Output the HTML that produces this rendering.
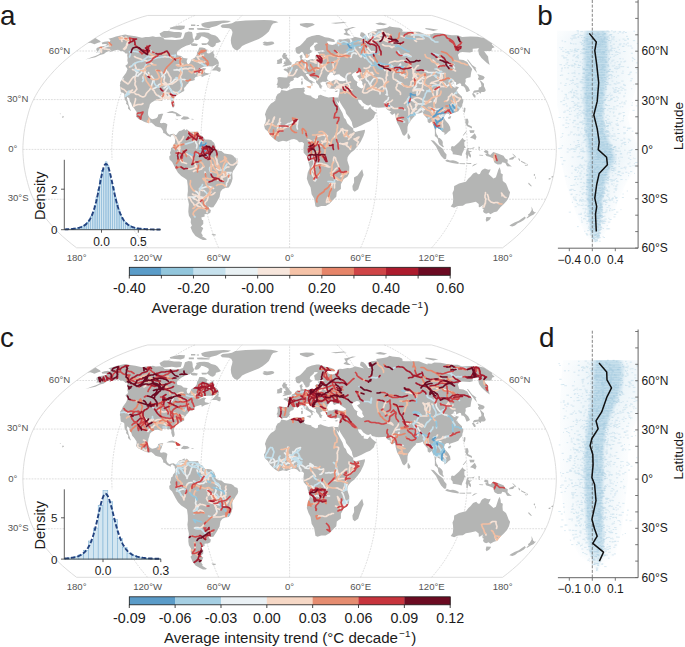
<!DOCTYPE html>
<html><head><meta charset="utf-8"><style>
    body{margin:0;background:#fff;}
    svg{display:block;font-family:"Liberation Sans",sans-serif;}
    .ml{font-size:9.6px;fill:#555;}
    .let{font-size:27.8px;fill:#1c1a1a;}
    .cb{font-size:14.3px;fill:#1a1a1a;}
    .cbl{font-size:15.1px;fill:#1a1a1a;}
    .ih{font-size:12px;fill:#1a1a1a;}
    .ihl{font-size:14.5px;fill:#1a1a1a;}
    .sp{font-size:12px;fill:#1a1a1a;}
    .lat{font-size:13.5px;fill:#1a1a1a;}
    .iy{font-size:11.6px;fill:#1a1a1a;}
    </style></head>
<body><svg width="685" height="647" viewBox="0 0 685 647">
<defs><g id="land"><path d="M101.5 42.7L104.5 41.8L108.1 41.2L109.6 41.9L110.4 40.6L110.0 39.8L108.4 38.8L112.4 37.8L116.0 36.4L120.4 35.6L125.2 34.6L128.4 35.2L131.9 35.7L135.4 36.3L138.7 37.0L142.0 37.8L145.7 37.0L148.9 37.0L152.9 36.3L155.7 37.1L159.4 36.7L163.0 37.5L164.6 39.5L170.0 39.8L175.0 39.9L180.0 39.6L183.0 38.5L184.0 36.0L185.0 32.7L188.5 31.5L192.0 32.1L192.6 34.4L192.8 37.5L194.0 39.7L193.6 41.7L189.7 44.7L186.1 45.7L181.6 48.0L177.8 51.0L176.8 53.0L177.3 55.3L181.2 55.9L183.6 57.9L187.7 58.4L186.6 61.1L187.1 63.2L188.5 64.3L190.1 62.7L191.4 59.5L195.0 57.5L196.8 54.8L197.0 52.5L198.3 50.2L199.3 47.5L202.2 47.5L205.3 48.3L205.8 49.5L207.5 49.5L206.6 52.5L207.4 53.3L209.1 53.4L211.6 52.1L213.5 50.5L213.4 53.3L214.5 54.8L214.1 57.2L216.6 58.7L217.9 60.3L218.9 62.7L218.9 63.8L216.4 64.4L212.5 66.4L208.7 66.2L204.1 66.5L201.0 68.0L197.4 70.7L199.8 69.6L203.6 68.0L206.3 68.4L204.9 69.9L204.6 71.5L205.2 72.8L209.0 73.5L210.4 73.1L207.9 74.8L205.0 75.6L201.8 77.2L201.4 75.6L200.4 75.4L197.4 76.4L195.6 77.1L194.4 78.5L194.9 80.0L192.7 80.7L189.7 81.3L188.8 82.2L188.0 83.8L186.6 84.8L186.2 85.8L184.6 87.6L184.0 88.1L184.2 89.3L184.2 90.9L182.6 91.8L180.5 92.9L178.5 94.1L175.9 95.9L174.3 97.9L173.8 100.4L174.4 102.9L174.7 105.4L173.7 107.5L172.6 107.4L172.0 105.7L171.2 103.2L171.4 101.2L170.4 99.6L168.1 100.1L166.7 98.9L163.9 98.9L162.3 99.4L162.3 101.1L160.5 101.1L157.8 100.2L154.9 100.4L151.6 102.6L149.9 104.2L149.3 107.0L148.4 109.5L148.0 112.9L148.2 115.3L149.4 117.5L151.0 118.7L152.4 119.2L155.4 118.5L156.9 117.8L157.8 116.5L158.2 114.5L161.1 113.7L163.3 113.7L162.2 116.2L161.5 118.7L160.5 120.3L159.9 122.8L161.4 123.2L163.6 122.8L165.8 123.2L167.4 124.5L166.8 127.8L166.4 130.6L167.2 132.8L169.3 134.8L171.5 134.0L173.7 133.8L175.4 135.1L175.9 135.8L174.6 136.9L173.6 136.1L172.2 134.8L170.7 136.1L170.9 137.3L169.2 136.6L167.0 135.6L164.9 133.5L163.2 133.0L163.1 131.1L161.6 128.6L160.6 127.5L158.0 127.0L155.5 126.3L153.2 124.0L151.2 122.5L148.9 123.3L146.1 122.5L143.6 121.5L141.3 120.2L138.5 119.0L136.0 116.5L136.7 113.7L136.5 111.7L135.6 110.4L133.9 107.9L132.2 106.2L131.2 103.2L129.8 101.2L129.4 98.6L127.3 96.7L126.8 99.2L128.0 101.6L128.5 104.2L129.4 106.5L130.3 109.2L131.1 110.9L130.1 110.4L128.0 108.4L128.3 105.9L126.0 103.6L126.5 102.1L125.1 100.1L124.5 97.9L124.4 95.4L124.3 93.9L123.4 92.9L120.8 91.9L120.4 88.8L120.4 87.0L119.8 85.5L120.3 83.3L120.1 82.2L121.8 79.7L122.8 77.2L126.1 72.8L127.5 69.3L126.9 68.0L125.7 66.5L125.5 65.4L127.4 64.3L128.0 62.7L127.4 61.1L127.4 59.5L127.6 57.9L127.2 55.6L127.5 53.6L125.5 53.6L124.5 52.2L123.0 51.3L120.4 51.0L118.1 49.8L115.3 50.2L112.3 51.3L109.0 52.2L111.2 50.2L113.5 49.2L109.5 50.7L106.0 52.2L103.9 54.1L100.0 55.1L95.4 57.2L91.8 57.9L88.5 58.7L85.1 59.4L88.2 58.4L91.4 57.2L95.2 55.9L98.1 54.7L100.6 53.3L99.0 53.1L96.1 53.0L97.5 51.3L96.4 50.2L96.3 49.2L96.7 48.1L99.2 47.1L101.8 46.2L105.5 45.7L107.2 44.4L105.3 44.1L102.3 44.3L102.1 43.5ZM212.1 70.5L216.4 70.5L219.3 72.0L220.7 70.7L220.5 67.8L218.1 67.0L219.0 64.3L217.0 64.6L213.8 68.3L212.4 69.4ZM166.4 113.0L169.4 111.4L172.3 111.0L176.5 112.4L179.6 114.4L181.6 115.8L179.7 116.3L176.5 116.3L175.6 113.7L172.1 113.0L169.2 112.9ZM180.9 118.8L183.6 116.3L187.7 116.7L189.8 118.5L187.4 119.2L184.8 119.8L181.5 119.3ZM175.3 118.8L178.2 119.2L177.9 119.7L175.7 119.3ZM191.5 118.7L193.8 119.0L193.5 119.5L191.5 119.5ZM175.3 134.9L176.2 135.1L178.3 132.0L179.4 131.0L181.6 130.6L183.3 129.5L184.7 128.8L184.8 131.1L184.0 132.0L185.0 130.3L186.2 130.1L186.6 129.1L188.0 130.3L189.3 131.8L192.3 131.8L195.2 131.8L198.2 131.6L198.4 132.8L199.8 135.1L202.4 136.1L203.8 138.1L205.3 139.4L208.2 139.6L211.2 140.1L212.6 141.4L214.1 142.8L215.5 146.4L215.5 148.6L217.0 149.7L218.5 150.7L221.4 151.1L224.4 153.6L227.4 154.1L231.1 154.4L233.3 155.7L234.8 157.5L237.5 158.5L238.2 161.9L237.6 164.3L235.8 166.8L234.4 169.3L233.0 171.0L232.3 173.5L232.6 178.5L231.8 181.8L230.4 185.1L228.8 187.6L225.2 188.1L222.4 189.3L220.5 191.8L219.9 195.1L219.6 197.1L217.9 200.1L216.2 202.9L214.5 205.4L213.4 207.2L210.9 207.4L208.3 206.2L209.6 209.2L210.9 210.0L210.3 212.7L208.5 213.8L204.5 214.2L204.7 216.6L201.3 217.5L202.0 219.9L203.2 220.3L203.3 224.0L200.8 226.5L203.3 228.1L202.2 230.5L201.2 232.9L203.0 235.8L201.8 236.1L203.4 236.9L207.0 239.3L205.5 240.1L203.0 240.1L199.8 238.5L195.5 236.1L192.5 232.1L190.5 227.3L191.9 225.7L190.7 222.4L191.0 219.1L188.9 215.8L188.3 211.7L188.5 208.4L188.9 204.2L187.9 199.2L187.4 195.1L187.9 190.9L187.8 185.9L187.0 180.1L185.1 178.5L181.2 176.0L178.0 172.7L175.9 169.3L173.8 165.2L172.1 161.9L169.5 159.4L169.2 156.5L170.7 155.0L169.9 152.7L170.8 150.7L171.1 148.1L172.6 146.9L173.0 145.2L174.9 143.1L175.1 139.4L174.6 137.4L175.3 136.1ZM211.4 234.1L215.7 234.2L215.6 235.6L213.0 235.6ZM281.4 89.9L286.8 91.1L289.6 89.8L293.8 88.3L297.9 87.9L301.4 88.1L303.7 87.6L304.9 88.3L304.2 89.6L305.0 90.9L303.6 92.4L305.1 94.3L307.2 94.9L311.1 95.7L311.8 97.1L315.9 98.9L318.0 97.9L318.0 95.7L320.6 94.8L322.8 95.7L325.0 96.6L328.6 97.4L332.1 97.1L334.9 97.6L338.0 97.4L339.3 100.4L338.6 103.2L336.0 99.7L337.6 103.7L340.1 108.7L342.5 112.9L344.0 117.8L345.8 119.5L347.2 123.2L349.8 125.8L353.3 128.5L353.2 130.3L355.2 132.1L358.9 131.0L365.0 129.8L364.8 132.1L363.5 136.1L360.6 141.9L357.7 146.1L354.1 150.2L351.1 152.4L348.8 155.2L347.6 157.2L347.3 160.2L348.0 162.7L349.3 166.8L349.1 173.5L347.4 176.8L343.7 179.0L340.9 184.3L340.9 188.9L336.8 192.1L336.3 196.7L333.7 199.2L329.5 203.7L325.6 205.9L321.2 205.9L317.6 207.2L315.4 206.2L315.0 203.4L314.1 198.4L311.6 194.2L310.6 187.6L308.5 183.5L306.8 178.5L307.7 172.7L309.8 167.7L308.8 163.5L307.6 159.4L307.1 156.5L303.7 152.7L303.4 148.6L304.0 143.6L302.2 141.9L299.2 142.3L297.0 139.9L294.0 138.9L291.1 139.4L286.6 141.4L282.9 140.8L278.5 142.1L275.5 140.3L272.6 137.8L270.1 135.3L267.9 131.6L265.0 129.0L263.9 125.0L265.4 122.8L266.1 118.7L265.6 116.2L264.9 114.5L266.5 109.9L268.7 106.2L271.0 103.4L273.9 101.7L275.6 99.9L275.9 97.1L277.6 94.1L280.1 92.8ZM362.2 169.3L363.6 175.1L362.0 178.5L360.1 183.5L358.2 189.3L354.7 191.8L352.8 190.1L352.4 185.9L354.1 182.6L354.0 177.6L357.5 175.6L360.2 171.8ZM281.8 89.6L280.9 88.3L279.4 87.6L277.3 87.9L277.5 85.1L276.5 85.0L277.5 82.7L277.8 80.0L277.1 78.1L278.9 76.9L282.2 77.2L284.9 77.4L287.2 77.4L287.9 75.6L288.0 73.1L286.7 71.4L283.7 70.1L283.8 68.9L285.7 68.6L287.5 68.9L287.2 67.2L289.3 67.6L291.5 66.5L291.9 65.1L293.4 64.6L294.9 63.5L295.6 61.9L297.1 61.1L298.6 61.3L300.2 60.9L300.6 60.3L300.2 57.9L299.5 56.4L300.1 55.5L302.3 54.5L302.2 56.4L302.9 56.7L301.7 58.7L303.2 59.7L305.1 59.5L307.3 60.5L310.1 59.5L312.5 59.0L314.0 59.7L315.8 58.4L315.2 55.9L316.8 54.5L319.1 55.3L318.7 53.4L317.5 52.2L320.2 51.6L322.9 51.8L324.9 51.2L323.2 50.2L320.8 50.4L316.8 51.2L314.8 50.1L314.6 48.3L314.0 46.2L316.2 44.3L318.0 43.2L316.6 42.4L314.2 42.8L313.6 44.3L311.9 45.7L310.2 47.2L309.8 49.5L311.8 50.7L311.7 52.2L309.8 53.3L309.7 55.6L309.0 57.0L307.1 58.1L305.4 57.8L305.4 56.4L304.0 54.7L303.0 52.5L301.8 51.8L300.9 52.5L299.2 53.9L297.0 53.4L296.2 52.5L295.7 50.7L295.4 48.7L296.0 47.4L298.2 46.5L299.9 45.7L301.5 44.3L303.0 42.8L304.0 41.4L305.5 39.9L306.4 38.5L307.9 37.5L309.9 36.7L311.9 36.1L314.4 35.6L316.7 34.9L319.1 35.0L322.0 36.1L325.0 37.2L328.9 37.8L333.9 39.6L335.2 41.4L333.6 41.9L328.3 41.2L326.8 41.7L328.6 44.3L332.3 45.0L334.9 44.3L337.5 42.1L337.8 39.9L339.7 39.2L342.6 39.6L347.6 38.5L349.8 38.7L352.7 37.9L354.8 36.8L359.1 37.8L364.1 38.9L360.0 35.7L360.2 34.4L360.9 32.3L363.1 32.6L365.4 34.4L368.2 38.5L370.3 38.5L368.0 35.0L367.8 33.3L369.1 33.0L371.6 31.7L377.1 31.0L376.1 29.4L383.0 28.4L387.1 27.8L389.6 26.3L392.2 27.1L399.3 27.8L402.0 29.1L402.9 31.0L401.5 31.5L405.3 31.7L410.3 31.7L416.0 31.7L419.0 31.7L423.3 33.4L427.4 35.0L427.6 33.9L431.6 34.2L434.2 33.0L440.7 33.3L446.5 34.4L451.8 35.2L457.8 35.3L462.1 37.1L465.9 36.8L470.6 36.4L477.5 36.7L483.8 37.9L492.3 43.5L491.8 44.4L494.6 47.2L492.0 48.3L491.4 51.0L486.1 51.0L484.1 51.3L486.5 54.4L488.1 56.4L488.4 59.5L488.9 61.9L489.7 65.1L486.6 62.7L481.5 57.9L479.0 54.4L478.1 50.2L478.8 48.0L476.5 48.4L472.7 48.7L472.7 51.8L469.8 52.4L462.3 52.1L459.8 52.5L457.9 54.8L459.2 59.5L463.4 60.0L467.3 61.9L469.0 65.1L472.2 69.1L471.2 72.3L470.5 77.2L467.0 78.1L465.5 78.9L465.8 81.3L464.9 83.8L468.3 87.1L470.0 90.4L467.3 91.9L466.4 92.1L465.0 87.9L463.4 86.3L461.4 86.0L461.0 83.8L459.5 83.2L457.1 84.6L456.1 85.0L456.1 82.2L454.2 81.7L452.8 84.3L451.5 84.5L451.3 85.3L453.9 87.3L455.1 87.8L456.3 86.6L459.0 87.3L457.2 89.6L456.3 91.3L459.1 94.1L462.0 96.7L462.0 98.2L463.3 99.9L463.2 102.1L462.4 104.2L461.7 107.0L459.9 108.7L458.3 111.2L455.2 112.4L452.1 113.4L450.1 114.2L449.9 115.7L448.9 113.7L446.8 113.5L444.7 115.0L443.9 117.8L445.3 120.3L448.4 123.7L450.1 127.0L450.5 130.3L448.1 132.0L446.8 133.6L444.4 135.1L444.5 132.8L442.2 131.8L440.5 129.5L437.9 128.3L436.6 127.0L435.8 131.1L436.5 134.1L437.8 135.8L438.2 137.8L439.7 138.1L442.0 140.3L442.8 141.9L442.7 144.7L444.0 147.1L443.0 147.2L439.6 144.7L438.2 141.9L438.0 139.4L437.0 137.8L434.8 136.1L434.9 132.8L434.7 128.6L432.8 123.7L431.8 121.5L429.4 123.2L427.7 122.0L427.5 118.7L425.8 117.0L423.7 114.5L422.6 112.0L420.9 112.9L418.8 113.4L415.9 113.7L415.8 115.3L413.5 117.2L410.9 120.3L410.1 121.8L408.4 123.7L407.5 127.0L407.4 132.0L406.2 134.0L404.1 136.1L402.5 134.5L400.8 130.3L399.0 126.1L397.1 122.8L395.7 117.8L395.2 114.5L394.8 113.2L392.1 114.9L389.6 112.4L391.4 111.4L388.7 110.4L387.0 109.5L385.7 107.2L382.6 107.5L378.3 107.7L375.3 107.2L372.1 106.5L370.7 104.6L368.3 105.4L366.4 104.9L363.3 103.1L361.1 99.9L358.6 99.6L358.0 100.4L359.0 102.9L361.0 105.1L361.9 106.5L363.7 106.2L363.7 108.9L365.4 109.2L367.6 109.4L370.2 106.5L370.8 108.2L372.7 109.9L375.1 112.0L376.3 112.5L374.7 115.3L373.9 117.8L372.1 119.5L370.1 121.2L366.2 122.8L361.5 125.3L356.5 127.6L353.6 128.3L352.4 125.3L351.8 122.0L349.4 117.8L346.2 113.7L345.3 110.4L342.9 107.0L340.4 102.9L339.3 100.4L338.2 97.4L338.8 95.4L339.4 92.9L339.7 90.4L339.5 88.4L337.4 88.3L335.5 89.4L334.0 88.8L331.9 88.8L329.8 88.6L327.7 87.6L326.7 85.5L325.9 83.8L325.5 82.8L327.1 82.3L329.0 81.5L329.2 81.0L332.1 81.0L334.9 79.7L337.2 79.7L339.8 81.0L343.3 81.3L345.8 80.5L345.8 78.9L343.2 77.4L340.2 75.6L339.3 74.3L336.7 74.4L334.2 75.6L332.7 74.1L334.0 73.1L331.0 72.2L329.8 72.7L329.0 74.3L327.8 75.6L327.0 78.1L327.6 80.0L329.0 81.0L327.0 81.3L325.3 82.0L324.3 81.7L322.2 81.7L321.0 82.7L320.4 82.2L320.5 83.8L321.5 85.6L322.7 86.0L321.6 86.8L321.5 88.8L320.1 88.3L319.5 87.6L318.9 85.8L318.0 84.6L317.0 83.5L316.0 82.3L316.0 80.0L314.5 78.9L312.4 77.7L310.3 76.4L308.8 74.4L307.7 74.0L306.2 74.1L305.8 75.1L307.7 77.1L309.2 79.5L311.3 80.5L314.8 82.7L314.6 83.3L312.8 82.2L312.2 83.5L313.1 84.6L312.4 85.6L311.3 86.3L311.2 83.8L310.1 82.7L308.6 81.7L306.5 80.5L304.4 78.9L303.2 76.6L301.3 75.8L299.6 76.7L297.7 77.9L295.6 77.4L293.6 77.9L293.9 79.7L292.3 81.0L290.8 81.3L289.2 83.8L289.9 85.1L288.6 87.0L286.8 88.4L283.4 88.4ZM95.4 37.9L97.7 39.6L99.9 40.8L100.8 41.9L98.1 42.8L94.4 44.3L92.6 43.5L90.3 42.8L87.4 43.2ZM282.3 66.7L285.1 66.2L288.3 65.5L291.4 64.7L291.7 62.4L290.0 61.3L289.2 59.5L287.6 57.8L286.5 56.7L287.4 54.7L285.4 54.5L285.9 53.1L283.6 53.1L282.7 54.8L282.0 56.1L282.8 57.9L283.7 59.0L285.6 58.9L285.2 60.0L285.8 61.4L283.8 61.4L284.3 63.0L283.0 63.8L285.5 64.4L283.9 64.9ZM282.0 63.2L281.9 60.5L282.6 59.4L281.9 58.4L280.6 58.3L279.0 59.5L277.1 60.0L277.2 61.4L277.2 63.0L276.5 63.8L278.8 64.1L281.5 63.2ZM264.0 45.2L266.7 45.7L270.2 45.3L273.2 44.3L274.4 43.2L273.2 41.7L271.3 41.4L267.3 41.9L264.6 41.5L262.5 42.8L264.8 43.5L262.5 43.8ZM300.0 25.3L304.1 27.1L307.2 27.8L310.7 26.5L314.9 24.7L312.5 23.2L306.0 23.0L299.8 23.8ZM344.0 34.4L347.7 35.4L350.9 35.6L347.4 33.0L347.3 31.0L350.0 29.1L354.0 27.8L356.0 27.3L352.5 27.1L347.6 28.4L344.1 29.1L346.0 32.3L343.6 33.7ZM330.7 23.0L343.5 21.9L346.9 22.8L335.7 23.7ZM378.5 24.7L384.0 25.3L387.1 24.1L380.1 22.5L375.2 23.6ZM425.3 29.1L433.3 31.0L438.3 29.7L430.1 28.4L425.6 28.0ZM477.0 34.8L477.8 34.4L479.2 35.2ZM477.1 73.1L475.4 68.3L476.7 68.3L472.2 65.1L467.9 59.5L467.0 59.8L470.3 64.3L474.5 69.9ZM479.3 80.5L480.8 80.0L483.1 79.7L484.8 77.6L483.4 76.1L477.4 74.0L479.1 77.6L477.9 77.7L478.3 79.4ZM480.7 80.5L482.4 82.2L484.0 83.8L484.0 86.3L485.0 88.3L485.8 90.3L485.0 91.4L483.8 91.9L481.3 91.9L480.7 93.8L478.6 92.1L475.9 92.4L473.3 92.9L473.0 92.1L474.3 90.4L478.4 90.1L478.9 87.5L481.0 87.1L481.5 85.5L480.8 83.0L479.9 81.0ZM472.0 93.8L473.4 93.1L475.5 95.4L475.5 97.4L474.1 97.6L472.6 95.1ZM475.9 94.1L478.1 92.6L478.6 93.8L477.1 94.6ZM463.5 111.2L464.0 107.5L465.5 107.9L465.3 110.4L464.8 112.9ZM448.0 117.5L450.4 116.0L451.3 116.8L450.1 118.8L448.2 118.7ZM407.5 136.1L407.9 133.1L410.0 136.1L410.5 137.8L408.7 139.6L407.6 138.1ZM465.4 122.8L465.4 118.7L467.9 118.7L468.6 122.0L467.9 124.5L471.8 126.5L472.1 128.6L468.9 127.0L466.8 126.1ZM470.0 137.8L472.7 135.3L474.8 133.3L476.6 136.9L475.3 139.9L473.0 138.6ZM469.3 130.3L474.5 130.3L474.0 132.8L470.3 133.1ZM462.7 135.6L465.8 131.5L466.3 132.3L463.5 135.6ZM451.1 146.9L452.0 146.1L454.0 146.6L456.9 144.1L459.1 141.9L460.5 140.3L462.6 137.8L463.7 139.4L466.0 140.8L464.3 141.9L464.4 145.6L465.9 147.7L464.2 148.1L463.7 150.6L462.2 153.6L461.6 156.0L459.1 155.2L454.7 154.4L452.8 154.2L452.6 151.9L451.1 150.2ZM430.6 140.1L433.9 140.8L438.2 145.2L443.0 149.1L444.4 151.9L446.6 154.4L446.1 159.0L444.2 159.2L441.1 156.0L438.2 151.1L436.0 146.6L433.5 143.6ZM445.1 160.7L447.1 159.4L450.0 160.5L453.0 160.2L455.9 160.9L458.8 162.4L458.5 163.9L452.1 162.9L447.0 161.7ZM459.5 163.2L465.2 163.2L465.1 164.2L459.4 164.0ZM466.6 163.2L471.3 163.0L471.2 163.9L466.5 164.0ZM471.7 166.5L474.1 164.3L477.5 163.4L476.4 164.2L473.3 166.0ZM466.4 158.5L466.4 155.2L465.6 153.9L466.7 149.4L467.9 148.1L471.9 147.9L474.8 146.9L473.4 148.7L468.9 148.6L468.2 150.2L469.6 151.1L472.3 150.9L469.6 152.4L471.0 155.2L470.9 157.7L468.7 156.0L468.1 154.1L467.7 158.7ZM483.7 151.4L485.9 150.1L488.2 150.9L488.4 154.1L490.3 155.0L493.3 152.1L498.4 153.7L503.5 155.7L505.3 158.4L507.8 159.7L507.5 162.7L510.2 165.3L512.0 166.5L507.1 166.3L505.3 163.0L502.4 162.2L501.2 164.3L497.7 164.5L494.9 163.0L494.0 161.7L493.5 158.4L489.4 156.7L486.5 156.0L485.1 154.1L487.4 153.2L485.1 152.7ZM509.3 158.5L513.9 156.5L514.9 156.9L513.0 159.4L509.2 159.7ZM479.2 154.7L483.3 154.9L482.8 155.7L479.4 155.4ZM478.5 146.4L480.0 146.9L479.3 149.4L480.5 150.7L478.8 150.2L478.5 147.7ZM454.2 185.9L455.3 185.6L459.0 183.6L462.8 182.6L465.9 181.8L468.4 178.5L470.4 176.8L473.1 173.5L476.2 172.3L478.1 174.3L479.9 174.1L481.1 171.3L482.4 169.7L484.9 168.5L488.3 169.7L490.6 169.3L490.0 171.3L488.5 174.0L491.0 176.3L493.5 178.5L495.9 177.3L497.7 171.8L498.3 169.7L499.7 167.2L500.7 170.7L500.8 173.2L502.8 174.3L502.5 177.3L502.8 181.0L506.0 183.5L507.3 186.6L508.6 190.1L510.1 192.3L509.0 196.7L506.6 200.9L503.6 204.2L500.4 207.2L497.0 211.5L493.9 212.2L490.4 214.2L488.7 212.8L486.1 213.8L484.0 212.7L483.0 211.2L483.8 208.9L482.2 208.5L483.7 206.2L481.6 207.7L483.4 204.7L479.8 207.2L478.8 206.9L478.7 203.9L475.8 201.7L470.4 202.9L465.8 203.7L462.9 205.7L457.9 205.9L454.1 207.7L450.7 206.4L452.8 203.4L453.2 199.2L453.0 195.9L452.5 193.1L453.9 190.1ZM486.4 217.0L491.2 217.3L489.4 219.9L486.5 221.7L485.7 219.9ZM531.5 206.5L532.6 208.9L533.1 210.9L534.6 212.2L536.1 212.0L533.4 214.7L531.1 215.8L526.9 218.4L526.6 217.8L528.7 215.8L527.8 214.7L529.8 213.3L531.7 210.0ZM524.9 216.6L525.8 218.1L523.9 219.9L520.6 222.1L517.7 223.2L515.0 225.5L512.3 226.6L509.4 225.7L510.9 224.4L514.5 222.4L518.8 220.7L521.9 218.6ZM306.7 86.6L311.1 85.8L310.5 88.4L306.9 87.0ZM301.0 81.5L302.9 81.2L302.8 84.3L301.3 84.8ZM301.2 79.0L302.2 78.1L302.4 79.7L302.1 80.7ZM322.4 90.8L326.3 90.8L325.9 91.3L323.1 91.1ZM334.7 91.3L337.7 90.3L337.2 91.9L335.1 91.8ZM518.4 158.0L519.5 158.7L520.3 160.4L519.6 160.9L518.6 159.7ZM521.1 160.7L525.7 163.0L525.3 163.9L521.0 161.7ZM525.0 164.7L527.0 165.3L526.5 166.0L524.8 165.5ZM526.8 163.2L528.1 165.2L527.6 165.8L526.5 163.9ZM512.5 153.4L515.2 155.7L516.3 157.4L515.6 157.5L512.6 154.2ZM534.0 173.8L535.1 174.6L534.7 176.0L533.7 175.6ZM535.4 176.3L536.0 178.6L535.4 179.1L535.1 177.0ZM528.3 182.8L529.1 183.0L531.8 185.9L531.1 186.6L528.4 183.9ZM548.8 178.3L550.7 178.1L550.2 179.6L548.5 179.5ZM551.4 176.5L553.3 176.1L552.9 177.5L551.5 177.5ZM62.1 118.0L64.1 117.0L62.9 115.7L62.3 116.7ZM59.7 114.0L60.7 114.2L60.7 113.4L60.0 113.5ZM159.5 33.5L163.9 31.0L169.0 31.0L174.1 32.0L179.2 32.0L182.1 32.8L181.4 35.7L180.7 37.5L176.3 38.1L171.9 37.2L164.6 37.9L160.9 36.4ZM169.7 27.7L174.1 26.6L179.2 25.5L185.0 25.8L184.3 28.8L180.7 29.9L175.5 29.5L170.4 29.1ZM191.0 24.6L195.3 24.6L195.3 26.0L191.0 26.0ZM196.8 24.9L199.0 24.9L199.0 26.0L196.8 26.0ZM188.8 27.9L193.9 27.9L193.9 29.7L188.8 29.7ZM196.8 28.2L201.9 27.9L209.9 29.0L209.2 30.0L201.9 30.0L197.5 29.7ZM201.2 23.7L204.8 22.5L210.7 21.6L216.5 21.0L223.8 20.6L231.0 20.9L228.0 22.5L222.0 23.3L219.4 24.5L216.5 26.0L211.4 27.3L209.2 28.2L204.8 27.5L201.9 26.0ZM196.1 33.5L199.6 32.4L204.3 32.2L208.4 32.7L211.3 34.4L215.4 35.6L217.7 37.3L219.5 39.7L220.9 41.4L218.9 42.6L216.0 43.2L215.4 45.5L213.0 47.3L210.7 46.7L208.4 44.9L206.6 43.8L208.9 40.8L208.4 39.1L206.6 37.9L203.7 36.8L201.4 36.2L200.2 37.9L198.4 39.7L196.1 40.3L194.3 39.7L195.5 36.8L196.7 35.0ZM190.8 43.5L194.0 43.2L197.8 44.0L197.0 46.0L193.0 46.1L191.0 45.2ZM201.4 43.2L207.2 42.9L206.5 44.9L202.0 44.9ZM235.3 21.5L245.6 20.5L254.4 20.2L264.0 20.1L271.0 20.3L276.0 21.2L278.4 22.3L273.1 23.6L271.4 25.8L270.5 28.0L268.8 31.5L266.1 34.1L262.6 36.8L258.8 39.0L254.4 40.7L250.0 42.5L245.6 44.2L242.1 46.0L240.0 48.6L237.3 50.6L234.7 49.5L232.5 47.3L231.2 43.8L230.8 40.3L231.2 37.2L232.1 34.6L232.5 32.0L231.2 29.3L229.0 28.3L222.0 27.8L220.5 26.0L222.5 24.5L228.0 24.0L232.0 23.2Z" fill="#b4b5b4"/><path d="M351.7 75.3L352.5 73.8L354.4 72.5L356.8 71.5L359.3 72.0L360.0 74.3L357.9 75.6L357.0 75.9L359.7 78.9L361.1 80.5L362.4 82.0L362.2 84.1L364.1 87.3L361.7 88.4L359.0 87.3L357.0 85.6L357.0 82.7L358.0 82.2L356.1 81.0L354.5 79.7L353.4 78.1L352.6 76.1Z" fill="#fff"/></g><clipPath id="clipb"><rect x="557" y="0" width="81" height="647"/></clipPath><linearGradient id="go"><stop offset="0" stop-color="#e6f1f7" stop-opacity="0.15"/><stop offset="0.5" stop-color="#d4e7f1" stop-opacity="0.75"/><stop offset="1" stop-color="#e6f1f7" stop-opacity="0.15"/></linearGradient><linearGradient id="gc"><stop offset="0" stop-color="#b3d4e6" stop-opacity="0"/><stop offset="0.18" stop-color="#b0d2e4" stop-opacity="0.85"/><stop offset="0.82" stop-color="#b0d2e4" stop-opacity="0.85"/><stop offset="1" stop-color="#b3d4e6" stop-opacity="0"/></linearGradient></defs>
<defs><clipPath id="clipa"><path d="M101.5 42.7L104.5 41.8L108.1 41.2L109.6 41.9L110.4 40.6L110.0 39.8L108.4 38.8L112.4 37.8L116.0 36.4L120.4 35.6L125.2 34.6L128.4 35.2L131.9 35.7L135.4 36.3L138.7 37.0L142.0 37.8L145.7 37.0L148.9 37.0L152.9 36.3L155.7 37.1L159.4 36.7L163.0 37.5L164.6 39.5L170.0 39.8L175.0 39.9L180.0 39.6L183.0 38.5L184.0 36.0L185.0 32.7L188.5 31.5L192.0 32.1L192.6 34.4L192.8 37.5L194.0 39.7L193.6 41.7L189.7 44.7L186.1 45.7L181.6 48.0L177.8 51.0L176.8 53.0L177.3 55.3L181.2 55.9L183.6 57.9L187.7 58.4L186.6 61.1L187.1 63.2L188.5 64.3L190.1 62.7L191.4 59.5L195.0 57.5L196.8 54.8L197.0 52.5L198.3 50.2L199.3 47.5L202.2 47.5L205.3 48.3L205.8 49.5L207.5 49.5L206.6 52.5L207.4 53.3L209.1 53.4L211.6 52.1L213.5 50.5L213.4 53.3L214.5 54.8L214.1 57.2L216.6 58.7L217.9 60.3L218.9 62.7L218.9 63.8L216.4 64.4L212.5 66.4L208.7 66.2L204.1 66.5L201.0 68.0L197.4 70.7L199.8 69.6L203.6 68.0L206.3 68.4L204.9 69.9L204.6 71.5L205.2 72.8L209.0 73.5L210.4 73.1L207.9 74.8L205.0 75.6L201.8 77.2L201.4 75.6L200.4 75.4L197.4 76.4L195.6 77.1L194.4 78.5L194.9 80.0L192.7 80.7L189.7 81.3L188.8 82.2L188.0 83.8L186.6 84.8L186.2 85.8L184.6 87.6L184.0 88.1L184.2 89.3L184.2 90.9L182.6 91.8L180.5 92.9L178.5 94.1L175.9 95.9L174.3 97.9L173.8 100.4L174.4 102.9L174.7 105.4L173.7 107.5L172.6 107.4L172.0 105.7L171.2 103.2L171.4 101.2L170.4 99.6L168.1 100.1L166.7 98.9L163.9 98.9L162.3 99.4L162.3 101.1L160.5 101.1L157.8 100.2L154.9 100.4L151.6 102.6L149.9 104.2L149.3 107.0L148.4 109.5L148.0 112.9L148.2 115.3L149.4 117.5L151.0 118.7L152.4 119.2L155.4 118.5L156.9 117.8L157.8 116.5L158.2 114.5L161.1 113.7L163.3 113.7L162.2 116.2L161.5 118.7L160.5 120.3L159.9 122.8L161.4 123.2L163.6 122.8L165.8 123.2L167.4 124.5L166.8 127.8L166.4 130.6L167.2 132.8L169.3 134.8L171.5 134.0L173.7 133.8L175.4 135.1L175.9 135.8L174.6 136.9L173.6 136.1L172.2 134.8L170.7 136.1L170.9 137.3L169.2 136.6L167.0 135.6L164.9 133.5L163.2 133.0L163.1 131.1L161.6 128.6L160.6 127.5L158.0 127.0L155.5 126.3L153.2 124.0L151.2 122.5L148.9 123.3L146.1 122.5L143.6 121.5L141.3 120.2L138.5 119.0L136.0 116.5L136.7 113.7L136.5 111.7L135.6 110.4L133.9 107.9L132.2 106.2L131.2 103.2L129.8 101.2L129.4 98.6L127.3 96.7L126.8 99.2L128.0 101.6L128.5 104.2L129.4 106.5L130.3 109.2L131.1 110.9L130.1 110.4L128.0 108.4L128.3 105.9L126.0 103.6L126.5 102.1L125.1 100.1L124.5 97.9L124.4 95.4L124.3 93.9L123.4 92.9L120.8 91.9L120.4 88.8L120.4 87.0L119.8 85.5L120.3 83.3L120.1 82.2L121.8 79.7L122.8 77.2L126.1 72.8L127.5 69.3L126.9 68.0L125.7 66.5L125.5 65.4L127.4 64.3L128.0 62.7L127.4 61.1L127.4 59.5L127.6 57.9L127.2 55.6L127.5 53.6L125.5 53.6L124.5 52.2L123.0 51.3L120.4 51.0L118.1 49.8L115.3 50.2L112.3 51.3L109.0 52.2L111.2 50.2L113.5 49.2L109.5 50.7L106.0 52.2L103.9 54.1L100.0 55.1L95.4 57.2L91.8 57.9L88.5 58.7L85.1 59.4L88.2 58.4L91.4 57.2L95.2 55.9L98.1 54.7L100.6 53.3L99.0 53.1L96.1 53.0L97.5 51.3L96.4 50.2L96.3 49.2L96.7 48.1L99.2 47.1L101.8 46.2L105.5 45.7L107.2 44.4L105.3 44.1L102.3 44.3L102.1 43.5ZM212.1 70.5L216.4 70.5L219.3 72.0L220.7 70.7L220.5 67.8L218.1 67.0L219.0 64.3L217.0 64.6L213.8 68.3L212.4 69.4ZM166.4 113.0L169.4 111.4L172.3 111.0L176.5 112.4L179.6 114.4L181.6 115.8L179.7 116.3L176.5 116.3L175.6 113.7L172.1 113.0L169.2 112.9ZM180.9 118.8L183.6 116.3L187.7 116.7L189.8 118.5L187.4 119.2L184.8 119.8L181.5 119.3ZM175.3 118.8L178.2 119.2L177.9 119.7L175.7 119.3ZM191.5 118.7L193.8 119.0L193.5 119.5L191.5 119.5ZM175.3 134.9L176.2 135.1L178.3 132.0L179.4 131.0L181.6 130.6L183.3 129.5L184.7 128.8L184.8 131.1L184.0 132.0L185.0 130.3L186.2 130.1L186.6 129.1L188.0 130.3L189.3 131.8L192.3 131.8L195.2 131.8L198.2 131.6L198.4 132.8L199.8 135.1L202.4 136.1L203.8 138.1L205.3 139.4L208.2 139.6L211.2 140.1L212.6 141.4L214.1 142.8L215.5 146.4L215.5 148.6L217.0 149.7L218.5 150.7L221.4 151.1L224.4 153.6L227.4 154.1L231.1 154.4L233.3 155.7L234.8 157.5L237.5 158.5L238.2 161.9L237.6 164.3L235.8 166.8L234.4 169.3L233.0 171.0L232.3 173.5L232.6 178.5L231.8 181.8L230.4 185.1L228.8 187.6L225.2 188.1L222.4 189.3L220.5 191.8L219.9 195.1L219.6 197.1L217.9 200.1L216.2 202.9L214.5 205.4L213.4 207.2L210.9 207.4L208.3 206.2L209.6 209.2L210.9 210.0L210.3 212.7L208.5 213.8L204.5 214.2L204.7 216.6L201.3 217.5L202.0 219.9L203.2 220.3L203.3 224.0L200.8 226.5L203.3 228.1L202.2 230.5L201.2 232.9L203.0 235.8L201.8 236.1L203.4 236.9L207.0 239.3L205.5 240.1L203.0 240.1L199.8 238.5L195.5 236.1L192.5 232.1L190.5 227.3L191.9 225.7L190.7 222.4L191.0 219.1L188.9 215.8L188.3 211.7L188.5 208.4L188.9 204.2L187.9 199.2L187.4 195.1L187.9 190.9L187.8 185.9L187.0 180.1L185.1 178.5L181.2 176.0L178.0 172.7L175.9 169.3L173.8 165.2L172.1 161.9L169.5 159.4L169.2 156.5L170.7 155.0L169.9 152.7L170.8 150.7L171.1 148.1L172.6 146.9L173.0 145.2L174.9 143.1L175.1 139.4L174.6 137.4L175.3 136.1ZM211.4 234.1L215.7 234.2L215.6 235.6L213.0 235.6ZM281.4 89.9L286.8 91.1L289.6 89.8L293.8 88.3L297.9 87.9L301.4 88.1L303.7 87.6L304.9 88.3L304.2 89.6L305.0 90.9L303.6 92.4L305.1 94.3L307.2 94.9L311.1 95.7L311.8 97.1L315.9 98.9L318.0 97.9L318.0 95.7L320.6 94.8L322.8 95.7L325.0 96.6L328.6 97.4L332.1 97.1L334.9 97.6L338.0 97.4L339.3 100.4L338.6 103.2L336.0 99.7L337.6 103.7L340.1 108.7L342.5 112.9L344.0 117.8L345.8 119.5L347.2 123.2L349.8 125.8L353.3 128.5L353.2 130.3L355.2 132.1L358.9 131.0L365.0 129.8L364.8 132.1L363.5 136.1L360.6 141.9L357.7 146.1L354.1 150.2L351.1 152.4L348.8 155.2L347.6 157.2L347.3 160.2L348.0 162.7L349.3 166.8L349.1 173.5L347.4 176.8L343.7 179.0L340.9 184.3L340.9 188.9L336.8 192.1L336.3 196.7L333.7 199.2L329.5 203.7L325.6 205.9L321.2 205.9L317.6 207.2L315.4 206.2L315.0 203.4L314.1 198.4L311.6 194.2L310.6 187.6L308.5 183.5L306.8 178.5L307.7 172.7L309.8 167.7L308.8 163.5L307.6 159.4L307.1 156.5L303.7 152.7L303.4 148.6L304.0 143.6L302.2 141.9L299.2 142.3L297.0 139.9L294.0 138.9L291.1 139.4L286.6 141.4L282.9 140.8L278.5 142.1L275.5 140.3L272.6 137.8L270.1 135.3L267.9 131.6L265.0 129.0L263.9 125.0L265.4 122.8L266.1 118.7L265.6 116.2L264.9 114.5L266.5 109.9L268.7 106.2L271.0 103.4L273.9 101.7L275.6 99.9L275.9 97.1L277.6 94.1L280.1 92.8ZM362.2 169.3L363.6 175.1L362.0 178.5L360.1 183.5L358.2 189.3L354.7 191.8L352.8 190.1L352.4 185.9L354.1 182.6L354.0 177.6L357.5 175.6L360.2 171.8ZM281.8 89.6L280.9 88.3L279.4 87.6L277.3 87.9L277.5 85.1L276.5 85.0L277.5 82.7L277.8 80.0L277.1 78.1L278.9 76.9L282.2 77.2L284.9 77.4L287.2 77.4L287.9 75.6L288.0 73.1L286.7 71.4L283.7 70.1L283.8 68.9L285.7 68.6L287.5 68.9L287.2 67.2L289.3 67.6L291.5 66.5L291.9 65.1L293.4 64.6L294.9 63.5L295.6 61.9L297.1 61.1L298.6 61.3L300.2 60.9L300.6 60.3L300.2 57.9L299.5 56.4L300.1 55.5L302.3 54.5L302.2 56.4L302.9 56.7L301.7 58.7L303.2 59.7L305.1 59.5L307.3 60.5L310.1 59.5L312.5 59.0L314.0 59.7L315.8 58.4L315.2 55.9L316.8 54.5L319.1 55.3L318.7 53.4L317.5 52.2L320.2 51.6L322.9 51.8L324.9 51.2L323.2 50.2L320.8 50.4L316.8 51.2L314.8 50.1L314.6 48.3L314.0 46.2L316.2 44.3L318.0 43.2L316.6 42.4L314.2 42.8L313.6 44.3L311.9 45.7L310.2 47.2L309.8 49.5L311.8 50.7L311.7 52.2L309.8 53.3L309.7 55.6L309.0 57.0L307.1 58.1L305.4 57.8L305.4 56.4L304.0 54.7L303.0 52.5L301.8 51.8L300.9 52.5L299.2 53.9L297.0 53.4L296.2 52.5L295.7 50.7L295.4 48.7L296.0 47.4L298.2 46.5L299.9 45.7L301.5 44.3L303.0 42.8L304.0 41.4L305.5 39.9L306.4 38.5L307.9 37.5L309.9 36.7L311.9 36.1L314.4 35.6L316.7 34.9L319.1 35.0L322.0 36.1L325.0 37.2L328.9 37.8L333.9 39.6L335.2 41.4L333.6 41.9L328.3 41.2L326.8 41.7L328.6 44.3L332.3 45.0L334.9 44.3L337.5 42.1L337.8 39.9L339.7 39.2L342.6 39.6L347.6 38.5L349.8 38.7L352.7 37.9L354.8 36.8L359.1 37.8L364.1 38.9L360.0 35.7L360.2 34.4L360.9 32.3L363.1 32.6L365.4 34.4L368.2 38.5L370.3 38.5L368.0 35.0L367.8 33.3L369.1 33.0L371.6 31.7L377.1 31.0L376.1 29.4L383.0 28.4L387.1 27.8L389.6 26.3L392.2 27.1L399.3 27.8L402.0 29.1L402.9 31.0L401.5 31.5L405.3 31.7L410.3 31.7L416.0 31.7L419.0 31.7L423.3 33.4L427.4 35.0L427.6 33.9L431.6 34.2L434.2 33.0L440.7 33.3L446.5 34.4L451.8 35.2L457.8 35.3L462.1 37.1L465.9 36.8L470.6 36.4L477.5 36.7L483.8 37.9L492.3 43.5L491.8 44.4L494.6 47.2L492.0 48.3L491.4 51.0L486.1 51.0L484.1 51.3L486.5 54.4L488.1 56.4L488.4 59.5L488.9 61.9L489.7 65.1L486.6 62.7L481.5 57.9L479.0 54.4L478.1 50.2L478.8 48.0L476.5 48.4L472.7 48.7L472.7 51.8L469.8 52.4L462.3 52.1L459.8 52.5L457.9 54.8L459.2 59.5L463.4 60.0L467.3 61.9L469.0 65.1L472.2 69.1L471.2 72.3L470.5 77.2L467.0 78.1L465.5 78.9L465.8 81.3L464.9 83.8L468.3 87.1L470.0 90.4L467.3 91.9L466.4 92.1L465.0 87.9L463.4 86.3L461.4 86.0L461.0 83.8L459.5 83.2L457.1 84.6L456.1 85.0L456.1 82.2L454.2 81.7L452.8 84.3L451.5 84.5L451.3 85.3L453.9 87.3L455.1 87.8L456.3 86.6L459.0 87.3L457.2 89.6L456.3 91.3L459.1 94.1L462.0 96.7L462.0 98.2L463.3 99.9L463.2 102.1L462.4 104.2L461.7 107.0L459.9 108.7L458.3 111.2L455.2 112.4L452.1 113.4L450.1 114.2L449.9 115.7L448.9 113.7L446.8 113.5L444.7 115.0L443.9 117.8L445.3 120.3L448.4 123.7L450.1 127.0L450.5 130.3L448.1 132.0L446.8 133.6L444.4 135.1L444.5 132.8L442.2 131.8L440.5 129.5L437.9 128.3L436.6 127.0L435.8 131.1L436.5 134.1L437.8 135.8L438.2 137.8L439.7 138.1L442.0 140.3L442.8 141.9L442.7 144.7L444.0 147.1L443.0 147.2L439.6 144.7L438.2 141.9L438.0 139.4L437.0 137.8L434.8 136.1L434.9 132.8L434.7 128.6L432.8 123.7L431.8 121.5L429.4 123.2L427.7 122.0L427.5 118.7L425.8 117.0L423.7 114.5L422.6 112.0L420.9 112.9L418.8 113.4L415.9 113.7L415.8 115.3L413.5 117.2L410.9 120.3L410.1 121.8L408.4 123.7L407.5 127.0L407.4 132.0L406.2 134.0L404.1 136.1L402.5 134.5L400.8 130.3L399.0 126.1L397.1 122.8L395.7 117.8L395.2 114.5L394.8 113.2L392.1 114.9L389.6 112.4L391.4 111.4L388.7 110.4L387.0 109.5L385.7 107.2L382.6 107.5L378.3 107.7L375.3 107.2L372.1 106.5L370.7 104.6L368.3 105.4L366.4 104.9L363.3 103.1L361.1 99.9L358.6 99.6L358.0 100.4L359.0 102.9L361.0 105.1L361.9 106.5L363.7 106.2L363.7 108.9L365.4 109.2L367.6 109.4L370.2 106.5L370.8 108.2L372.7 109.9L375.1 112.0L376.3 112.5L374.7 115.3L373.9 117.8L372.1 119.5L370.1 121.2L366.2 122.8L361.5 125.3L356.5 127.6L353.6 128.3L352.4 125.3L351.8 122.0L349.4 117.8L346.2 113.7L345.3 110.4L342.9 107.0L340.4 102.9L339.3 100.4L338.2 97.4L338.8 95.4L339.4 92.9L339.7 90.4L339.5 88.4L337.4 88.3L335.5 89.4L334.0 88.8L331.9 88.8L329.8 88.6L327.7 87.6L326.7 85.5L325.9 83.8L325.5 82.8L327.1 82.3L329.0 81.5L329.2 81.0L332.1 81.0L334.9 79.7L337.2 79.7L339.8 81.0L343.3 81.3L345.8 80.5L345.8 78.9L343.2 77.4L340.2 75.6L339.3 74.3L336.7 74.4L334.2 75.6L332.7 74.1L334.0 73.1L331.0 72.2L329.8 72.7L329.0 74.3L327.8 75.6L327.0 78.1L327.6 80.0L329.0 81.0L327.0 81.3L325.3 82.0L324.3 81.7L322.2 81.7L321.0 82.7L320.4 82.2L320.5 83.8L321.5 85.6L322.7 86.0L321.6 86.8L321.5 88.8L320.1 88.3L319.5 87.6L318.9 85.8L318.0 84.6L317.0 83.5L316.0 82.3L316.0 80.0L314.5 78.9L312.4 77.7L310.3 76.4L308.8 74.4L307.7 74.0L306.2 74.1L305.8 75.1L307.7 77.1L309.2 79.5L311.3 80.5L314.8 82.7L314.6 83.3L312.8 82.2L312.2 83.5L313.1 84.6L312.4 85.6L311.3 86.3L311.2 83.8L310.1 82.7L308.6 81.7L306.5 80.5L304.4 78.9L303.2 76.6L301.3 75.8L299.6 76.7L297.7 77.9L295.6 77.4L293.6 77.9L293.9 79.7L292.3 81.0L290.8 81.3L289.2 83.8L289.9 85.1L288.6 87.0L286.8 88.4L283.4 88.4ZM95.4 37.9L97.7 39.6L99.9 40.8L100.8 41.9L98.1 42.8L94.4 44.3L92.6 43.5L90.3 42.8L87.4 43.2ZM282.3 66.7L285.1 66.2L288.3 65.5L291.4 64.7L291.7 62.4L290.0 61.3L289.2 59.5L287.6 57.8L286.5 56.7L287.4 54.7L285.4 54.5L285.9 53.1L283.6 53.1L282.7 54.8L282.0 56.1L282.8 57.9L283.7 59.0L285.6 58.9L285.2 60.0L285.8 61.4L283.8 61.4L284.3 63.0L283.0 63.8L285.5 64.4L283.9 64.9ZM282.0 63.2L281.9 60.5L282.6 59.4L281.9 58.4L280.6 58.3L279.0 59.5L277.1 60.0L277.2 61.4L277.2 63.0L276.5 63.8L278.8 64.1L281.5 63.2ZM264.0 45.2L266.7 45.7L270.2 45.3L273.2 44.3L274.4 43.2L273.2 41.7L271.3 41.4L267.3 41.9L264.6 41.5L262.5 42.8L264.8 43.5L262.5 43.8ZM300.0 25.3L304.1 27.1L307.2 27.8L310.7 26.5L314.9 24.7L312.5 23.2L306.0 23.0L299.8 23.8ZM344.0 34.4L347.7 35.4L350.9 35.6L347.4 33.0L347.3 31.0L350.0 29.1L354.0 27.8L356.0 27.3L352.5 27.1L347.6 28.4L344.1 29.1L346.0 32.3L343.6 33.7ZM330.7 23.0L343.5 21.9L346.9 22.8L335.7 23.7ZM378.5 24.7L384.0 25.3L387.1 24.1L380.1 22.5L375.2 23.6ZM425.3 29.1L433.3 31.0L438.3 29.7L430.1 28.4L425.6 28.0ZM477.0 34.8L477.8 34.4L479.2 35.2ZM477.1 73.1L475.4 68.3L476.7 68.3L472.2 65.1L467.9 59.5L467.0 59.8L470.3 64.3L474.5 69.9ZM479.3 80.5L480.8 80.0L483.1 79.7L484.8 77.6L483.4 76.1L477.4 74.0L479.1 77.6L477.9 77.7L478.3 79.4ZM480.7 80.5L482.4 82.2L484.0 83.8L484.0 86.3L485.0 88.3L485.8 90.3L485.0 91.4L483.8 91.9L481.3 91.9L480.7 93.8L478.6 92.1L475.9 92.4L473.3 92.9L473.0 92.1L474.3 90.4L478.4 90.1L478.9 87.5L481.0 87.1L481.5 85.5L480.8 83.0L479.9 81.0ZM472.0 93.8L473.4 93.1L475.5 95.4L475.5 97.4L474.1 97.6L472.6 95.1ZM475.9 94.1L478.1 92.6L478.6 93.8L477.1 94.6ZM463.5 111.2L464.0 107.5L465.5 107.9L465.3 110.4L464.8 112.9ZM448.0 117.5L450.4 116.0L451.3 116.8L450.1 118.8L448.2 118.7ZM407.5 136.1L407.9 133.1L410.0 136.1L410.5 137.8L408.7 139.6L407.6 138.1ZM465.4 122.8L465.4 118.7L467.9 118.7L468.6 122.0L467.9 124.5L471.8 126.5L472.1 128.6L468.9 127.0L466.8 126.1ZM470.0 137.8L472.7 135.3L474.8 133.3L476.6 136.9L475.3 139.9L473.0 138.6ZM469.3 130.3L474.5 130.3L474.0 132.8L470.3 133.1ZM462.7 135.6L465.8 131.5L466.3 132.3L463.5 135.6ZM451.1 146.9L452.0 146.1L454.0 146.6L456.9 144.1L459.1 141.9L460.5 140.3L462.6 137.8L463.7 139.4L466.0 140.8L464.3 141.9L464.4 145.6L465.9 147.7L464.2 148.1L463.7 150.6L462.2 153.6L461.6 156.0L459.1 155.2L454.7 154.4L452.8 154.2L452.6 151.9L451.1 150.2ZM430.6 140.1L433.9 140.8L438.2 145.2L443.0 149.1L444.4 151.9L446.6 154.4L446.1 159.0L444.2 159.2L441.1 156.0L438.2 151.1L436.0 146.6L433.5 143.6ZM445.1 160.7L447.1 159.4L450.0 160.5L453.0 160.2L455.9 160.9L458.8 162.4L458.5 163.9L452.1 162.9L447.0 161.7ZM459.5 163.2L465.2 163.2L465.1 164.2L459.4 164.0ZM466.6 163.2L471.3 163.0L471.2 163.9L466.5 164.0ZM471.7 166.5L474.1 164.3L477.5 163.4L476.4 164.2L473.3 166.0ZM466.4 158.5L466.4 155.2L465.6 153.9L466.7 149.4L467.9 148.1L471.9 147.9L474.8 146.9L473.4 148.7L468.9 148.6L468.2 150.2L469.6 151.1L472.3 150.9L469.6 152.4L471.0 155.2L470.9 157.7L468.7 156.0L468.1 154.1L467.7 158.7ZM483.7 151.4L485.9 150.1L488.2 150.9L488.4 154.1L490.3 155.0L493.3 152.1L498.4 153.7L503.5 155.7L505.3 158.4L507.8 159.7L507.5 162.7L510.2 165.3L512.0 166.5L507.1 166.3L505.3 163.0L502.4 162.2L501.2 164.3L497.7 164.5L494.9 163.0L494.0 161.7L493.5 158.4L489.4 156.7L486.5 156.0L485.1 154.1L487.4 153.2L485.1 152.7ZM509.3 158.5L513.9 156.5L514.9 156.9L513.0 159.4L509.2 159.7ZM479.2 154.7L483.3 154.9L482.8 155.7L479.4 155.4ZM478.5 146.4L480.0 146.9L479.3 149.4L480.5 150.7L478.8 150.2L478.5 147.7ZM454.2 185.9L455.3 185.6L459.0 183.6L462.8 182.6L465.9 181.8L468.4 178.5L470.4 176.8L473.1 173.5L476.2 172.3L478.1 174.3L479.9 174.1L481.1 171.3L482.4 169.7L484.9 168.5L488.3 169.7L490.6 169.3L490.0 171.3L488.5 174.0L491.0 176.3L493.5 178.5L495.9 177.3L497.7 171.8L498.3 169.7L499.7 167.2L500.7 170.7L500.8 173.2L502.8 174.3L502.5 177.3L502.8 181.0L506.0 183.5L507.3 186.6L508.6 190.1L510.1 192.3L509.0 196.7L506.6 200.9L503.6 204.2L500.4 207.2L497.0 211.5L493.9 212.2L490.4 214.2L488.7 212.8L486.1 213.8L484.0 212.7L483.0 211.2L483.8 208.9L482.2 208.5L483.7 206.2L481.6 207.7L483.4 204.7L479.8 207.2L478.8 206.9L478.7 203.9L475.8 201.7L470.4 202.9L465.8 203.7L462.9 205.7L457.9 205.9L454.1 207.7L450.7 206.4L452.8 203.4L453.2 199.2L453.0 195.9L452.5 193.1L453.9 190.1ZM486.4 217.0L491.2 217.3L489.4 219.9L486.5 221.7L485.7 219.9ZM531.5 206.5L532.6 208.9L533.1 210.9L534.6 212.2L536.1 212.0L533.4 214.7L531.1 215.8L526.9 218.4L526.6 217.8L528.7 215.8L527.8 214.7L529.8 213.3L531.7 210.0ZM524.9 216.6L525.8 218.1L523.9 219.9L520.6 222.1L517.7 223.2L515.0 225.5L512.3 226.6L509.4 225.7L510.9 224.4L514.5 222.4L518.8 220.7L521.9 218.6ZM306.7 86.6L311.1 85.8L310.5 88.4L306.9 87.0ZM301.0 81.5L302.9 81.2L302.8 84.3L301.3 84.8ZM301.2 79.0L302.2 78.1L302.4 79.7L302.1 80.7ZM322.4 90.8L326.3 90.8L325.9 91.3L323.1 91.1ZM334.7 91.3L337.7 90.3L337.2 91.9L335.1 91.8ZM518.4 158.0L519.5 158.7L520.3 160.4L519.6 160.9L518.6 159.7ZM521.1 160.7L525.7 163.0L525.3 163.9L521.0 161.7ZM525.0 164.7L527.0 165.3L526.5 166.0L524.8 165.5ZM526.8 163.2L528.1 165.2L527.6 165.8L526.5 163.9ZM512.5 153.4L515.2 155.7L516.3 157.4L515.6 157.5L512.6 154.2ZM534.0 173.8L535.1 174.6L534.7 176.0L533.7 175.6ZM535.4 176.3L536.0 178.6L535.4 179.1L535.1 177.0ZM528.3 182.8L529.1 183.0L531.8 185.9L531.1 186.6L528.4 183.9ZM548.8 178.3L550.7 178.1L550.2 179.6L548.5 179.5ZM551.4 176.5L553.3 176.1L552.9 177.5L551.5 177.5ZM62.1 118.0L64.1 117.0L62.9 115.7L62.3 116.7ZM59.7 114.0L60.7 114.2L60.7 113.4L60.0 113.5ZM159.5 33.5L163.9 31.0L169.0 31.0L174.1 32.0L179.2 32.0L182.1 32.8L181.4 35.7L180.7 37.5L176.3 38.1L171.9 37.2L164.6 37.9L160.9 36.4ZM169.7 27.7L174.1 26.6L179.2 25.5L185.0 25.8L184.3 28.8L180.7 29.9L175.5 29.5L170.4 29.1ZM191.0 24.6L195.3 24.6L195.3 26.0L191.0 26.0ZM196.8 24.9L199.0 24.9L199.0 26.0L196.8 26.0ZM188.8 27.9L193.9 27.9L193.9 29.7L188.8 29.7ZM196.8 28.2L201.9 27.9L209.9 29.0L209.2 30.0L201.9 30.0L197.5 29.7ZM201.2 23.7L204.8 22.5L210.7 21.6L216.5 21.0L223.8 20.6L231.0 20.9L228.0 22.5L222.0 23.3L219.4 24.5L216.5 26.0L211.4 27.3L209.2 28.2L204.8 27.5L201.9 26.0ZM196.1 33.5L199.6 32.4L204.3 32.2L208.4 32.7L211.3 34.4L215.4 35.6L217.7 37.3L219.5 39.7L220.9 41.4L218.9 42.6L216.0 43.2L215.4 45.5L213.0 47.3L210.7 46.7L208.4 44.9L206.6 43.8L208.9 40.8L208.4 39.1L206.6 37.9L203.7 36.8L201.4 36.2L200.2 37.9L198.4 39.7L196.1 40.3L194.3 39.7L195.5 36.8L196.7 35.0ZM190.8 43.5L194.0 43.2L197.8 44.0L197.0 46.0L193.0 46.1L191.0 45.2ZM201.4 43.2L207.2 42.9L206.5 44.9L202.0 44.9ZM235.3 21.5L245.6 20.5L254.4 20.2L264.0 20.1L271.0 20.3L276.0 21.2L278.4 22.3L273.1 23.6L271.4 25.8L270.5 28.0L268.8 31.5L266.1 34.1L262.6 36.8L258.8 39.0L254.4 40.7L250.0 42.5L245.6 44.2L242.1 46.0L240.0 48.6L237.3 50.6L234.7 49.5L232.5 47.3L231.2 43.8L230.8 40.3L231.2 37.2L232.1 34.6L232.5 32.0L231.2 29.3L229.0 28.3L222.0 27.8L220.5 26.0L222.5 24.5L228.0 24.0L232.0 23.2Z"/></clipPath><clipPath id="clipc"><path d="M101.5 372.2L104.5 371.3L108.1 370.7L109.6 371.4L110.4 370.1L110.0 369.3L108.4 368.3L112.4 367.3L116.0 365.9L120.4 365.1L125.2 364.1L128.4 364.7L131.9 365.2L135.4 365.8L138.7 366.5L142.0 367.3L145.7 366.5L148.9 366.5L152.9 365.8L155.7 366.6L159.4 366.2L163.0 367.0L164.6 369.0L170.0 369.3L175.0 369.4L180.0 369.1L183.0 368.0L184.0 365.5L185.0 362.2L188.5 361.0L192.0 361.6L192.6 363.9L192.8 367.0L194.0 369.2L193.6 371.2L189.7 374.2L186.1 375.2L181.6 377.5L177.8 380.5L176.8 382.5L177.3 384.8L181.2 385.4L183.6 387.4L187.7 387.9L186.6 390.6L187.1 392.7L188.5 393.8L190.1 392.2L191.4 389.0L195.0 387.0L196.8 384.3L197.0 382.0L198.3 379.7L199.3 377.0L202.2 377.0L205.3 377.8L205.8 379.0L207.5 379.0L206.6 382.0L207.4 382.8L209.1 382.9L211.6 381.6L213.5 380.0L213.4 382.8L214.5 384.3L214.1 386.7L216.6 388.2L217.9 389.8L218.9 392.2L218.9 393.3L216.4 393.9L212.5 395.9L208.7 395.7L204.1 396.0L201.0 397.5L197.4 400.2L199.8 399.1L203.6 397.5L206.3 397.9L204.9 399.4L204.6 401.0L205.2 402.3L209.0 403.0L210.4 402.6L207.9 404.3L205.0 405.1L201.8 406.7L201.4 405.1L200.4 404.9L197.4 405.9L195.6 406.6L194.4 408.0L194.9 409.5L192.7 410.2L189.7 410.8L188.8 411.7L188.0 413.3L186.6 414.3L186.2 415.3L184.6 417.1L184.0 417.6L184.2 418.8L184.2 420.4L182.6 421.3L180.5 422.4L178.5 423.6L175.9 425.4L174.3 427.4L173.8 429.9L174.4 432.4L174.7 434.9L173.7 437.0L172.6 436.9L172.0 435.2L171.2 432.7L171.4 430.7L170.4 429.1L168.1 429.6L166.7 428.4L163.9 428.4L162.3 428.9L162.3 430.6L160.5 430.6L157.8 429.7L154.9 429.9L151.6 432.1L149.9 433.7L149.3 436.5L148.4 439.0L148.0 442.4L148.2 444.8L149.4 447.0L151.0 448.2L152.4 448.7L155.4 448.0L156.9 447.3L157.8 446.0L158.2 444.0L161.1 443.2L163.3 443.2L162.2 445.7L161.5 448.2L160.5 449.8L159.9 452.3L161.4 452.7L163.6 452.3L165.8 452.7L167.4 454.0L166.8 457.3L166.4 460.1L167.2 462.3L169.3 464.3L171.5 463.5L173.7 463.3L175.4 464.6L175.9 465.3L174.6 466.4L173.6 465.6L172.2 464.3L170.7 465.6L170.9 466.8L169.2 466.1L167.0 465.1L164.9 463.0L163.2 462.5L163.1 460.6L161.6 458.1L160.6 457.0L158.0 456.5L155.5 455.8L153.2 453.5L151.2 452.0L148.9 452.8L146.1 452.0L143.6 451.0L141.3 449.7L138.5 448.5L136.0 446.0L136.7 443.2L136.5 441.2L135.6 439.9L133.9 437.4L132.2 435.7L131.2 432.7L129.8 430.7L129.4 428.1L127.3 426.2L126.8 428.7L128.0 431.1L128.5 433.7L129.4 436.0L130.3 438.7L131.1 440.4L130.1 439.9L128.0 437.9L128.3 435.4L126.0 433.1L126.5 431.6L125.1 429.6L124.5 427.4L124.4 424.9L124.3 423.4L123.4 422.4L120.8 421.4L120.4 418.3L120.4 416.5L119.8 415.0L120.3 412.8L120.1 411.7L121.8 409.2L122.8 406.7L126.1 402.3L127.5 398.8L126.9 397.5L125.7 396.0L125.5 394.9L127.4 393.8L128.0 392.2L127.4 390.6L127.4 389.0L127.6 387.4L127.2 385.1L127.5 383.1L125.5 383.1L124.5 381.7L123.0 380.8L120.4 380.5L118.1 379.3L115.3 379.7L112.3 380.8L109.0 381.7L111.2 379.7L113.5 378.7L109.5 380.2L106.0 381.7L103.9 383.6L100.0 384.6L95.4 386.7L91.8 387.4L88.5 388.2L85.1 388.9L88.2 387.9L91.4 386.7L95.2 385.4L98.1 384.2L100.6 382.8L99.0 382.6L96.1 382.5L97.5 380.8L96.4 379.7L96.3 378.7L96.7 377.6L99.2 376.6L101.8 375.7L105.5 375.2L107.2 373.9L105.3 373.6L102.3 373.8L102.1 373.0ZM212.1 400.0L216.4 400.0L219.3 401.5L220.7 400.2L220.5 397.3L218.1 396.5L219.0 393.8L217.0 394.1L213.8 397.8L212.4 398.9ZM166.4 442.5L169.4 440.9L172.3 440.5L176.5 441.9L179.6 443.9L181.6 445.3L179.7 445.8L176.5 445.8L175.6 443.2L172.1 442.5L169.2 442.4ZM180.9 448.3L183.6 445.8L187.7 446.2L189.8 448.0L187.4 448.7L184.8 449.3L181.5 448.8ZM175.3 448.3L178.2 448.7L177.9 449.2L175.7 448.8ZM191.5 448.2L193.8 448.5L193.5 449.0L191.5 449.0ZM175.3 464.4L176.2 464.6L178.3 461.5L179.4 460.5L181.6 460.1L183.3 459.0L184.7 458.3L184.8 460.6L184.0 461.5L185.0 459.8L186.2 459.6L186.6 458.6L188.0 459.8L189.3 461.3L192.3 461.3L195.2 461.3L198.2 461.1L198.4 462.3L199.8 464.6L202.4 465.6L203.8 467.6L205.3 468.9L208.2 469.1L211.2 469.6L212.6 470.9L214.1 472.3L215.5 475.9L215.5 478.1L217.0 479.2L218.5 480.2L221.4 480.6L224.4 483.1L227.4 483.6L231.1 483.9L233.3 485.2L234.8 487.0L237.5 488.0L238.2 491.4L237.6 493.8L235.8 496.3L234.4 498.8L233.0 500.5L232.3 503.0L232.6 508.0L231.8 511.3L230.4 514.6L228.8 517.1L225.2 517.6L222.4 518.8L220.5 521.3L219.9 524.6L219.6 526.6L217.9 529.6L216.2 532.4L214.5 534.9L213.4 536.7L210.9 536.9L208.3 535.7L209.6 538.7L210.9 539.5L210.3 542.2L208.5 543.3L204.5 543.7L204.7 546.1L201.3 547.0L202.0 549.4L203.2 549.8L203.3 553.5L200.8 556.0L203.3 557.6L202.2 560.0L201.2 562.4L203.0 565.3L201.8 565.6L203.4 566.4L207.0 568.8L205.5 569.6L203.0 569.6L199.8 568.0L195.5 565.6L192.5 561.6L190.5 556.8L191.9 555.2L190.7 551.9L191.0 548.6L188.9 545.3L188.3 541.2L188.5 537.9L188.9 533.7L187.9 528.7L187.4 524.6L187.9 520.4L187.8 515.4L187.0 509.6L185.1 508.0L181.2 505.5L178.0 502.2L175.9 498.8L173.8 494.7L172.1 491.4L169.5 488.9L169.2 486.0L170.7 484.5L169.9 482.2L170.8 480.2L171.1 477.6L172.6 476.4L173.0 474.7L174.9 472.6L175.1 468.9L174.6 466.9L175.3 465.6ZM211.4 563.6L215.7 563.7L215.6 565.1L213.0 565.1ZM281.4 419.4L286.8 420.6L289.6 419.3L293.8 417.8L297.9 417.4L301.4 417.6L303.7 417.1L304.9 417.8L304.2 419.1L305.0 420.4L303.6 421.9L305.1 423.8L307.2 424.4L311.1 425.2L311.8 426.6L315.9 428.4L318.0 427.4L318.0 425.2L320.6 424.3L322.8 425.2L325.0 426.1L328.6 426.9L332.1 426.6L334.9 427.1L338.0 426.9L339.3 429.9L338.6 432.7L336.0 429.2L337.6 433.2L340.1 438.2L342.5 442.4L344.0 447.3L345.8 449.0L347.2 452.7L349.8 455.3L353.3 458.0L353.2 459.8L355.2 461.6L358.9 460.5L365.0 459.3L364.8 461.6L363.5 465.6L360.6 471.4L357.7 475.6L354.1 479.7L351.1 481.9L348.8 484.7L347.6 486.7L347.3 489.7L348.0 492.2L349.3 496.3L349.1 503.0L347.4 506.3L343.7 508.5L340.9 513.8L340.9 518.4L336.8 521.6L336.3 526.2L333.7 528.7L329.5 533.2L325.6 535.4L321.2 535.4L317.6 536.7L315.4 535.7L315.0 532.9L314.1 527.9L311.6 523.7L310.6 517.1L308.5 513.0L306.8 508.0L307.7 502.2L309.8 497.2L308.8 493.0L307.6 488.9L307.1 486.0L303.7 482.2L303.4 478.1L304.0 473.1L302.2 471.4L299.2 471.8L297.0 469.4L294.0 468.4L291.1 468.9L286.6 470.9L282.9 470.3L278.5 471.6L275.5 469.8L272.6 467.3L270.1 464.8L267.9 461.1L265.0 458.5L263.9 454.5L265.4 452.3L266.1 448.2L265.6 445.7L264.9 444.0L266.5 439.4L268.7 435.7L271.0 432.9L273.9 431.2L275.6 429.4L275.9 426.6L277.6 423.6L280.1 422.3ZM362.2 498.8L363.6 504.6L362.0 508.0L360.1 513.0L358.2 518.8L354.7 521.3L352.8 519.6L352.4 515.4L354.1 512.1L354.0 507.1L357.5 505.1L360.2 501.3ZM281.8 419.1L280.9 417.8L279.4 417.1L277.3 417.4L277.5 414.6L276.5 414.5L277.5 412.2L277.8 409.5L277.1 407.6L278.9 406.4L282.2 406.7L284.9 406.9L287.2 406.9L287.9 405.1L288.0 402.6L286.7 400.9L283.7 399.6L283.8 398.4L285.7 398.1L287.5 398.4L287.2 396.7L289.3 397.1L291.5 396.0L291.9 394.6L293.4 394.1L294.9 393.0L295.6 391.4L297.1 390.6L298.6 390.8L300.2 390.4L300.6 389.8L300.2 387.4L299.5 385.9L300.1 385.0L302.3 384.0L302.2 385.9L302.9 386.2L301.7 388.2L303.2 389.2L305.1 389.0L307.3 390.0L310.1 389.0L312.5 388.5L314.0 389.2L315.8 387.9L315.2 385.4L316.8 384.0L319.1 384.8L318.7 382.9L317.5 381.7L320.2 381.1L322.9 381.3L324.9 380.7L323.2 379.7L320.8 379.9L316.8 380.7L314.8 379.6L314.6 377.8L314.0 375.7L316.2 373.8L318.0 372.7L316.6 371.9L314.2 372.3L313.6 373.8L311.9 375.2L310.2 376.7L309.8 379.0L311.8 380.2L311.7 381.7L309.8 382.8L309.7 385.1L309.0 386.5L307.1 387.6L305.4 387.3L305.4 385.9L304.0 384.2L303.0 382.0L301.8 381.3L300.9 382.0L299.2 383.4L297.0 382.9L296.2 382.0L295.7 380.2L295.4 378.2L296.0 376.9L298.2 376.0L299.9 375.2L301.5 373.8L303.0 372.3L304.0 370.9L305.5 369.4L306.4 368.0L307.9 367.0L309.9 366.2L311.9 365.6L314.4 365.1L316.7 364.4L319.1 364.5L322.0 365.6L325.0 366.7L328.9 367.3L333.9 369.1L335.2 370.9L333.6 371.4L328.3 370.7L326.8 371.2L328.6 373.8L332.3 374.5L334.9 373.8L337.5 371.6L337.8 369.4L339.7 368.7L342.6 369.1L347.6 368.0L349.8 368.2L352.7 367.4L354.8 366.3L359.1 367.3L364.1 368.4L360.0 365.2L360.2 363.9L360.9 361.8L363.1 362.1L365.4 363.9L368.2 368.0L370.3 368.0L368.0 364.5L367.8 362.8L369.1 362.5L371.6 361.2L377.1 360.5L376.1 358.9L383.0 357.9L387.1 357.3L389.6 355.8L392.2 356.6L399.3 357.3L402.0 358.6L402.9 360.5L401.5 361.0L405.3 361.2L410.3 361.2L416.0 361.2L419.0 361.2L423.3 362.9L427.4 364.5L427.6 363.4L431.6 363.7L434.2 362.5L440.7 362.8L446.5 363.9L451.8 364.7L457.8 364.8L462.1 366.6L465.9 366.3L470.6 365.9L477.5 366.2L483.8 367.4L492.3 373.0L491.8 373.9L494.6 376.7L492.0 377.8L491.4 380.5L486.1 380.5L484.1 380.8L486.5 383.9L488.1 385.9L488.4 389.0L488.9 391.4L489.7 394.6L486.6 392.2L481.5 387.4L479.0 383.9L478.1 379.7L478.8 377.5L476.5 377.9L472.7 378.2L472.7 381.3L469.8 381.9L462.3 381.6L459.8 382.0L457.9 384.3L459.2 389.0L463.4 389.5L467.3 391.4L469.0 394.6L472.2 398.6L471.2 401.8L470.5 406.7L467.0 407.6L465.5 408.4L465.8 410.8L464.9 413.3L468.3 416.6L470.0 419.9L467.3 421.4L466.4 421.6L465.0 417.4L463.4 415.8L461.4 415.5L461.0 413.3L459.5 412.7L457.1 414.1L456.1 414.5L456.1 411.7L454.2 411.2L452.8 413.8L451.5 414.0L451.3 414.8L453.9 416.8L455.1 417.3L456.3 416.1L459.0 416.8L457.2 419.1L456.3 420.8L459.1 423.6L462.0 426.2L462.0 427.7L463.3 429.4L463.2 431.6L462.4 433.7L461.7 436.5L459.9 438.2L458.3 440.7L455.2 441.9L452.1 442.9L450.1 443.7L449.9 445.2L448.9 443.2L446.8 443.0L444.7 444.5L443.9 447.3L445.3 449.8L448.4 453.2L450.1 456.5L450.5 459.8L448.1 461.5L446.8 463.1L444.4 464.6L444.5 462.3L442.2 461.3L440.5 459.0L437.9 457.8L436.6 456.5L435.8 460.6L436.5 463.6L437.8 465.3L438.2 467.3L439.7 467.6L442.0 469.8L442.8 471.4L442.7 474.2L444.0 476.6L443.0 476.7L439.6 474.2L438.2 471.4L438.0 468.9L437.0 467.3L434.8 465.6L434.9 462.3L434.7 458.1L432.8 453.2L431.8 451.0L429.4 452.7L427.7 451.5L427.5 448.2L425.8 446.5L423.7 444.0L422.6 441.5L420.9 442.4L418.8 442.9L415.9 443.2L415.8 444.8L413.5 446.7L410.9 449.8L410.1 451.3L408.4 453.2L407.5 456.5L407.4 461.5L406.2 463.5L404.1 465.6L402.5 464.0L400.8 459.8L399.0 455.6L397.1 452.3L395.7 447.3L395.2 444.0L394.8 442.7L392.1 444.4L389.6 441.9L391.4 440.9L388.7 439.9L387.0 439.0L385.7 436.7L382.6 437.0L378.3 437.2L375.3 436.7L372.1 436.0L370.7 434.1L368.3 434.9L366.4 434.4L363.3 432.6L361.1 429.4L358.6 429.1L358.0 429.9L359.0 432.4L361.0 434.6L361.9 436.0L363.7 435.7L363.7 438.4L365.4 438.7L367.6 438.9L370.2 436.0L370.8 437.7L372.7 439.4L375.1 441.5L376.3 442.0L374.7 444.8L373.9 447.3L372.1 449.0L370.1 450.7L366.2 452.3L361.5 454.8L356.5 457.1L353.6 457.8L352.4 454.8L351.8 451.5L349.4 447.3L346.2 443.2L345.3 439.9L342.9 436.5L340.4 432.4L339.3 429.9L338.2 426.9L338.8 424.9L339.4 422.4L339.7 419.9L339.5 417.9L337.4 417.8L335.5 418.9L334.0 418.3L331.9 418.3L329.8 418.1L327.7 417.1L326.7 415.0L325.9 413.3L325.5 412.3L327.1 411.8L329.0 411.0L329.2 410.5L332.1 410.5L334.9 409.2L337.2 409.2L339.8 410.5L343.3 410.8L345.8 410.0L345.8 408.4L343.2 406.9L340.2 405.1L339.3 403.8L336.7 403.9L334.2 405.1L332.7 403.6L334.0 402.6L331.0 401.7L329.8 402.2L329.0 403.8L327.8 405.1L327.0 407.6L327.6 409.5L329.0 410.5L327.0 410.8L325.3 411.5L324.3 411.2L322.2 411.2L321.0 412.2L320.4 411.7L320.5 413.3L321.5 415.1L322.7 415.5L321.6 416.3L321.5 418.3L320.1 417.8L319.5 417.1L318.9 415.3L318.0 414.1L317.0 413.0L316.0 411.8L316.0 409.5L314.5 408.4L312.4 407.2L310.3 405.9L308.8 403.9L307.7 403.5L306.2 403.6L305.8 404.6L307.7 406.6L309.2 409.0L311.3 410.0L314.8 412.2L314.6 412.8L312.8 411.7L312.2 413.0L313.1 414.1L312.4 415.1L311.3 415.8L311.2 413.3L310.1 412.2L308.6 411.2L306.5 410.0L304.4 408.4L303.2 406.1L301.3 405.3L299.6 406.2L297.7 407.4L295.6 406.9L293.6 407.4L293.9 409.2L292.3 410.5L290.8 410.8L289.2 413.3L289.9 414.6L288.6 416.5L286.8 417.9L283.4 417.9ZM95.4 367.4L97.7 369.1L99.9 370.3L100.8 371.4L98.1 372.3L94.4 373.8L92.6 373.0L90.3 372.3L87.4 372.7ZM282.3 396.2L285.1 395.7L288.3 395.0L291.4 394.2L291.7 391.9L290.0 390.8L289.2 389.0L287.6 387.3L286.5 386.2L287.4 384.2L285.4 384.0L285.9 382.6L283.6 382.6L282.7 384.3L282.0 385.6L282.8 387.4L283.7 388.5L285.6 388.4L285.2 389.5L285.8 390.9L283.8 390.9L284.3 392.5L283.0 393.3L285.5 393.9L283.9 394.4ZM282.0 392.7L281.9 390.0L282.6 388.9L281.9 387.9L280.6 387.8L279.0 389.0L277.1 389.5L277.2 390.9L277.2 392.5L276.5 393.3L278.8 393.6L281.5 392.7ZM264.0 374.7L266.7 375.2L270.2 374.8L273.2 373.8L274.4 372.7L273.2 371.2L271.3 370.9L267.3 371.4L264.6 371.0L262.5 372.3L264.8 373.0L262.5 373.3ZM300.0 354.8L304.1 356.6L307.2 357.3L310.7 356.0L314.9 354.2L312.5 352.7L306.0 352.5L299.8 353.3ZM344.0 363.9L347.7 364.9L350.9 365.1L347.4 362.5L347.3 360.5L350.0 358.6L354.0 357.3L356.0 356.8L352.5 356.6L347.6 357.9L344.1 358.6L346.0 361.8L343.6 363.2ZM330.7 352.5L343.5 351.4L346.9 352.3L335.7 353.2ZM378.5 354.2L384.0 354.8L387.1 353.6L380.1 352.0L375.2 353.1ZM425.3 358.6L433.3 360.5L438.3 359.2L430.1 357.9L425.6 357.5ZM477.0 364.3L477.8 363.9L479.2 364.7ZM477.1 402.6L475.4 397.8L476.7 397.8L472.2 394.6L467.9 389.0L467.0 389.3L470.3 393.8L474.5 399.4ZM479.3 410.0L480.8 409.5L483.1 409.2L484.8 407.1L483.4 405.6L477.4 403.5L479.1 407.1L477.9 407.2L478.3 408.9ZM480.7 410.0L482.4 411.7L484.0 413.3L484.0 415.8L485.0 417.8L485.8 419.8L485.0 420.9L483.8 421.4L481.3 421.4L480.7 423.3L478.6 421.6L475.9 421.9L473.3 422.4L473.0 421.6L474.3 419.9L478.4 419.6L478.9 417.0L481.0 416.6L481.5 415.0L480.8 412.5L479.9 410.5ZM472.0 423.3L473.4 422.6L475.5 424.9L475.5 426.9L474.1 427.1L472.6 424.6ZM475.9 423.6L478.1 422.1L478.6 423.3L477.1 424.1ZM463.5 440.7L464.0 437.0L465.5 437.4L465.3 439.9L464.8 442.4ZM448.0 447.0L450.4 445.5L451.3 446.3L450.1 448.3L448.2 448.2ZM407.5 465.6L407.9 462.6L410.0 465.6L410.5 467.3L408.7 469.1L407.6 467.6ZM465.4 452.3L465.4 448.2L467.9 448.2L468.6 451.5L467.9 454.0L471.8 456.0L472.1 458.1L468.9 456.5L466.8 455.6ZM470.0 467.3L472.7 464.8L474.8 462.8L476.6 466.4L475.3 469.4L473.0 468.1ZM469.3 459.8L474.5 459.8L474.0 462.3L470.3 462.6ZM462.7 465.1L465.8 461.0L466.3 461.8L463.5 465.1ZM451.1 476.4L452.0 475.6L454.0 476.1L456.9 473.6L459.1 471.4L460.5 469.8L462.6 467.3L463.7 468.9L466.0 470.3L464.3 471.4L464.4 475.1L465.9 477.2L464.2 477.6L463.7 480.1L462.2 483.1L461.6 485.5L459.1 484.7L454.7 483.9L452.8 483.7L452.6 481.4L451.1 479.7ZM430.6 469.6L433.9 470.3L438.2 474.7L443.0 478.6L444.4 481.4L446.6 483.9L446.1 488.5L444.2 488.7L441.1 485.5L438.2 480.6L436.0 476.1L433.5 473.1ZM445.1 490.2L447.1 488.9L450.0 490.0L453.0 489.7L455.9 490.4L458.8 491.9L458.5 493.4L452.1 492.4L447.0 491.2ZM459.5 492.7L465.2 492.7L465.1 493.7L459.4 493.5ZM466.6 492.7L471.3 492.5L471.2 493.4L466.5 493.5ZM471.7 496.0L474.1 493.8L477.5 492.9L476.4 493.7L473.3 495.5ZM466.4 488.0L466.4 484.7L465.6 483.4L466.7 478.9L467.9 477.6L471.9 477.4L474.8 476.4L473.4 478.2L468.9 478.1L468.2 479.7L469.6 480.6L472.3 480.4L469.6 481.9L471.0 484.7L470.9 487.2L468.7 485.5L468.1 483.6L467.7 488.2ZM483.7 480.9L485.9 479.6L488.2 480.4L488.4 483.6L490.3 484.5L493.3 481.6L498.4 483.2L503.5 485.2L505.3 487.9L507.8 489.2L507.5 492.2L510.2 494.8L512.0 496.0L507.1 495.8L505.3 492.5L502.4 491.7L501.2 493.8L497.7 494.0L494.9 492.5L494.0 491.2L493.5 487.9L489.4 486.2L486.5 485.5L485.1 483.6L487.4 482.7L485.1 482.2ZM509.3 488.0L513.9 486.0L514.9 486.4L513.0 488.9L509.2 489.2ZM479.2 484.2L483.3 484.4L482.8 485.2L479.4 484.9ZM478.5 475.9L480.0 476.4L479.3 478.9L480.5 480.2L478.8 479.7L478.5 477.2ZM454.2 515.4L455.3 515.1L459.0 513.1L462.8 512.1L465.9 511.3L468.4 508.0L470.4 506.3L473.1 503.0L476.2 501.8L478.1 503.8L479.9 503.6L481.1 500.8L482.4 499.2L484.9 498.0L488.3 499.2L490.6 498.8L490.0 500.8L488.5 503.5L491.0 505.8L493.5 508.0L495.9 506.8L497.7 501.3L498.3 499.2L499.7 496.7L500.7 500.2L500.8 502.7L502.8 503.8L502.5 506.8L502.8 510.5L506.0 513.0L507.3 516.1L508.6 519.6L510.1 521.8L509.0 526.2L506.6 530.4L503.6 533.7L500.4 536.7L497.0 541.0L493.9 541.7L490.4 543.7L488.7 542.3L486.1 543.3L484.0 542.2L483.0 540.7L483.8 538.4L482.2 538.0L483.7 535.7L481.6 537.2L483.4 534.2L479.8 536.7L478.8 536.4L478.7 533.4L475.8 531.2L470.4 532.4L465.8 533.2L462.9 535.2L457.9 535.4L454.1 537.2L450.7 535.9L452.8 532.9L453.2 528.7L453.0 525.4L452.5 522.6L453.9 519.6ZM486.4 546.5L491.2 546.8L489.4 549.4L486.5 551.2L485.7 549.4ZM531.5 536.0L532.6 538.4L533.1 540.4L534.6 541.7L536.1 541.5L533.4 544.2L531.1 545.3L526.9 547.9L526.6 547.3L528.7 545.3L527.8 544.2L529.8 542.8L531.7 539.5ZM524.9 546.1L525.8 547.6L523.9 549.4L520.6 551.6L517.7 552.7L515.0 555.0L512.3 556.1L509.4 555.2L510.9 553.9L514.5 551.9L518.8 550.2L521.9 548.1ZM306.7 416.1L311.1 415.3L310.5 417.9L306.9 416.5ZM301.0 411.0L302.9 410.7L302.8 413.8L301.3 414.3ZM301.2 408.5L302.2 407.6L302.4 409.2L302.1 410.2ZM322.4 420.3L326.3 420.3L325.9 420.8L323.1 420.6ZM334.7 420.8L337.7 419.8L337.2 421.4L335.1 421.3ZM518.4 487.5L519.5 488.2L520.3 489.9L519.6 490.4L518.6 489.2ZM521.1 490.2L525.7 492.5L525.3 493.4L521.0 491.2ZM525.0 494.2L527.0 494.8L526.5 495.5L524.8 495.0ZM526.8 492.7L528.1 494.7L527.6 495.3L526.5 493.4ZM512.5 482.9L515.2 485.2L516.3 486.9L515.6 487.0L512.6 483.7ZM534.0 503.3L535.1 504.1L534.7 505.5L533.7 505.1ZM535.4 505.8L536.0 508.1L535.4 508.6L535.1 506.5ZM528.3 512.3L529.1 512.5L531.8 515.4L531.1 516.1L528.4 513.4ZM548.8 507.8L550.7 507.6L550.2 509.1L548.5 509.0ZM551.4 506.0L553.3 505.6L552.9 507.0L551.5 507.0ZM62.1 447.5L64.1 446.5L62.9 445.2L62.3 446.2ZM59.7 443.5L60.7 443.7L60.7 442.9L60.0 443.0ZM159.5 363.0L163.9 360.5L169.0 360.5L174.1 361.5L179.2 361.5L182.1 362.3L181.4 365.2L180.7 367.0L176.3 367.6L171.9 366.7L164.6 367.4L160.9 365.9ZM169.7 357.2L174.1 356.1L179.2 355.0L185.0 355.3L184.3 358.3L180.7 359.4L175.5 359.0L170.4 358.6ZM191.0 354.1L195.3 354.1L195.3 355.5L191.0 355.5ZM196.8 354.4L199.0 354.4L199.0 355.5L196.8 355.5ZM188.8 357.4L193.9 357.4L193.9 359.2L188.8 359.2ZM196.8 357.7L201.9 357.4L209.9 358.5L209.2 359.5L201.9 359.5L197.5 359.2ZM201.2 353.2L204.8 352.0L210.7 351.1L216.5 350.5L223.8 350.1L231.0 350.4L228.0 352.0L222.0 352.8L219.4 354.0L216.5 355.5L211.4 356.8L209.2 357.7L204.8 357.0L201.9 355.5ZM196.1 363.0L199.6 361.9L204.3 361.7L208.4 362.2L211.3 363.9L215.4 365.1L217.7 366.8L219.5 369.2L220.9 370.9L218.9 372.1L216.0 372.7L215.4 375.0L213.0 376.8L210.7 376.2L208.4 374.4L206.6 373.3L208.9 370.3L208.4 368.6L206.6 367.4L203.7 366.3L201.4 365.7L200.2 367.4L198.4 369.2L196.1 369.8L194.3 369.2L195.5 366.3L196.7 364.5ZM190.8 373.0L194.0 372.7L197.8 373.5L197.0 375.5L193.0 375.6L191.0 374.7ZM201.4 372.7L207.2 372.4L206.5 374.4L202.0 374.4ZM235.3 351.0L245.6 350.0L254.4 349.7L264.0 349.6L271.0 349.8L276.0 350.7L278.4 351.8L273.1 353.1L271.4 355.3L270.5 357.5L268.8 361.0L266.1 363.6L262.6 366.3L258.8 368.5L254.4 370.2L250.0 372.0L245.6 373.7L242.1 375.5L240.0 378.1L237.3 380.1L234.7 379.0L232.5 376.8L231.2 373.3L230.8 369.8L231.2 366.7L232.1 364.1L232.5 361.5L231.2 358.8L229.0 357.8L222.0 357.3L220.5 355.5L222.5 354.0L228.0 353.5L232.0 352.7Z"/></clipPath></defs>
<path d="M76.57 247.8L71.62 243.97L66.86 240.07L62.33 236.12L58.09 232.13L54.19 228.09L50.54 224.02L47.03 219.93L43.76 215.81L40.8 211.68L38.13 207.53L35.7 203.38L33.52 199.23L31.63 195.08L30.05 190.92L28.74 186.77L27.6 182.62L26.5 178.47L25.51 174.31L24.71 170.16L24.07 166.01L23.58 161.86L23.22 157.7L22.98 153.55L22.85 149.4L22.98 145.25L23.22 141.1L23.58 136.94L24.07 132.79L24.71 128.64L25.51 124.49L26.5 120.33L27.6 116.18L28.74 112.03L30.05 107.88L31.63 103.72L33.52 99.57L35.7 95.42L38.13 91.27L40.8 87.12L43.76 82.99L47.03 78.87L50.54 74.78L54.19 70.71L58.09 66.67L62.33 62.68L66.86 58.73L71.62 54.83L76.57 51L81.69 47.23L86.95 43.54L92.34 39.93L97.91 36.41L103.74 33L110.02 29.7L116.85 26.53L123.87 23.57L130.64 20.92L136.96 18.65L142.68 16.81L147.63 15.45L431.57 15.45L436.52 16.81L442.24 18.65L448.56 20.92L455.33 23.57L462.35 26.53L469.18 29.7L475.46 33L481.29 36.41L486.86 39.93L492.25 43.54L497.51 47.23L502.63 51L507.58 54.83L512.34 58.73L516.87 62.68L521.11 66.67L525.01 70.71L528.66 74.78L532.17 78.87L535.44 82.99L538.4 87.12L541.07 91.27L543.5 95.42L545.68 99.57L547.57 103.72L549.15 107.88L550.46 112.03L551.6 116.18L552.7 120.33L553.69 124.49L554.49 128.64L555.13 132.79L555.62 136.94L555.98 141.1L556.22 145.25L556.35 149.4L556.22 153.55L555.98 157.7L555.62 161.86L555.13 166.01L554.49 170.16L553.69 174.31L552.7 178.47L551.6 182.62L550.46 186.77L549.15 190.92L547.57 195.08L545.68 199.23L543.5 203.38L541.07 207.53L538.4 211.68L535.44 215.81L532.17 219.93L528.66 224.02L525.01 228.09L521.11 232.13L516.87 236.12L512.34 240.07L507.58 243.97L502.63 247.8Z" fill="none" stroke="#d4d4d4" stroke-width="0.8"/>
<path d="M76.57 51H502.63M33.52 99.57H545.68M22.85 149.4H556.35M33.52 199.23H545.68M147.58 247.8L144.28 243.97L141.11 240.07L138.08 236.12L135.26 232.13L132.66 228.09L130.22 224.02L127.89 219.93L125.71 215.81L123.74 211.68L121.95 207.53L120.33 203.38L118.88 199.23L117.62 195.08L116.57 190.92L115.7 186.77L114.93 182.62L114.2 178.47L113.54 174.31L113.01 170.16L112.58 166.01L112.26 161.86L112.01 157.7L111.85 153.55L111.76 149.4L111.85 145.25L112.01 141.1L112.26 136.94L112.58 132.79L113.01 128.64L113.54 124.49L114.2 120.33L114.93 116.18L115.7 112.03L116.57 107.88L117.62 103.72L118.88 99.57L120.33 95.42L121.95 91.27L123.74 87.12L125.71 82.99L127.89 78.87L130.22 74.78L132.66 70.71L135.26 66.67L138.08 62.68L141.11 58.73L144.28 54.83L147.58 51L150.99 47.23L154.5 43.54L158.09 39.93L161.81 36.41L165.69 33L169.88 29.7L174.43 26.53L179.11 23.57L183.63 20.92L187.84 18.65L191.65 16.81L194.96 15.45M218.59 247.8L216.94 243.97L215.35 240.07L213.84 236.12L212.43 232.13L211.13 228.09L209.91 224.02L208.74 219.93L207.65 215.81L206.67 211.68L205.78 207.53L204.97 203.38L204.24 199.23L203.61 195.08L203.08 190.92L202.65 186.77L202.27 182.62L201.9 178.47L201.57 174.31L201.3 170.16L201.09 166.01L200.93 161.86L200.81 157.7L200.73 153.55L200.68 149.4L200.73 145.25L200.81 141.1L200.93 136.94L201.09 132.79L201.3 128.64L201.57 124.49L201.9 120.33L202.27 116.18L202.65 112.03L203.08 107.88L203.61 103.72L204.24 99.57L204.97 95.42L205.78 91.27L206.67 87.12L207.65 82.99L208.74 78.87L209.91 74.78L211.13 70.71L212.43 66.67L213.84 62.68L215.35 58.73L216.94 54.83L218.59 51L220.3 47.23L222.05 43.54L223.85 39.93L225.7 36.41L227.65 33L229.74 29.7L232.02 26.53L234.36 23.57L236.61 20.92L238.72 18.65L240.63 16.81L242.28 15.45M289.6 247.8L289.6 243.97L289.6 240.07L289.6 236.12L289.6 232.13L289.6 228.09L289.6 224.02L289.6 219.93L289.6 215.81L289.6 211.68L289.6 207.53L289.6 203.38L289.6 199.23L289.6 195.08L289.6 190.92L289.6 186.77L289.6 182.62L289.6 178.47L289.6 174.31L289.6 170.16L289.6 166.01L289.6 161.86L289.6 157.7L289.6 153.55L289.6 149.4L289.6 145.25L289.6 141.1L289.6 136.94L289.6 132.79L289.6 128.64L289.6 124.49L289.6 120.33L289.6 116.18L289.6 112.03L289.6 107.88L289.6 103.72L289.6 99.57L289.6 95.42L289.6 91.27L289.6 87.12L289.6 82.99L289.6 78.87L289.6 74.78L289.6 70.71L289.6 66.67L289.6 62.68L289.6 58.73L289.6 54.83L289.6 51L289.6 47.23L289.6 43.54L289.6 39.93L289.6 36.41L289.6 33L289.6 29.7L289.6 26.53L289.6 23.57L289.6 20.92L289.6 18.65L289.6 16.81L289.6 15.45M360.61 247.8L362.26 243.97L363.85 240.07L365.36 236.12L366.77 232.13L368.07 228.09L369.29 224.02L370.46 219.93L371.55 215.81L372.53 211.68L373.42 207.53L374.23 203.38L374.96 199.23L375.59 195.08L376.12 190.92L376.55 186.77L376.93 182.62L377.3 178.47L377.63 174.31L377.9 170.16L378.11 166.01L378.27 161.86L378.39 157.7L378.47 153.55L378.52 149.4L378.47 145.25L378.39 141.1L378.27 136.94L378.11 132.79L377.9 128.64L377.63 124.49L377.3 120.33L376.93 116.18L376.55 112.03L376.12 107.88L375.59 103.72L374.96 99.57L374.23 95.42L373.42 91.27L372.53 87.12L371.55 82.99L370.46 78.87L369.29 74.78L368.07 70.71L366.77 66.67L365.36 62.68L363.85 58.73L362.26 54.83L360.61 51L358.9 47.23L357.15 43.54L355.35 39.93L353.5 36.41L351.55 33L349.46 29.7L347.18 26.53L344.84 23.57L342.59 20.92L340.48 18.65L338.57 16.81L336.92 15.45M431.62 247.8L434.92 243.97L438.09 240.07L441.12 236.12L443.94 232.13L446.54 228.09L448.98 224.02L451.31 219.93L453.49 215.81L455.46 211.68L457.25 207.53L458.87 203.38L460.32 199.23L461.58 195.08L462.63 190.92L463.5 186.77L464.27 182.62L465 178.47L465.66 174.31L466.19 170.16L466.62 166.01L466.94 161.86L467.19 157.7L467.35 153.55L467.44 149.4L467.35 145.25L467.19 141.1L466.94 136.94L466.62 132.79L466.19 128.64L465.66 124.49L465 120.33L464.27 116.18L463.5 112.03L462.63 107.88L461.58 103.72L460.32 99.57L458.87 95.42L457.25 91.27L455.46 87.12L453.49 82.99L451.31 78.87L448.98 74.78L446.54 70.71L443.94 66.67L441.12 62.68L438.09 58.73L434.92 54.83L431.62 51L428.21 47.23L424.7 43.54L421.11 39.93L417.39 36.41L413.51 33L409.32 29.7L404.77 26.53L400.09 23.57L395.57 20.92L391.36 18.65L387.55 16.81L384.24 15.45" fill="none" stroke="#c8c8c8" stroke-width="0.6" stroke-dasharray="1.8 1.1"/>
<use href="#land" y="0"/>
<g clip-path="url(#clipa)"><g transform="scale(.5)" fill="none" stroke-width="3.2" stroke-linecap="round" stroke-linejoin="round"><path d="M220 92l-4 0-3 1-3 1-3 2M207 96l-3 1-3 1-2 3-2 3-3 2M194 106l4-1 3-2M243 73l2 2 3 2M248 77l3 1M360 117l3-2-1 3-2 3M360 121l1 4 0 3 2 3M269 139l2 3 2 2 3 1-2-2-1-3-1-4M364 142l-4 0-3-2-3-1M354 139l-3 1-3 0 3 0M351 140l3 0 4 0M358 140l3-2M361 138l3 0 4-1 3 0M371 137l3 0M296 153l-1-3M295 150l-3-3-2-2M290 145l-3-2M335 144l-2-2-1-3M274 140l-1 3 0 4M273 147l-1 3-1 3M372 161l-3-2-4 0M365 159l-3 0-3 0-3-1-4 0-3 1-2 3M347 162l-2 2M345 164l-3 2-3 2-3 1-3 3-2 2-3 2M326 198l4-1 3 0 4 0 3 1 3 0M343 198l4 0-4 0-3 0-3-1-3-2-2-3-1-3 0-4 0-3M331 182l2-3 2-3M329 184l-3-2M303 171l1-3 1-3 1-4M266 155l3-2M269 153l3-1M272 152l4 0 2-3M278 149l3-2M281 147l2-2 2-3 3-2M245 160l1-3M297 145l1 4M327 150l2 3 0 3-1 3M337 172l2 4 2 2 1 3 2 3 3 2M347 186l3 2 2 3-3-3M307 177l3-1M310 176l3-2 2-2 3-3 3-1 3-1 4 0M308 164l0-3-1-4-2-2-2-3M323 156l1-3 2-3 2-2 3-2 1-3M316 191l3 2M319 193l3 2M352 191l-2 3M350 194l-2 2M334 197l3-2 1-3 0-3M338 189l1 3 0 3M339 195l0 4M299 246l0-4M299 242l-1-3M393 296l1-4 0-3-2-3M392 286l-1-3-1-3M390 280l-2-3-1-3-3-3M384 271l-2-2M385 265l2 3 4 1 2 2 3 1M396 272l2 3M398 275l3 2M401 280l-1 3-1 4M387 283l0-4M387 279l-1-3 0-3M386 273l-1-3-2-3M445 339l3-1M452 347l3-2 3 0 4 0M462 345l-2 3-2 2M457 354l0 3M457 357l-1 4-1 3-2 2M453 366l0 4-2 3M452 347l3 1 3 3 2 2 0 4M476 321l-1 3 0 3M475 327l-1-3 1-3-2-4M406 398l0 3M386 396l3 2M376 395l3-1M379 394l4 0M383 394l3 0 3 0 4-2M393 392l3 0 3 2 3 0 4 1 3 0 3-2M398 391l-1-3-2-3-3-2M392 383l-3-1M409 406l1 4 1 3 1 3 2 3 1 3M415 422l-1 3 0-3M413 419l-3-2-3-1M411 347l-1-3M405 381l3 0M408 381l3 3M399 378l2-2M401 376l4 0M405 376l3-1M408 375l3-1M411 374l4-1M415 373l3 0 3 1 3 1 3 2M658 170l3 2M641 120l3-1 3 0M609 143l3 2M592 142l2-3M616 111l3-2M608 137l2-3 1-4 0-3 0-3-1-4M610 120l1 4 0 3M611 127l2 3 2 3 1 3M636 139l2-3-1-3 0-4 1-3 1-3M703 86l-1-4-1-3 2 3-1 3-2 3M719 95l3 0M722 95l3-1 4-1 2-2M720 112l2 2 2-3 3-2 3 0M730 109l0 3 0 4M730 116l-2-3M728 113l-1-3M700 112l2 3 1-4 1-3 3-2M707 106l3 0 3 2M744 65l-3 1 2 3 0 3-1 3 0 4M749 104l-3-1-4 1-2-3M740 101l-2-2-2-3M784 95l-3-2M770 71l-3-1-4 0-3 1M760 71l-3 1-4 0-3 2-3 1M747 75l-3-1M744 74l-4-1-2-2 2-3M767 137l2-3 2-3M810 135l-3-1M892 125l3 1 3 2 3 2 3 1 3 2M907 133l2 3M798 88l-3-2-4 0-2-2-4-1-2-2M783 81l-3-2-4 0-1-3-3-2M765 66l-3-1M799 86l-3-2-3-1M843 72l-3-1M840 71l-3-2-3 0-3 0-4 0-3 1-3-1M867 145l-4 0M863 145l-3 0-4 0-3-2-3-1-3-1M797 166l3 1 3 1M793 161l3 2M796 163l3 2 3 1M790 139l-2-3M788 136l-4 0-3 1-3 2-2 2M741 171l0-3M741 168l1-3 2-3M744 162l2-3 2-2 4-1 3 0 4 0 3 1M770 174l2 3 1 3 1 3M774 183l0 4M774 187l1 3-3-1M760 184l0 4M810 156l0-4M810 152l-3-2M807 150l-3-2M804 148l-2-2-2-3-2-3-3-1M795 139l-3-1M801 165l3 2M831 168l-1 3M793 140l2-3 2-3 2-3 2-3 0 4 1 3 1 3M791 142l3 1M794 143l3 1M797 144l2 3 3 2M745 174l-3-3-2-2-2-3M738 166l-1-3-3-2-2-3 0-3 1-4M733 151l0-3 2-3 2-2M767 180l1-4 1-3M769 172l0-4M775 139l-1-3-2-3-3-2 1 3-1 4 1 3M769 172l-3 1M742 145l2 2M698 147l-3 1M695 148l-2 3-1 3 0 4 1 3M693 161l1 3 2 3 2 3 1 3 0 3-3 2-2 3M778 216l-4-1M774 215l-3-1 1-3-1-3-2-3 2-2 3-2 2-2M776 199l1-4M778 216l-3-3M775 213l-2-2-3-2 0-4M779 212l3 1 3 2M807 218l3 2M819 194l2 3 3 2 3 1 2 3 3 2 2 3-3 2M823 227l2-3M825 224l1-3M826 221l2-3 3-2M831 216l1-3M818 195l2 2 2 3 3 1 3 2M851 208l-3 0M848 208l-4 0-3 0M841 208l-3 0-4-1M830 161l-2 2M829 158l-3-2M886 230l0 3-1 3M885 236l-3-2M882 234l-3-2-3-2-3 0-3-1M886 230l-3 1M857 215l4 0 3 2 3 1M867 218l3 0 3 1 4-1 3 0 3-1M843 216l2 3 1 3M849 151l-3 0M846 154l-3 3-2 2M841 159l-3 2-3 2-1 3-2 3-3 1M909 220l-4 1-3 0M902 221l-3 0-4-1M895 220l-3-1-3-1M889 218l-3 2-4 1-1 3-2 3 0 3M844 213l0 3-2 3M842 219l-3 2-2 2-3 3-3 2-3 1 4-1M832 228l-3 2 1-3 3-2 3-2M836 223l2-3 2-2 3-1M843 217l3 0M846 217l3 2M834 190l0-4M834 186l1-3-2-3M833 180l-3-2-2-2 3-2 2-2M906 161l2 3-3 2-3 2M902 168l-3 1-3 2M896 171l-3 2-3 0M890 173l-3 0M863 223l2 3 1 3 1 3M867 232l1 4M856 172l-4-1-3-2-3-2-3-1-3 1-3-2M832 162l-2-3-2-2 3 0M878 170l1 3-2 4-1 3-2 3 0 3M874 186l0 3M874 189l0 4-2 3M872 196l-1 3-2 2M869 201l-1 4M869 215l0 3-2 3M867 221l-3 2M893 174l-2-3-1-3-3-2-3-1-2-3-3-3M879 159l-2-2-3-2-3-2M879 174l3-1M904 187l1 3 1 3M907 196l2 4-1 3M908 203l0 3M908 206l1 3 3 2M843 180l-3-2-3 0-3 1-3 1-4 0 3-1 4-1 3 0M837 178l3 0 4 1 3 2M884 152l-2-3M882 149l-2-2 3 0M883 147l4 0 3 0M906 191l2-2 3-3M881 155l0-3 1-4 0 4-2 3M555 259l0-3 1-4 0-3 2-3 3-1M571 251l3-2 3-2M577 247l3 0 3-2 3-2M586 243l3 1 4-1M593 243l3-2M596 241l-1 4 0 3-1 3M594 251l0 4M594 255l1 3M646 270l3 1 3-2M693 264l-1 3 1 3M693 270l2 3-4 0M681 287l-3 0M631 330l-3-3 0-3-1-4-1-3-3-2-3-2 4-1M624 312l3 0-1 3M626 315l-2 2-3 3-3 2M631 359l-1 3 2-3M632 359l2-3M640 327l-4 0-3 1-3 1-3 1-2 3-1 3 0 4-2 3M622 343l1 3M623 346l2 3M625 349l1 3M626 352l2 2 4 0 3-1 2-2 1-4" stroke="#eceff0"/><path d="M219 88l-1-3M203 95l0 3 0 4M203 102l0 3-1-3M202 102l-1-3M201 99l1-4M203 95l3 1M206 96l3 2 3 0 4 1 3 0M244 83l-1-3M243 80l1-4-1-3M257 81l-1 3-1 4-1 3-2 2-3 3-2 2M250 77l-3 1M247 78l-3 1-4-1M245 76l3 1M248 77l3 2 3 2 4 0-2 3-2 3M254 87l-1 3 0 3-1 3-3 3M254 77l-2-3 1 3 3 2 3 2M350 117l4 0 3 0 3 0M308 105l-3-1-3-2-3-2 1 3M310 113l-4 0-3 1M303 114l-3 0M262 133l-3 1M324 148l-1-3-3-3M349 118l-3-1M346 117l-3-1M343 116l-3-2M340 114l-4 0-3 0-3-1M330 113l-4 1M272 136l-1-3M271 133l-1-3 0-4M285 139l3-2 3-2M360 131l3 2-2-4M269 113l3 2 3 1 3 1M278 117l3 1 3 2 4 1 3 0M291 121l3 1 3 2M300 125l3 2M303 127l3 2M387 135l2 3 0 3M389 141l0 3 2 3M353 130l3 0 3 0 4-1M363 129l3-1M397 107l2 2 3 2 3 2M405 125l-3-2M402 123l-2-2-2-2M398 119l-2-3-2-3 3 0M397 113l4 0 3-1 3-2M399 142l3 0 4 0M406 142l3 0-3 2M406 144l-2 3M403 127l-3-1M400 126l-3-2-3-1M394 123l-3-1M391 122l-3-1M388 121l-4-1 4 0M407 124l3 0M347 192l-2 2M281 141l-3-2M278 139l-3 0-4 0-3 1-3-1M274 178l-2 2-2 3M270 183l-3 2M267 185l-3 0-4 0-3 1-3 1M254 187l-3 3M251 190l3-3 2-2 3-2M259 183l3-1M262 182l3-2M341 163l1-3 0-4-2-3-2-3M338 150l-1-3-2-3M271 153l-1 3 0 4M270 160l1 3-1 3M270 166l0 4 2 3 1 3M399 147l3 1-3 2-3 1 1-3 1-3M259 187l-3-1M256 186l-3-2-2-2-3-3-3-1-3-2M363 173l0 3M363 176l-1 3M362 179l-2 3M357 184l-1 4-2-3-4 0-3-1-3-1M364 172l0-4-1-3-1-4 0-3-1-3 0-3 2-3 1-4 0-3M364 142l-1-3M363 139l3-1 3-1M369 137l4 0M373 137l3 1 3-2M379 136l4 0 3 0M320 200l3-1M323 199l3-1M336 172l-3-2-3 0-3-1-3 1M341 188l-3-1M338 187l-3-1-4 0M331 186l-2-2M270 187l3 2 4 0 2 2M279 191l4 2 3 1M286 194l3-1 2-2 1-3 2-3 3-3 2-2 2-3 2-3M303 174l0-3M256 168l2-2 2-3 2-3 2-3M264 157l2-2M291 141l-1 3-1 4M289 148l-1 3-2 3M286 154l0 3M256 168l-3-2-3-2-3-2-2-2M347 183l-3 2-1 3-1 3-2 3-3 2M337 196l-2 2M335 198l-3-1-4-1M328 196l-2-2-2-3M326 147l1 3M328 159l0 4 2 2 3 2M333 167l2 3M335 170l2 2M328 167l3 0 3 2M334 169l4 0M338 169l3-1M341 168l3 0 3-2 3-2M350 164l3-2M353 162l2-2M355 160l3-2M325 169l-2-2M303 176l2 3 3 2 1 3M309 184l2 3 2 3M313 190l3 1M322 195l1 3M323 198l-3 1M320 199l-3 1-4 0M348 196l-4 2M344 198l-3 0-3-1-3-2-3-1-3-2M329 192l-1-3M352 191l-4-1-3-1-3 1M339 199l-2-3-2-2M335 194l-3-3-2-2-3-2M286 207l-3 2-3 0-4 0-3 1M273 210l-3 1-3 2 1-3 1-3M269 207l1-4M270 203l1-3 0-3M344 206l3-2-3 2 3 0-3 1 1-3 3-3M382 269l-2-3-3-2M347 295l3-1 4 0 3 0M357 294l3 0M367 273l-1 3-2 3-2 3M362 282l-3 2-1 3 0 4 1 3 1 3-1-3-1-3M358 291l-1-4-1-3-1-3-2-3-1-3-3-2-2-3 2 3 2 3M350 294l4 1 2 2M356 297l3 3 0-4 0-3M359 293l0-4M359 289l0-3M348 293l0-3M357 305l2-3-3 2-1 3 0 4M359 319l2 2M361 321l3 2 3 2 3 1 3 1M393 332l-2 2-3 2-3 1M385 337l-4 1-3 0M378 338l-3-1M370 308l4 0 3 1 3 1 2 3 2 3 2 2 1 4M387 322l2 3 1 3 1 3 2 3 1 3M364 320l0-3M408 333l-3 2M405 335l-2 3-3 1M400 339l-3 1-4 1-3 0M390 341l-3 2M365 322l-1 3M399 309l3 2 3 0M443 353l1 4M444 357l1 3 2 3M420 335l2-2M443 353l3 0M446 353l3-2 2-3M451 348l1-3M437 330l-2-3-1-4M434 323l-1-3M433 320l-1-3M432 317l-1-3M431 314l1 3 2 3 0 3M434 323l0 4M434 327l0 3M445 345l2 3 3 2 3 1-3 2-3 1-3 1-3 2-3 1-3 2M426 332l-1-3M433 337l2 2 3 1 4 0M442 340l3-1M448 338l3-2M451 336l3-2 4 0M455 324l2 2 3 3 3 1 3 0 3-2 3-2 2-2 2-3M406 398l-3-1-4-1-3-1-2-3-3-2M391 390l-3 0-3-2M389 398l3 1M392 399l2 2 4 1 2 3 2 3 2 2 2 3 2 3M376 395l3 0 2 3 1 3 2 3 3 3M387 407l1 3M388 410l3 0 3 1M394 411l3 2M397 413l4 1M397 401l1-3 1-4-1-3M409 406l2-2M411 404l3-3 1-3 1-3 0-3 1-4 3-2M420 386l2-2M411 357l1-3M401 403l2-3 2-3 3-2 3-1M411 394l2-3 3-2 3-2M391 412l2-3M393 409l2-2 3-2 0-4 0-3 0-3 1-4M399 391l0-3 0-4M399 384l0-3M399 378l3 2 3 1M422 390l3-1 3-2 2-2M663 167l-2 3-1 3-1 3-3-2 3-2 0-3 1-4 2-3-2 3M660 165l-2 3-3 2 3 0M634 126l-3 0-3-2-4-1-3-1 3 1 4 0 3 0 3-2 3 0 4-1M659 143l-4-1-2-2-2-3-1-3-2-3-3-1-3-2M670 123l-3 2M576 151l2-3 2-2 1-4M606 138l1 3 2 2M576 151l4 0M580 151l3 0M583 151l3 0M586 151l3-3M589 148l2-3M591 145l1-3M625 168l-2 2-2 3M637 154l-2 3-1 3 2-3 2-2M638 155l2-3M640 152l1-3 2-3 0-4M643 142l2-3M645 139l1-3M646 136l2-3M648 133l2-2 3-3M653 128l2-2M599 126l-3-1M596 125l-3 2 3-2M670 144l-2 3-1-3M667 144l-1-4 1-3 0-3-1-4M666 130l0-3 1-3M645 134l-2-2M639 123l0-4 2-3 3-2 3-1 3-1M628 123l2-3 2-2 4 0M710 98l2 3 2 2 2 3 2 3 2 3M694 107l-3 1-3 1-3 2-3 2-3 1-3 1 1-3M677 112l0-4M677 108l-2-3M675 105l-2-2M826 66l4 0M830 66l3 2M833 68l3 1 3 0 4 0 3 0M846 69l4 1 3 0 3 0 3-2 0 4M777 77l-3-1-3 0-4 0M762 80l-1-4-3-2-3-1-2-3-2-2-3-2-1-3-3 2M782 70l-3 0-3-2-4 0-2-2-3-2M767 64l-3-2M764 62l0 4-3 2-3 2-3 1-4 0M751 71l-3 1M748 72l-2 2M744 77l-1 3 0 4M779 75l-3 2M776 77l-3 2M773 79l-3 1M730 109l-2-3M877 134l-2-3-2-3-2-2-2-3-3-3M749 124l-2-2-2-3-3-2-2-3-2-3-1-3M737 108l-1-3-2-3M810 123l-3-2-4 0-3 1-3 1-4 0M793 123l-3-1-3 1M787 123l-4 1-3 1-2 3-2 2-3 3-3 2-2 2M874 115l2 3M876 118l4 0M880 118l3 0M813 117l2 3 1 3 2 3 1 3 2 3 1 3 3 2 1 3M826 140l0 4M826 144l1 3 0-3 1-4 2-2M830 138l2-3 2-3 3-1M732 109l-3 0M876 128l2 2M878 130l2 3M752 105l-3-1M736 96l-3-2M784 95l3-2 4 0M781 93l-3-1-3 0-4 0-3-1-3-2M747 131l-4 0-3 1-2 3-3 1-4 1-3-1M787 134l-3-2-3-2M732 105l3 1 4 1 3 0 3 0 4-1M904 139l4 1 3 2M741 89l2-3M743 86l2-2 4-2M749 82l3-1M752 81l3-1 3 0 4-1M762 79l3 0 3 1 4 2 3 1 3 1 3 0 3 2M784 86l4 0M801 89l-3-1M848 77l-3 1-4 0-3 0-3 0-4 0M811 75l-3-1-3-1M805 73l-3-1M822 113l-3-2-2-2M817 109l-4-1-3 0-3 2-3 1M827 71l1-4M828 67l2-2M830 65l-1 3-1 3 0 4 0 3 2 3M830 81l3 2M873 144l-3 1M870 145l-3 0M883 143l-4-1-2-2-4-2M803 168l3 2 2 2M812 173l3 1 3 0 3-3 1-3M822 168l0-4 3-2M825 162l2-2M827 160l0-4M827 156l0-3 1-3M828 150l2-3M797 166l-3 3 0 3M794 172l-2 3M792 175l1 4 3 2M796 181l3 2M799 183l2 3 0 3M790 139l-1 3M789 142l-1 3-2 3 0 3 0 4M786 155l1 3 3 1 3 2M776 141l-2 3 0 4M774 148l1 3M762 157l3 1 2 3M767 161l1 4 1 3-1 3M741 171l1 3 3 3M745 177l2 2 3 1 4 1 3 1 3 2M792 138l-4-1-3 1-3 0-4 0M778 138l-3-1M775 137l-3-1-3-1-3-2-3-1M763 132l-3-2M760 130l-3-1M752 175l-3 2-3 1M746 178l-3 2-3 1-3 2-2 2-4 1M731 186l-3 0-3-2M725 184l1-3 1-3 1-3 1-4 1-3M822 173l3-1 3-2 2-3M830 167l2-3-1-3M831 161l1-3-1 3M831 161l1 4M832 165l-1 3M791 142l2-2M802 149l2 2 4 1 3 2 3 1M769 168l2-3 1-3 1-3-1-3 1-4 0-3 1-3 0-4M774 142l1-3M766 173l-4 1M762 174l-2 2-3 2M742 145l3 0-2 3M743 148l-3 2M740 150l-3 1-3 2-3 1-3 1-3 2-3 1M722 158l-3 2M744 147l3 2-3 0M744 149l-4 0-3 0-3-2-4 0-3 0M696 172l-3 1-4 0-3 2M686 175l-3 0-3 1-4 1-3-1-3 0 3 0 3-1M676 175l4-1M680 174l2-2M682 172l4-1 3 1M689 172l3 2 3 1 3 2 3 2 3 1M701 146l-3 1M694 181l-2 3-2 2-1-3-2-3-2-3-2-3M683 174l-2-2-3-1M674 172l0 3-3 3 2-3M673 175l3-2M676 173l3-2M679 171l3-1 3 0 3-2M688 168l4-1 3-1 3-1 3-1M722 146l-1-3M727 155l1-3 2-3M730 149l3-2 1-3M734 144l2-3M674 162l-3 2-2 3M669 167l2-3M671 164l0-4 3 2 1 3M675 165l3 3 3 1 3 0M785 215l3 2 3 0M791 217l4 0 3-1M809 244l-3-2-3-1-3-2-3-2-2-3M795 234l-3-1 2-2 2-3M819 194l-2 3-2 3M815 200l-1 3-3 2-2 2M775 205l2 2 2 3 1 4-1 3-4 0 2-3M777 214l0-3M777 211l0-4M777 207l2-3 3-1 3-3M817 206l3 2M820 208l1 3 2 3M823 214l0 3 2 3M825 220l2 3M827 223l1 3M832 213l2-3M823 227l2-3M825 224l3-2 2-3M830 219l3-1M815 211l1 3M816 214l2 4 0 3M818 221l0 3M818 224l0 4 0 3 0 4 1 3 0 3M819 241l0 4M828 203l3 2M831 205l3 2M902 158l-3-1M880 161l-4 0-3 1-3 1-3 1-4 1M828 163l-1-3 0-4 0-3 0-4-1-3 2 3M828 149l2 3 3 2 2 2 3 2M826 156l3-3 2-2 3-2M869 221l2 2 3 3 1 3M865 185l1 3 1 3 1 3M911 204l2 3M913 207l0 4M912 221l-3-1M834 190l3-1 2-3M839 186l1-3 2-3M842 180l2-3 1-3M845 174l0-3M845 171l1-4 0-3M846 164l-1-3M904 159l2 2M887 173l-4 0M883 173l-3-1M880 172l-3-1M877 171l-3-1-3-2-4-1M867 167l-3-1M864 166l-3 1M841 157l4 0 3 0 3 0M851 157l3-2 3-2M857 153l3-1 3-2M863 150l3-1M886 166l-2-2-2-3M882 161l1-3 2-3-1-3-1-4M864 182l3-1M867 181l3-2M862 203l-3 1-3 1M852 204l-3-1-3-2-2-2-3-2-3-1-3-1-4 1-3 1M862 203l-3 0-3 0-4 0-3 0M904 187l-2 2-2 3-3 2 0 4-2 3-3 1M843 180l-4 1-3-1-3 1-4 0M829 181l-3 1 1-4M906 191l3 0 3 2 3 2M915 195l3 1 3 1-2 2-2 3-3 1M914 203l-3 2-3 1-4 2-2 2-3 2M871 206l1-3 0-4M872 199l1-3 0-3M873 193l1-3 1-4 0-3-1-3 1-4M875 176l1-3M876 173l2-2 2-3M880 168l1-3 1-3 0-4-1-3M906 225l-4 1M902 226l-3 0 3-2M868 245l-2-3M866 242l-1-3M865 239l3-1 4 0 3 0M875 238l3 0M886 237l-1 3M885 240l0 3-1 4 1 3 0 3M885 253l0 4M556 271l-3-2-3 0-3-1M558 263l3-2M561 261l1-4M562 257l-1-3-1-3-1-3 0-4 0-3M559 241l1-4M546 250l-3-1-4-1-3 0-3 1M533 249l-3 1 2-1M532 249l2-3M534 246l3-3M537 243l1-3M590 248l3-2M593 246l-3 2-3 0-3 2-3 2M581 252l-3 1-4 1-3 1-3 1-2 2-3 2M563 260l-3 1-3 3M543 247l2-3 1-3M546 241l2-3 1-4-2 3-1 4 0 3M667 276l2-2 2-3M671 271l3-2 2-2 3-2 2-3 2-3M683 259l2-2M664 289l1 3M665 292l-2-3M663 289l-1-3-3-1M659 285l-3-2M656 283l-4 0-3 1-3 0-3-2M655 272l-2 3-2 3-1 3M650 281l-3 2-2 3-2 3-1 3-2-3-3-2M637 287l-3-3-2-2-3-2M655 272l-3-2-3-1-3 0M625 284l-3-2-3-2-3-1M633 273l3 0 3-1 3-1M642 271l4-1M689 270l-2-3-1-4M686 263l-2-3-2-2 4 0 2 2 4 1 3 0-2 3M685 288l4-1 3-1M692 286l3-1-1 3M694 288l-1 3-2-2-4 0M687 289l-3-1-3-1M634 331l-3-1M618 322l0-4 0-3 3-2 0 3 2 3M632 353l-2 2M628 358l0 3 0-3M628 345l-1-3 0-4M627 338l2-3 2-2M650 332l4 1M654 333l3 1 3 0M661 346l3-1 3-2 2-2 2-3M671 338l3-2M667 324l0-3 0-3 1-4M668 314l3 2M671 316l1 4 1 3 2 3M675 326l1 3 1 3 1 4M662 351l3 1 2 2M667 354l3 2M670 356l3 2 3 2M656 332l-3-2M653 330l-3-1-4-1-3-1-3 0M618 316l-3 1M615 317l-1-3M625 319l-2-3 0-3 3 2 3 2M701 295l0 4-2-3-2-2M697 294l-3-2-2-3M692 289l-2-2M698 274l1-3 2-2 4-1 3-2M708 266l-2 3-3 2-1 3-3 2-2 3M708 278l3 2 3 2 3 2M717 284l-2 3-1 3 1 3M708 278l4-1M712 277l3-2 3-1M718 274l-2 3M716 277l-2 2M659 402l-3 1-3 2 0-3 1-3M654 399l1-3 2-3M663 377l0-3M663 374l1-4 1-3M659 402l-1 3M658 405l0-4-1-3M662 373l-1-3-1-3 3 0 3-1 4 0-1 3M669 369l0 4 0 3M688 349l-3 2M685 351l-3 2 3-3M685 350l2-2M687 348l3-2 3-1 3-2-2 2-2 3M975 389l1 3 1 3 0 4 2 2 3 3M982 404l3 1 3 1M988 406l3-1 4 0 3 2M1012 395l-3-1M1009 394l-2-3M1007 391l-2-2-2-3 1 3 0 3M968 414l1-3 1-3 1-4 0-3M971 401l1-3-2-3 0-4 1-3M971 388l0-3M968 414l-3 0M965 414l3-2 1-3 2-3" stroke="#f6e2d6"/><path d="M305 104l-3-1-3-1M299 102l-4-1-3 0-4 0-3 2M285 103l-3 1-3 0-4 0-3-1-3 0M269 103l-3-1-4 0-3 2 3-2-1 3 0 3-1 3-1 3M300 114l-4-1-3 2-2 2-3 2M288 119l-2 3-3 1M283 123l-3 0M280 123l-4 1-3 1-3 2-3 1M267 128l-2 3-3 2M351 110l-1 3M350 113l-1 3M349 116l-2 3M327 146l-3 2M351 110l-3 1-4 0-3 1-3 1M338 113l-3 1M326 114l-3 0-3 1-4 0-3 1-3 1-4 1-3 1-3 1-3 1-2 3-2 3-1 3-2 3M269 139l3 1 3 2 4-1 3-1M282 140l3-1M364 142l-1-3 0-3-1-4-1-3M416 132l-4-1-3 0-3-2-3-2M345 194l-2 3-1 3 2-3 3-2M259 187l-3 2-3 2M253 191l-3 2 2-3 2-3 2-3 2-2M352 155l3 1 3 2 3 1 0 4 1 3 1 3 0 4M360 182l-3 2M351 191l-2-3M349 188l-3-2-2-3-2-3-2-2-2-3-2-3M320 173l-4 1-3-2M313 172l-2-2M311 170l-2-3M309 167l-1-3M288 150l-1 4 0 3 0 3-2 3M385 284l-3 1-4 1-3 1-3 1-4 0M351 293l-1 3M350 296l-1 3M349 299l-2-3 1-4M408 292l2-3 2-3M399 298l4 0M409 302l-3 1M406 303l-3 2M403 305l-3 1-4 2M396 308l-3 1M403 285l2-3-1-3 0-4-2 3-3 1M422 348l0-3-2-3-1-4 1-3M447 343l-3-2-3-2-1-3M447 343l1-3 1-3M449 337l1-3 2-3M452 331l2-3M388 431l2 3M399 381l1-3 1-3 3-3 1-3M411 384l2 2M413 386l2 3M678 118l-2 3M676 121l-1 3M581 142l2-3 1-3 0-3M724 81l-3 2-4 0M707 84l-3 2M704 86l-2 1M696 89l-1-3-3-2-3-1-4 0-2 2-4 1-3 1-3 0 2-3 1-3 2 3 0 3-1 4M709 93l0 3-1 3-2 3-3 1-4 0M699 103l-2 1-3 3M753 130l4-1M743 131l0-3M743 128l-2-3-3-2M738 123l-2-3-2-2M734 118l-2-3-1-3-1-3M890 132l4 0 3 0 3-1M863 107l4 0 3 1 3 1 3 1M876 110l4 1M729 109l-3-1M726 108l2-2 1-4 1-3M730 99l-1-3M729 96l-1-3M908 129l-3-1-3-1-3-1-3-1M777 132l3 0 3 0 3 2 3 2M742 88l-3-1-3 0M736 87l-3-1-3-2-3-2 1-4-2-3 3-1 2-3 2 3 1 3-1 4M728 92l-3-3 2-3M762 65l-4-1-2 2-3 3-2 2M751 71l-3 1M848 77l-2-3-3-2M822 113l-4 0-3-2-3-1M812 110l-3 1-4 0-3-1M802 110l-3-2-1-3-2-3M827 71l3-1 3 0M833 70l4 0 3 0 4 0 3 0 3 1M850 71l3 1 4 1 3 2 2 3M862 78l2 2 3 1 3 3 3 0 3 0M883 143l-3 1-3 2-4-2M873 138l-3 0M809 244l-4-1M818 195l-2 3-1 3 0 3 0 4M815 208l0 3M819 245l-1-4-1-3-2-3M886 230l3 0-3 0M854 181l-1 4-2 2M851 187l-1 4-1 3-2 3M847 197l-1 3 0 3 0 4-1 3-2 3 0 3M904 159l-4 1M900 160l-2 3 1 3M868 236l-2-3-4 1-3 1M859 235l-3 2M859 171l-3 1M878 170l-3 0M875 170l-3 1-4 0-3 1-2 3M860 177l-1 3-3 2M871 153l-2-2-3-2-3-2 3 1M866 148l3 2 3 2 3 2M854 182l4 1M858 183l3 0 3-1M912 211l3 2 2 2M917 215l3 2M920 217l-3-2-3-2-2-2-3-2-2-3M911 186l2-2 0 3M669 357l0 3 0 4-3 0-4-1-3 0-3 0M635 353l-2 3M633 356l-2 3M625 319l-2-3-2-3 4 1 3-1-3 1-3 1-4 1" stroke="#c4e0ec"/><path d="M220 92l-1-4M251 78l3 2M254 80l3 1M240 78l-2-3M238 75l4 1M242 76l3 0M310 113l-3-2-3-1M304 110l-3-2M301 108l-3-2M323 107l4 1M327 108l3 0 3-1M291 135l2-2 4-1 3-1M362 117l1 2M360 131l3-2-2-3-1-3 1-3M297 124l3 1M306 129l3 1M309 130l3 0M353 130l3 2M356 132l3 0 3 0 4 0M366 132l3-1 3-1M372 130l3 0 4 0M379 130l3 0M382 130l3 2 2 3M399 142l-3-1-4 0M392 141l-3 1-3 1-2 3-3-2M381 144l-3-2M388 120l3 2 3 1 3-2 4 1 3 0M404 122l3 2M287 143l-3-2-3 0M288 140l2-2 1 3M298 149l2 3 1 3 2 3M303 158l3 1 4 0M310 159l3 0M313 159l3-1 3-3-1-3M318 152l-1-3-2-3-1-3M314 143l-2-3M358 158l0-3 1-4 2-3M361 148l1-3-1-3M325 169l-3 2-2 2M323 167l-1-4 1-3M323 160l0-4M288 150l1 3 2 3 1 4 1 3 2 2 2 3 2 3 2 2 2 3M342 190l-3-3M298 239l0-3 0 3-1 3 0 4-2-4M363 288l-3 1-3 2M362 290l-3 0-4 1-3-1-4 1M348 292l2 2M351 293l-3 0M388 281l-2-3M386 278l-1-3-2-3 1-4 1-3M401 277l0 3M408 333l-2-3-1-3M405 327l-3-2M402 325l-2-3M437 352l3-2 3-2M443 348l1-3 1-4M445 341l0-3 1-3 1-4 1-3 2-3 1-3 0-3-2-3 0-3 2 2 2 3M453 318l-4 1M449 319l-2 2-3 2M444 323l-3 1M440 336l-2-3-1-3M445 345l3-1 3 0 0 4 0 3M418 364l-4-1-3-1-3-2-2-3 4 0 3-1 3 1M416 357l3 1 4 0 3-1M426 357l3 0M429 357l4-1 3 1 4 0M433 359l1-3 1-4 1-3-1-3-1-3M434 343l-3-3-2-2-2-3-1-3M421 343l1-3M422 340l1-3-1-3 0-4 1-3-1-4-1-3-2-3-1-3 3 0 3 2 3 2 1 3 2 3M430 324l0 3 1 4 3 2 2 2 3 3M421 343l3 0 4 1 3 1 3 1M451 373l-2-2-3-2-3-1-4 1M439 369l-3 0-3 2M453 321l2 3M411 417l-4 0-3-1-3 0-4 0-3 2-2 2-3 2-2 3M387 425l-1 3 2 3M412 393l3-1 2-3 1-3 2-3 1-3 2-3 3-2M389 382l-3-2M386 380l-2-3-2-3-1-3-1-3 1-4M381 364l0-3M414 422l-1-3M404 400l3-1M407 399l2-3 3-2M412 394l2-2 3-2 2-2 1-4 1-3-1-3M420 378l-2-3-3-2-2-3-1-3-1-3-1-3 1-4M386 417l3-2 2-3M415 389l3 1 4 0M663 167l-3-1-4 0M656 166l4 1 3 2 3 1M675 124l-1 3-1 3-2 3 0 3M671 136l-3 2-3 2-3 2-3 1M678 118l-3 2M675 120l-2 2-3 1M584 133l1-3M585 130l4-1 3-1M592 128l3 1 3 2 2 3 3 2 3 2M613 116l0-4 0-3 1 3 1 4M615 116l-2-3 3-2M629 143l2-3M631 140l2-2 3-1 3-1 3-2 3-1 3-3 3 0 3-3 1-3 1-3M656 121l-1-3 0-4 0-3 3 0 3 0 4 1 3 1 3-2 3-1M619 173l1 3M621 173l-3 1-4-1M614 173l3 2 4-1M608 137l-1-3-2-3-2-3M603 128l-3-1-3-2M643 132l-3-3 0-3 2-4M642 122l1-3-1-3-2-3-2-2M638 111l3-2 3 0 4 0-1 3-2 3M636 118l3 1M639 119l3-1 4 0 3-1 3-2 1-3M724 81l-4 0M684 88l-3 0-3-1-3-1M717 83l-3 0-3 0-4 1M706 98l-3-2M674 105l3 3 3 1 3 0 4 1 2 2 3 2 3 1M695 115l0-4M780 138l-4 1-3-1-4-1M769 137l-3 0M906 121l3 0 3 1 4 1 3 1 3 2 3 1 3 0 3 2 4 1M762 110l-3-1-3-2M728 93l-2-3M850 109l1 3M851 112l2 3M853 115l3 1 4 1 2 3 2 3 2 1M866 124l4 1 2 2 4 1M767 137l3 0 4 1 3 1 3 2 3 0 4 0 3 0 3-1M771 131l3 0 3-1M747 131l0 3 1 3 2 3 1 3 3 3 3 1M729 105l3 0M732 83l-2-2-4-1M821 69l-4 0M808 172l4 1M733 140l2 3 2 2 3 2 3 2M743 149l2 2M745 151l3 3 3 1 3 2 0 3M754 160l0 3-2 3-2 3-2 3-3 1-2 2-4 1-3 1M736 177l-2 2M733 140l-1 3-2 3-1 3M729 149l-2 3M727 152l-2 3M768 171l2 3M810 156l2-3 2-2 1-4-1-3-1-3M813 141l1-4 1-3M815 134l3-2 2-3M804 167l2 2M806 169l3 3 3 0 3 1 3 1 4-1M766 183l-3-1M763 182l-3-1-3-2-3 0-3-2-4-1-2-2M766 183l1-3M769 173l1-3 1-3 3-2 3-2M696 172l-2 3-2 3 0 3M692 181l-1 4-3-1-4 2-3 0M727 155l-3-2-1-4M723 149l-1-3M882 182l0 3-1 3-2 3-3 1-3 1-4 0-3 2M866 195l-3 1-2 3M861 199l-3 2-2 3-2 2M854 206l-3 2M870 229l-3-2M857 215l3 1 3 1M875 229l1 3M876 232l1 3-3 0-3 0M871 235l-4 0-3 0-3-1-3-2-3-1-4-1-3-1M851 151l0 3M851 154l0 4-1 3M850 161l-1 3 0 4 3 2M852 170l3 2M855 172l3 2 2 2 2 2 2 3 1 4M846 151l-3 1-3-2-3-1-3-2M834 147l3 0M829 160l0-3M909 195l0 3 1 3 1 3M913 211l0 3 0 3-1 4M844 213l3 1 3 2 2 2 3 2 3 1 3 2 2 3 1 3M899 166l1 3M900 169l1 3 2 3M862 171l-3 0M832 162l2-2 3-3M837 157l2-2 2-3M841 152l3-2M844 150l3-2 3-1-3 1-2 3M866 149l3-2M868 205l0 3 0 3 1 4M863 175l-3 2M875 154l2 3M893 174l-3-2-2-3-2-3M856 205l-4-1M906 193l1 3M907 206l-2-2M905 204l-2-3M892 202l-3 1M890 147l0 4M890 151l0 3 1 3M899 212l-3 0M889 216l-3 2-3 2-2 3-3 2-2 3-3 0-3 1M870 229l-4 0M889 216l2 2 4 2 2 2M871 240l-3 1M868 241l-3-1M865 240l0-3 1-4 0-3M866 230l1-3 0-4 1-3M882 245l-2 2-2 3M878 250l-3 2M882 245l-3-1-3 1-4 1-3 2M869 248l-2 2-1-3M866 247l-2-3 4 0M540 268l3-1 4 0 3 0M550 267l3-2 3-1M556 271l0-3M556 268l0-4-1-3M555 261l2-3M557 258l3 0M560 258l4 0 3 1M556 266l2-3M556 266l-1-4M555 262l0-3M559 252l-4 0-3 1-3-1-3-2M591 237l4 1M547 271l-3-1-3-2-3-2M538 266l-1-4 1-3M538 259l2-3 1-3 1-3M542 250l1-3M547 271l-4 1 3-2M654 289l-2 3 1-3 2-3 0-3 0-4-1-3-1-3M653 273l-1-3-2-3-3-2-2-2-4 0-3 1M664 289l-2 3 0-3 0-4 1-3M663 282l1-3M664 279l3-3M646 269l-4 0-3 0-4 0M635 269l-3 1M632 270l-3 0M629 270l-4 0M629 290l2-3 3-2 2-2M617 311l3-2 3 0 4-1M627 308l2-2 3-2 3-1M635 303l3 0M646 315l1-4M647 311l1-3 2-3 0-3 0-4 0-3M650 295l3-2 3-1 3-1M637 330l2 3M628 358l1-3 0-3 0-4-1-3M641 330l3 1M644 331l3 0 3 1M661 346l2 2 2 3M665 351l3 1M668 352l3 2 3 2M674 356l2 2 3 2 3 1M662 351l1-4 0-3 0-3M663 341l1-4 0-3 0-3 1-4 2-3M702 292l-1 3M698 274l-3-2-2-3-2-2 3-3-1 4-2 2-2 3-1-3M662 402l-3-2 0-3M659 397l-1-4 1-3 0-3M659 387l1-4 1-3 1-3M662 377l0-4M687 349l-3-1 3-1 4-1 3-1 3-1-3 1M694 345l-3 2-3 2M687 349l-1 4-1 3-1 3-1 3 1-3M998 407l3 1 3 0M992 315l-2 3-2 3M988 321l0-3 0-4 1-3 1-3 1 3M673 279l0-4-1-4 0-4 2-4M674 263l0-5 1-2 0-5-1-4M691 181l5 4 5 3 4 4 5 3M710 195l4 2" stroke="#f2bea2"/><path d="M401 305l4-1 3 0 3-2M411 302l0 4 2 3 1 3-2-3M383 267l2 3 1 3M393 309l-3 1-3 0-4 0-3-2-3-1M399 298l1-3 1-3M720 81l-3 0-3 1-3 1-4 1M707 84l-3 2-3 1-3 0M698 87l-4 1-3 0-3 0-4 0M706 98l0-3M706 95l-1-3 0-4M705 88l-2-2M731 91l-3 1-3 1-2 3M723 96l0 3-1 4 1 3 1 3 3 2M727 111l3 2M694 101l3-2 1-3 3-2 2-2 4-1 3 1M710 92l3-1 4-1 3 0 3 0M793 138l2 2 2 3 1 3-3 1 2-2 0-4 2-3 3-2 3 0M805 136l4 0 3 1M812 137l3 2M743 131l4 0 3 0M750 131l3-1M766 137l-3 1-3-1-3-2-2-3M755 132l-1-3-3-2-2-3M869 111l2 2M756 107l-4 0-3 0-3 1-4 1-3 1M739 110l-3 0-4-1M791 93l3-2 3 1M797 92l3 1 3 2 3 2 3 2 3 1 2 2M814 102l4 1M807 134l-4-1M803 133l-3 0-3 1-4 1-3 0M790 135l-3-1M781 130l-3-1-4 0M774 129l-3 0-3-1-4 0-3-2-3 0-3-2M727 79l1 4-2 3-1 3M831 78l-3 0-3-1-4 0-3 0-4-1-3-1M828 226l2 3-3 1-4 0-3 1-2 2-3 2M902 224l3-1 2-3M907 220l0-3-1-3-1-4M899 220l-1 3-1 3 2-3 2-3 1-3 3-2M905 215l2-3 0 4M885 257l-1 3-3-2" stroke="#92c5dc"/><path d="M218 85l2 2 3 3M203 95l-3-1M200 94l3 1M254 77l-4 0M277 96l-2-2M347 119l-1 3-3 3-2 2-2 2-3 3M336 132l-2 2-2 3M332 137l-2 3-1 3-2 3M320 142l-3-1-3 0M339 111l3 2 2 2M344 115l3 2M347 117l4 0 3 0M354 117l4-1 2-1M361 129l-1-3M360 126l0-3 0-3 2-3M399 109l-2-2M405 113l2 2 3 2 2 3M412 120l3 2 1 3 1 3-2 3-1-3-2-2M399 109l0-3 2-3 3-2M404 101l3 0M407 101l4 0M411 101l-3 2-3 1-3 1M404 147l1-4 0-3M347 195l-3-2M381 159l-3 2-3 1-3-1M327 187l0 3M327 190l-2 3M357 291l-2 2-3 3-1 3-1-3-3-1M368 288l-3 1-3 1M348 290l2 2M386 272l3-2M389 270l3-2M392 268l3-2M395 266l-2 3M393 269l-1 3-2 3-3 2M390 271l1-3 2-3-1 3M391 272l-1-3M390 269l-1-4 4 2 2 2 3 1M398 270l2 3M391 272l-3 0-4 1-2 2M434 310l0 4M413 307l-2 3M411 310l-3 1M359 319l-2 3-2 2M355 324l-2 3 2-2 1-4M356 321l0-3M362 334l-3 0M359 334l-4 1M394 337l1 3 0 4 0-4 1-3M396 337l1-3 0-4M362 316l1 3 2 3M368 305l-2-3 3 2 1 3 2 3 1 3M387 327l2-2 3-1M396 324l3-2 3-1M458 350l-1 4M406 401l1 4 0 3 2 3M409 411l3 2M412 413l2 3M414 416l3 1M417 417l-3 1-3-1M412 354l-1-3 0-4M667 125l-4 0M629 143l-2-3-1-3-2-3-2-2-1-3M655 126l3-1M599 126l2-3 3-2 2 3M606 124l3 1 4 1 1 3M614 129l0 4 0 3M614 136l1 3 2 3 3 0 3-2 2-2 3-1 4-2 3 1 3 1M700 112l-3 0-4-1-3 0-3 1-4 1-3 0-3 0-3-1M674 112l-4-1-3-1-3-2-3-1-2-3-3-2-2-3M654 99l0-3 0-4-2-3 3-1M723 90l3-2M726 88l4-1M730 87l-2 3-1 4-1 3-1 3-2 3 0 3M782 70l-2 2-1 3M786 137l-3 1-3 0M786 137l3 3 2 2 2 3M793 145l4 0 3 0 3 0 4 0 3 0M880 111l3 1M900 127l3 1 3 1M799 66l-1 3 0 4-1 3M797 76l-3 2-3 2M906 121l-1-3-2-3M903 115l-3-2-2-2-3-3-3-2-3-1-3-1-3-1M755 124l-2-3-2-3-1-3-2-3M810 135l-1 3-1 3M808 141l-1 3M807 144l-3 3 3-2M807 145l1-4M808 141l-1-3M729 105l0-3-1-4M728 98l0-3 0-3M898 137l3 2 3 0M801 89l-2-3M899 157l-3-1-3 1-3 2-4 1-3 1-3 0M863 217l3 2 3 2M849 151l1-3 1 3M829 170l1-3 0-3-1-4M896 212l-4 0M585 249l-2 3-2 3 1 3M582 258l2 3 3 2 3 2M590 265l3 0M588 242l-2-2-1-4M585 236l3 1M588 237l3 0M587 248l3 0M557 264l-2 2-2 3-2 3-1 3 0 3M546 270l1-3M547 267l0-4 0-3M633 273l0 3-2 3M631 279l0 4-2 3 0 3M629 289l2 3-3-2-2-3-1-3M614 274l-1-3M612 267l0-3-2-3-2-2-3-2-1 3M604 260l1 3 0 4M629 290l-3 0-4 1M622 291l-2-2-3-3 3 0 4-2M622 294l0 3 1 3 0 4M623 304l-1 3-1 3M650 310l-3 0-4 0M643 310l-3 0M637 309l1 4-1 3 1 3M637 313l2-3 1-3 1-4M637 290l3-2 3 2 3 2M646 292l1 3 3 2M646 315l-2-3-3-2-4-1M637 309l-3 0-3 0M631 309l-3 2M634 331l-4 1-2 1-3 3M625 336l-2 2M623 338l-2 3M621 341l0 3M621 344l0 4M640 336l1 3M641 339l0 3-2 4M639 346l-2 2-2 3-3 2M637 330l4 0M657 393l1-3 1-4M659 386l1-3 2-3M662 380l1-3M660 371l1-3-2 3-2 3M657 374l-2 2-3 2-3 2-1 3-3 2-3 2M642 387l-3 2-2 2-2 3-1 3M634 397l-1 3 1 4" stroke="#e5846a"/><path d="M412 309l-3-1-2-3M407 305l-1-3 0-4 1-3 1-3M412 286l-2 3-4 1-3 1-3 1M403 298l3-1M406 297l3 0 4 0-2 3-2 2M401 292l1-4 1-3M703 96l-3-1-2-3-2-3M772 210l4 1 3 1M817 206l2-3M821 197l0-3 0-4M821 190l0-3M821 187l3 2 3 1M827 190l4 0M905 210l2 3 2 3M906 225l-1-3-2-3-2-3M901 216l-1-3-1-3M890 225l-3 1-3 0-3 1-4 1-3 1M874 229l-3 2-2 2-3 1 2-2 3-2 2-3 1-3 3-2M877 222l2-2 3-2 3-2M871 240l2 3 0 4 0 3 0 4-2-3M871 251l-3-2 3-1 3-2 2-2M876 244l3-2M879 242l3-2 3-2 1-3M875 252l-3 1M872 253l-2 3 3-2 3-2M881 258l-3-1M878 257l-3-2M875 255l-2-2-4-1" stroke="#5a9cc8"/><path d="M289 102l4 0 3 0 3 1-3 1-3 0M293 104l-4 1M289 105l-3 1-2 2-2-3M282 105l-3-2M261 83l-1-4-1-3 4 1 3 1M294 92l-1 3 1 4M275 94l-3-2-2-3M308 105l-3-1M293 126l3-1 3-1M299 124l3-2 2-2 2-3 3-2 3-2 3-1 2-3M317 109l3-2M320 107l3 0M398 145l0-3 1-4 3 2-3 1-3 1M396 142l-4 1-3 1M286 224l-1 3-2 3-1 3 0 3-1 3M281 239l-1-3-2-3-3-1M286 224l-3 1M283 225l-3 1M280 226l-3 0-4 2M344 206l3-2-3 1 1 4 1 3-1-3M387 277l-2 3M385 280l1-3 3-3 1-3M400 273l1 3M401 276l3 2 2 3M382 275l-4 1M378 267l0-4M378 263l1 3M379 266l3 2 3 2M413 299l-1-3 1-3M413 299l-3-1-3-2-2-3 2 3 4-1 2-3M404 297l3-1M404 297l2 3 1 3M400 311l1-4M355 335l-3 1 1-3M364 317l1-4 0-3-3-3M362 307l-3-1-4 0-3 0 3 1M384 329l1-3M385 326l1-3 1-4M387 319l0-3M387 316l1-3M388 313l1-3 0-4 2-3 3 2 3 1 2 3M405 311l3-2 3-2M411 307l2-3M447 363l-4-1M433 359l-3 0M401 403l3-3M637 154l-3-2-3-1-4 0-3 0-4 0 3-2 3-1 3-1M640 113l-3-2-4 0M669 101l3 2 2 2M808 72l2-3 3-1 3-2M816 66l4-1 3 0M823 65l3 1M746 74l-2 3M877 134l3-2 3 0 4-1 3 1M822 128l-3-2-3-1-3-1M763 133l3 0M766 133l4 0 3 0 4-1M733 94l-2-3M793 140l3-2M772 74l-2-3-3-2-2-3M804 111l-4 0M800 111l-3-2M797 109l-2-2-2-3M867 75l2-2 3-1M872 72l4-1M876 71l3 0 3-1 4-1 3 1 3 2 1 3 3 2 3 1M899 78l3 2M902 80l3 2M905 82l2 2M907 84l2 4 1 3M910 91l1 3 1 3 0 3M918 98l-3 0-3 2-1-3-1-4-1-3-2-3M907 87l-2-2-3-2-3-2M913 94l3-2 2-2M918 90l3-2 2-3-3-2M721 143l-1-3-2-3 0 3-1 3-3 2M776 207l-1 3-1 3-3-2-1-3 2 2M798 216l3 0 4 0M805 216l2 2M805 243l-3-1M802 242l-3-1-3 0-2-3 2-2 4 0M800 236l3-1 4 0M819 203l1-3 1-3M830 161l-1-3M870 179l3-2 3-2 3-1M874 253l-2-2-2-3-2-3M897 222l3 2 2 3M899 220l-3 0-3 3M893 223l-3 2M876 252l3-1M547 268l-4 0M543 268l-3 0M556 264l3-2 4 0M563 262l3 0M576 253l-4-1-3 0M569 252l-4 0-3 0-3 0M613 271l-1-4M636 283l-1 3-1 3-2 2M632 291l-4 1-2 3-1 3-2 2-4 0-3 0 1-3M622 298l-3 2 3-2M629 292l-3-1-4-1-1-3-3-2 3 2 1 3 0 4M640 310l-3 1-3 2-3 2M631 315l-3 2-3 0M625 317l-3 1M639 333l1 3M630 355l-2 3M677 342l-3 2-3 2M671 346l-3 1M668 347l-1 4 1 3 1 3M677 342l3 1 4 1 3 1M687 345l3-2 3 0-3 1M678 336l1 3M679 339l2 3 1 3M634 356l-1-3-2-3-1-3 0-4-1-3 0-4M629 336l-1-3 1-3 1-4M630 326l1-2M631 324l-1-3M630 321l-2-4-1-3M627 314l3 2M991 311l1 4 1 3 1 3M667 202l0-3 0-4M674 247l1-3 2-3 1-6M678 235l-4 0-3 0-3 1 1-4M669 232l1-5 3-3M673 224l1-5M677 298l-1-6 0-5-2-4-1-4M700 182l2 3 2 3M704 188l3 3 5 4" stroke="#cd4548"/><path d="M266 78l3 0 4 0-3 1M270 79l-3 2-3 2-3 1-3 2M291 96l2 2 3 2 3 1-3-1-3 1-4 0-3-1-3 0-3-2M280 98l-3-2M270 89l0-3-1-4M291 96l3-1M294 95l3-2 3-2-3 3 0 3 0 3-1 4M312 107l3 1 3 0 4 0 3-2 3-1M328 105l3-2M331 103l3-1 2 3 2 3 1 3M351 120l-2-2M299 155l-3-2M351 191l-4 0-3-1M344 190l-3-2M326 182l-3-2-2-3M378 276l-2 2-3 1 2-2 2-3M393 269l3-2-1 3 0 4M395 274l-1 3-1 3-3-2-3-2M387 276l-2-2-3-2-2-2-2-3M393 269l3 2 2 2 3 1 4 1-3 2M402 277l-3 0M407 296l3-2 3-2 1 4M414 296l1 3 1 3 1 3 1 3 1 4 0 3 1 3-4 1M416 319l2-2 1-4 0-3-1-3 0-4M407 303l1 4 2 2M415 314l-2 3-3-2-2-2M408 313l-3-3M405 310l-2-2 1-4 1-3 2-3 3-1M410 297l3 0M413 297l3-3M416 294l3-1M419 293l-1 3 1 3 2 3 2 3M413 307l3-1 3-2 2-3 2-3M423 298l2-3 1-3 2 3 1 3 3 3 1 3 1 3M434 307l0 3M356 318l0-3M356 315l-1-4 1-3 1-3M375 337l-4 0-3 1-3-2-3-2M368 305l2-3 3-2-3 2-3 2-1 2M366 306l-2 4M364 310l-2 3 0 3M384 329l3-2M392 324l4 0M443 362l-3-1M440 361l-2-3M438 358l-3-1-4-1-3 0-3-2M425 354l-2-3-1-3M430 359l-3 1-3 2-3 1-3 1M644 121l-3 0-4 0-3-1 3 2 3 2 2 2M642 126l0-4-1-3-3-2M638 117l-2-3-2-3M644 121l-1 4 0-4 1-3M644 118l-2-3M642 115l-2-2M742 79l-2 2M740 81l-3 3M900 131l4 1M813 124l-3-1M883 112l2 2 3 2 2 3M890 119l1 3 3 2M894 124l3 2M897 126l3 1M863 107l3 2M866 109l3 2M871 113l3 2M791 80l-3 1-3 1-3 1-4 1M762 110l0-4 0-3-2-3-1-3-1-4-2-2-2-3-2-2-3-2-3-2M789 136l3-1M792 135l4 0M796 135l3 0 3 2 3 1M805 138l4 0 3-1 3 0 4-1 3-1M752 105l1-3 0-3M753 99l0-4M753 95l-1-3M752 92l-3-2-3-1-4-1M748 112l-1-3M727 86l0-3 0-4M801 87l3-1 3-2M741 89l-3-2M738 87l-3-1-3-3M793 83l-3-1-4 0M786 82l-2-3-1-3M783 76l-1-3M847 141l-3-1-3 0-4 1-3 0M918 98l-2 3-2-3-2-3M912 95l-2-2M913 94l3 1M916 95l3-1M919 94l3-1-1 4M588 242l3-2M591 240l3-1M594 239l-2 3M592 242l-3 2M589 244l-2 3M587 247l-2 2M628 296l-3 1M625 297l-3 1M628 296l-3-1-4 0-3-2 3-1M621 310l0 4M629 292l-3 2-2 3M624 297l-2 2-2 2M620 301l-3 3 1-4 1-3 3 0M651 313l1 3 1 4M653 320l1 3-3-2-2-3-1-3-2-3M651 313l0 3M651 316l2 4-1 3 1-3M620 310l-3 1M637 290l1 3 1 3 0 3 0 4-1 3-1 3M638 319l-1 4 0-4 0-3 0-3M659 291l4 0 3-2 0 4M666 293l0 3 1 3M614 314l2 3 1 3 3-1M620 319l1-3M621 316l0-4M674 219l0-6-3-2-2-4-2-5M686 174l1 5 4 2M691 173l2 2 4 3 3 4" stroke="#a41b2e"/><path d="M294 99l1 3 0 3 0 4M295 109l-4-2M291 107l-2-2M289 105l-3-2-3-2-2-3-2-2-3-1-3-1-4 1-3 1-2 3-1 3M263 102l-1 3M413 293l4 0 3 2 3 2M423 297l2 2M425 299l4 0-3 1M426 300l-2 3-3 3M421 306l-1 3M410 309l2 2M408 311l-3 0M405 311l-3 1-3 1M399 313l1-2M796 83l-2-2-3-2-4 0-3 0M784 79l-3-1-4-1M757 129l3 2 3 1 3 1 2 3 4 1 3 0 3 2M778 139l3 2M813 117l2 2 3 3M818 122l2 2 4 0 3 0 3-1 3-2 4 1 3-1M896 125l-4 0-3-1-3-2-3-1M883 121l-3-1M770 71l-2-3M768 68l-1-3M767 65l0 3M767 68l0 4M767 72l-1 3-1 3M765 78l-2 3-3 2M892 125l0 4 2 3 2 2M896 134l2 3M788 86l3 0M791 86l3 0 4 1M798 87l3 0M920 83l-2-3-1-3-1-3M916 74l2 3 1 3M622 298l3 0M625 298l3 1M628 299l2 3 1 3 0 3 1 4M632 312l1 3 0 3-1 4M621 292l3-1 3-3M650 310l-3-1-4 0-3 1M640 310l-3 0-4-1-3 1M630 310l-3 0-3-1-4 1" stroke="#6c0a22"/></g></g>
<text x="70.3" y="53.8" text-anchor="end" class="ml">60°N</text>
<text x="28.4" y="101.8" text-anchor="end" class="ml">30°N</text>
<text x="17.4" y="152" text-anchor="end" class="ml">0°</text>
<text x="28.6" y="201.2" text-anchor="end" class="ml">30°S</text>
<text x="509" y="53.8" text-anchor="start" class="ml">60°N</text>
<text x="76.57" y="260.9" text-anchor="middle" class="ml">180°</text>
<text x="147.58" y="260.9" text-anchor="middle" class="ml">120°W</text>
<text x="218.59" y="260.9" text-anchor="middle" class="ml">60°W</text>
<text x="289.6" y="260.9" text-anchor="middle" class="ml">0°</text>
<text x="360.61" y="260.9" text-anchor="middle" class="ml">60°E</text>
<text x="431.62" y="260.9" text-anchor="middle" class="ml">120°E</text>
<text x="502.63" y="260.9" text-anchor="middle" class="ml">180°</text>
<text x="0" y="25" class="let">a</text>
<rect x="129.3" y="267.3" width="32.39" height="8" fill="#5a9cc8"/>
<rect x="161.39" y="267.3" width="32.39" height="8" fill="#92c6dc"/>
<rect x="193.48" y="267.3" width="32.39" height="8" fill="#c6e1ed"/>
<rect x="225.57" y="267.3" width="32.39" height="8" fill="#e9f1f4"/>
<rect x="257.66" y="267.3" width="32.39" height="8" fill="#f7e6dc"/>
<rect x="289.75" y="267.3" width="32.39" height="8" fill="#f5c2a7"/>
<rect x="321.84" y="267.3" width="32.39" height="8" fill="#e68569"/>
<rect x="353.93" y="267.3" width="32.39" height="8" fill="#cf4547"/>
<rect x="386.02" y="267.3" width="32.39" height="8" fill="#ac1b2d"/>
<rect x="418.11" y="267.3" width="32.39" height="8" fill="#6b0a22"/>
<rect x="129.3" y="267.3" width="320.9" height="8" fill="none" stroke="#1a1a1a" stroke-width="0.8"/>
<path d="M129.3 275.3v3.2M161.39 275.3v3.2M193.48 275.3v3.2M225.57 275.3v3.2M257.66 275.3v3.2M289.75 275.3v3.2M321.84 275.3v3.2M353.93 275.3v3.2M386.02 275.3v3.2M418.11 275.3v3.2M450.2 275.3v3.2" stroke="#1a1a1a" stroke-width="0.8"/>
<text x="129.3" y="293" text-anchor="middle" class="cb">-0.40</text>
<text x="193.48" y="293" text-anchor="middle" class="cb">-0.20</text>
<text x="257.66" y="293" text-anchor="middle" class="cb">-0.00</text>
<text x="321.84" y="293" text-anchor="middle" class="cb">0.20</text>
<text x="386.02" y="293" text-anchor="middle" class="cb">0.40</text>
<text x="450.2" y="293" text-anchor="middle" class="cb">0.60</text>
<text x="290.2" y="313.2" text-anchor="middle" class="cbl">Average duration trend (weeks decade<tspan dx="1.2" dy="-5.6" font-size="9.8">−1</tspan><tspan dx="1" dy="5.6">)</tspan></text>
<rect x="64.3" y="159.8" width="96.5" height="69.9" fill="#fff"/>
<g fill="#d3e6f1" stroke="#76acd2" stroke-width="0.5"><rect x="64.7" y="229.34" width="1.84" height="0.36"/><rect x="66.54" y="229.24" width="1.84" height="0.46"/><rect x="68.38" y="229.15" width="1.84" height="0.55"/><rect x="70.22" y="228.99" width="1.84" height="0.71"/><rect x="72.06" y="228.81" width="1.84" height="0.89"/><rect x="73.9" y="228.65" width="1.84" height="1.05"/><rect x="75.74" y="228.37" width="1.84" height="1.33"/><rect x="77.58" y="227.81" width="1.84" height="1.89"/><rect x="79.42" y="227.42" width="1.84" height="2.28"/><rect x="81.26" y="226.72" width="1.84" height="2.98"/><rect x="83.1" y="225.39" width="1.84" height="4.31"/><rect x="84.94" y="224.31" width="1.84" height="5.39"/><rect x="86.78" y="222.15" width="1.84" height="7.55"/><rect x="88.62" y="219.95" width="1.84" height="9.75"/><rect x="90.46" y="216.28" width="1.84" height="13.42"/><rect x="92.3" y="212.66" width="1.84" height="17.04"/><rect x="94.14" y="205.55" width="1.84" height="24.15"/><rect x="95.98" y="197.06" width="1.84" height="32.64"/><rect x="97.82" y="189.53" width="1.84" height="40.17"/><rect x="99.66" y="178.86" width="1.84" height="50.84"/><rect x="101.5" y="170.55" width="1.84" height="59.15"/><rect x="103.34" y="169.12" width="1.84" height="60.58"/><rect x="105.18" y="161.87" width="1.84" height="67.83"/><rect x="107.02" y="165.61" width="1.84" height="64.09"/><rect x="108.86" y="173.5" width="1.84" height="56.2"/><rect x="110.7" y="182.88" width="1.84" height="46.82"/><rect x="112.54" y="186.99" width="1.84" height="42.71"/><rect x="114.38" y="197.18" width="1.84" height="32.52"/><rect x="116.22" y="203.63" width="1.84" height="26.07"/><rect x="118.06" y="209.35" width="1.84" height="20.35"/><rect x="119.9" y="214.54" width="1.84" height="15.16"/><rect x="121.74" y="217.95" width="1.84" height="11.75"/><rect x="123.58" y="221.34" width="1.84" height="8.36"/><rect x="125.42" y="223.03" width="1.84" height="6.67"/><rect x="127.26" y="224.82" width="1.84" height="4.88"/><rect x="129.1" y="225.73" width="1.84" height="3.97"/><rect x="130.94" y="226.65" width="1.84" height="3.05"/><rect x="132.78" y="227.53" width="1.84" height="2.17"/><rect x="134.62" y="227.99" width="1.84" height="1.71"/><rect x="136.46" y="228.33" width="1.84" height="1.37"/><rect x="138.3" y="228.51" width="1.84" height="1.19"/><rect x="140.14" y="228.8" width="1.84" height="0.9"/><rect x="141.98" y="228.95" width="1.84" height="0.75"/><rect x="143.82" y="229.11" width="1.84" height="0.59"/><rect x="145.66" y="229.21" width="1.84" height="0.49"/><rect x="147.5" y="229.3" width="1.84" height="0.4"/><rect x="149.34" y="229.37" width="1.84" height="0.33"/><rect x="151.18" y="229.41" width="1.84" height="0.29"/><rect x="153.02" y="229.46" width="1.84" height="0.24"/><rect x="154.86" y="229.49" width="1.84" height="0.21"/><rect x="156.7" y="229.53" width="1.84" height="0.17"/><rect x="158.54" y="229.55" width="1.84" height="0.15"/></g>
<path d="M64.7 229.36L65.5 229.33L66.31 229.3L67.11 229.26L67.92 229.22L68.72 229.17L69.52 229.12L70.33 229.07L71.13 229L71.94 228.93L72.74 228.85L73.54 228.76L74.35 228.66L75.15 228.54L75.96 228.42L76.76 228.27L77.56 228.11L78.37 227.92L79.17 227.71L79.98 227.47L80.78 227.19L81.58 226.88L82.39 226.52L83.19 226.12L84 225.65L84.8 225.11L85.6 224.5L86.41 223.8L87.21 222.99L88.02 222.07L88.82 221L89.63 219.79L90.43 218.4L91.23 216.81L92.04 215.01L92.84 212.97L93.65 210.66L94.45 208.08L95.25 205.21L96.06 202.05L96.86 198.61L97.67 194.91L98.47 191L99.27 186.94L100.08 182.83L100.88 178.79L101.69 174.95L102.49 171.46L103.29 168.48L104.1 166.15L104.9 164.6L105.71 163.92L106.51 164.1L107.31 165.06L108.12 166.73L108.92 169.05L109.73 171.91L110.53 175.19L111.33 178.77L112.14 182.52L112.94 186.34L113.75 190.12L114.55 193.8L115.35 197.3L116.16 200.6L116.96 203.66L117.77 206.47L118.57 209.03L119.37 211.34L120.18 213.42L120.98 215.27L121.79 216.93L122.59 218.39L123.39 219.69L124.2 220.84L125 221.85L125.81 222.74L126.61 223.52L127.41 224.21L128.22 224.82L129.02 225.35L129.83 225.82L130.63 226.24L131.43 226.6L132.24 226.93L133.04 227.21L133.85 227.47L134.65 227.69L135.45 227.89L136.26 228.07L137.06 228.23L137.87 228.37L138.67 228.49L139.48 228.6L140.28 228.7L141.08 228.79L141.89 228.87L142.69 228.95L143.5 229.01L144.3 229.07L145.1 229.12L145.91 229.17L146.71 229.21L147.52 229.25L148.32 229.29L149.12 229.32L149.93 229.35L150.73 229.38L151.54 229.4L152.34 229.42L153.14 229.44L153.95 229.46L154.75 229.48L155.56 229.5L156.36 229.51L157.16 229.52L157.97 229.53L158.77 229.55L159.58 229.56L160.38 229.57" fill="none" stroke="#22427f" stroke-width="1.9" stroke-dasharray="4.5 2"/>
<path d="M64.3 159.8V229.7H160.8" fill="none" stroke="#333" stroke-width="0.8"/>
<path d="M64.3 229.7h-3.3M64.3 189.2h-3.3M101.5 229.7v3M138.3 229.7v3" stroke="#333" stroke-width="0.8"/>
<text x="57.4" y="234.1" text-anchor="end" class="iy">0</text>
<text x="57.4" y="193.6" text-anchor="end" class="iy">2</text>
<text x="101.5" y="245.8" text-anchor="middle" class="ih">0.0</text>
<text x="138.3" y="245.8" text-anchor="middle" class="ih">0.5</text>
<text transform="translate(45.4 195.8) rotate(-90)" text-anchor="middle" class="ihl">Density</text>
<path d="M76.57 577.3L71.62 573.47L66.86 569.57L62.33 565.62L58.09 561.63L54.19 557.59L50.54 553.52L47.03 549.43L43.76 545.31L40.8 541.18L38.13 537.03L35.7 532.88L33.52 528.73L31.63 524.58L30.05 520.42L28.74 516.27L27.6 512.12L26.5 507.97L25.51 503.81L24.71 499.66L24.07 495.51L23.58 491.36L23.22 487.2L22.98 483.05L22.85 478.9L22.98 474.75L23.22 470.6L23.58 466.44L24.07 462.29L24.71 458.14L25.51 453.99L26.5 449.83L27.6 445.68L28.74 441.53L30.05 437.38L31.63 433.22L33.52 429.07L35.7 424.92L38.13 420.77L40.8 416.62L43.76 412.49L47.03 408.37L50.54 404.28L54.19 400.21L58.09 396.17L62.33 392.18L66.86 388.23L71.62 384.33L76.57 380.5L81.69 376.73L86.95 373.04L92.34 369.43L97.91 365.91L103.74 362.5L110.02 359.2L116.85 356.03L123.87 353.07L130.64 350.42L136.96 348.15L142.68 346.31L147.63 344.95L431.57 344.95L436.52 346.31L442.24 348.15L448.56 350.42L455.33 353.07L462.35 356.03L469.18 359.2L475.46 362.5L481.29 365.91L486.86 369.43L492.25 373.04L497.51 376.73L502.63 380.5L507.58 384.33L512.34 388.23L516.87 392.18L521.11 396.17L525.01 400.21L528.66 404.28L532.17 408.37L535.44 412.49L538.4 416.62L541.07 420.77L543.5 424.92L545.68 429.07L547.57 433.22L549.15 437.38L550.46 441.53L551.6 445.68L552.7 449.83L553.69 453.99L554.49 458.14L555.13 462.29L555.62 466.44L555.98 470.6L556.22 474.75L556.35 478.9L556.22 483.05L555.98 487.2L555.62 491.36L555.13 495.51L554.49 499.66L553.69 503.81L552.7 507.97L551.6 512.12L550.46 516.27L549.15 520.42L547.57 524.58L545.68 528.73L543.5 532.88L541.07 537.03L538.4 541.18L535.44 545.31L532.17 549.43L528.66 553.52L525.01 557.59L521.11 561.63L516.87 565.62L512.34 569.57L507.58 573.47L502.63 577.3Z" fill="none" stroke="#d4d4d4" stroke-width="0.8"/>
<path d="M76.57 380.5H502.63M33.52 429.07H545.68M22.85 478.9H556.35M33.52 528.73H545.68M147.58 577.3L144.28 573.47L141.11 569.57L138.08 565.62L135.26 561.63L132.66 557.59L130.22 553.52L127.89 549.43L125.71 545.31L123.74 541.18L121.95 537.03L120.33 532.88L118.88 528.73L117.62 524.58L116.57 520.42L115.7 516.27L114.93 512.12L114.2 507.97L113.54 503.81L113.01 499.66L112.58 495.51L112.26 491.36L112.01 487.2L111.85 483.05L111.76 478.9L111.85 474.75L112.01 470.6L112.26 466.44L112.58 462.29L113.01 458.14L113.54 453.99L114.2 449.83L114.93 445.68L115.7 441.53L116.57 437.38L117.62 433.22L118.88 429.07L120.33 424.92L121.95 420.77L123.74 416.62L125.71 412.49L127.89 408.37L130.22 404.28L132.66 400.21L135.26 396.17L138.08 392.18L141.11 388.23L144.28 384.33L147.58 380.5L150.99 376.73L154.5 373.04L158.09 369.43L161.81 365.91L165.69 362.5L169.88 359.2L174.43 356.03L179.11 353.07L183.63 350.42L187.84 348.15L191.65 346.31L194.96 344.95M218.59 577.3L216.94 573.47L215.35 569.57L213.84 565.62L212.43 561.63L211.13 557.59L209.91 553.52L208.74 549.43L207.65 545.31L206.67 541.18L205.78 537.03L204.97 532.88L204.24 528.73L203.61 524.58L203.08 520.42L202.65 516.27L202.27 512.12L201.9 507.97L201.57 503.81L201.3 499.66L201.09 495.51L200.93 491.36L200.81 487.2L200.73 483.05L200.68 478.9L200.73 474.75L200.81 470.6L200.93 466.44L201.09 462.29L201.3 458.14L201.57 453.99L201.9 449.83L202.27 445.68L202.65 441.53L203.08 437.38L203.61 433.22L204.24 429.07L204.97 424.92L205.78 420.77L206.67 416.62L207.65 412.49L208.74 408.37L209.91 404.28L211.13 400.21L212.43 396.17L213.84 392.18L215.35 388.23L216.94 384.33L218.59 380.5L220.3 376.73L222.05 373.04L223.85 369.43L225.7 365.91L227.65 362.5L229.74 359.2L232.02 356.03L234.36 353.07L236.61 350.42L238.72 348.15L240.63 346.31L242.28 344.95M289.6 577.3L289.6 573.47L289.6 569.57L289.6 565.62L289.6 561.63L289.6 557.59L289.6 553.52L289.6 549.43L289.6 545.31L289.6 541.18L289.6 537.03L289.6 532.88L289.6 528.73L289.6 524.58L289.6 520.42L289.6 516.27L289.6 512.12L289.6 507.97L289.6 503.81L289.6 499.66L289.6 495.51L289.6 491.36L289.6 487.2L289.6 483.05L289.6 478.9L289.6 474.75L289.6 470.6L289.6 466.44L289.6 462.29L289.6 458.14L289.6 453.99L289.6 449.83L289.6 445.68L289.6 441.53L289.6 437.38L289.6 433.22L289.6 429.07L289.6 424.92L289.6 420.77L289.6 416.62L289.6 412.49L289.6 408.37L289.6 404.28L289.6 400.21L289.6 396.17L289.6 392.18L289.6 388.23L289.6 384.33L289.6 380.5L289.6 376.73L289.6 373.04L289.6 369.43L289.6 365.91L289.6 362.5L289.6 359.2L289.6 356.03L289.6 353.07L289.6 350.42L289.6 348.15L289.6 346.31L289.6 344.95M360.61 577.3L362.26 573.47L363.85 569.57L365.36 565.62L366.77 561.63L368.07 557.59L369.29 553.52L370.46 549.43L371.55 545.31L372.53 541.18L373.42 537.03L374.23 532.88L374.96 528.73L375.59 524.58L376.12 520.42L376.55 516.27L376.93 512.12L377.3 507.97L377.63 503.81L377.9 499.66L378.11 495.51L378.27 491.36L378.39 487.2L378.47 483.05L378.52 478.9L378.47 474.75L378.39 470.6L378.27 466.44L378.11 462.29L377.9 458.14L377.63 453.99L377.3 449.83L376.93 445.68L376.55 441.53L376.12 437.38L375.59 433.22L374.96 429.07L374.23 424.92L373.42 420.77L372.53 416.62L371.55 412.49L370.46 408.37L369.29 404.28L368.07 400.21L366.77 396.17L365.36 392.18L363.85 388.23L362.26 384.33L360.61 380.5L358.9 376.73L357.15 373.04L355.35 369.43L353.5 365.91L351.55 362.5L349.46 359.2L347.18 356.03L344.84 353.07L342.59 350.42L340.48 348.15L338.57 346.31L336.92 344.95M431.62 577.3L434.92 573.47L438.09 569.57L441.12 565.62L443.94 561.63L446.54 557.59L448.98 553.52L451.31 549.43L453.49 545.31L455.46 541.18L457.25 537.03L458.87 532.88L460.32 528.73L461.58 524.58L462.63 520.42L463.5 516.27L464.27 512.12L465 507.97L465.66 503.81L466.19 499.66L466.62 495.51L466.94 491.36L467.19 487.2L467.35 483.05L467.44 478.9L467.35 474.75L467.19 470.6L466.94 466.44L466.62 462.29L466.19 458.14L465.66 453.99L465 449.83L464.27 445.68L463.5 441.53L462.63 437.38L461.58 433.22L460.32 429.07L458.87 424.92L457.25 420.77L455.46 416.62L453.49 412.49L451.31 408.37L448.98 404.28L446.54 400.21L443.94 396.17L441.12 392.18L438.09 388.23L434.92 384.33L431.62 380.5L428.21 376.73L424.7 373.04L421.11 369.43L417.39 365.91L413.51 362.5L409.32 359.2L404.77 356.03L400.09 353.07L395.57 350.42L391.36 348.15L387.55 346.31L384.24 344.95" fill="none" stroke="#c8c8c8" stroke-width="0.6" stroke-dasharray="1.8 1.1"/>
<use href="#land" y="329.5"/>
<g clip-path="url(#clipc)"><g transform="scale(.5)" fill="none" stroke-width="3.3" stroke-linecap="round" stroke-linejoin="round"><path d="M314 818l3 1M317 819l3 2M320 821l3 2M293 853l-1-3M260 829l-3-3-3-1-3 0M336 805l3-2M339 803l4-1 2-2M345 800l1-3M293 861l3 2 2-3 2-2 3-3M403 943l1 4M425 947l0-3-3 2-3 2-3 1-2 3-3 2M416 946l-3-1-3 0-4 0-3-2M386 927l-2 3M353 946l0-3M353 943l-1-4 2-2M354 937l3-3M357 934l2-2 2-3 3-2M414 955l-1 4M386 933l-3 3-1 3-1 3-1 3-1 3-3 3-1 3-1 3 0-3-2-3-2-3 0-3M370 945l0-4M370 941l1-3M395 927l1 3 0 4M396 934l0 3M407 934l-4 1-1 3M402 938l-2 3 0 3M361 934l-2-2M411 949l-1 4M410 953l-1 3M396 946l-1-3M395 943l-1-3M411 939l0 4M374 930l-3-1M371 929l-3-2-4 0-3 1M361 928l-3 0-3-2M355 926l2-2 4 0M361 924l3-2 3 0M367 922l4 1 2 2M450 988l0-3 0-3M450 982l2-3M369 979l-3-1-3 1M363 979l-3 1-3 2-4 0M440 976l1 3 1 3M442 982l1 4-1 3M429 966l3 2 3 2 3 2M438 972l2 2M375 968l2-2 4-1M381 965l3 0M364 967l-2 2M413 960l-2 3M411 963l-2 2-3 2-4 0M402 967l-3 1M399 968l-3-1-3-2M390 963l-3-1M404 952l3 1M407 953l4 0 3 0 4-1 3-1 3 0M415 982l0-4 1 3M423 1006l4 0 3 1 3 1 3 1M436 1009l4 1M440 1010l3 2 2 2M429 991l0-3 2-3 1-3 0-4M432 978l1-3M428 1007l2 3M430 1010l1 3 1 3 1 4 1 3M434 1023l-1 3M431 1029l-3 2M399 1056l-3-1-4 0-3 1 3 1M446 1014l2-2M448 1012l3-2M400 1008l-2 2-2 3-1 3M393 1016l0-4-1-3-1-3 1-4 0-3 0-4M806 891l-3-1M795 871l2-3 1-3M802 858l-3 1-4 0M795 859l-3 1M833 854l3 2M836 856l1 3M837 859l3 3 1 3 3 2 2 3M831 864l2-3M896 832l-3-2-3 0-3-2M887 828l-3-1-2-3-3-2-2-2-2-3-2-3-1-4 0-3M890 873l3 0M900 871l3-1M900 872l-3 1-4 0-2 2M891 875l-4 1-3 0M872 911l-3 0 3 0M872 911l3 0 4 1M879 912l3 0 3 0 3 1 2 3M890 916l1 3M873 912l-3 1M870 913l3-2M868 894l2-3M876 883l3 0 3 1M561 922l-3-1M558 921l-4 1-3 1-3 1-3 1-3 1-4 0 2-3M540 923l2-3 1-3M567 919l3-1 3-2M573 916l4 0 2-2 3-2 3-2 1-3 0-4M585 917l0-3M585 914l0-3 2-3M587 908l2-3M589 905l1-3 2-3 3-2 3-1 3-1-1 3M581 910l-3 0-4 0-3-2-2-2M595 920l-3 2M592 922l-3 2M589 924l-3 1M586 925l-3 2M583 927l-3 0-4-1-3 1M573 927l-3 0M573 911l0-4M573 907l0-3 0-3 2-4 1-3-1 4M575 898l0 3M575 901l-1 3M569 925l1 3 0 3-2 3M568 934l0 4M554 936l2-3 2-2 4-1 3-1M565 929l1-3 2-3M568 923l1-3 3-2 4 0 3-2 3 0 3 0M585 916l4 2M548 934l1-3 0-4 1-3-1-3-2-3-3-1M582 936l-3 0M568 928l-2-2-3-3-2-2-2-3-1-3M582 936l2-3M584 933l1-3 1-3 2-3 2-2 3-2M593 920l3-2M596 918l2-2M598 916l1-4M594 916l-3 1M591 917l-4 0-3 2-2 2-4 1-1 3-3 2-3 2-3 2-2 3M621 935l-3 2M618 937l-3 0-4-1M611 936l-2-2-3-2-3-2-3-1-4 0 3-2 0 3-1 3 2 3 2 3 0 4M602 943l-1-4-2-3M622 975l3 2M625 977l2 3M627 980l1 3 0-4M628 979l-1-3-2-3-3-1M622 972l-3 0-4-1 1-3M673 947l0-3 0-4M647 938l-4 1-3 0M640 939l-3-2-3-2-3-1M631 934l-3 0-2-3-3-2-3-2M620 927l0 4 1 3M645 945l-2 3-3 1M691 969l3 0-1 3-1 4-1 3-2 2M639 962l3 2 2 3 3 2 1 3M648 972l2 3M679 950l-2-3M677 947l-3-2-3-1-3 1M668 945l-4 0-3 1-3-1-4 1-3 0M610 936l3-2 2-2 4-1M619 931l3 1 3 2 3 1M695 1009l-1-3-2-2-2-3-1-3-1-4-1-3-1-3-2-3M659 992l-3 0-4-1M681 1009l0 4M642 994l-3-1-3-1-4-1-3 2-3 2-3-2-2-2M621 991l0-4-2-3M691 1007l-1 3M690 1010l1 4-2-3-3-2-2-3M689 1005l2-2 4-1M677 956l0-5-2-5" stroke="#eceff0"/><path d="M344 794l3-2M347 792l3-1 3-2 3-1 3-2 3-1 4 0M294 770l-3 2-3 2M291 755l-3 0-3 0-4 0-3 2-3 1-3 0-4 0-3 2M265 760l-2 2-3 2M419 775l3-2M422 773l2-3 3-1-1 3 1 3M398 790l-3-1-4 0-3 0-4-1M428 778l-3-1M289 848l3-1 2-3M294 844l3-1 3-1 3-2 2-3M277 856l3 1 3 1 4 0M283 825l-1 3 2 2M284 830l2 3 3 2 2 3 3 2 3 0 3 0 4 1 3-2M323 823l3 1 3 0M329 824l4-1 3 0 3 1 3 2M342 826l3 1 3-1 4 1 3 2 3 1 3 0 3 1 4 2-2 2M335 846l-3-3-3-1-2-2-4-1-3 0M320 839l-4 0-3 1-3 2-2 2-3 1M303 855l3-1 2-3 3-2 3-1M314 848l2-3 3-2M321 891l4-1-4-1M292 902l2-3 3-2M292 884l-2-3-3-1M292 902l-3-2-2-2-4-1-3-1-3-1-2-3 1-4M336 850l-4 0-3-2M329 848l-3-1M357 887l-2 2M355 889l-2 3M354 888l0 3M354 891l0-3-1-3M353 885l1 3 1 4M402 937l0 3M402 940l1 3M404 947l3 1 3 1 3 1M413 950l3 2 4 0 3 0 3 1M425 951l0-4M425 951l-2-3-3-1-4-1M415 951l1-3M416 948l3-2 3-2M411 943l0 3 2 3 2 3 2 3-1 3 0-3M374 930l-2 3-2 2-3 2M368 947l1-3 1-4 1-3-1-3 1-4M449 988l3-3M452 985l-1 3-1 4 0 3 1 3 1 3-1-3-1-3-1-3 1-4M452 979l-1-4 1-3M436 997l3-1 4-2 3-1 3-1 3-2-3 1-3 2-2 3-3 1M441 997l-3 3-3 1-3 0M418 987l4 1 3 0 2 3 3 1 3 2M433 994l3 1M418 987l3 3 3 1 3 1 3 1 2 3 4 1M436 997l2 3M371 987l-1 3M370 990l0 3-2 3 0 4-1-3-1-3M366 994l-3-3M442 989l0 3-2 3-2 3M438 998l-1 3-4 1M433 1002l-2-2M372 974l1-3 2-3M440 972l-3-2M404 961l-1-3-1-3-1-3 3 0M404 961l3-1M407 960l3-1 3-2M413 957l3-2M416 955l2-3M418 952l-1 3M417 955l0 4-2 3-2 2M417 991l-1-3 1-3-2-3M422 989l1 3 1 3M424 995l2 3 1 3 1 4 1 3M429 1008l1 3 2 3 1 3 4 1M437 1018l3 1M414 994l-1 3 2 4 2 2 3 2 3 1M421 1002l3-2M424 1000l2-3M426 997l2-2M428 995l1-4M428 1003l3 0 4 1 3 0M438 1004l4-1M433 1026l-2 3M409 1048l-2 2-2 3-3 2-3 1M444 1012l-2 2M451 1010l2-2M453 1008l2-3 2-3M457 1002l-2 3-3 1-3 2M408 1026l-2-3-3-2M403 1021l-3-1-3 2-3 1M387 1022l2-3 2-2 1-4M392 1013l2-2 4-1 3-1 4 0 3 1 3 1 3 1M423 1035l4-1 3 0 4 0 3 0M437 1034l3 0M440 1034l4-1M444 1033l3-1 3 0 4 0M390 1092l0 3 0 3M419 1065l4-1 3-2M610 817l1-3 1-3M647 802l-3 0-4 0M640 802l-3 1-3 0-4 1-3 1-3 2-3 1M657 782l-3-2-3-1-3-2-2-2M646 775l-3-3-3 0M600 838l-3 1M597 839l-3-1-4 0M673 775l1 4 0 3-1 3M664 781l-4 1-3-1M587 800l-3-1-3-1-4-1 3-1 4-1 3-1M620 810l3 2M623 812l3 1M626 813l3 2-3-2-4 0 4 0M610 810l-3 0-3-2-3-1M642 764l0 3 1 4 1 3M644 774l0 3-2 3-3 2M882 796l-3-1M832 802l0-4 1-3M833 795l0-3M837 787l-4 0-3 0-3 0-4 0-3-1-3-1-4 0-3-2M872 792l-1 4-1 3 1 4M871 803l-1 3M880 756l3 0M918 797l0-3M905 784l-4 0M901 784l-3-2-2-2-4 0-3-1-3-1-3-1M883 777l-4-1-3 1-3 0M755 725l-3 1M781 845l3 2 2 3M786 850l-3-2-3-1-3-1M777 846l-4 0M766 818l1-3 1-3 1-4M769 808l2-2 3-2M811 850l3-2 3-1M817 847l4 0M787 869l1 3 0 4-1 3-1 3-3 3 1-4M784 881l-1-3-1-3 2-3 1-3 2-3 1-3 2-3 1-3 3-3 2-3 1-3M831 851l4 0 3 0M838 851l3 1 3 2M866 811l-2-3M849 854l-3-3M846 851l-2-2M844 849l-4-1-2-2-3-1-3-1-3-2M835 873l1-4-1-3-2-3M833 863l-1-3M854 832l-1-3M853 829l0-4 0-3 0-4 1-3 2-2 0-3M856 810l0-4M856 806l2 3 2 3 0 3 0 4-1 3 0 3 1 4M854 832l-3 0-4 0-3 0M844 832l-3 0-4 0M855 823l-3-1-2-3 0-4 0-3-2-3M848 809l-2-3 3 2M849 808l3 0M852 808l3-1 4-1M867 893l-3-2M892 814l1-4 2-2 2-3M897 805l1 3 2 3M900 811l1 4 2 2 3 1 4 0M903 812l3-2M870 831l3-1 3-1M870 891l0-3 1-4M871 884l2-3M873 881l3-2 3 0M879 879l3-1 3-1 1-4M884 904l2 2 2 3 2 3M890 912l3 1M889 905l1-3M890 902l-2 3-2 3M886 908l-3 0-4 0M871 875l2-2M873 873l2-3-2 3M561 922l3-2 3-1M567 922l2 3M594 916l-3-2-3-1-3-1M585 912l-4-1M581 911l-3-2M578 909l-3-1M623 942l2 2M625 944l2 3 2 2 2 4M674 960l3-2 3 0 4-1 3 0M687 957l3 0M690 957l4 0-2 3-1 3-1 3M681 949l2-3 3-2 3-3M689 941l2-2 3-1M654 972l1 4-2 2M653 978l-2 3M628 973l-1 3 0 4M668 956l2-3 2-3M647 938l0 4-2 3M691 969l-1 3M690 972l-2 3-1 3 0 4-3-1-3-2-3-1-3-2-4 0M627 951l-3 2-3 2-2 2-3 1-4 2-3 1M665 961l3 0 3 0 4 1M675 993l2 3 2 3 1 3 1 3 3 3 2 3 2 2-4 0-3 0M681 1013l-4 0-3 0-3-1M675 993l1 4 1 3M677 1000l1 3M681 1013l0 3-1 3M680 1019l-2 3M711 932l-2 2-3 2-1 4-1 3M704 943l-1 3-3 2M700 948l-3 0-4-1M714 930l2-3 0-3M717 927l1 3M718 930l-2-3-1-3 3 2M718 926l-4 1M706 938l3-1M709 934l-3-2-4 0-2-2-2-3 0-3M698 924l2 2M700 926l1 3-1 4M700 933l-1 3M699 936l0 3 0 4 0 3-1 3-2 3M696 952l-3 2M635 1031l3 1M638 1032l4 0 3 0M645 1032l4 1 3 0 3-2M655 1031l3-2 3 0 3-2 3 0M990 1072l1 4 1 3M992 1079l2 3M972 1070l-1-3M980 1047l2-2 3-2M985 1043l4 0 3 0 0 4M992 1047l1 3 1 3M994 1053l-1 4M668 861l1-3-2-4M675 906l0-3 2-4 0-4-3-1M675 946l0-4-2-5 0-3M674 923l1-6 0-4M675 913l0-4-1-3" stroke="#f6e2d6"/><path d="M393 791l-3 1-3 1-4 0-3 0-3-1-4-1-3-1M397 779l2-3 2-3 3-2 4 0 3 0 3-1M414 770l4-1 3-1M421 777l-3 1-2 2M305 837l0-4M369 822l2-3 2-3 1-3 0-3-1-3M373 807l-1-4-1-3 0-3 2 3 1 3M309 818l-2-2-2-3-2-3-2-3M333 852l0 3M333 855l-3-1-4 0M251 825l-3-1-4 1M244 825l-3 0M319 891l3 0-3 1-3 1 2-2 3 0M288 894l-2 3-3 1M411 954l-3 1M408 955l-2 3 1-3 2-3 0-4M409 948l1-3M410 945l-1-3-1-4 3 2 2 3 2 3M373 926l3 1 2 3 3 2 3 1 3 1 4 1 3 0M394 935l3 2 2 3M373 926l3 0 4-1M380 925l3-1M383 924l3 0 0 3M353 950l1 3M354 953l-1 3-1-3 1-3 0-4M413 954l1 3M414 957l0-3M414 954l1-3M422 944l3-1-3 2-2 2-3 3-1 3-2 2M395 927l3 1M398 928l-3 1-3 2-3 1-3 1M361 934l3-1 3-1M367 932l3-1M370 931l3-2 3-1M376 928l2-3 4 0 3-1 3 1M388 925l3 1 3 2 3 1 3 2 3 2 4 1M359 932l-2-3-4-1 2 3 1 3 0 3M356 937l-1 4 2 3 1 3M409 956l-3-1-3-1M367 937l-4 0M363 937l-3-1-3-1M368 947l-2-3-2-3-2-2-3-3-2-2-1-3-3-2M403 961l-4 1-3 1-3 2-2 3M436 995l3 2 3 3 3 1 3 1-2-3-3-2-3-2-3-2-2-2-2-3M438 1000l3 2M441 1002l3-1M363 991l-2-3M361 988l-1-3-3-2-2-2-1-3-2-4 0-3M352 971l3 2M355 973l3 0 4 1M373 980l-4-1M429 966l4 0 3 1 2 3 1 3 1 3M437 970l-2-2M435 968l-3-3-2-2M430 963l-2-3-2-2M426 958l-1-4-2-3M393 965l-3-2M424 951l3 2 3 0M446 1001l1-3 2 3 1 3M392 1057l3 1 4 0 3 0 2 2 3 3 2 2 2 3M395 1016l-1 4-2 2-1 3-3 3 1-3 2-3 2-3 0-3M394 1023l-4-1-3 0M417 1032l3 1M420 1033l3 2M607 808l0 3 1 4M608 815l2 2M618 785l-3 0M612 785l-3-2-4 1-3 0-3-1M580 795l3-2M583 793l4 0 3-1 3-2M726 802l3 1M729 803l3 0 4 0 3 1M739 804l3 2 0-3 0-4 1-3 0 4M718 773l3 1M681 774l-3 0-3-1-3-2M926 754l-3-1-3 1-4-1-3 1-3-1-3-2-3-2M904 749l-3-2-3 0-4-1M907 742l3-2 3-2 4 0M947 734l-3 1M944 735l-3 2-3 0-4 0-3-1-3-1-4 0-3 0-3 1-3 2M915 738l-3 1M915 796l2 3M917 799l2 2M758 754l-3 1-3 1-4-1-3 0M745 755l-3 0-4-1M852 788l2 3 1 3 3 2 3 1 3 2 3 2M867 801l3 2M896 729l1 3M897 732l3 3 1 3 1 3 1 3M903 744l-1 4 2 3 2 2M902 740l1 3M844 744l-2 3M774 787l-3-1M743 732l-3 1-1-4 0-3M785 739l2-3M787 736l3-1 3-1M846 870l1 3M847 873l2 3 2 3 1 3M852 882l0 3-1 4M851 889l0-4-2-2M849 854l2-3 1-3 2-3M854 845l3-2 2-2 2-3 3-2 3-2M867 834l3-1 2-3M872 830l0-3 0-3-2-4M870 820l-1-2-2-3M867 815l-1-4M839 827l2 2 2 2M832 860l-1-3-2-3M829 854l-1-3-2-3M826 848l3-2M829 846l3-2 2-3M834 841l1-3 2-3 0-3 0-4 0-3M872 890l-3-1M869 889l-3 1-3 0-4-1-3-1-3-2-2-2M851 884l-2-3M849 881l-2-3M872 890l0 3M872 893l0 4-3-2-2-2M861 891l-4 0M910 853l0-3-2-3-2-3-1-3M893 873l4-1 3-1M853 830l3 1M870 841l2 2M873 853l0 3M858 887l2 3M859 866l2-3 2-3 2-2 1-4M858 887l0 4 0 3M876 829l4-1 2-3M882 825l1-3 2-2 4-1 2-3 2-3M893 813l3-1 3-1M891 919l0 4-1 3-2-3-2-3-2-2-3-2 0-3-2-3M879 910l-2-2M886 898l-2 2M884 900l-1 4M881 907l-2 2-3 2-3 1M873 911l3-2 2-1 4-2M867 901l1-4 0-3M875 890l2 2M877 892l2 3M879 895l2 3 1 3M882 901l2 3M873 873l-3 1-3 1M871 883l-2 2M869 885l-2 3M543 917l2-3 1-3M546 911l1-4 1-3-1-3-2-3-1-3 2 3M600 898l-2 3-3 2M595 903l-3 2-3 1-2 2M587 908l-2 3-4-1M585 917l3 2 3 2M591 921l3 1M594 922l3 2 3 2 3 2-4 0-3 2M570 927l-4 1-3 1-3 2M595 920l0 4 2 2 0 4-1 3M567 922l3-2 2-3M572 917l0-3M572 914l1-3M589 918l3 0 3 1 3 2 2 3M600 924l4 0M544 917l-3-1-4-1-3 0-3 1 0-4M531 912l1-3 2-3M534 906l2-3M536 903l1-3 2-3M539 897l2-2M548 934l4-1 2-2M554 931l2-3 1-3 0-4 0-3 1-3 2-3M590 933l-3-1-4 0M590 933l-2 3M595 899l0 3-1 3 3 2 1 4 1 3 2 2 3 3-3-2M601 917l-3-2-4 0M594 915l-3 0-3 2-2 2M690 966l0 4 1 3 1 3 1 3-3 1-3 2M687 982l3-2 3 0M644 962l-2 2-3 1-3 2-3 2-3 1M630 970l-2 3M672 950l1-3M627 951l1 3 2 3M630 957l3 2 3 1M671 940l1-3 1-4-1-3-2-3M670 927l-3-2M686 1007l-2-2M684 1005l3-2M687 1003l2-3 1 4 1 3M686 1007l-2 3M684 1010l2-3 3-2M695 1002l2-2" stroke="#c4e0ec"/><path d="M234 741l-4 1M330 755l4-1 3-1M272 766l2-2M274 764l2-3 2-3M278 758l2-3M280 755l3-1 3-2 3-1 4-1 3 2M296 752l3 2 2 2 3 1 4 1 3 1M276 804l-3-2-3-1M304 760l-4 0-3 0-3 0M316 760l2 3 1 2 3 3M322 768l3 2M325 770l3 1 3 2M331 773l3 1 3 2 1 3 1 3 1 3 0 4M317 763l-2-2-3-2-3 0-4 0-2 2-3 2-4 0-3 1M393 796l-3-2-2-3-1-3-3-2M384 786l-2-3M420 769l1 3M427 788l-3-2M424 786l-2-3 1-3 0-4 1-3M410 792l0-4M425 777l-4 0M406 784l-2 3-3 1M401 788l-3 2M262 833l-3 0-4 1-2 2M311 845l3 0 3-1M317 844l4 1 3 0 3-1M327 844l4-1 2-3M333 840l3-2 3 0 3 0 4 0M346 838l3-1M349 837l4 0 3 0M356 837l3 1M291 843l4 1M335 846l-1 3M334 849l-1 3M364 818l2 2 3 2M379 815l-1-3M378 812l-3-3-1-3M374 806l-3-1-3-1-3-2-4-1-2-3-2-2 3 1 3 2M325 840l3-1 3 1 4-1 3 0M319 891l0 3 0 4M319 898l-3 0M353 890l-2-3 0-4 1 4M352 887l1 3 2-2M355 888l-1 3 2-3M326 847l-3 0M323 847l-4-1-3 1-3 0M313 847l-4-1 2 3 3 2 2 3 3 2 2 2 3 3M348 854l2-3 2-3M352 848l2-3 1 4M281 890l3-1 3-2 3-1 4 0-2 3M411 939l-1 4 0 3 1 3M371 930l0-3 1-3 2-3-3 2-1 3M370 926l-2 3-3 2-3 1-3 0-4 0M406 955l2-2M394 981l-4 1-1 3-1 3M388 988l0 3 3 3M425 980l-3-1-2-2M420 977l-3-2M417 975l-4 1-3 1M410 977l-3-1-4-1-3-1-3-1-2-2-4 0-3 0M388 971l-3 2-2 2-2 3-1 3-1 4M372 974l-4-1-3-1M364 967l-2-2-2-3-3-1M357 961l-2-3M355 958l-1-3-1-3M362 969l-3 2-3 1M356 972l-3 1M413 960l2 2M421 965l4 0M425 965l3 1M465 998l-1 3M464 1001l-2 3-1 3-1 3 1 4M461 1014l0 3M461 1017l0 3M461 1020l0 4M399 1112l-3-1-3-2-2-3-3-2-2-2M386 1102l-3-2 3 0M399 1120l3 1M389 1085l1 3M384 1072l-3 1M418 1059l1 3 0 3M586 845l-1-4-2-2M681 829l-3-2-3 0M613 785l-1 4M612 789l0 3-1 3M615 785l-3 0M671 768l-1 3M630 796l1-4 0-3-1-3M630 786l-1-4-1-3 2 3 0 4M679 802l-2-3-2-3-2-3-2-2M571 821l-3-1-3-2-2-3M682 825l3 0 3-1 3-3M691 821l-1 4M690 825l1 3 0 3-1 4M690 835l0 3M647 807l2 3M649 810l2 3 0 4 1 3-4 0-3-1M645 819l-2-2-2-3M647 807l1 4 3 2 1 3 1 3-2-2M629 813l3-1 4 1M598 804l3 2M616 790l-3-2-3 0-4 0M654 735l-1 3 2 3-1 3M654 744l-2 4-1 3 0 3M658 759l1-3M716 784l3 1M719 785l3 1M731 761l-3-1-3-1M800 802l3 0 3 1M894 761l3-2 3-1 3-1 4 1M860 772l-1 3 1 3 2 3M897 765l-3 1M894 766l-4 0M890 766l-3-1-3-1-3-1M881 763l-4-1-3 0-3 0M871 762l-4 0M867 762l-3 0-4 0M865 783l-3 0-3-2M859 781l-2-2-3-3M854 776l-1-3M853 773l-2-3M851 770l-3-2-3-1M859 776l4 0 3-1 3-1 3-1M833 792l1-4 1-3M968 759l0 3 0 4 1 3 3 1M964 750l-3 2M877 758l3-2M755 725l1 4 2 2 3 2 3 2 1 3 2 3 0 4M865 784l2-2 4 0 3-1 3-2 2-3M758 826l-2-3 0-3M756 820l-1-3-1-4 0-3 0-3M754 807l1-4 0-3M763 820l3 2 3 2M769 824l2 3 1 3M782 825l-2 2M780 827l-3 2-3 1M807 826l2-3 1-4 1-3 1-3M812 813l2-3M814 810l1-3-1-3 1-4-2 3 1 4 1 3M812 854l1 3M813 857l2 3M795 891l0 3 3 2 3 1M801 897l3 3 0 3 1 3 2 3 4-1 3 0M814 908l-3 0-4-1-3 0-4 0-3 0 2-3 3-1M795 891l3 1 3 1 3 2 3 2M807 897l3 0M858 825l-3-2M856 831l3 1 4 1 2 2 2 3M867 838l3 3M853 889l-3-2M850 887l0-3 2-3 1-3M853 878l2-3M858 894l-1-3-1-3 1-4-1-3M856 881l0-3 0-4 3-2M560 931l-1 3-2 3-1 3M574 904l0 4 0 3 1 3M575 914l3 3M578 917l1 2 2 4M579 936l-3-2-3-1M573 933l-3-2-2-3M583 932l-3 0-3 2M577 934l-3 2-3 0M571 936l-3-1-3-1M588 936l3-2 1-3M562 899l4 0 3-1 3-1 4 0 2-2-1 3M577 898l-2 3 1 3 0 4M576 908l-1 3 0 3-1 4 1 3 3 2M578 923l3 2 1 3M582 928l3 2M585 930l1 3 2 3M621 935l0 4 2 3M674 960l1-4 2-2M677 954l2-3 2-2M645 958l2 3 2 3 2 3 1 3 2 2M613 965l2 3 2 3 3 1 2 3M653 969l4-1M671 976l-3 0-3 0M665 976l-4-1-3 0-2-3M636 960l3 2M628 935l3 1 3 0 4-1 2-2M675 962l3 0M678 962l3 0 4 1 3 1M688 964l3 1 4 1M676 1015l2 3 1 3M633 982l3 2 3 2M639 986l3 1 3 0 4 1M649 988l3-2 4 0M678 1003l1 3 2 3M625 1008l3-1 4 0 3 0M712 933l2-3M715 931l2 3M702 938l4 0M990 1072l4 0 3 1 4 0-3 2-2 3M996 1078l-1 3M995 1081l-2-3-2-2M991 1076l-1-4-1-3M989 1069l-2-3-1-3M986 1063l-3-2M971 1067l-2-2-1-4-1-3-2-3-1-3-1-3M963 1049l3-1 4 0 3 0 3 0 4-1M675 877l-2-4-3-4-1-3-1-5M674 894l-3 0-3 2 1-5M669 891l1-5 4-2 0-6M673 934l-1-4 0-4 2-3" stroke="#f2bea2"/><path d="M426 953l4 0-3-2-2-3-3-2M403 954l-3-2-2-3M398 949l-2-3M449 988l-1-3-2-3-4-1-3-1M439 980l-3-1-3-2-3-1-3-1M400 978l-3 2-3 1M391 994l2 3 1 3M379 985l2 2 2 3 3 2 3 1M415 962l3 2 3 1M403 1044l-3-1-4-1M396 1042l-3-1-3-1-3-1 2 3 2 3M436 1000l3 3 1 3 1 3M441 1009l0 4 2 2 3 2 2 2M448 1019l3 3 2 2M453 1024l2 3M455 1027l3 1M458 1028l-1 3M392 995l2 3M938 756l-4 0M831 795l1 3 1 3M833 801l0 4-1-3M810 783l-3-1-3-1M893 731l3-2M961 752l-3 1M902 797l-4 0-3-2-2-1-4 0M900 766l3 0M837 833l-2-3-3-2M832 828l-3-2-3-1 3-2 4 1 3 1 3 2M834 876l1-3M834 876l-2-3-2-3-1-3M829 867l2-3M860 829l0 3 1 3 3 2M864 891l-3 0M905 841l-1-3-2-2-3-3-3-1M910 853l3 1M913 854l4 0 2 2 4 1M872 843l1 3M873 846l0 4M873 850l0 3M905 849l0 3 1 4-1 3M905 859l1 3 0 4M859 873l-3 0M856 873l-4-2-2-1-4-2-3-1M841 865l-4 1-2 1-3 2M875 910l-3 1M883 921l0-4 0-3M883 914l0-3-1-4M882 907l1-3M883 904l2-3 1-3M883 904l-2 3M874 886l-3 2M871 888l-2 3-1 3 1 4 0 3M869 901l-1 3-2 3 1-3 0-3M879 908l-3-1-3 1-3 1 1-3 0-3M871 903l1-4-1-3-1-3M870 893l-2-3-3-2M889 905l0-3-1-3 0-4 0-3-2-3-3-2-3-1-3-1-4 0M871 883l-3-2M867 888l-3 2 3-2M867 888l2-3 3-1 4-1" stroke="#92c5dc"/><path d="M300 807l4 1M267 770l2-2M269 768l3-2M333 799l-2 2-3 2-3 1-3 2-3 1-3 3-2 2M284 758l-3 0M281 758l-4 0-3 1M274 759l-3-1-4 0-3 0-4 0-3 2-3 0 1-3-1-3-1-4 3 2M332 756l3 1M335 757l3 0 4 0 3 0M299 745l-1 3M319 766l-2-3M401 768l3-1M370 790l-3-1-4 0-3 0M360 789l-3 0M357 789l3 0 3-1M420 769l-2 3M430 779l1 3M431 782l0 4-1 3M430 789l-3-2-2-2M430 781l-2-3M289 848l-3-1-4 1-3 0M279 848l-3 1-3 2-3 2M270 853l-2 2M268 855l-3 2-2 3-1 3-2-3M277 856l1-3 1-3M287 858l2 2M287 823l-4 0M304 845l3-1 4 1M306 858l0 3M306 861l-3-2-2-2M301 857l-2-3M358 815l3 1M361 816l3 2M281 804l1 3 1 3 2 3-1 3-1 3M283 819l0 4 1 3M284 826l0 4M284 830l0 3M284 833l0 3 1 4 0 3 1 3M286 846l1 3M287 849l1 4 2 2 2 3M292 858l2 2M319 843l3-2 3-1M351 803l-3 2-1 3M347 808l-3 2-3 1M341 811l-3 2M339 807l-1 3 0 4 0 3 1 3 2 4 2 2M343 826l3 1 3 1M349 828l4-1 2 3 3 2 2 3 3 2 3 2-4-1-3-1-4 1M266 823l1-3M267 820l2-2 3-2M272 816l2-3 1-3 2-3 2-3 0-4 2-2 2 3 0 3M325 802l-3 3-1 3 0 3M321 811l0 4 0 3 0 3M321 821l0 4M321 825l0 3 0 4M321 832l2 2 2 3 2 3M327 840l3 2 3 1M333 843l4 0 3 2M340 845l3 0M348 854l-3-1M345 853l-3-1-3-1M357 887l-3 1M354 888l1 3 3-2M283 898l1-3 2-2 4-1 2-2 3-1M295 889l-3-1-3 1-4 1-3-1M391 968l-1 3M390 971l-2 3M388 974l-4 0M402 972l-1 3-1 3M431 1000l-2-3-2-3M427 994l-1-3M450 1004l1 4 1 3 1 3 2 3 2 2M457 1019l3 3-3 2M457 1024l-2 3M455 1027l-2 3-1 3 0-3 0-4 3-2 1-3M424 1034l-3 2-2 2-3 3-2 2-3 2M436 1000l3-1 2-3 2 2 1 4M444 1002l0 3M444 1017l2-3M408 1026l-3-1-4 0-3 1-3 0-4 0-3 0M388 1026l3-1M391 1025l3-1M586 838l0 3 0 4M586 838l3-2 3 1 3-2M673 824l-1 4 0 3M622 799l-3 2-2 3 0 3-4-1-3 1M610 807l-3 0-3-1-4 1M613 785l-2 3-2 3-1 3M608 794l0 4-1 3M607 801l0 4 0 3M609 805l-2 2-3 1-3 1M670 771l-2 3M668 774l-2 3M666 777l-2 3M664 780l-1 3 0 3 0 4-3 2M660 792l-2 3-2 2M656 797l-3 2-3 2-3 1M634 801l-3 2-3 3-2 2-3 2M623 810l-3 1M634 801l2 3 2 2 2 3M640 809l3 2 1 4M644 815l2 2 2 3 3 2M651 822l1 3M613 791l-4 0M609 791l-3 0-3 0-4 0-3 0-3 2-3 1-4 0M578 804l-2 3M613 791l3-1M616 790l3 1 3 1 4 2M626 794l3 0 3 1 3 1M635 796l4 0M571 821l0-3 0-4 1 3-1 4 0 3-1 3-1 4M601 844l2-3 1-3 2-3 2 3M608 838l-3 1-4-1-3 0M683 778l3 2M661 791l3-1 3-1 4 0 3-1 3 1M677 789l4 1M681 790l3 1 3 2 3 0M690 793l-3 0M687 793l-3-2M684 791l-2-3-2-2-3-2-3 0-4-1-3-1-3-1M632 788l1 3M602 792l-2-3-3 0-4 0-2-3M682 826l4-1 3 1-3-1M686 825l-3-1M683 824l-4-1-3 1-3 1-4 0M635 779l2-2M652 797l3-1 3-1 3-2M659 756l2-3 2-3M663 750l-1 4 1 3 0 3M672 794l-3 0-3-1-4-1-3 0M659 792l-3-1-3-1M640 738l3 1 3-1 4 0M650 738l3 0 3 0 4 1 3 0 3 1 4 1M646 801l-3 0M643 801l-3-1-4 0-3-2M633 798l-2-3M668 790l-4-1M664 789l-3-1M661 788l-3-1M658 787l-2-3M645 764l-3 0M638 791l-1-4 0-3-1-4-1-3-1-3-1-3M806 803l4-1 3-1 3 1M816 802l4 0M932 739l-4 0-3-1-3-1-3-2M896 796l-2-3 0-3 1-3M872 773l4 0M876 773l3 2M879 775l3 1 3 2 2 3 3 1 3 0 3 0 4 1M900 783l3 2 2 2 3 2 2 3 2 2 3 2M818 780l3 1 3 2 3 2M827 785l3 1 3 1M833 787l4-1M851 770l-2-3-1-3-2-3M846 761l-1-3-2-3-4-1-2-2-3-2M830 741l1-4-1-3-2-3 0-3-1-4 1 4-1 3M827 731l-1 3M893 731l3-1M896 730l3 0 1 3 1 4 1 3M846 751l2 2 3 2 2 2M921 736l-3 0M918 736l-3-1-4 0M918 794l-2-3-3-1-3-2M910 788l-2-2M908 786l-3-2M954 736l2 2 1 3 2 3 0 4M959 748l-1 3M789 791l-4 0-3-1-3 0M779 790l-4 0M772 791l-3 2M881 753l-3-2-2-2-3-2-3-2-3-1M867 744l-3-2-3-1M861 741l-4 0-3-1-3-2-2-2-3-1M846 735l-4 0M894 754l1 3 2 3 3 2 3 2M770 732l-2-3M777 843l-3 0-3-2-3-2-2-2-2-3-3-2M761 832l-1-3M760 829l-2-3M787 808l2 3 3 1 4 1 3 0M814 877l-2-3M819 845l4-1M809 854l-3 1-4 0M783 887l2-2 1-4 3-2M789 879l2-3 3-2M794 874l1-3M787 869l3-1M790 868l4 1 3 1 3 0 4-1M804 869l3-1M807 868l3-1M819 858l-4-1M815 857l-3 0M812 857l-3 0-4 0M805 857l-3 1M665 961l2-3 3-2 0-3M670 953l0-3-1-4M669 946l1-3 1-3M647 995l0 3 1 4M648 1002l2 2 2 3 0-3M635 979l3-2M638 977l3-1-2 2-2 2-3 3-1 3-2 3M622 1012l-3-2-3-1M616 1009l1-4 0-3 2 3-1 3-2 3M616 1011l3-2 3-1M622 1008l3 0M640 1035l-3 2-3 1-1-3-1-3M632 1032l3-1M710 855l4 1" stroke="#e5846a"/><path d="M883 921l1-4 0-3M884 914l0-3 1-4 2-2 2-3M874 886l1 4M868 881l-3-2 3-2 3-2" stroke="#5a9cc8"/><path d="M221 753l1 4 1 3 3-2M222 762l1-3M235 739l2-3 0-3 1 3M238 736l2 3M240 739l1 3M209 760l2 3-3-1M223 761l-1-3 1-3 2-3 1-3M226 749l3-3 2-2M235 744l3 0M238 744l4 0 2 2 3 2 3 1 3 1 4 0 3 0-2 2M258 752l-1 4 0 3M306 762l2-3 2-2 3-3 3 0 3-2 4 0 3 0 3-1M329 751l3-2 4-1 2-2M338 746l3-2M304 808l3 1M307 809l3 0M310 809l4-1 3-1M317 807l3-1 3-1 3-2 3-1M329 802l3-2M270 801l-4 0-3-1-3-1M295 792l-3 0M292 792l-3 2M333 799l-2-3-3-1M328 795l-3-1M325 794l-4 0M268 747l-3-2-3-2-3 0-3-1-3-2 1-3-1-3M342 764l4 0 3 2M303 771l-2 3M301 774l-2 3-2 3M297 780l-1 3M293 739l2-3 2-3 0 4 2 2 3 2 3 3 3 1 2 3M314 769l-3 1M311 770l-4 0-3 0M304 770l-3-1M301 769l-4 1-3 0M292 760l-2 2-3 2-4 0-3 1-3 1-3 0-3-2M271 764l-3-1-3-2-4 1M278 774l3-2M321 769l-3 1-3 1-3 1M312 772l-3 1M395 786l0-3 2-3 0-4M397 776l0-3M397 773l1-3 3-2M404 767l3-1 2 3-1 4M408 773l0 3-3 3M405 779l-2 2M403 781l-2 2M401 783l-2 3M393 791l0 3 4 1-4 1M404 772l-1-4M411 773l3-2M421 768l3-1 1 3 2 3M427 773l1 3 2 3M400 780l1 3 1 3 2 3 0 4-3-2-3-1M394 776l4 1 3 0M401 777l3-2M432 783l-2-2M359 829l2 3M361 832l0 3M361 835l1 3 0 4-1-3M361 839l-2-3-3-1M322 806l3-2 1-3 0-4M327 809l-1 2-3 3-3 1-3 2-3 2-2 2M322 806l2 3 3 2 2 3 2 2 2 3 2 3M335 822l2 3M337 825l-1 3M374 803l-1 3 0 4 2 3 0 3 1 3 2 3M279 850l1-3 2-3 1-4-1-3-1-3-1-3M280 831l-1-4 0-3-3-2M283 825l-3 1M280 826l-3-2-4-1M273 823l-3 0M270 823l-3 2-2 3-1 3M264 831l-1 3 1 4 2 2 2 3 4 1M272 844l2 2 2 3M353 833l1 4 1 3 1 3 0 4M356 847l-2 2-3 2-3 2-3 1-3 3M342 857l1-4-2-3M341 850l-2-3-3-2-1-3M345 836l-3 0-3 1-4-1-3 0M332 836l-3-1-4-1M325 834l-3-1M345 836l-2-3-2-3 1-3M342 827l-1-4M292 843l-2 2-3 3M287 848l-2 2M285 850l-2 2-2 3-3 3M278 858l-1 3-1-4M276 857l0-3M276 854l1-3 3-3M280 848l2-2M282 846l3-1 3-2 3 0M299 854l-2-3-1-3-2-3M294 845l-2-3M292 842l-2-2M290 840l-3-2-3-1M275 842l-2 2-3 2-3 1-3 3M355 814l3 1M377 818l3 1 3 0 4-1-3 2-3-3-2-2M351 803l3 1 4 0 3-1 3 1M364 804l4 0 3-1 3-1M374 802l3-1 3-2 3-2 1 4 0 3 2 3 1 3 1 3M266 823l-4-1-3 1-3 1-3-2-3-2-2-3M377 808l-3 2M374 810l-3 2-3 0-4 1-3-1M361 812l-3 2-4 0-3 2-3 2-2 2-2 3M344 823l1 3 1 4 0 3M346 833l-1 3M297 897l0 3 0 3M297 903l-1-3M296 900l0-3-1-4 0-3-1-3-2-3M339 851l-3-1M292 889l-2 2-2 3M355 889l2 3 2-3-3-1-3 0 0-3M353 885l1 3M384 977l0-4 1-3 3-2 3-1 3-2 3-1 3-1 3-2 1-3M404 958l2-3M408 953l-2 2-1 3-2 3M432 1001l-4-1-3 1-3 0-4 1M373 980l0 4M373 984l-2 3M365 972l-3-1-3 2-4 0M355 973l-3 2M352 975l1-4 0-3 0-4M416 981l3 2M419 983l3 2M422 985l0 4M428 1007l3 0 4-1M435 1006l2-2 3-1 3-1 4 0 3-1 3-1 2-2 3-3 2-2M411 1045l-2 3M444 1005l1 3-1 4M442 1020l2-3M414 1012l4 0M402 1113l-3-1M401 1086l2 3M403 1089l1 4M390 1088l0 4M390 1098l-1 3-3 3-1 3 3 0M388 1107l4-1M392 1106l3-1 3-2 3 0M426 1062l2-2-3 1-3 2-3 1M400 1071l-3 2-3 0-3 1-4-1-3-1M411 1079l0-3M411 1076l1-3 3-2 2-2M411 1062l-1-3M410 1059l-2-3 4 0M579 807l-3 1 3-1M672 831l0 3-3-1-4 1-3 1-3-2-3-1 3 0 3-2M611 795l0 4M611 799l0 3-2 3M618 785l-1-3M617 782l-3-2-3-1M611 779l-1 3M610 782l-1 3-1 4-2 2M606 791l-1 3M599 783l-3-1M620 811l3-2 1-3M624 806l1-3 1-3 1-4 0-3 0-4 0-3M627 786l0-3M652 825l1 3M682 808l-1-3M681 805l-2-3M671 791l-3-2-3-2-2-2-3-2-3-1M585 804l2 3M587 807l1 3 1 3M589 813l-3-1-2-3-2-3M586 794l-3 2-2 2-2 3-1 3M563 815l-3-2 1 3 1 4M562 820l0 3M673 785l0 4 0 3 1 3M623 794l-3-1-3-2M617 791l-2-3M610 798l-2-2-3-2M682 826l4 1 2 2M688 829l2 3M690 832l1 3-3 0M688 835l-3 1-2 3-2 3M601 806l3 1M604 807l3 2 3 1M601 807l-4 0-3 2M619 792l2-3 3-2M663 760l2 3 0 4 1 3 2 3M668 773l1 3 2 3M671 779l4 1M658 759l-2-3-2-2-1-3M653 751l-1-4M712 783l2 3 2 3 1 3M651 744l-3 3M648 747l0 3 0 3 3 2 2 3M653 758l3 2M693 770l2-2 3-2 2-2M700 764l3-3 2-2 3-2M624 788l-2-2M685 774l-4 0M672 771l-4 0M668 771l-3 0-3 0-3 2M659 773l-4 1-3 1-3 1-3 1-4 0M642 777l-3 1-3 0-4 0M632 778l-3 1M661 798l-2-2-3-1M656 795l-3-2-3-2-2-3-2-2-4-1-3 2-3 1M636 788l-3 1M633 789l-3 2M630 791l-4 0M626 791l-2-2-3-3M621 786l3-2 1-3M661 798l-3 0-3-2M655 796l-3-1-3-1-3-1-3-2M643 791l-3-2M725 759l-3-2-3-2-3-2M716 753l-2-2-1-4-2-2M826 801l4 1M936 754l-3 0M933 754l-3-1-4 1M951 735l-3 0-3 0M945 735l-3 2M935 739l-3 0M888 761l-4-1-3 0-3 0M878 760l-4 0-3 0M874 746l4 1 3 0 3 1 4-1 3-1 3-1 3-1 4-1 3 0M904 743l3-1M917 738l3 0 3 0M895 787l0-4 0-3-1-3M894 777l0-4-2-3M828 789l2 3 1 3M898 800l2 3 4 0 3 1M834 750l-2-3-1-3-1-3M845 781l-2 3-3 2-3 1M894 767l-4 0M890 767l-3 0-3-1-4 1M901 801l3 0 2-3 2-3M870 806l2-3M872 803l1-3 2-3 1-3M972 770l4 1-1 3-1 4 1 3-2-3M973 778l-1-3M863 759l4-1M867 758l3 0M944 735l-3 1-3 1-3 2-4 0-3-2-3-1-4 0M911 735l-3-1M798 794l-3 1M795 795l-4 0-3 0M788 795l-3 0-4-2-3-1-2-2-2-3M771 786l-3-1-4 0-3 0M918 797l-3 2-3-1-3 0M909 798l-4-1-3 0M952 743l0-3M952 740l0-4M952 736l0-3 2 3M755 800l3 0M777 843l2-3 0-3 1-4 3-2 3-2 2-2 3-1M773 846l-3 1M770 847l-3 1-4 0M763 848l-3-1-3-1-4 0-3-1-3 0-4 0M743 845l-3-1M740 844l-3-2-3 0M734 842l-4 1M763 820l3-2M774 804l3-1 3-3 0 4M780 804l0 3 1 3 0 4 0 3-1 3M780 820l-3 2-3 1M787 820l2 3 3 2 0 3-1 3M791 831l1 4 1 3M793 838l2 2 2 3M787 820l-2 2-3 3M774 830l-3 2M803 890l-3-1M800 889l-4 0-3 0M793 889l0-3-1-4-1-3M791 879l-2-3M789 876l-3-1-2-2M784 873l-4-1-3 2-3 1 2-3 0-3-2-3 0-4 1-3M815 860l2 3 3 2 3 2 2 2M825 869l2 3M827 872l2 2M829 874l3 2-2 3M830 879l-3 1-3 1M824 881l-4-1-2-2-4-1M816 853l-3-2-3-2M810 849l-2-3-2-3 3 1 4 0M813 844l3 0 3 1M816 853l-4 1-3 0M826 858l-4-1-3 1M831 851l2 3M857 891l-3-1M887 826l1-3M888 823l2-3 2-3 0-3M882 810l-1-3 2 2 4 1 3 1 3 1M893 812l3 0M896 812l4 0 3 0M903 870l3-1M906 869l4-1 2-2 3-1 4-1M855 875l2-3 0-3 2-3M906 866l0 3-3 2-3 1M832 869l-3 2M829 871l1-3M830 868l1-4 0-3-1-3M645 958l-1 4M657 968l2-2M659 966l3-3 2-2 2-2 2-3M620 984l1-4M621 980l2-2 3 2 3 1 3 2 3-2M641 994l2-2 3-3M646 989l2-2M640 991l-1-3-1-3-1-4M637 981l-1-3-2-2M642 981l3 0 3 0M632 1001l3 0M632 1000l3-1 4 1M639 1000l3 1 3-1 4 0 3 0M679 1021l-3 1M676 1022l3-2 3 0 3-2 2-3 3-1 3-2 2-3M676 1015l3-2 4 0M683 1013l3 1-2-3-1-3M683 1008l-1-3 1-4M683 1001l0-3M652 991l-3-1-3-1-3-1-3-2-2-3M638 983l-2-2-2-3-3-2 1 3 1 3M642 994l-2 3-1 3-1 3-1 3M637 1006l-3 3-2 2-1 4 1 3M632 1018l0 3 1-3M693 947l-3-1 3-2M716 924l1 3M714 927l-3 0-3 1-4-1-3-1M712 933l-1-3-1-4-1-3 2 3 2 3 2 2M709 937l3-2M712 935l2-2 4-1-3 2M715 934l-3 2M712 936l-1 3-2 3-3 1-3 3-2 2-3 1M698 949l-3 2-3 0-4-2M693 954l-2 3 0 3 2-2 4-1 3 0M653 1047l3 3 2 3 1 3 0 3 1 4-3-2-3-2M994 966l-1 3-2 3M991 972l-2 3M989 975l-1 3 2-3 1-3 0-3M991 969l-2-3-3-1 3 0M989 965l3 2 2 3M994 970l2 2 3 3 3 0 4 0 3 1M691 841l5 2 5 4 4 5 5 3M702 844l2 3 3 2 5 5" stroke="#cd4548"/><path d="M234 741l1 3 0 4M235 748l0 3M235 751l0 4-1 3M222 762l3-1M225 761l-3-2M222 759l-3-2-3-1-3-2-2-3 2 3 1 4 2 2-3 0M223 759l0-4M219 746l-3 1M235 739l4 0 3-2 2-2M244 735l3-1 3-2 3-1 4 0-3 2M205 761l1-4 1-3 1 3 1 3M231 744l4 0M305 765l1-3M341 744l0-4M261 759l2-2 3-2 3-1 3-2M272 752l3-2 4 0 3-2 2-2 4-1 3-1 3-1M294 743l2-3 2-3 2-3 3 3M313 747l4-1 3-1 3-1 3 0 4 0M330 744l3-1 3 0 4-1 3 0 3 1M346 743l4-1 3 0 3-2M313 747l3 3 3 2 2 2M321 754l3 2 3 1 3-2M308 809l0 3-3 0M305 812l-3 1M290 762l-3 1M287 763l-3 2M284 765l-2 3-2 2M280 770l-3 2-3 1M274 761l3-1 3-2 4 0M284 758l2-2M326 774l2 2 3 3 3 1 3 1 3 1 3 3 3 1M346 786l3 0 3 3 2 2 3 2 3 1 3 1 3 2 3 1 3 1 1 3M303 771l4 1 3 0 3-1 4 0 3-2 3 1 3 0 4-1 3 0 3-2M336 767l3-1M339 766l3-2M313 750l3 1 3 1M319 752l3 1 3 1 4 1 3 1M345 757l3-1M321 762l-4 0M317 762l-3 0-4-1M310 761l-3-1M307 760l-3 0M294 760l-4 0M298 748l-2 3M326 800l0-3 0-4 3-2M329 791l3-2M327 779l4 0M331 779l3-1 3-1M337 777l4-1 3-1M344 775l3-2M399 786l-2 3M388 776l3 0 3 0 4-1M398 775l3-1 3-2M403 768l2-3 3 1M408 766l3 1 3 1M414 768l3 2 4 1M421 771l3 1 3-2-1 3M426 773l-1 4-3 2M388 776l3-1 3 0 4 1 3 0M401 776l3-1 4-1M408 774l3-1M421 772l1 3 1 4 2 3M425 782l1 3 1 3M424 773l1-3M425 770l0-4M418 772l-3 2M415 774l-3 1M412 775l-2 3 0 4-1 3 1 3 0 4M427 775l2 3 1 3M430 781l2 3M394 776l3 2 3 2M404 775l3-2 3 1 3 1M413 775l3 2 4 1 3 1M416 780l-4 1M412 781l-3 2M409 783l-3 1M398 790l-4 0M432 783l3-1M435 782l-3 1M432 783l-3 1M429 784l-3 2-1 3M326 797l2-2 1 4-1 3 0 3-1 4M311 807l-3 2M305 810l-4 0-3 1-1 4-2 2-3 2-3 1-2 3M283 823l-2 3-3 2-3 1M275 829l-4 1-3 0M268 830l-3 2M265 832l-3 1M292 850l-1-3M291 847l0-4-1-3M290 840l-1-3-2-3M287 834l-1-3 0-4 0-3M322 833l-3-2M319 831l-2-2-2-2M315 827l-2-3M313 824l-2-3-2-3M301 807l0-3M284 837l-4 0-2 2-3 3M336 805l4 1 3 2 3 1 3 2 3 1 3 2M281 855l2 3 3 1 4 1 3 1M338 813l-3 1-3 1M332 815l-3 2M341 801l-1 3-1 3M345 836l1 3 1 4M445 1014l4 0M449 1014l3 0 3 0 4 2 2 2M461 1018l-1 4-1 3M421 1002l4 1M425 1003l3 0M404 1093l-1 3 0 3M403 1099l-2 4 0 3M401 1106l-1 3M400 1109l-2 3M398 1112l-1 3M397 1115l-1 3M396 1118l-2 3-3 2-3 2M388 1125l3-2M391 1123l2-2 3-2 3 1M411 1079l-3-2-2-3-2-1M404 1073l-4-2M411 1062l3-2 2-2 2-3 0 4M419 1065l1 4 0 3-3-1-3-1M579 807l3-2M582 805l3-1 3-1 3-2M583 839l3 0 4 0 3 1 3 0M687 832l-3-2-3-1M675 827l-3-2M672 825l-1-3M671 822l3 0M674 822l-1 2M630 796l-4 0-3 0-2 2-2 3M619 801l0 4 1 3 0 3M620 811l0-4-1-3-2-3M617 801l0-4 1-3 1-3 1-3 2-3 2-3 3-2 3-2M630 778l3-1 3-2M580 795l2 3 2 3 1 3M562 823l0 4-1 3M561 830l-1 3 2 3M600 838l-3-1 4 0M601 837l1 3 2 3-3 1M590 838l-3-1M674 795l1 3 1 4M676 802l1 3M677 805l-4-1-3-1-3 1 3-2 2-3M673 775l3 2 4 0 3 1M661 791l3 2 2 2 2 3M668 798l2 3M670 801l3 2M629 808l1-3M630 805l-1-3M629 802l-1-3M628 799l-2-3M626 796l-3-2M632 788l3 0 3 1 4 0M642 789l2 2M651 817l-4-1-3-2-3-1M610 798l-3 0-4 0-3 1-3 1M597 800l-3 1-4 0-3-1M605 794l-3-2M626 813l3 0M681 842l-1 3 2-2M598 804l-1 3 0 4-2 3-1-3-1-3M624 787l3-2 3-1 3-2 2-3M619 792l-3-2M654 735l2 2M656 737l2 3 3 2M634 799l3 2 3 1 3 0M643 802l3-1 3-2M649 799l3-2M653 790l-4-1M649 789l-3 0-4 0M642 789l-3-2-3 0M636 787l-3-1M717 792l2 3 1 3 3 2 3 2M712 783l4 1M640 738l1-4 2-2 2 3M645 735l3 2 2 3 3 0M653 740l4 1M657 741l-4 1-2 2M693 770l-1-3-2-3-2-2-3-2M685 760l-3-1-3-2-2-3M677 754l-3-2-2-3M672 749l3-1 1-4 0-3M631 795l-1-3-3-2-3-2M646 801l-3 2M643 803l-3 0-4 0M636 803l-3-2-3 1M630 802l-3 0M690 767l-3-1-4-1-3 1M680 766l-3-1M677 765l-4 0-3 0M670 765l-3-1M667 764l-3-1M664 763l-4-1M696 790l-3 2-3 1-3 2M656 784l-1-3M655 781l-1-3 0-4-2-3-3-2-2-3-2-2M643 791l3 2M646 793l2 2M648 795l2 2 3 3M653 800l2 3 3 2-3 1 2-3 3-1 3-1 3 0M666 801l4 0M670 801l3 0M660 781l2-2 3-2M737 764l-2-2-4-1M632 788l-3-1-4-1-2-2 2-3-1-3M624 778l1 3M651 794l-3-1-3-1M645 792l-4 1M641 793l-3 0M638 793l-3 1M635 794l-4 1M687 790l0 4 3 2 3 2 3 1M820 802l3-1 3 0M962 757l-3 2M959 759l2-3 1-3 0-3-2-3 0-4-1-3-1-3-3-2M955 735l-4 0M962 757l-3-2-2-2-3-3-2-2-2-3M950 745l-1-3M949 742l-2-3M860 772l4-1 3 0 3 0 3-2 4-1M877 768l2-3 2-2M881 763l3-1 4-1 3 1 3-1M947 734l2 2 0 4-1 3-1 3-2 3M945 749l-2 3-2 2-3 2M896 796l-4 0M892 796l-3 0-3 0M886 796l-4 0M879 795l-4 1-3 1M872 797l-3-3-2-2M881 800l-2-3-2-3-1-4M876 790l-2-2M890 797l4 1 3 2M760 751l-2 3M738 754l3-1 2-3M809 776l3 2 4 0 3 1 2 2 3 3 2 2 2 3M896 797l3-1 3-2 3-3M905 791l3 0M908 791l3-1 4-1M915 789l3 1M918 790l3 0 4 0 3 0 3 1M931 791l4 1M935 792l3 2 3 0M896 797l2 3M845 781l3 2M848 783l3 2 1 3M906 753l3 3 2 2 3 1 3 2M917 761l3 2M897 767l-3 0M908 795l3-1 4 0M915 794l3 0M918 794l3-1 4 0M867 789l-2-3-1-4M864 782l-2-2M862 780l-2-3-3-2-3-1-3-1-3-1M848 772l-4-1-3 0-3-2-3-1-3-2M964 750l3 1M967 751l3 2 3 1-3 2M958 753l-3 0M955 753l-4 0-3 2-3 1-3 0-4 0-3 0-3-2M844 744l1 3 1 4M853 757l4 1 3 1M860 759l3 0M874 758l3 0M842 747l-3 1M839 748l-3 2-3 1-4 0-2 2-3 2-4 0-3 1M894 734l-3-1-3 0M958 751l-3 1M815 791l-3 1-4 1-3 1-3 0-4-1-3-1-3-1-3 0M903 764l3 1 3 0 4-1 3 0M793 734l4-1 3 1 4 0M804 734l3 1 2 2 3 3 3 2 3 1 3 2 2 2 2 3 3 1M828 751l3 1 3 1 4 1M838 754l3 1 3-1M776 734l-3 0-3-2M758 800l4 1M762 801l3 0 3 2M787 808l3 1 3 1 2 3 1 3 1 4M797 820l1 3 1 3 2 3M801 829l2 2 2 3 1 4 2 2 1 4M809 844l1 3 1 3M799 813l3 0 4 0M806 829l1-3M837 832l-3-1-3-2M831 829l-3 0M860 890l2 3 2 3M864 896l-3-2M861 894l-2-3M859 891l-3-2-3 0M843 867l-2-2M635 981l3-2 3 0M641 979l3-1M644 978l4 1M648 979l3 1-2 2M648 987l3-2M651 985l3-2-2 3-2 3-2 3-1 3M629 1003l-1-4M628 999l0-3-2-3-2-2-3-2-3-2 2-2M620 985l3-2 3-2 3-1 3-2 4 0 3 2 3 1M629 1003l3-2M635 1001l4 1 3 0 3 2M645 1004l3-1 4-1M632 1000l-1-3-2-2M629 995l-3-3M626 992l-3-2-3-1M620 989l-2-3 3 0M685 833l2 5 4 3M691 832l3 2 3 3 3 5 2 2" stroke="#a41b2e"/><path d="M226 758l3-2M229 756l3-1 2-3M230 742l-3 0M227 742l-3-1 1-3 3-2 3-1 3-1 3-1-1 3M236 736l-1 3 0 3-1 4 1 3M223 755l0-3M223 752l-1-4M222 748l-3-2M205 761l-3-3-2-3-3-1M197 754l1 3 1 4 1 3M200 764l1-3M341 740l2 3 2 3 2 2 3 3 3 1 3 1M332 768l-2 2M330 770l-2 3M328 773l-2 3M326 776l-3 0-3 2-4 1-3 0-3 1-3 1M332 800l3-2 3-2 3-1 3-1M300 807l-2 2-2 3-3-3-1-3M292 806l-2-3-3-2M302 813l-3-2M299 811l-3-2-3 0M293 809l-4-1-3-1-3-1-4-1M279 805l-3-1M260 799l-3-1-1-4-1-2M308 809l-3 1M305 810l-3 0-3 1-4 1M314 812l0-4 0-3-2-3M312 802l-2-3M310 799l-2-2M308 797l-3-2-3-1-3-1-4-1M263 773l-3 2-2 3-1-4-2-2M255 772l3 2 3 2M322 776l-2-3-3-3M317 770l-2-2-3-1-4-1-2-2M306 764l-3-3-3 0-3-1M297 760l-3 2-4 0M322 776l-3 0-3 3M316 779l-2 2-1 3-2 3-3 2M308 789l-3 2M305 791l-2 2M253 734l2 3M255 737l-2 3 0 4M253 744l-1 3 1 3M253 750l-1 4 3 2 2 3M257 759l1 3 2 2M260 764l2 3M268 769l3-2M271 767l2-3 1-3M286 756l4-1M290 755l3-2 3-1 3-1 3-1 4 0M306 750l3-2M326 774l-2 3-2 2M322 779l-2 3-3 2-2 3-2 2-3 2M310 791l-1 4M302 760l3-1M305 759l4-1M309 758l3 0 3-1 4-1M319 756l3 1 3 0 3 1 4 1 3 2 2 2M310 748l3 2M348 756l4 0M293 739l-3-2-3-2M287 735l1 4M288 739l0 3M307 755l2 2 4 1 3 2M291 755l-1 3M290 758l-2 3M288 761l-1 3-2 3-3 2M282 769l-3 1-3 2-3 0-3-2-3-2-3-1M264 767l-3-2M261 765l-3 0-3-2M255 763l2 2M296 751l-1 3M295 754l-1 3M294 757l-2 3M326 800l3-1M329 799l4 0 3 0M336 799l3-2 4 0 2-2M345 795l3-2 4-1M352 792l3-1M355 791l3-1M358 790l3 1M281 772l3-2M284 770l3-1 4-1M291 768l3 0 3 1M297 769l4-1 3-1 3 1 3 1 4 2 3 1 1 3 3 2 3 2M324 779l3 0M321 769l-2-3M360 749l4-1 3 1 3-1 4 1-4-1-2-3 0-3M276 849l2 3 2 2 2 3 1 3M308 809l-3 1M293 853l3-3 2-2M298 848l3-1 3-2M297 838l-2 3-3 2M266 832l-3-2-3-1M402 1121l-3 2M401 1103l3-1M404 1102l-2 2-3 2-2 3M394 1081l2-3 3-2 4 0 2-2 3-2 3-2 3-2 2-2M416 1066l3-1M381 1073l-3 2M579 807l1-4 0-3 0-3-1 3M579 800l0 3 0 4-2 3-1 3M596 840l3 2M599 842l2 3 3-2 3-1M671 768l3 3M674 771l3 2 2 2 1 3M680 778l2 3M640 772l-3-2M633 791l1 4 0 3 0 3-2 3-4 1-2 3-1 3 0 3M625 814l2-3M627 811l2-3M637 777l1-3M638 774l1-4 2-3 1-3M675 780l3 1 2 3 3 2M645 768l-2 3M643 771l-2 2-3 2-3 1-3 2-3 2-2 3-3 2-3 0-1-4 1 4M621 785l0 3M621 788l2-3M623 785l0-3-1-3-2 2M646 744l-1 3-1 4-1 3 1 3M644 757l-2 3M642 760l0 3M642 763l1 3 3 2 2 2 4 1M652 771l3-2 2-2 3-2M660 765l3-2M663 763l2-2 4-2 2-2 3 0 4 0M678 757l3 2M722 786l3 1 3 1M721 774l3 2M724 776l2 2 3 2 4 0 3 1M736 781l3 1 3 1M693 769l-3-2M687 795l-3-1-4 0-3-2M677 792l-3-2-3 1-3-1M643 791l2-2 4-1 2-2 4-1 2-2 3-2M640 789l-3-2-4 2M737 764l2-3 3-2-1 3M638 791l-3-2-3-1M687 790l-3 1-3 1-4 1-3-1-3 0-4-1M667 791l-3 1-3 2-3 1M658 795l-4 0-3-1M696 799l2 2 3 3 3 1M950 753l-4 1M946 754l-3 0-3 0-4 0M950 753l-2-2-2-3 1-4 1-3M942 737l-3 1M939 738l-4 1M862 781l1 3M863 784l2 3 3 1M860 762l-3 1-3 1-3 2-2 3M849 769l-2 2-3 2-2 3M897 765l-3-2-3-1M891 762l-3-1M912 739l-4 1-3-1-3 1M874 788l-3-2-2-2-4-1M881 800l3-1M884 799l3-2M887 797l3 0M743 750l1-4 0-3 1-3-1-4 0-3-1-3-2-4 1 4M809 776l2 3 4 1M815 780l3 0M851 770l3-1 3-1 4-1 3 0M909 772l-3-2-3-2-3-1-3 0M909 772l-3-2M906 770l-2-3-3-2M901 765l-3-1-3-1M872 792l-3-1-2-2M970 756l-2 3M870 758l4 0M908 734l-3-2-2-2M903 730l-2 3-3 1M898 734l-4 0M944 735l1 3 1 3 1 3 2 3M949 747l2 3 1 3-2-2 0-4M761 785l-3 1-4 0M775 790l-3 1M894 754l-3 0M891 754l-3 0-4 0-3-1M752 726l-3 2-3 2M746 730l-3 2M739 726l1 3 0-3M740 726l1 3-1 3 0-3M785 739l-3-2M782 737l-2-2-4-1M860 789l2-2 3-3M879 776l3-1M882 775l4-1 2-2 3-3M891 769l3-1 3-2 3 0M860 789l0-3 1-4M861 782l-1-3-3-2M857 777l-2-3-2-3M641 994l-1-3M621 986l3-1 4 0 3-1M631 984l2-3 2-2" stroke="#6c0a22"/></g></g>
<text x="70.3" y="383.3" text-anchor="end" class="ml">60°N</text>
<text x="28.4" y="431.3" text-anchor="end" class="ml">30°N</text>
<text x="17.4" y="481.5" text-anchor="end" class="ml">0°</text>
<text x="28.6" y="530.7" text-anchor="end" class="ml">30°S</text>
<text x="509" y="383.3" text-anchor="start" class="ml">60°N</text>
<text x="76.57" y="590.4" text-anchor="middle" class="ml">180°</text>
<text x="147.58" y="590.4" text-anchor="middle" class="ml">120°W</text>
<text x="218.59" y="590.4" text-anchor="middle" class="ml">60°W</text>
<text x="289.6" y="590.4" text-anchor="middle" class="ml">0°</text>
<text x="360.61" y="590.4" text-anchor="middle" class="ml">60°E</text>
<text x="431.62" y="590.4" text-anchor="middle" class="ml">120°E</text>
<text x="502.63" y="590.4" text-anchor="middle" class="ml">180°</text>
<text x="0" y="347.3" class="let">c</text>
<rect x="129.3" y="596.8" width="46.14" height="8" fill="#5a9bc8"/>
<rect x="175.14" y="596.8" width="46.14" height="8" fill="#a5cfe3"/>
<rect x="220.99" y="596.8" width="46.14" height="8" fill="#eaf1f5"/>
<rect x="266.83" y="596.8" width="46.14" height="8" fill="#f6d8c6"/>
<rect x="312.67" y="596.8" width="46.14" height="8" fill="#e58c70"/>
<rect x="358.51" y="596.8" width="46.14" height="8" fill="#c7343d"/>
<rect x="404.36" y="596.8" width="46.14" height="8" fill="#6b0b22"/>
<rect x="129.3" y="596.8" width="320.9" height="8" fill="none" stroke="#1a1a1a" stroke-width="0.8"/>
<path d="M129.3 604.8v3.2M175.14 604.8v3.2M220.99 604.8v3.2M266.83 604.8v3.2M312.67 604.8v3.2M358.51 604.8v3.2M404.36 604.8v3.2M450.2 604.8v3.2" stroke="#1a1a1a" stroke-width="0.8"/>
<text x="129.3" y="622.5" text-anchor="middle" class="cb">-0.09</text>
<text x="175.14" y="622.5" text-anchor="middle" class="cb">-0.06</text>
<text x="220.99" y="622.5" text-anchor="middle" class="cb">-0.03</text>
<text x="266.83" y="622.5" text-anchor="middle" class="cb">0.00</text>
<text x="312.67" y="622.5" text-anchor="middle" class="cb">0.03</text>
<text x="358.51" y="622.5" text-anchor="middle" class="cb">0.06</text>
<text x="404.36" y="622.5" text-anchor="middle" class="cb">0.09</text>
<text x="450.2" y="622.5" text-anchor="middle" class="cb">0.12</text>
<text x="290.2" y="642.7" text-anchor="middle" class="cbl">Average intensity trend (°C decade<tspan dx="1.2" dy="-5.6" font-size="9.8">−1</tspan><tspan dx="1" dy="5.6">)</tspan></text>
<rect x="64.3" y="489.3" width="96.5" height="69.8" fill="#fff"/>
<g fill="#d3e6f1" stroke="#76acd2" stroke-width="0.5"><rect x="64.46" y="558.34" width="4.82" height="0.76"/><rect x="69.28" y="557.77" width="4.82" height="1.33"/><rect x="74.09" y="556.69" width="4.82" height="2.41"/><rect x="78.91" y="554.48" width="4.82" height="4.62"/><rect x="83.73" y="550.23" width="4.82" height="8.87"/><rect x="88.55" y="541" width="4.82" height="18.1"/><rect x="93.36" y="528.04" width="4.82" height="31.06"/><rect x="98.18" y="505.52" width="4.82" height="53.58"/><rect x="103" y="490.38" width="4.82" height="68.72"/><rect x="107.82" y="501.69" width="4.82" height="57.41"/><rect x="112.63" y="519.56" width="4.82" height="39.54"/><rect x="117.45" y="538.46" width="4.82" height="20.64"/><rect x="122.27" y="547.46" width="4.82" height="11.64"/><rect x="127.09" y="553.01" width="4.82" height="6.09"/><rect x="131.91" y="555.62" width="4.82" height="3.48"/><rect x="136.72" y="557.1" width="4.82" height="2"/><rect x="141.54" y="557.99" width="4.82" height="1.11"/><rect x="146.36" y="558.4" width="4.82" height="0.7"/><rect x="151.17" y="558.65" width="4.82" height="0.45"/><rect x="155.99" y="558.78" width="4.82" height="0.32"/></g>
<path d="M64.46 558.52L65.27 558.47L66.08 558.41L66.89 558.35L67.7 558.28L68.51 558.2L69.32 558.12L70.13 558.02L70.94 557.92L71.75 557.8L72.56 557.67L73.37 557.52L74.18 557.36L74.99 557.18L75.8 556.98L76.6 556.75L77.41 556.49L78.22 556.2L79.03 555.87L79.84 555.51L80.65 555.09L81.46 554.63L82.27 554.1L83.08 553.51L83.89 552.83L84.7 552.08L85.51 551.22L86.32 550.25L87.13 549.16L87.94 547.93L88.75 546.54L89.56 544.99L90.37 543.26L91.18 541.32L91.99 539.18L92.8 536.81L93.61 534.22L94.42 531.4L95.23 528.35L96.04 525.11L96.85 521.69L97.66 518.15L98.47 514.53L99.28 510.92L100.09 507.41L100.89 504.09L101.7 501.07L102.51 498.46L103.32 496.36L104.13 494.86L104.94 494.02L105.75 493.87L106.56 494.33L107.37 495.35L108.18 496.89L108.99 498.89L109.8 501.3L110.61 504.03L111.42 507L112.23 510.14L113.04 513.38L113.85 516.64L114.66 519.86L115.47 523.01L116.28 526.04L117.09 528.92L117.9 531.63L118.71 534.17L119.52 536.52L120.33 538.68L121.14 540.67L121.95 542.47L122.76 544.12L123.57 545.61L124.38 546.95L125.18 548.16L125.99 549.25L126.8 550.23L127.61 551.11L128.42 551.9L129.23 552.6L130.04 553.24L130.85 553.8L131.66 554.31L132.47 554.77L133.28 555.17L134.09 555.54L134.9 555.87L135.71 556.16L136.52 556.43L137.33 556.67L138.14 556.88L138.95 557.08L139.76 557.25L140.57 557.41L141.38 557.55L142.19 557.68L143 557.8L143.81 557.9L144.62 558L145.43 558.09L146.24 558.17L147.05 558.24L147.86 558.3L148.67 558.37L149.47 558.42L150.28 558.47L151.09 558.52L151.9 558.56L152.71 558.6L153.52 558.63L154.33 558.66L155.14 558.69L155.95 558.72L156.76 558.75L157.57 558.77L158.38 558.79L159.19 558.81L160 558.83L160.81 558.85" fill="none" stroke="#22427f" stroke-width="1.9" stroke-dasharray="4.5 2"/>
<path d="M64.3 489.3V559.1H160.8" fill="none" stroke="#333" stroke-width="0.8"/>
<path d="M64.3 559.1h-3.3M64.3 517.8h-3.3M103 559.1v3M160.81 559.1v3" stroke="#333" stroke-width="0.8"/>
<text x="57.4" y="563.5" text-anchor="end" class="iy">0</text>
<text x="57.4" y="522.2" text-anchor="end" class="iy">5</text>
<text x="103" y="575.2" text-anchor="middle" class="ih">0.0</text>
<text x="160.81" y="575.2" text-anchor="middle" class="ih">0.3</text>
<text transform="translate(45.4 525.3) rotate(-90)" text-anchor="middle" class="ihl">Density</text>
<text x="537.3" y="24.8" class="let">b</text>
<g clip-path="url(#clipb)"><rect x="554" y="30.7" width="84" height="1.7" fill="url(#go)" opacity="0.7"/><rect x="583" y="30.7" width="26" height="1.7" fill="url(#gc)" opacity="0.7"/><rect x="553.56" y="32.34" width="84.89" height="1.7" fill="url(#go)" opacity="0.77"/><rect x="582.78" y="32.34" width="26.44" height="1.7" fill="url(#gc)" opacity="0.77"/><rect x="553.11" y="33.98" width="85.78" height="1.7" fill="url(#go)" opacity="0.83"/><rect x="582.56" y="33.98" width="26.89" height="1.7" fill="url(#gc)" opacity="0.83"/><rect x="552.67" y="35.62" width="86.67" height="1.7" fill="url(#go)" opacity="0.9"/><rect x="582.33" y="35.62" width="27.33" height="1.7" fill="url(#gc)" opacity="0.9"/><rect x="552.22" y="37.26" width="87.56" height="1.7" fill="url(#go)" opacity="0.97"/><rect x="582.11" y="37.26" width="27.78" height="1.7" fill="url(#gc)" opacity="0.97"/><rect x="552" y="38.9" width="88" height="1.7" fill="url(#go)" opacity="1"/><rect x="582" y="38.9" width="28" height="1.7" fill="url(#gc)" opacity="1"/><rect x="552" y="40.54" width="88" height="1.7" fill="url(#go)" opacity="1"/><rect x="582" y="40.54" width="28" height="1.7" fill="url(#gc)" opacity="1"/><rect x="552" y="42.18" width="88" height="1.7" fill="url(#go)" opacity="1"/><rect x="582" y="42.18" width="28" height="1.7" fill="url(#gc)" opacity="1"/><rect x="552" y="43.82" width="88" height="1.7" fill="url(#go)" opacity="1"/><rect x="582" y="43.82" width="28" height="1.7" fill="url(#gc)" opacity="1"/><rect x="552" y="45.46" width="88" height="1.7" fill="url(#go)" opacity="1"/><rect x="582" y="45.46" width="28" height="1.7" fill="url(#gc)" opacity="1"/><rect x="552" y="47.1" width="88" height="1.7" fill="url(#go)" opacity="1"/><rect x="582" y="47.1" width="28" height="1.7" fill="url(#gc)" opacity="1"/><rect x="552" y="48.74" width="88" height="1.7" fill="url(#go)" opacity="1"/><rect x="582" y="48.74" width="28" height="1.7" fill="url(#gc)" opacity="1"/><rect x="552" y="50.38" width="88" height="1.7" fill="url(#go)" opacity="1"/><rect x="582" y="50.38" width="28" height="1.7" fill="url(#gc)" opacity="1"/><rect x="552" y="52.02" width="88" height="1.7" fill="url(#go)" opacity="1"/><rect x="582" y="52.02" width="28" height="1.7" fill="url(#gc)" opacity="1"/><rect x="552" y="53.66" width="88" height="1.7" fill="url(#go)" opacity="1"/><rect x="582" y="53.66" width="28" height="1.7" fill="url(#gc)" opacity="1"/><rect x="552" y="55.3" width="88" height="1.7" fill="url(#go)" opacity="1"/><rect x="582" y="55.3" width="28" height="1.7" fill="url(#gc)" opacity="1"/><rect x="552" y="56.94" width="88" height="1.7" fill="url(#go)" opacity="1"/><rect x="582" y="56.94" width="28" height="1.7" fill="url(#gc)" opacity="1"/><rect x="552" y="58.58" width="88" height="1.7" fill="url(#go)" opacity="1"/><rect x="582" y="58.58" width="28" height="1.7" fill="url(#gc)" opacity="1"/><rect x="552" y="60.22" width="88" height="1.7" fill="url(#go)" opacity="1"/><rect x="582" y="60.22" width="28" height="1.7" fill="url(#gc)" opacity="1"/><rect x="552" y="61.86" width="88" height="1.7" fill="url(#go)" opacity="1"/><rect x="582" y="61.86" width="28" height="1.7" fill="url(#gc)" opacity="1"/><rect x="552" y="63.5" width="88" height="1.7" fill="url(#go)" opacity="1"/><rect x="582" y="63.5" width="28" height="1.7" fill="url(#gc)" opacity="1"/><rect x="552" y="65.14" width="88" height="1.7" fill="url(#go)" opacity="1"/><rect x="582" y="65.14" width="28" height="1.7" fill="url(#gc)" opacity="1"/><rect x="552" y="66.78" width="88" height="1.7" fill="url(#go)" opacity="1"/><rect x="582" y="66.78" width="28" height="1.7" fill="url(#gc)" opacity="1"/><rect x="552.05" y="68.42" width="87.8" height="1.7" fill="url(#go)" opacity="1"/><rect x="582" y="68.42" width="27.9" height="1.7" fill="url(#gc)" opacity="1"/><rect x="552.15" y="70.06" width="87.4" height="1.7" fill="url(#go)" opacity="1"/><rect x="582" y="70.06" width="27.7" height="1.7" fill="url(#gc)" opacity="1"/><rect x="552.25" y="71.7" width="87" height="1.7" fill="url(#go)" opacity="1"/><rect x="582" y="71.7" width="27.5" height="1.7" fill="url(#gc)" opacity="1"/><rect x="552.35" y="73.34" width="86.6" height="1.7" fill="url(#go)" opacity="1"/><rect x="582" y="73.34" width="27.3" height="1.7" fill="url(#gc)" opacity="1"/><rect x="552.45" y="74.98" width="86.2" height="1.7" fill="url(#go)" opacity="1"/><rect x="582" y="74.98" width="27.1" height="1.7" fill="url(#gc)" opacity="1"/><rect x="552.55" y="76.62" width="85.8" height="1.7" fill="url(#go)" opacity="1"/><rect x="582" y="76.62" width="26.9" height="1.7" fill="url(#gc)" opacity="1"/><rect x="552.65" y="78.26" width="85.4" height="1.7" fill="url(#go)" opacity="1"/><rect x="582" y="78.26" width="26.7" height="1.7" fill="url(#gc)" opacity="1"/><rect x="552.75" y="79.9" width="85" height="1.7" fill="url(#go)" opacity="1"/><rect x="582" y="79.9" width="26.5" height="1.7" fill="url(#gc)" opacity="1"/><rect x="552.85" y="81.54" width="84.6" height="1.7" fill="url(#go)" opacity="1"/><rect x="582" y="81.54" width="26.3" height="1.7" fill="url(#gc)" opacity="1"/><rect x="552.95" y="83.18" width="84.2" height="1.7" fill="url(#go)" opacity="1"/><rect x="582" y="83.18" width="26.1" height="1.7" fill="url(#gc)" opacity="1"/><rect x="553.15" y="84.82" width="83.6" height="1.7" fill="url(#go)" opacity="1"/><rect x="582" y="84.82" width="25.9" height="1.7" fill="url(#gc)" opacity="1"/><rect x="553.45" y="86.46" width="82.8" height="1.7" fill="url(#go)" opacity="0.99"/><rect x="582" y="86.46" width="25.7" height="1.7" fill="url(#gc)" opacity="0.99"/><rect x="553.75" y="88.1" width="82" height="1.7" fill="url(#go)" opacity="0.99"/><rect x="582" y="88.1" width="25.5" height="1.7" fill="url(#gc)" opacity="0.99"/><rect x="554.05" y="89.74" width="81.2" height="1.7" fill="url(#go)" opacity="0.98"/><rect x="582" y="89.74" width="25.3" height="1.7" fill="url(#gc)" opacity="0.98"/><rect x="554.35" y="91.38" width="80.4" height="1.7" fill="url(#go)" opacity="0.98"/><rect x="582" y="91.38" width="25.1" height="1.7" fill="url(#gc)" opacity="0.98"/><rect x="554.65" y="93.02" width="79.6" height="1.7" fill="url(#go)" opacity="0.97"/><rect x="582" y="93.02" width="24.9" height="1.7" fill="url(#gc)" opacity="0.97"/><rect x="554.95" y="94.66" width="78.8" height="1.7" fill="url(#go)" opacity="0.97"/><rect x="582" y="94.66" width="24.7" height="1.7" fill="url(#gc)" opacity="0.97"/><rect x="555.25" y="96.3" width="78" height="1.7" fill="url(#go)" opacity="0.96"/><rect x="582" y="96.3" width="24.5" height="1.7" fill="url(#gc)" opacity="0.96"/><rect x="555.55" y="97.94" width="77.2" height="1.7" fill="url(#go)" opacity="0.96"/><rect x="582" y="97.94" width="24.3" height="1.7" fill="url(#gc)" opacity="0.96"/><rect x="555.85" y="99.58" width="76.4" height="1.7" fill="url(#go)" opacity="0.95"/><rect x="582" y="99.58" width="24.1" height="1.7" fill="url(#gc)" opacity="0.95"/><rect x="556.2" y="101.22" width="75.6" height="1.7" fill="url(#go)" opacity="0.95"/><rect x="582.05" y="101.22" width="23.9" height="1.7" fill="url(#gc)" opacity="0.95"/><rect x="556.6" y="102.86" width="74.8" height="1.7" fill="url(#go)" opacity="0.95"/><rect x="582.15" y="102.86" width="23.7" height="1.7" fill="url(#gc)" opacity="0.95"/><rect x="557" y="104.5" width="74" height="1.7" fill="url(#go)" opacity="0.95"/><rect x="582.25" y="104.5" width="23.5" height="1.7" fill="url(#gc)" opacity="0.95"/><rect x="557.4" y="106.14" width="73.2" height="1.7" fill="url(#go)" opacity="0.95"/><rect x="582.35" y="106.14" width="23.3" height="1.7" fill="url(#gc)" opacity="0.95"/><rect x="557.8" y="107.78" width="72.4" height="1.7" fill="url(#go)" opacity="0.95"/><rect x="582.45" y="107.78" width="23.1" height="1.7" fill="url(#gc)" opacity="0.95"/><rect x="558.2" y="109.42" width="71.6" height="1.7" fill="url(#go)" opacity="0.95"/><rect x="582.55" y="109.42" width="22.9" height="1.7" fill="url(#gc)" opacity="0.95"/><rect x="558.6" y="111.06" width="70.8" height="1.7" fill="url(#go)" opacity="0.95"/><rect x="582.65" y="111.06" width="22.7" height="1.7" fill="url(#gc)" opacity="0.95"/><rect x="559" y="112.7" width="70" height="1.7" fill="url(#go)" opacity="0.95"/><rect x="582.75" y="112.7" width="22.5" height="1.7" fill="url(#gc)" opacity="0.95"/><rect x="559.4" y="114.34" width="69.2" height="1.7" fill="url(#go)" opacity="0.95"/><rect x="582.85" y="114.34" width="22.3" height="1.7" fill="url(#gc)" opacity="0.95"/><rect x="559.8" y="115.98" width="68.4" height="1.7" fill="url(#go)" opacity="0.95"/><rect x="582.95" y="115.98" width="22.1" height="1.7" fill="url(#gc)" opacity="0.95"/><rect x="560" y="117.62" width="68.2" height="1.7" fill="url(#go)" opacity="0.95"/><rect x="583.05" y="117.62" width="22.1" height="1.7" fill="url(#gc)" opacity="0.95"/><rect x="560" y="119.26" width="68.6" height="1.7" fill="url(#go)" opacity="0.95"/><rect x="583.15" y="119.26" width="22.3" height="1.7" fill="url(#gc)" opacity="0.95"/><rect x="560" y="120.9" width="69" height="1.7" fill="url(#go)" opacity="0.95"/><rect x="583.25" y="120.9" width="22.5" height="1.7" fill="url(#gc)" opacity="0.95"/><rect x="560" y="122.54" width="69.4" height="1.7" fill="url(#go)" opacity="0.95"/><rect x="583.35" y="122.54" width="22.7" height="1.7" fill="url(#gc)" opacity="0.95"/><rect x="560" y="124.18" width="69.8" height="1.7" fill="url(#go)" opacity="0.95"/><rect x="583.45" y="124.18" width="22.9" height="1.7" fill="url(#gc)" opacity="0.95"/><rect x="560" y="125.82" width="70.2" height="1.7" fill="url(#go)" opacity="0.95"/><rect x="583.55" y="125.82" width="23.1" height="1.7" fill="url(#gc)" opacity="0.95"/><rect x="560" y="127.46" width="70.6" height="1.7" fill="url(#go)" opacity="0.95"/><rect x="583.65" y="127.46" width="23.3" height="1.7" fill="url(#gc)" opacity="0.95"/><rect x="560" y="129.1" width="71" height="1.7" fill="url(#go)" opacity="0.95"/><rect x="583.75" y="129.1" width="23.5" height="1.7" fill="url(#gc)" opacity="0.95"/><rect x="560" y="130.74" width="71.4" height="1.7" fill="url(#go)" opacity="0.95"/><rect x="583.85" y="130.74" width="23.7" height="1.7" fill="url(#gc)" opacity="0.95"/><rect x="560" y="132.38" width="71.8" height="1.7" fill="url(#go)" opacity="0.95"/><rect x="583.95" y="132.38" width="23.9" height="1.7" fill="url(#gc)" opacity="0.95"/><rect x="559.93" y="134.02" width="72.57" height="1.7" fill="url(#go)" opacity="0.95"/><rect x="584.07" y="134.02" width="24.29" height="1.7" fill="url(#gc)" opacity="0.95"/><rect x="559.79" y="135.66" width="73.71" height="1.7" fill="url(#go)" opacity="0.96"/><rect x="584.21" y="135.66" width="24.86" height="1.7" fill="url(#gc)" opacity="0.96"/><rect x="559.64" y="137.3" width="74.86" height="1.7" fill="url(#go)" opacity="0.97"/><rect x="584.36" y="137.3" width="25.43" height="1.7" fill="url(#gc)" opacity="0.97"/><rect x="559.5" y="138.94" width="76" height="1.7" fill="url(#go)" opacity="0.97"/><rect x="584.5" y="138.94" width="26" height="1.7" fill="url(#gc)" opacity="0.97"/><rect x="559.36" y="140.58" width="77.14" height="1.7" fill="url(#go)" opacity="0.98"/><rect x="584.64" y="140.58" width="26.57" height="1.7" fill="url(#gc)" opacity="0.98"/><rect x="559.21" y="142.22" width="78.29" height="1.7" fill="url(#go)" opacity="0.99"/><rect x="584.79" y="142.22" width="27.14" height="1.7" fill="url(#gc)" opacity="0.99"/><rect x="559.07" y="143.86" width="79.43" height="1.7" fill="url(#go)" opacity="1"/><rect x="584.93" y="143.86" width="27.71" height="1.7" fill="url(#gc)" opacity="1"/><rect x="559.06" y="145.5" width="80.25" height="1.7" fill="url(#go)" opacity="1"/><rect x="585.06" y="145.5" width="28.25" height="1.7" fill="url(#gc)" opacity="1"/><rect x="559.19" y="147.14" width="80.75" height="1.7" fill="url(#go)" opacity="1"/><rect x="585.19" y="147.14" width="28.75" height="1.7" fill="url(#gc)" opacity="1"/><rect x="559.31" y="148.78" width="81.25" height="1.7" fill="url(#go)" opacity="1"/><rect x="585.31" y="148.78" width="29.25" height="1.7" fill="url(#gc)" opacity="1"/><rect x="559.44" y="150.42" width="81.75" height="1.7" fill="url(#go)" opacity="1"/><rect x="585.44" y="150.42" width="29.75" height="1.7" fill="url(#gc)" opacity="1"/><rect x="559.56" y="152.06" width="82.25" height="1.7" fill="url(#go)" opacity="1"/><rect x="585.56" y="152.06" width="30.25" height="1.7" fill="url(#gc)" opacity="1"/><rect x="559.69" y="153.7" width="82.75" height="1.7" fill="url(#go)" opacity="1"/><rect x="585.69" y="153.7" width="30.75" height="1.7" fill="url(#gc)" opacity="1"/><rect x="559.81" y="155.34" width="83.25" height="1.7" fill="url(#go)" opacity="1"/><rect x="585.81" y="155.34" width="31.25" height="1.7" fill="url(#gc)" opacity="1"/><rect x="559.94" y="156.98" width="83.75" height="1.7" fill="url(#go)" opacity="1"/><rect x="585.94" y="156.98" width="31.75" height="1.7" fill="url(#gc)" opacity="1"/><rect x="560.21" y="158.62" width="83.14" height="1.7" fill="url(#go)" opacity="1"/><rect x="586" y="158.62" width="31.57" height="1.7" fill="url(#gc)" opacity="1"/><rect x="560.64" y="160.26" width="81.43" height="1.7" fill="url(#go)" opacity="1"/><rect x="586" y="160.26" width="30.71" height="1.7" fill="url(#gc)" opacity="1"/><rect x="561.07" y="161.9" width="79.71" height="1.7" fill="url(#go)" opacity="1"/><rect x="586" y="161.9" width="29.86" height="1.7" fill="url(#gc)" opacity="1"/><rect x="561.5" y="163.54" width="78" height="1.7" fill="url(#go)" opacity="1"/><rect x="586" y="163.54" width="29" height="1.7" fill="url(#gc)" opacity="1"/><rect x="561.93" y="165.18" width="76.29" height="1.7" fill="url(#go)" opacity="1"/><rect x="586" y="165.18" width="28.14" height="1.7" fill="url(#gc)" opacity="1"/><rect x="562.36" y="166.82" width="74.57" height="1.7" fill="url(#go)" opacity="1"/><rect x="586" y="166.82" width="27.29" height="1.7" fill="url(#gc)" opacity="1"/><rect x="562.79" y="168.46" width="72.86" height="1.7" fill="url(#go)" opacity="1"/><rect x="586" y="168.46" width="26.43" height="1.7" fill="url(#gc)" opacity="1"/><rect x="563.19" y="170.1" width="71.25" height="1.7" fill="url(#go)" opacity="1"/><rect x="585.94" y="170.1" width="25.75" height="1.7" fill="url(#gc)" opacity="1"/><rect x="563.56" y="171.74" width="69.75" height="1.7" fill="url(#go)" opacity="0.99"/><rect x="585.81" y="171.74" width="25.25" height="1.7" fill="url(#gc)" opacity="0.99"/><rect x="563.94" y="173.38" width="68.25" height="1.7" fill="url(#go)" opacity="0.98"/><rect x="585.69" y="173.38" width="24.75" height="1.7" fill="url(#gc)" opacity="0.98"/><rect x="564.31" y="175.02" width="66.75" height="1.7" fill="url(#go)" opacity="0.98"/><rect x="585.56" y="175.02" width="24.25" height="1.7" fill="url(#gc)" opacity="0.98"/><rect x="564.69" y="176.66" width="65.25" height="1.7" fill="url(#go)" opacity="0.97"/><rect x="585.44" y="176.66" width="23.75" height="1.7" fill="url(#gc)" opacity="0.97"/><rect x="565.06" y="178.3" width="63.75" height="1.7" fill="url(#go)" opacity="0.97"/><rect x="585.31" y="178.3" width="23.25" height="1.7" fill="url(#gc)" opacity="0.97"/><rect x="565.44" y="179.94" width="62.25" height="1.7" fill="url(#go)" opacity="0.96"/><rect x="585.19" y="179.94" width="22.75" height="1.7" fill="url(#gc)" opacity="0.96"/><rect x="565.81" y="181.58" width="60.75" height="1.7" fill="url(#go)" opacity="0.95"/><rect x="585.06" y="181.58" width="22.25" height="1.7" fill="url(#gc)" opacity="0.95"/><rect x="566.25" y="183.22" width="59.4" height="1.7" fill="url(#go)" opacity="0.95"/><rect x="585.05" y="183.22" width="21.8" height="1.7" fill="url(#gc)" opacity="0.95"/><rect x="566.75" y="184.86" width="58.2" height="1.7" fill="url(#go)" opacity="0.94"/><rect x="585.15" y="184.86" width="21.4" height="1.7" fill="url(#gc)" opacity="0.94"/><rect x="567.25" y="186.5" width="57" height="1.7" fill="url(#go)" opacity="0.94"/><rect x="585.25" y="186.5" width="21" height="1.7" fill="url(#gc)" opacity="0.94"/><rect x="567.75" y="188.14" width="55.8" height="1.7" fill="url(#go)" opacity="0.93"/><rect x="585.35" y="188.14" width="20.6" height="1.7" fill="url(#gc)" opacity="0.93"/><rect x="568.25" y="189.78" width="54.6" height="1.7" fill="url(#go)" opacity="0.93"/><rect x="585.45" y="189.78" width="20.2" height="1.7" fill="url(#gc)" opacity="0.93"/><rect x="568.75" y="191.42" width="53.4" height="1.7" fill="url(#go)" opacity="0.92"/><rect x="585.55" y="191.42" width="19.8" height="1.7" fill="url(#gc)" opacity="0.92"/><rect x="569.25" y="193.06" width="52.2" height="1.7" fill="url(#go)" opacity="0.92"/><rect x="585.65" y="193.06" width="19.4" height="1.7" fill="url(#gc)" opacity="0.92"/><rect x="569.75" y="194.7" width="51" height="1.7" fill="url(#go)" opacity="0.91"/><rect x="585.75" y="194.7" width="19" height="1.7" fill="url(#gc)" opacity="0.91"/><rect x="570.25" y="196.34" width="49.8" height="1.7" fill="url(#go)" opacity="0.91"/><rect x="585.85" y="196.34" width="18.6" height="1.7" fill="url(#gc)" opacity="0.91"/><rect x="570.75" y="197.98" width="48.6" height="1.7" fill="url(#go)" opacity="0.9"/><rect x="585.95" y="197.98" width="18.2" height="1.7" fill="url(#gc)" opacity="0.9"/><rect x="571.3" y="199.62" width="47.4" height="1.7" fill="url(#go)" opacity="0.9"/><rect x="586.05" y="199.62" width="17.9" height="1.7" fill="url(#gc)" opacity="0.9"/><rect x="571.9" y="201.26" width="46.2" height="1.7" fill="url(#go)" opacity="0.89"/><rect x="586.15" y="201.26" width="17.7" height="1.7" fill="url(#gc)" opacity="0.89"/><rect x="572.5" y="202.9" width="45" height="1.7" fill="url(#go)" opacity="0.88"/><rect x="586.25" y="202.9" width="17.5" height="1.7" fill="url(#gc)" opacity="0.88"/><rect x="573.1" y="204.54" width="43.8" height="1.7" fill="url(#go)" opacity="0.86"/><rect x="586.35" y="204.54" width="17.3" height="1.7" fill="url(#gc)" opacity="0.86"/><rect x="573.7" y="206.18" width="42.6" height="1.7" fill="url(#go)" opacity="0.85"/><rect x="586.45" y="206.18" width="17.1" height="1.7" fill="url(#gc)" opacity="0.85"/><rect x="574.3" y="207.82" width="41.4" height="1.7" fill="url(#go)" opacity="0.85"/><rect x="586.55" y="207.82" width="16.9" height="1.7" fill="url(#gc)" opacity="0.85"/><rect x="574.9" y="209.46" width="40.2" height="1.7" fill="url(#go)" opacity="0.84"/><rect x="586.65" y="209.46" width="16.7" height="1.7" fill="url(#gc)" opacity="0.84"/><rect x="575.5" y="211.1" width="39" height="1.7" fill="url(#go)" opacity="0.83"/><rect x="586.75" y="211.1" width="16.5" height="1.7" fill="url(#gc)" opacity="0.83"/><rect x="576.1" y="212.74" width="37.8" height="1.7" fill="url(#go)" opacity="0.82"/><rect x="586.85" y="212.74" width="16.3" height="1.7" fill="url(#gc)" opacity="0.82"/><rect x="576.7" y="214.38" width="36.6" height="1.7" fill="url(#go)" opacity="0.81"/><rect x="586.95" y="214.38" width="16.1" height="1.7" fill="url(#gc)" opacity="0.81"/><rect x="577.38" y="216.02" width="35.25" height="1.7" fill="url(#go)" opacity="0.79"/><rect x="587.12" y="216.02" width="15.75" height="1.7" fill="url(#gc)" opacity="0.79"/><rect x="578.12" y="217.66" width="33.75" height="1.7" fill="url(#go)" opacity="0.78"/><rect x="587.38" y="217.66" width="15.25" height="1.7" fill="url(#gc)" opacity="0.78"/><rect x="578.88" y="219.3" width="32.25" height="1.7" fill="url(#go)" opacity="0.77"/><rect x="587.62" y="219.3" width="14.75" height="1.7" fill="url(#gc)" opacity="0.77"/><rect x="579.62" y="220.94" width="30.75" height="1.7" fill="url(#go)" opacity="0.76"/><rect x="587.88" y="220.94" width="14.25" height="1.7" fill="url(#gc)" opacity="0.76"/><rect x="580.38" y="222.58" width="29.25" height="1.7" fill="url(#go)" opacity="0.74"/><rect x="588.12" y="222.58" width="13.75" height="1.7" fill="url(#gc)" opacity="0.74"/><rect x="581.12" y="224.22" width="27.75" height="1.7" fill="url(#go)" opacity="0.73"/><rect x="588.38" y="224.22" width="13.25" height="1.7" fill="url(#gc)" opacity="0.73"/><rect x="581.88" y="225.86" width="26.25" height="1.7" fill="url(#go)" opacity="0.72"/><rect x="588.62" y="225.86" width="12.75" height="1.7" fill="url(#gc)" opacity="0.72"/><rect x="582.62" y="227.5" width="24.75" height="1.7" fill="url(#go)" opacity="0.71"/><rect x="588.88" y="227.5" width="12.25" height="1.7" fill="url(#gc)" opacity="0.71"/><rect x="583.4" y="229.14" width="23.2" height="1.7" fill="url(#go)" opacity="0.67"/><rect x="589.2" y="229.14" width="11.6" height="1.7" fill="url(#gc)" opacity="0.67"/><rect x="584.2" y="230.78" width="21.6" height="1.7" fill="url(#go)" opacity="0.61"/><rect x="589.6" y="230.78" width="10.8" height="1.7" fill="url(#gc)" opacity="0.61"/><rect x="585" y="232.42" width="20" height="1.7" fill="url(#go)" opacity="0.55"/><rect x="590" y="232.42" width="10" height="1.7" fill="url(#gc)" opacity="0.55"/><rect x="585.8" y="234.06" width="18.4" height="1.7" fill="url(#go)" opacity="0.49"/><rect x="590.4" y="234.06" width="9.2" height="1.7" fill="url(#gc)" opacity="0.49"/><rect x="586.6" y="235.7" width="16.8" height="1.7" fill="url(#go)" opacity="0.43"/><rect x="590.8" y="235.7" width="8.4" height="1.7" fill="url(#gc)" opacity="0.43"/><rect x="587.5" y="237.34" width="15" height="1.7" fill="url(#go)" opacity="0.35"/><rect x="591.17" y="237.34" width="7.67" height="1.7" fill="url(#gc)" opacity="0.35"/><rect x="588.5" y="238.98" width="13" height="1.7" fill="url(#go)" opacity="0.25"/><rect x="591.5" y="238.98" width="7" height="1.7" fill="url(#gc)" opacity="0.25"/><rect x="589.5" y="240.62" width="11" height="1.7" fill="url(#go)" opacity="0.15"/><rect x="591.83" y="240.62" width="6.33" height="1.7" fill="url(#gc)" opacity="0.15"/><path d="M596.2 75.2h0.9M596.1 65.3h1.6M593.4 89.4h2.5M605.1 161.1h1.6M601.2 192.8h1.6M606.8 180.4h2.0M586.3 100.2h1.9M594.9 190.3h1.5M590.3 205.0h1.5M591.4 131.7h0.9M594.3 116.4h1.1M605.2 79.1h1.7M583.7 40.7h1.6M597.4 184.7h2.2M595.3 68.5h2.1M587.3 58.1h1.2M586.0 135.1h1.8M597.5 235.5h2.3M593.0 187.6h0.8M590.5 188.8h1.9M611.0 168.9h1.1M596.7 201.8h2.4M589.3 207.7h1.2M598.4 188.3h2.3M591.8 38.7h1.1M588.5 58.6h1.5M602.0 51.8h2.6M586.8 96.6h2.6M602.4 192.0h2.4M599.0 196.6h1.9M586.2 64.2h2.4M591.4 185.2h1.8M589.4 46.5h2.3M594.2 206.2h2.1M615.0 161.7h1.3M589.3 140.9h2.0M599.0 233.1h1.9M597.6 146.6h0.9M606.5 49.0h1.2M593.6 127.0h2.0M592.0 186.8h0.9M613.7 147.0h2.0M589.2 43.2h1.4M592.6 237.1h0.9M596.1 208.9h2.5M590.8 204.9h2.6M604.7 84.2h1.1M589.2 145.9h1.4M586.8 187.1h1.8M590.0 228.3h1.0M599.3 215.1h1.5M584.3 130.0h2.0M592.0 80.0h1.4M603.5 39.1h1.2M590.5 71.2h2.5M595.4 150.2h2.4M606.2 39.3h1.9M597.0 155.4h2.1M597.8 113.8h1.8M582.4 79.4h1.0M607.7 71.3h2.1M610.0 157.3h2.0M588.1 137.7h0.8M603.0 182.9h2.4M599.5 155.3h2.6M585.8 69.6h2.1M610.0 57.3h1.1M589.4 65.9h1.7M596.3 84.5h1.4M592.1 95.9h2.0M603.5 113.9h1.3M603.4 123.2h1.4M603.1 201.4h1.1M591.3 219.0h1.1M595.1 229.8h2.4M588.6 195.8h2.5M602.3 216.6h1.7M612.3 161.8h1.2M582.7 68.6h2.1M592.6 171.9h2.4M608.3 31.9h1.4M602.5 157.2h2.4M593.0 238.2h2.0M599.4 229.4h2.3M594.4 64.3h1.0M605.3 84.5h2.3M590.3 228.6h1.5M605.1 61.3h2.3M601.2 142.6h2.6M589.6 189.7h2.2M592.0 93.7h2.4M607.7 66.2h1.7M601.2 220.9h1.8M588.8 104.2h1.4M595.0 76.2h2.5M602.0 35.0h2.0M603.3 122.8h1.1M610.3 154.8h1.8M597.9 185.4h1.3M600.2 108.2h2.3M597.4 105.9h2.4M598.5 236.8h1.3M583.6 53.3h2.5M606.5 31.1h2.2M590.6 55.4h2.3M596.1 144.8h1.3M606.4 95.7h2.4M607.2 84.0h1.8M591.6 40.5h1.9M594.9 35.6h1.9M587.5 44.1h2.0M608.3 52.0h1.6M588.6 140.0h1.4M603.9 153.9h1.1M585.8 186.6h2.6M589.5 187.1h2.1M598.1 95.8h2.1M598.7 40.8h2.1M607.6 168.4h1.8M599.1 153.0h1.0M600.4 75.7h1.0M594.9 159.3h2.4M596.2 126.6h1.7M603.4 193.3h2.1M610.3 154.7h1.9M592.1 210.1h1.3M606.1 122.8h1.2M592.4 237.2h1.9M596.9 236.6h2.2M605.4 97.9h0.9M588.1 88.7h0.9M598.2 234.9h1.5M597.7 44.7h1.3M585.3 52.1h1.8M596.8 230.1h1.6M606.1 126.4h1.3M588.7 129.7h1.5M599.0 103.5h1.8M593.8 63.6h1.4M589.8 97.6h2.4M601.7 195.9h2.4M586.3 161.0h1.0M609.8 152.4h1.5M589.3 113.8h2.1M595.1 241.3h1.0M590.3 212.0h2.6M609.7 49.9h2.2M601.7 68.7h1.8M586.8 166.1h2.2M591.4 229.7h1.5M605.9 132.1h2.0M602.9 52.3h2.1M590.8 220.4h2.5M601.1 78.5h1.1M597.9 235.9h2.0M600.0 36.6h1.5M592.8 107.9h2.4M597.3 50.2h1.4M590.3 74.0h2.0M582.3 77.2h1.8M596.1 153.9h2.6M596.1 153.4h1.5M609.5 159.4h1.1M588.9 110.4h1.3M608.1 167.8h1.6M594.9 210.0h2.2M588.1 109.6h2.2M592.3 160.8h1.8M593.1 225.8h1.5M594.3 194.0h1.4M601.1 128.6h1.6M587.1 180.3h1.9M593.8 111.8h2.3M603.5 174.9h2.5M605.1 50.5h2.5M596.4 240.7h1.5M583.7 37.5h1.6M599.7 184.1h1.8M590.0 145.8h1.2M589.7 134.0h1.2M591.6 50.5h2.3M602.5 204.2h0.9M586.0 65.4h2.6M582.5 73.5h2.4M600.9 210.0h2.3M601.9 182.9h1.5M589.0 139.2h2.3M600.2 147.4h1.1M596.8 172.9h2.4M590.2 210.2h2.3M589.4 108.5h1.8M599.8 225.7h0.9M591.5 181.9h1.3M600.4 57.4h2.3M595.0 235.4h0.9M604.0 152.0h1.0M602.1 117.8h1.3M590.4 89.0h2.5M594.4 234.6h2.2M594.6 197.3h1.7M593.2 163.2h1.1M583.7 97.2h2.5M604.7 151.6h1.0M594.5 109.6h2.5M595.8 150.3h1.6M600.9 93.6h2.5M587.1 98.0h2.3M592.3 186.8h1.6M591.9 53.5h1.6M585.2 94.0h1.5M595.8 76.0h1.4M587.5 80.0h1.8M608.9 58.9h1.2M596.8 32.9h2.1M596.7 176.7h2.0M586.4 174.5h1.9M596.2 179.8h1.4M596.1 223.2h1.7M595.7 58.0h1.3M590.8 219.8h2.5M595.2 35.2h0.8M595.3 237.5h1.2M586.4 199.3h1.2M592.2 197.0h1.2M586.2 124.4h0.8M600.0 195.4h2.2M590.4 56.4h2.3M592.9 209.8h1.9M594.9 216.3h2.5M585.0 70.4h1.3M595.7 188.3h1.3M598.0 200.4h1.6M587.5 56.5h0.9M589.1 73.4h1.8M596.6 47.4h1.6M597.3 237.8h2.4M596.9 166.4h1.7M602.1 58.0h2.0M599.0 212.9h1.2M591.7 175.8h2.4M589.5 119.0h1.7M611.1 166.5h2.2M597.8 213.3h1.1M597.9 212.9h1.4M594.0 120.7h1.5M587.2 65.6h2.5M604.2 150.5h2.0M582.6 99.1h1.7M593.7 189.3h0.9M591.5 96.5h2.2M607.4 166.2h1.6M599.8 215.4h2.6M594.3 65.4h1.5M590.7 148.0h1.6M584.4 77.9h2.2M588.5 124.2h0.9M609.9 45.9h2.4M588.1 220.0h1.6M582.8 45.4h1.8M600.0 151.4h2.1M606.7 145.8h0.9M597.8 209.5h1.4M598.5 177.6h1.4M596.7 128.0h1.4M589.2 174.0h1.6M584.6 139.4h1.2M593.1 199.3h1.2M596.6 76.9h2.5M602.4 102.2h1.3M586.7 179.6h2.3M600.3 221.8h2.1M606.8 37.0h1.9M594.1 214.1h1.4M590.8 74.2h1.4M600.4 204.7h1.7M601.4 211.4h1.0M605.9 54.5h1.2M593.9 50.0h2.3M591.8 201.5h2.3M587.2 78.9h2.1M601.8 32.0h2.0M615.2 154.7h1.8M595.2 198.0h2.0M603.2 145.2h1.8M590.1 50.6h1.6M591.2 96.3h1.9M600.1 167.8h1.6M602.0 180.7h2.2M597.3 34.9h1.6M587.4 105.9h1.5M596.4 227.3h2.4M585.3 49.4h1.8M596.6 140.8h2.1M611.5 145.4h1.1M597.8 134.0h1.5M603.4 108.6h2.6M600.8 53.3h1.3M591.2 62.1h2.1M599.8 227.8h2.5M595.4 95.7h1.0M596.2 117.3h1.0M602.3 177.1h1.1M591.5 222.5h1.3M600.2 61.0h1.9M594.8 181.9h1.6M596.4 70.9h1.9M590.2 67.9h2.3M594.4 164.4h1.3M607.1 131.7h2.0M596.2 52.2h2.0M603.6 161.2h2.4M612.5 149.5h1.8M599.8 204.0h2.0M606.0 82.4h2.5M591.5 211.6h1.9M600.8 72.2h1.8M594.6 214.1h2.5M597.7 137.8h2.2M606.3 154.9h2.0M591.1 226.0h1.4M593.7 66.2h1.3M605.8 57.4h1.1M604.2 186.7h1.1M591.9 195.9h1.2M612.9 147.5h1.7M600.8 90.8h0.8M582.1 40.6h1.2M593.1 196.3h2.4M595.0 185.8h0.8M600.5 76.9h0.9M593.3 225.2h2.4M603.3 200.8h2.4M592.0 110.1h2.6M594.1 235.4h1.7M608.0 64.9h0.8M595.2 223.6h1.2M603.1 158.4h0.9M601.5 174.6h1.5M600.5 154.9h1.1M600.4 92.6h2.4M588.3 201.2h1.0M595.4 140.2h2.3M609.2 54.2h0.9M600.0 69.3h2.3M596.6 187.8h0.8M592.4 223.6h2.1M588.5 205.5h1.9M604.1 77.6h2.0M601.9 44.8h1.4M595.9 128.1h2.0M598.3 168.6h1.7M597.5 158.5h1.2M595.4 207.2h1.2M590.7 113.9h1.5M601.4 207.3h1.7M591.6 126.6h0.8M596.8 209.4h1.1M582.4 69.2h2.1M589.0 210.8h2.3M600.9 217.3h1.9M590.7 49.3h2.2M607.3 178.4h1.7M588.6 151.6h2.5M594.1 239.7h1.5M588.2 47.5h1.5M599.7 190.6h1.4M586.8 96.9h1.3M604.0 81.5h2.0M600.6 78.1h2.2M608.4 71.3h1.9M590.9 205.5h2.6M582.5 48.6h2.0M596.2 216.2h2.5M589.6 143.3h0.9M593.7 221.1h1.5M590.4 69.7h2.3M599.7 45.3h1.8M595.4 220.5h2.4M590.9 231.4h2.5M598.0 194.3h2.4M592.2 221.5h1.5M589.8 211.8h2.3M590.9 165.8h2.0M605.7 151.4h1.3M599.8 132.9h1.2M588.6 183.3h2.0M601.4 68.0h2.2M599.8 207.5h2.1M592.8 46.9h0.8M593.8 43.8h2.1M613.8 163.4h1.1M585.6 38.7h2.2M592.7 42.2h0.9M597.3 142.0h1.9M601.2 41.1h2.2M608.3 78.5h1.9M589.6 227.1h1.9M585.3 76.3h2.4M585.4 102.5h0.9M605.1 104.8h1.4M606.0 182.9h2.5M593.2 120.3h2.2M605.2 99.5h1.1M594.0 218.5h2.1M595.5 214.2h1.6M594.5 205.9h1.9M593.0 226.2h2.2M586.6 182.0h1.0M588.8 111.0h1.3M590.5 230.1h1.3M593.7 197.4h1.7M595.6 221.0h2.1M595.1 155.8h0.8M593.3 158.0h1.1M588.8 201.0h2.3M593.8 189.3h1.1M602.6 88.7h1.8M585.7 79.6h1.3M591.9 60.6h2.3M593.9 211.6h1.2M588.9 96.5h1.0M587.4 168.3h2.3M588.2 135.3h2.2M587.6 124.1h0.9M590.4 90.1h0.9M599.7 195.8h0.9M587.5 136.4h2.0M598.8 224.8h1.6M608.5 158.9h2.5M598.7 143.8h1.6M607.5 162.8h1.3M599.3 66.0h1.2M591.3 198.4h1.2M585.2 132.3h1.9M609.0 38.1h0.9M594.9 203.8h2.0M601.3 40.4h1.2M608.2 71.2h1.0M586.9 79.2h2.2M583.0 110.1h1.8M599.1 155.1h1.8M601.5 196.9h2.3M602.7 109.7h1.4M603.9 37.9h2.4M594.3 55.4h1.5M597.4 177.1h1.6M606.2 76.8h2.5M590.2 54.5h2.5M600.2 124.1h1.0M603.0 95.0h1.1M595.5 239.9h2.3M593.0 228.0h1.4M605.2 62.5h2.2M603.1 189.7h2.5M601.0 124.2h2.2M592.5 150.5h1.5M587.6 163.8h1.7M588.8 168.4h1.4M585.7 194.0h1.1M587.1 119.2h1.9M588.9 121.3h1.7M597.4 37.4h2.1M593.5 201.5h1.2M585.7 130.4h1.2M592.5 195.2h2.5M597.5 103.3h1.8M596.9 193.1h2.1M608.4 154.5h2.0M599.1 175.8h2.5M582.2 59.5h1.0M608.2 40.5h2.1M590.2 152.1h2.4M583.9 42.3h1.2M598.5 197.1h1.0M599.4 89.3h2.5M599.8 158.3h2.5M592.6 238.5h1.7M589.3 211.6h1.8M594.6 196.7h2.4M595.3 143.4h2.1M610.6 150.0h1.8M612.7 149.6h1.2M583.1 69.4h2.4M588.0 147.1h2.4M607.2 132.1h2.4M596.3 226.3h1.9M606.2 161.5h1.3M588.9 182.1h2.0M600.6 132.2h2.0M600.8 176.9h1.4M591.8 33.9h2.3M591.8 72.1h0.8M587.0 111.2h1.8M602.9 136.2h1.9M582.2 67.0h0.8M595.0 142.0h1.9M592.1 54.0h2.5M603.9 70.4h1.5M590.8 116.6h2.0M601.5 130.8h1.1M595.0 213.1h1.6M588.4 182.4h2.5M595.0 107.6h0.9M591.9 67.9h0.8M593.5 235.1h1.0M596.4 152.4h1.7M592.6 220.0h2.2M585.7 115.1h0.9M592.6 72.0h2.0M607.8 75.2h2.6M596.9 109.9h1.1M599.3 52.0h1.1M606.3 71.4h2.3M592.8 178.4h2.2M589.4 179.5h2.6M603.9 125.9h1.7M601.9 66.5h1.6M597.4 86.1h2.3M582.7 73.1h2.0M584.8 93.9h1.4M596.1 43.6h1.6M597.7 211.8h1.9M588.7 67.0h2.1M601.2 145.4h2.3M588.5 195.0h1.2M598.2 217.9h1.6M604.3 188.1h2.5M601.6 121.2h2.3M597.4 237.9h1.6M595.4 58.8h1.3M603.6 33.7h1.8M605.2 172.4h1.0M592.8 108.1h2.6M594.5 231.9h2.0M605.8 179.4h1.4M588.7 213.7h2.3M606.0 97.6h1.6M601.0 155.1h1.9M606.6 144.6h1.3M600.3 129.7h1.0M605.0 131.7h1.7M592.2 208.6h2.1M593.8 171.0h0.9M602.1 156.1h1.3M590.3 229.3h0.8M602.5 53.7h1.9M589.2 212.7h1.3M595.9 195.2h2.0M584.8 114.2h1.6M607.8 136.1h2.4M600.3 227.0h1.6M589.9 224.6h2.1M589.0 221.8h2.4M599.7 160.9h1.1M610.0 148.6h1.9M610.7 145.1h1.9M587.7 206.4h0.8M606.6 125.6h2.4M604.5 158.2h1.7M588.7 180.7h1.1M592.8 210.7h2.4M587.8 75.5h1.6M601.6 133.3h1.6M615.0 162.1h0.9M597.9 138.6h0.9M597.2 203.6h1.2M607.4 158.9h1.3M602.3 188.6h1.9M605.2 104.8h1.3M601.3 131.1h1.1M598.1 198.7h0.9M590.2 208.4h1.7M595.3 137.8h2.5M597.7 202.6h1.2M596.0 88.6h2.1M583.5 48.5h1.4M587.7 83.7h1.1M601.6 189.4h1.0M601.7 108.9h1.5M607.2 143.7h1.2M597.9 224.7h1.3M605.1 120.6h1.5M600.3 196.7h1.1M591.3 218.8h2.5M604.6 136.3h2.2M602.2 60.5h1.4M606.5 169.4h1.0M596.4 199.4h1.8M590.9 94.1h2.1M591.8 186.7h0.9M587.5 61.6h2.5M600.2 97.4h1.1M594.9 210.3h2.5M589.3 142.8h2.5M602.0 222.0h1.3M593.6 145.0h1.3M601.8 42.5h1.6M598.3 75.6h1.3M597.1 159.5h2.0M598.6 230.2h2.1M586.6 182.7h2.0M593.2 83.3h0.9M592.9 230.9h1.3M585.6 111.3h2.5M597.1 213.5h1.8M602.0 40.9h2.6M601.5 81.2h1.9M601.4 122.0h1.9M594.5 63.8h2.3M584.3 130.4h1.1M596.2 211.1h1.6M596.7 111.2h1.9M612.0 168.2h2.2M596.1 221.2h1.2M605.9 164.3h2.2M606.6 136.1h2.6M591.0 180.8h1.2M596.3 93.0h2.6M582.9 49.4h2.2M604.0 138.1h1.8M604.1 152.2h1.7M587.1 198.7h1.7M590.9 84.3h2.3M588.8 114.3h1.9M587.1 98.6h2.2M585.6 189.5h2.3M594.5 223.4h1.3M595.5 143.6h1.1M611.3 170.5h2.4M595.2 193.5h2.2M589.6 73.0h2.0M601.9 212.7h1.6M601.8 58.9h1.5M604.2 37.7h1.0M606.1 72.7h1.7M594.4 203.8h2.4M598.1 181.3h1.3M583.4 113.8h0.9M587.5 52.7h1.4M596.4 195.6h0.9M589.5 99.7h1.7M586.2 169.8h0.9M608.0 60.2h0.9M594.2 141.9h1.9M609.2 144.8h1.6M598.3 155.9h1.0M614.9 150.9h2.4M584.7 82.5h1.0M603.9 33.7h2.1M601.1 93.9h1.5M603.0 169.1h2.3M592.4 207.0h1.7M599.2 115.1h0.9M596.1 168.0h1.6M604.4 163.2h2.5M594.1 82.1h2.2M583.4 58.8h2.4M599.7 181.2h1.1M597.5 230.8h1.1M608.9 151.7h1.5M590.0 63.7h2.3M585.2 131.1h1.6M586.0 114.7h1.5M585.7 175.4h2.4M605.3 87.0h1.2M598.8 34.2h1.1M589.0 199.5h1.6M592.1 234.8h1.2M588.7 133.2h2.0M602.4 191.4h1.1M584.9 94.6h1.8M599.0 224.5h1.8M601.8 64.8h2.4M594.2 90.4h2.5M589.3 68.6h2.5M589.1 127.5h2.0M593.9 224.3h2.6M591.6 31.5h1.6M594.5 168.5h1.4M590.3 196.3h1.5M593.0 78.4h2.0M607.7 79.9h0.9M595.3 146.6h1.0M591.3 36.9h1.2M594.9 80.2h1.3M598.0 75.6h0.9M600.2 215.7h2.3M599.0 222.0h1.5M593.4 99.2h2.0M590.1 160.2h0.9M596.0 236.0h2.2M599.5 138.9h1.1M588.7 162.1h2.5M585.4 40.5h2.6M601.4 178.8h1.9M601.0 137.5h1.3M606.8 65.2h1.9M596.9 153.5h2.5M595.2 208.1h1.8M595.8 87.8h1.2M588.6 47.2h0.8M597.5 218.5h1.7M602.5 94.9h2.4M591.6 148.2h1.4M601.1 111.2h2.3M591.9 224.1h1.2M591.1 191.0h1.4M597.3 131.4h1.0M606.3 154.8h2.3M606.9 134.9h2.2M598.0 101.3h1.8M597.2 172.0h1.8M601.9 148.7h2.5M597.8 137.3h2.0M595.6 107.5h2.3M592.4 100.7h2.2M585.5 146.1h1.5M589.5 229.8h1.6M603.3 201.2h2.5M585.8 87.1h2.1M609.0 69.4h1.9M608.0 58.8h1.8M584.3 127.7h1.5M587.1 112.2h1.1M600.8 39.0h1.1M595.6 119.3h1.8M598.7 215.5h2.2M584.3 118.7h1.3M586.3 90.5h1.5M604.6 148.2h1.1M609.9 42.8h1.3M593.1 150.6h1.8M598.7 50.0h2.2M596.7 233.7h1.1M589.4 201.9h2.0M608.2 50.7h1.5M588.8 166.9h1.7M589.9 93.4h1.1M593.8 200.0h1.9M609.4 145.9h2.4M594.3 241.2h2.1M596.1 156.7h2.2M589.4 96.4h1.5M604.4 174.7h1.2M587.9 135.0h1.1M587.3 85.7h2.3M594.8 174.7h1.0M587.3 216.5h2.4M593.1 229.2h1.6M600.1 206.0h1.7M593.3 83.1h1.2M606.1 148.3h2.0M593.4 197.5h2.3M602.6 129.6h1.1M587.8 206.0h2.2M598.6 209.1h2.5M585.7 192.8h0.9M594.2 193.9h0.9M595.0 96.9h2.2M610.3 148.8h1.5M590.8 61.4h1.8M591.9 180.7h1.7M593.0 228.4h1.7M601.2 183.6h0.9M611.5 155.4h1.6M604.0 134.4h0.9M590.3 220.3h0.9M587.3 121.0h1.1M602.2 193.3h2.5M596.2 167.3h1.9M605.9 130.7h2.6M594.3 220.3h1.1M588.2 106.4h1.8M598.8 178.7h2.0M593.2 229.7h1.7M609.1 35.1h2.5M587.6 95.0h2.0M601.8 101.3h0.9M599.7 216.4h1.7M590.8 124.5h1.2M590.2 170.6h1.4M598.1 87.1h2.3M593.3 95.8h1.7M588.5 93.5h2.6M592.9 194.8h2.6M602.2 74.9h2.2M598.3 57.0h2.2M582.7 87.7h2.5M594.8 224.4h0.8M597.5 235.0h1.1M590.1 165.2h1.8M605.0 86.8h1.4M590.6 150.6h2.2M589.7 229.2h2.3M608.2 176.9h1.8M590.1 155.0h1.8M593.5 221.5h1.4M597.3 157.9h2.5M588.2 47.1h1.1M589.2 202.8h1.5M607.3 166.6h1.1M605.1 155.7h1.5M595.8 94.8h2.5M592.1 79.0h2.0M591.5 136.5h1.9M591.6 193.8h2.6M599.7 43.0h1.7M586.3 103.9h1.2M586.9 34.1h1.5M586.7 171.1h1.9M603.0 125.1h2.3M596.2 122.0h2.1M598.4 125.8h1.7M589.9 37.2h1.4M602.0 103.3h0.9M595.3 211.7h1.8M599.3 204.8h1.8M596.2 217.7h2.3M597.2 135.3h1.3M593.3 106.2h1.8M595.2 194.0h1.3M605.9 154.1h2.1M608.8 149.2h2.2M601.2 206.8h1.6M595.1 220.8h1.2M599.0 207.5h1.2M588.6 143.5h2.5M590.4 167.7h2.4M594.8 227.0h1.4M597.7 77.6h2.2M601.8 163.6h0.9M600.5 199.2h1.2M586.6 102.1h1.7M591.5 213.0h0.9M592.4 34.4h2.5M604.9 89.3h2.3M596.9 109.8h2.5M591.1 209.9h1.3M602.2 162.5h2.3M605.6 190.2h2.3M600.2 194.9h1.5M590.2 130.6h1.9M591.1 187.4h1.4M599.6 109.6h1.1M599.2 115.4h2.6M591.5 49.4h1.7M606.4 126.4h2.1M594.1 169.0h1.9M589.4 219.7h2.5M589.7 60.0h1.9M602.3 196.4h1.8M596.8 218.5h2.0M599.5 131.7h1.8M585.4 124.2h1.8M588.9 189.4h1.4M588.0 73.4h2.2M605.3 46.1h1.9M586.8 109.6h1.3M594.6 137.7h2.3M604.3 42.4h2.5M594.3 90.1h2.2M598.4 232.7h1.5M596.6 66.3h2.0M587.1 199.9h2.1M605.7 174.5h1.6M590.6 191.3h2.5M604.1 99.7h2.0M606.8 177.6h1.9M590.1 85.1h1.8M607.4 159.2h1.2M597.4 141.7h1.2M593.8 207.5h2.4M599.4 59.0h1.6M597.5 201.4h1.6M597.0 201.2h1.4M603.3 100.4h2.4M596.5 116.7h1.1M597.9 46.0h2.1M606.6 143.7h1.1M596.3 118.6h1.1M600.0 220.7h1.2M598.2 157.3h2.1M602.8 171.4h1.2M595.9 215.0h1.5M601.7 182.3h1.1M586.6 80.2h1.7M599.8 111.6h1.1M596.7 224.0h1.8M591.1 164.5h1.2M593.5 172.6h2.4M589.8 148.6h2.5M601.0 209.4h1.7M589.8 43.0h1.5M592.6 208.6h1.3M587.3 199.5h1.7M605.2 47.3h0.9M597.7 149.8h1.0M591.0 230.1h1.8M583.7 118.4h1.3M587.7 206.3h1.4M599.6 199.6h0.9M604.3 60.2h1.2M600.4 93.6h1.6M608.5 35.9h0.9M588.3 119.4h1.8M608.4 157.7h2.6M604.6 127.1h1.2M602.2 217.1h0.8M606.0 155.9h1.9M592.5 213.7h2.4M589.2 191.2h2.6M586.0 131.1h1.6M584.1 118.3h0.9M592.1 57.3h1.9M591.3 90.1h1.1M592.4 232.2h1.4M596.1 60.7h2.2M608.3 168.6h1.3M589.0 58.7h1.5M598.1 233.6h1.2M602.7 112.1h0.9M590.4 84.4h2.2M584.5 93.5h1.9M598.7 44.2h1.5M601.0 65.2h1.1M603.2 66.6h2.5M595.1 234.6h2.0M593.4 228.2h1.1M604.0 187.4h0.9M611.6 149.3h2.5M586.6 150.9h1.1" stroke="#9dc5dc" stroke-width="0.8" opacity="0.6"/><path d="M572.0 80.5h2.0M623.1 51.5h2.5M590.4 235.3h1.2M572.1 60.2h1.4M614.3 89.4h2.3M566.7 55.5h0.9M570.8 148.9h2.2M574.5 70.9h0.9M606.9 110.0h1.6M621.4 73.2h2.3M611.1 183.9h1.6M614.7 173.6h1.6M569.9 133.9h0.8M590.9 237.7h2.1M571.5 35.8h1.7M582.0 194.4h1.4M608.5 108.5h1.3M581.0 37.5h1.4M636.8 43.5h1.5M578.4 168.3h2.0M624.2 150.2h1.3M613.5 136.1h2.4M613.7 76.5h1.2M610.1 99.3h2.4M611.4 54.5h1.8M609.4 219.5h2.2M615.6 66.8h1.9M581.7 76.7h0.9M607.9 222.1h2.4M600.1 233.0h1.0M614.4 62.9h1.3M577.8 171.0h1.2M617.2 125.3h1.3M609.5 74.5h2.4M616.6 68.3h2.5M608.3 179.6h1.1M576.8 49.6h2.2M613.9 90.8h1.3M578.5 112.4h0.8M577.0 87.3h1.7M576.9 140.5h2.4M610.8 48.0h2.0M584.2 231.3h1.1M573.2 95.5h2.1M613.2 116.1h2.4M606.3 121.4h0.9M580.7 97.8h1.1M615.0 87.6h2.6M616.0 212.1h2.3M612.8 36.8h2.2M614.7 149.0h1.9M607.5 183.9h1.3M613.0 97.4h1.8M611.5 81.1h1.8M612.2 175.8h1.4M577.4 130.1h1.3M620.4 66.6h2.3M582.7 177.1h1.4M583.3 151.7h2.4M616.9 118.3h1.7M574.1 84.3h2.0M576.5 108.7h2.5M573.4 76.5h2.2M631.7 131.2h1.7M576.1 86.2h2.3M576.9 184.6h1.2M566.6 110.3h2.2M626.0 36.4h1.9M583.8 186.2h1.0M584.8 212.3h1.2M620.5 90.1h1.3M563.1 112.2h2.3M563.0 160.7h2.5M613.9 50.5h0.9M560.2 101.7h2.0M569.2 190.2h2.5M576.8 117.0h1.7M579.4 199.4h2.1M609.1 84.8h2.2M574.6 148.0h2.4M601.8 223.4h1.5M619.9 87.1h2.3M624.5 61.1h1.6M613.5 39.9h1.0M623.5 103.9h2.3M613.7 83.7h1.7M620.4 140.3h2.5M573.6 72.6h1.7M576.6 105.8h1.6M567.7 53.6h2.4M571.4 73.2h2.3M624.4 133.1h1.5M573.2 120.9h2.3M575.7 176.6h1.8M577.4 31.9h1.5M578.1 73.7h2.1M571.6 90.5h1.0M612.6 37.8h1.7M570.4 185.5h2.3M604.3 219.1h2.4M573.3 199.0h2.6M612.5 180.6h2.4M577.1 102.9h2.5M573.0 185.1h2.3M622.6 39.1h1.9M614.0 196.3h1.6M614.2 170.1h2.0M628.6 128.7h1.4M609.9 96.0h1.4M560.6 137.4h1.0M605.2 211.9h2.1M604.3 199.4h0.8M586.4 223.6h1.4M623.1 132.9h2.5M577.0 167.2h1.9M563.2 58.0h2.0M573.8 110.6h1.5M578.6 114.8h1.9M561.8 47.6h1.5M565.5 123.0h1.9M610.8 48.3h2.0M574.0 179.5h1.9M580.1 53.6h1.4M576.4 91.7h0.8M573.5 103.1h1.7M558.1 148.6h2.3M585.1 209.9h1.0M629.3 73.3h1.1M627.3 128.1h2.6M626.8 191.0h1.1M577.0 118.1h1.6M565.5 103.7h1.2M579.8 106.3h2.6M606.6 191.0h1.3M573.2 92.3h1.7M579.7 122.0h2.2M607.1 128.2h1.6M575.3 57.7h1.2M610.6 181.2h2.3M609.5 108.8h1.2M581.3 197.6h1.0M586.6 213.2h1.3M628.8 139.9h1.3M613.0 106.9h2.3M587.5 221.6h0.9M627.4 152.4h1.1M632.6 165.6h0.9M582.8 142.3h1.8M569.7 49.7h1.4M565.5 120.1h1.8M574.8 170.5h1.8M613.0 113.1h0.9M575.1 197.1h1.3M606.7 225.6h1.0M581.8 148.2h2.1M558.5 117.5h2.4M605.3 200.1h2.5M571.3 66.1h1.7M614.3 146.6h1.7M572.1 122.7h1.9M573.1 149.3h1.4M566.0 117.3h2.4M621.9 197.5h2.0M613.8 214.4h2.5M620.3 113.4h1.1M579.6 164.4h1.6M573.1 43.9h1.2M582.1 158.3h1.1M586.5 234.9h1.7M623.3 61.8h1.4M605.1 202.4h2.2M617.9 148.2h2.0M563.1 57.2h1.5M573.4 151.6h2.3M581.7 167.3h1.6M617.1 91.5h1.6M615.6 109.2h1.2M606.1 105.5h2.3M564.8 176.2h2.4M581.8 63.4h0.9M613.3 202.1h1.1M574.2 169.4h2.5M586.3 234.6h1.2M572.3 189.4h1.4M608.8 94.4h1.0M577.2 127.8h2.4M583.4 165.0h2.0M619.2 58.7h2.0M575.0 200.1h2.0M577.4 33.8h1.4M615.2 140.2h1.8M623.4 85.2h2.4M588.1 226.4h0.8M576.5 203.5h1.4M613.7 179.4h0.9M610.6 122.3h1.9M608.6 122.0h1.5M614.3 146.8h2.1M583.7 134.6h2.2M606.5 123.0h0.9M618.2 88.5h1.6M583.2 204.9h0.8M613.4 192.1h1.7M618.9 171.9h1.4M582.2 124.6h1.6M562.4 125.1h1.9M559.9 75.5h1.1M587.0 216.3h1.9M572.6 148.8h1.6M616.7 61.7h1.6M629.3 140.8h1.9M622.5 194.0h1.2M579.8 182.4h2.1M572.2 82.8h1.6M566.9 67.8h2.1M583.0 168.9h1.9M570.7 194.1h2.1M562.7 100.3h2.5M618.0 114.1h2.3M585.6 194.6h2.1M617.7 33.4h1.1M579.6 149.3h2.6M570.0 42.9h1.1M617.1 138.4h1.8M618.9 53.1h1.8M581.9 100.9h2.2M561.1 68.9h1.5M612.4 60.2h2.0M609.2 210.1h1.0M568.9 114.4h2.5M560.6 49.3h1.6M633.9 163.6h1.0M619.0 103.6h1.7M617.2 123.3h0.9M580.7 116.0h1.3M580.4 31.6h2.5M565.5 97.0h1.7M577.9 64.7h1.0M629.6 128.1h1.9M575.0 97.0h2.5M576.1 147.2h1.8M583.8 213.1h1.2M560.7 75.1h2.5M615.0 52.1h2.2M573.8 105.4h2.1M574.2 116.1h1.6M611.0 199.0h1.9M615.5 185.7h1.1M616.4 90.9h2.5M570.4 51.3h2.2M561.8 145.7h1.3M580.4 51.5h0.9M574.2 176.6h2.3M580.5 205.4h2.4M615.2 188.8h2.1M609.9 124.9h1.4M571.7 50.0h0.9M579.1 107.1h2.2M608.0 186.9h1.8M582.9 182.7h1.7M561.4 55.9h2.4M588.6 227.8h1.0M563.2 117.7h1.1M615.5 68.9h2.5M587.8 228.1h1.5M560.3 148.1h1.8M583.1 219.0h0.9M579.0 153.0h0.9M569.8 80.7h2.5M575.0 145.6h2.4M566.4 98.8h2.3M586.6 214.1h2.0M574.8 90.6h2.5M572.8 65.8h1.8M627.9 158.2h1.9M619.2 43.9h2.3M574.7 133.7h0.9M577.7 135.3h2.6M576.1 83.7h2.4M617.5 125.2h1.4M581.2 102.9h2.4M635.7 72.7h1.0M587.5 221.5h0.9M587.1 230.6h2.1M615.2 197.6h2.4M626.1 44.1h0.9M612.3 88.0h1.3M620.5 209.6h0.9M609.8 93.1h0.9M618.1 163.9h1.9M566.8 51.7h2.5M575.5 124.2h1.1M623.0 127.2h2.6M566.1 79.0h2.4M565.6 95.1h1.4M577.1 55.3h2.0M575.4 104.3h2.1M564.1 67.8h1.8M581.2 35.6h2.0M615.9 77.3h1.1M580.8 158.6h2.1M612.3 72.1h1.3M613.6 183.7h0.8M565.2 49.6h1.1M573.4 120.4h2.4M584.6 205.3h2.2M607.6 100.6h2.3M570.2 43.6h2.1M580.2 81.4h2.5M570.5 65.2h2.6M630.7 78.7h2.2M581.5 122.0h1.2M615.2 186.7h2.0M612.7 169.1h2.0M615.8 71.9h1.2M619.5 64.0h1.5M615.8 178.5h1.3M613.1 171.0h1.5M573.7 54.7h1.8M577.6 36.7h1.5M613.3 91.3h0.9M572.9 197.3h1.3M574.7 206.7h2.0M623.7 102.4h1.6M581.3 49.7h1.7M608.9 198.6h1.0M574.3 73.7h1.2M564.4 41.7h1.7M563.9 98.0h1.2M581.1 222.1h2.0M602.6 236.8h1.1M583.8 173.6h1.5M580.4 187.2h1.5M612.8 139.6h1.8M633.9 59.5h1.4M609.4 111.8h1.6M561.7 164.2h1.7M576.0 200.6h0.9M621.8 88.3h2.4M619.8 121.6h0.9M618.8 113.3h1.2M622.5 58.9h1.1M628.0 175.7h1.0M616.1 200.7h1.9M569.5 189.9h1.8M560.1 83.1h1.5M615.3 124.1h1.8M629.8 46.0h2.1M627.5 163.9h1.8M608.3 197.6h1.3M618.9 65.1h0.9M611.7 172.8h1.0M636.6 134.9h0.8M582.8 136.9h1.8M582.3 151.6h2.5M635.9 62.9h2.3M617.4 133.5h2.5M617.9 64.7h2.5M579.4 35.6h2.3M627.8 74.6h2.5M634.1 165.8h1.1M619.8 157.1h0.8M577.4 204.9h2.5M578.9 195.2h0.9M603.4 237.5h1.6M570.3 38.3h1.2M618.7 49.6h1.3M613.2 185.8h1.1M613.4 56.4h1.3M580.5 213.3h1.4M575.7 194.6h1.9M615.5 202.8h1.4M620.5 168.3h2.2M570.7 92.7h1.4M630.9 53.3h2.0M621.9 46.3h2.6M606.4 115.3h2.1M568.3 92.8h1.1M581.4 43.8h1.8M636.5 134.2h0.9M581.9 89.0h2.1M577.1 179.0h2.1M613.0 32.0h2.5M623.2 43.8h2.0M603.9 216.2h1.5M628.9 152.7h2.1M581.6 189.1h2.1M618.9 67.8h1.2M616.5 181.6h2.1M571.4 97.7h2.2M608.3 123.7h2.5M617.3 52.5h1.4M577.6 37.4h1.6M574.3 67.3h0.8M581.3 220.2h0.9M577.6 58.0h1.4M625.5 179.6h0.9M579.2 122.4h2.2M610.7 98.4h2.0M573.1 134.7h1.8M574.4 105.2h1.6M583.6 183.6h1.6M584.4 208.7h1.4M581.4 193.8h1.9M576.9 98.2h2.2M628.7 150.7h2.0M618.5 166.5h1.4M616.7 100.3h1.4M584.4 219.0h1.8M561.8 136.3h1.0M623.0 116.7h1.0M575.2 43.9h1.3M603.0 221.5h1.5M633.0 158.1h0.8M617.1 75.8h2.1M618.5 90.4h0.9M572.5 56.0h1.5M582.1 186.7h1.7M624.4 85.6h1.4M567.9 65.6h2.0M635.1 162.5h2.6M580.6 98.4h2.2M611.0 36.8h1.2M621.8 32.9h2.2M633.4 84.7h0.8M575.3 61.4h2.5M561.9 133.6h1.6M613.3 48.4h2.4M627.5 39.5h1.3M621.1 143.8h1.6M605.9 195.4h1.7M627.1 38.5h1.7M618.4 66.8h1.5M580.2 113.1h2.2M604.9 204.6h1.6M558.2 89.0h1.4M581.8 157.4h2.1M613.6 209.5h1.7M572.6 107.2h1.9M576.0 56.6h2.2M611.0 61.1h2.1M616.7 54.5h1.6M629.9 150.4h2.1M584.7 216.1h2.3M612.2 198.6h1.3M614.9 179.3h1.1M580.4 151.4h2.5M613.3 168.8h2.1M559.5 64.7h2.4M582.7 123.5h2.5M602.4 220.1h2.0M620.3 153.6h1.5M561.4 68.1h1.6M577.1 172.5h0.8M608.1 199.6h2.5M607.2 191.2h2.5M572.3 79.4h1.0M578.3 214.2h1.8M629.9 80.8h2.1M569.2 84.5h1.0M575.0 167.7h1.6M624.0 144.6h2.2M610.2 50.8h1.1M568.2 126.8h0.8M577.9 142.4h1.1M571.9 166.1h0.8M611.7 66.0h2.5M622.4 46.4h1.4M614.1 92.4h2.5M579.7 42.3h1.6M609.9 100.2h1.3M599.3 237.6h1.5M579.7 200.6h2.4M620.0 175.6h1.4M613.7 188.9h2.4M583.4 218.5h1.5M605.7 200.2h1.4M628.0 142.3h1.0M626.8 153.9h1.0M629.8 159.5h1.5M571.0 111.1h1.0M574.6 38.0h2.2M576.9 57.6h1.7M574.5 48.9h2.0M573.5 190.5h2.2M617.8 171.4h2.1M614.1 167.8h2.2M579.5 191.6h1.6M630.0 171.6h2.2M607.0 194.2h2.3M573.9 63.5h1.6M559.3 47.6h1.2M561.6 40.9h1.5M575.8 93.9h2.6M627.9 173.3h1.6M603.0 223.4h2.2M576.7 113.5h1.0M625.3 101.0h1.5M577.3 67.5h2.6M564.8 57.8h2.3M627.7 139.2h1.8M612.0 198.0h1.9M563.7 65.5h1.5M575.0 51.0h2.6M627.5 45.9h1.8M580.5 133.9h2.1M580.8 171.1h1.6M582.5 203.8h0.8M615.1 190.1h1.9M619.8 153.9h2.3M615.4 197.6h1.1M634.4 158.6h1.1M581.5 53.3h2.5M610.9 71.5h2.3M624.7 93.2h1.3M616.9 174.9h1.8M614.9 164.0h2.2M589.7 234.4h1.5M577.4 127.6h1.6M577.9 99.4h1.4M621.3 157.3h1.6M613.4 133.9h1.9M576.0 78.9h2.1M573.7 50.5h2.5M570.0 144.6h1.1M602.7 228.5h1.3M582.5 208.7h1.4M610.4 95.2h2.4M578.2 134.3h1.6M573.6 196.9h0.9M618.0 158.1h1.1M573.2 36.9h2.5M627.2 128.7h1.4M610.5 137.8h1.1M608.3 123.3h2.4M635.8 105.8h1.7M619.5 175.5h1.9M619.2 64.3h0.8M581.0 44.5h1.1M632.5 110.4h2.2M633.4 31.2h1.6M621.7 106.7h1.7M611.8 128.1h1.8M609.6 179.6h2.1M582.1 199.5h1.7M623.9 89.9h2.5M569.3 108.0h2.0M572.5 38.1h2.2M623.2 31.6h1.6M611.2 39.1h2.3M629.7 155.5h1.4M629.4 162.9h1.0M608.8 105.5h1.1M615.9 120.5h1.9M573.7 52.1h1.7M567.5 123.6h1.8M610.6 50.8h2.2M618.0 82.9h2.3M583.5 192.7h1.7M623.3 96.0h1.9M613.4 216.9h2.0M571.5 39.8h1.2M567.3 52.2h1.9M619.8 106.9h1.1M611.7 136.1h1.9M598.9 241.3h1.8M617.2 47.2h1.8M577.4 144.6h2.6M608.7 200.6h2.5M623.7 138.9h1.7M565.1 127.6h2.4M603.7 220.9h1.8M581.0 128.2h1.8M566.9 148.8h1.8M605.2 117.2h1.3M569.4 119.7h1.2M580.8 79.6h2.5M618.7 161.1h1.5M568.6 149.9h1.9M579.5 81.9h2.3M629.6 72.3h1.9M581.3 111.1h1.7M587.8 221.2h1.0M617.4 97.9h1.6M582.6 135.7h2.1M571.7 157.1h2.0M578.4 156.3h2.2M574.2 49.4h1.5M620.4 179.5h2.2M581.8 82.9h2.1M573.5 55.7h1.4M611.1 30.8h1.5M573.2 126.8h2.5M582.1 121.0h2.4M631.8 57.7h1.2M570.4 149.3h1.3M581.5 52.7h2.2M612.1 130.4h1.2M579.4 172.9h1.9M607.6 195.2h0.9M629.4 166.3h1.9M614.7 84.1h1.8M560.9 71.0h1.4M573.1 35.3h2.5M580.9 167.2h2.0M615.9 96.8h1.8M582.1 157.0h1.3M583.5 140.5h2.0M606.5 207.5h1.3M624.5 61.7h0.8M569.1 111.6h1.1M610.5 135.9h2.4M616.4 184.8h1.8M580.2 179.2h1.8M576.3 115.2h2.2M583.6 128.9h1.0M582.3 200.9h2.0M567.8 135.0h1.8M623.5 142.4h2.6M605.6 117.4h1.0M580.7 96.1h1.6M622.3 143.0h1.5M627.0 43.1h1.9M614.9 31.4h1.0M614.1 65.3h1.1M621.6 90.3h1.1M631.9 102.8h1.0M617.5 174.6h2.4M577.4 113.5h1.0M571.2 166.2h2.0M565.4 64.0h2.3M621.7 101.9h0.9M616.3 81.7h0.9M571.4 101.5h2.6M612.8 112.2h1.7M575.0 109.2h1.2M611.1 36.7h1.1M613.1 88.9h0.9M623.9 142.9h1.1M580.2 94.4h1.3M577.5 49.4h1.8M574.0 149.6h2.5M586.2 221.2h1.6M621.4 120.8h2.4M614.9 68.3h1.0M609.0 116.4h0.9M617.0 151.2h2.5M562.6 104.7h2.5M611.5 76.3h0.8M625.3 172.3h2.1M579.4 65.5h1.7M574.6 34.5h2.6M623.5 138.1h0.9M580.9 145.2h0.9M624.1 167.2h2.5M631.9 60.9h1.2M619.1 32.0h2.0M582.7 149.9h0.9M623.0 84.4h1.6M615.6 41.4h1.5M564.5 111.1h1.2M569.7 91.8h2.5M569.0 108.8h1.1M610.0 99.3h2.3M623.0 115.6h2.1M610.7 179.9h2.4M615.8 51.4h1.4M580.1 132.0h1.1M570.7 194.6h1.3M612.4 109.0h2.4M581.0 217.7h1.1M636.3 69.3h2.1M622.3 71.2h1.4M623.5 96.8h0.9M582.8 192.8h1.8M573.2 92.9h2.2M606.0 202.6h1.3M621.2 81.1h2.4M580.8 82.9h1.9M573.6 141.9h1.0M614.0 68.3h1.2M575.7 182.9h1.0M579.7 62.0h1.6M579.1 201.2h0.9M560.3 157.5h2.4M620.7 146.2h1.2M584.4 201.1h2.1M578.9 165.7h2.6M582.8 151.8h1.6M561.6 91.2h1.0M617.6 172.3h1.8M584.8 161.6h1.4M578.0 65.5h2.4M622.6 112.5h2.2M585.5 198.1h0.9M621.6 173.2h2.4M631.1 88.7h1.1M578.7 110.4h2.3M608.3 218.3h1.2M576.9 156.8h2.4M611.7 184.7h0.9M616.3 125.3h2.0M616.3 105.8h2.3M571.9 89.3h1.2M610.9 78.0h1.5M577.0 124.1h1.9M564.2 85.4h2.2M575.0 178.9h1.0M632.4 58.4h1.7M609.7 34.5h2.5M567.8 73.4h1.4M571.5 97.1h2.3M571.2 83.5h0.9M612.8 44.2h2.1M631.2 149.6h1.3M582.2 112.8h2.5M625.5 44.9h1.3M610.3 63.1h1.1M619.8 151.2h1.1M624.9 32.5h1.9M631.2 105.3h1.6M617.2 129.4h1.8M566.3 59.9h2.5M618.3 93.1h2.6M621.2 102.9h1.1M577.0 226.6h1.7M605.7 210.0h1.9M585.7 233.6h1.7M622.9 118.7h0.8M606.8 196.5h1.6M620.2 61.9h1.9M607.5 228.8h2.6M616.6 83.1h1.7M585.9 205.1h0.9M578.4 146.7h1.6M631.1 48.1h2.0M577.7 146.4h2.1M581.9 150.9h2.1M577.0 106.3h2.2M587.9 220.9h1.1M626.9 67.3h2.1M608.2 205.6h2.0M562.2 51.3h2.2M566.1 106.0h1.7M584.5 139.8h2.4M579.9 82.2h1.2M568.8 212.2h2.1M603.1 221.6h0.9M583.8 136.5h0.8M578.8 176.0h2.3M603.4 212.6h2.6M611.3 200.0h1.9M582.0 112.7h2.2M581.6 142.9h0.8M623.6 133.9h0.8M630.3 72.1h1.5M609.7 208.7h1.4M565.1 52.3h2.1M606.2 228.8h2.5M608.3 207.1h1.1M571.3 173.2h1.3M615.0 90.7h0.8M626.6 130.5h1.3M632.9 40.6h2.2M584.6 211.9h0.8M607.1 119.2h2.3M618.6 44.9h2.3M570.2 132.1h2.3M581.9 43.5h1.7M571.6 38.6h0.9M614.4 55.1h2.1M585.9 209.1h1.5M580.4 90.7h1.9M581.3 178.6h0.8M564.7 94.4h2.2M571.9 202.3h1.1M579.8 35.0h1.0M625.0 168.8h1.2M579.4 200.5h0.8M584.7 215.4h1.4M565.4 83.5h1.3M613.5 92.1h2.1M623.4 167.8h1.5M606.6 123.5h2.4M573.5 96.2h1.1M579.6 173.8h2.1M580.6 151.1h0.9M615.2 198.3h1.9M568.7 177.4h1.1M616.0 181.0h1.8M610.2 40.9h1.9M618.8 40.1h1.3M611.4 210.1h2.0M581.1 122.7h2.3M576.0 51.5h1.8M618.7 31.7h2.1M576.6 30.7h2.2M570.7 189.3h1.5M624.1 40.3h2.4M574.1 64.6h2.3M566.7 62.4h1.5M580.8 42.6h1.2M590.1 233.3h2.3M610.9 75.6h1.9M618.0 171.6h2.5M573.2 94.9h1.2M603.9 221.6h2.3M566.7 152.0h2.0M610.6 108.6h1.4M581.2 165.7h1.5M634.0 173.4h1.0M580.8 201.3h1.8M574.5 200.0h1.3M608.8 133.8h1.8M579.9 214.4h2.0M609.1 210.7h1.2M569.9 91.6h1.3M576.0 134.9h1.4M631.0 149.6h1.6M622.7 66.6h1.5M581.6 87.3h1.2M584.4 160.3h1.1M614.1 101.3h2.2" stroke="#b5d6e7" stroke-width="0.8" opacity="0.6"/></g>
<path d="M592.3 0V248" stroke="#666" stroke-width="0.8" stroke-dasharray="3 1.6"/>
<path d="M589.3 33.4L596.3 42L594.8 50.7L596.7 64.3L598.7 82.8L597.2 101.4L593.8 115L597.2 128.6L599.2 142.2L598.2 149.6L606.6 157.3L607.4 164.7L599.2 173.4L596.7 184.5L594.8 198.1L596.7 206.7L595.5 214.2L596.3 231.5" fill="none" stroke="#111" stroke-width="1.5" stroke-linejoin="round"/>
<path d="M557.9 248.2H638.1V0" fill="none" stroke="#666" stroke-width="1"/>
<path d="M638.1 248h-2.9M638.1 231.6h-2.9M638.1 215.2h-2.9M638.1 198.8h-2.9M638.1 182.4h-2.9M638.1 166h-2.9M638.1 149.6h-2.9M638.1 133.2h-2.9M638.1 116.8h-2.9M638.1 100.4h-2.9M638.1 84h-2.9M638.1 67.6h-2.9M638.1 51.2h-2.9M638.1 34.8h-2.9M638.1 18.4h-2.9M638.1 2h-2.9M569.3 248.2v3M592.3 248.2v3M615.3 248.2v3" stroke="#666" stroke-width="0.9"/>
<text x="641.6" y="55.3" class="sp">60°N</text>
<text x="641.6" y="104.5" class="sp">30°N</text>
<text x="641.6" y="153.7" class="sp">0°</text>
<text x="641.6" y="202.9" class="sp">30°S</text>
<text x="641.6" y="252.1" class="sp">60°S</text>
<text x="569.3" y="263.5" text-anchor="middle" class="sp">−0.4</text>
<text x="592.3" y="263.5" text-anchor="middle" class="sp">0.0</text>
<text x="615.3" y="263.5" text-anchor="middle" class="sp">0.4</text>
<text transform="translate(683.3 126) rotate(-90)" text-anchor="middle" class="lat">Latitude</text>
<text x="539" y="347.2" class="let">d</text>
<g clip-path="url(#clipb)"><rect x="563" y="360.2" width="88" height="1.7" fill="url(#go)" opacity="0.8"/><rect x="590" y="360.2" width="34" height="1.7" fill="url(#gc)" opacity="0.8"/><rect x="562.78" y="361.84" width="88.89" height="1.7" fill="url(#go)" opacity="0.84"/><rect x="590" y="361.84" width="34.44" height="1.7" fill="url(#gc)" opacity="0.84"/><rect x="562.56" y="363.48" width="89.78" height="1.7" fill="url(#go)" opacity="0.89"/><rect x="590" y="363.48" width="34.89" height="1.7" fill="url(#gc)" opacity="0.89"/><rect x="562.33" y="365.12" width="90.67" height="1.7" fill="url(#go)" opacity="0.93"/><rect x="590" y="365.12" width="35.33" height="1.7" fill="url(#gc)" opacity="0.93"/><rect x="562.11" y="366.76" width="91.56" height="1.7" fill="url(#go)" opacity="0.98"/><rect x="590" y="366.76" width="35.78" height="1.7" fill="url(#gc)" opacity="0.98"/><rect x="561.96" y="368.4" width="92" height="1.7" fill="url(#go)" opacity="1"/><rect x="590" y="368.4" width="35.92" height="1.7" fill="url(#gc)" opacity="1"/><rect x="561.88" y="370.04" width="92" height="1.7" fill="url(#go)" opacity="1"/><rect x="590" y="370.04" width="35.75" height="1.7" fill="url(#gc)" opacity="1"/><rect x="561.79" y="371.68" width="92" height="1.7" fill="url(#go)" opacity="1"/><rect x="590" y="371.68" width="35.58" height="1.7" fill="url(#gc)" opacity="1"/><rect x="561.71" y="373.32" width="92" height="1.7" fill="url(#go)" opacity="1"/><rect x="590" y="373.32" width="35.42" height="1.7" fill="url(#gc)" opacity="1"/><rect x="561.62" y="374.96" width="92" height="1.7" fill="url(#go)" opacity="1"/><rect x="590" y="374.96" width="35.25" height="1.7" fill="url(#gc)" opacity="1"/><rect x="561.54" y="376.6" width="92" height="1.7" fill="url(#go)" opacity="1"/><rect x="590" y="376.6" width="35.08" height="1.7" fill="url(#gc)" opacity="1"/><rect x="561.46" y="378.24" width="92" height="1.7" fill="url(#go)" opacity="1"/><rect x="590" y="378.24" width="34.92" height="1.7" fill="url(#gc)" opacity="1"/><rect x="561.38" y="379.88" width="92" height="1.7" fill="url(#go)" opacity="1"/><rect x="590" y="379.88" width="34.75" height="1.7" fill="url(#gc)" opacity="1"/><rect x="561.29" y="381.52" width="92" height="1.7" fill="url(#go)" opacity="1"/><rect x="590" y="381.52" width="34.58" height="1.7" fill="url(#gc)" opacity="1"/><rect x="561.21" y="383.16" width="92" height="1.7" fill="url(#go)" opacity="1"/><rect x="590" y="383.16" width="34.42" height="1.7" fill="url(#gc)" opacity="1"/><rect x="561.12" y="384.8" width="92" height="1.7" fill="url(#go)" opacity="1"/><rect x="590" y="384.8" width="34.25" height="1.7" fill="url(#gc)" opacity="1"/><rect x="561.04" y="386.44" width="92" height="1.7" fill="url(#go)" opacity="1"/><rect x="590" y="386.44" width="34.08" height="1.7" fill="url(#gc)" opacity="1"/><rect x="560.94" y="388.08" width="91.75" height="1.7" fill="url(#go)" opacity="1"/><rect x="589.94" y="388.08" width="33.75" height="1.7" fill="url(#gc)" opacity="1"/><rect x="560.81" y="389.72" width="91.25" height="1.7" fill="url(#go)" opacity="1"/><rect x="589.81" y="389.72" width="33.25" height="1.7" fill="url(#gc)" opacity="1"/><rect x="560.69" y="391.36" width="90.75" height="1.7" fill="url(#go)" opacity="1"/><rect x="589.69" y="391.36" width="32.75" height="1.7" fill="url(#gc)" opacity="1"/><rect x="560.56" y="393" width="90.25" height="1.7" fill="url(#go)" opacity="1"/><rect x="589.56" y="393" width="32.25" height="1.7" fill="url(#gc)" opacity="1"/><rect x="560.44" y="394.64" width="89.75" height="1.7" fill="url(#go)" opacity="1"/><rect x="589.44" y="394.64" width="31.75" height="1.7" fill="url(#gc)" opacity="1"/><rect x="560.31" y="396.28" width="89.25" height="1.7" fill="url(#go)" opacity="1"/><rect x="589.31" y="396.28" width="31.25" height="1.7" fill="url(#gc)" opacity="1"/><rect x="560.19" y="397.92" width="88.75" height="1.7" fill="url(#go)" opacity="1"/><rect x="589.19" y="397.92" width="30.75" height="1.7" fill="url(#gc)" opacity="1"/><rect x="560.06" y="399.56" width="88.25" height="1.7" fill="url(#go)" opacity="1"/><rect x="589.06" y="399.56" width="30.25" height="1.7" fill="url(#gc)" opacity="1"/><rect x="560" y="401.2" width="87.5" height="1.7" fill="url(#go)" opacity="1"/><rect x="588.88" y="401.2" width="29.75" height="1.7" fill="url(#gc)" opacity="1"/><rect x="560" y="402.84" width="86.5" height="1.7" fill="url(#go)" opacity="1"/><rect x="588.62" y="402.84" width="29.25" height="1.7" fill="url(#gc)" opacity="1"/><rect x="560" y="404.48" width="85.5" height="1.7" fill="url(#go)" opacity="1"/><rect x="588.38" y="404.48" width="28.75" height="1.7" fill="url(#gc)" opacity="1"/><rect x="560" y="406.12" width="84.5" height="1.7" fill="url(#go)" opacity="1"/><rect x="588.12" y="406.12" width="28.25" height="1.7" fill="url(#gc)" opacity="1"/><rect x="560" y="407.76" width="83.5" height="1.7" fill="url(#go)" opacity="1"/><rect x="587.88" y="407.76" width="27.75" height="1.7" fill="url(#gc)" opacity="1"/><rect x="560" y="409.4" width="82.5" height="1.7" fill="url(#go)" opacity="1"/><rect x="587.62" y="409.4" width="27.25" height="1.7" fill="url(#gc)" opacity="1"/><rect x="560" y="411.04" width="81.5" height="1.7" fill="url(#go)" opacity="1"/><rect x="587.38" y="411.04" width="26.75" height="1.7" fill="url(#gc)" opacity="1"/><rect x="560" y="412.68" width="80.5" height="1.7" fill="url(#go)" opacity="1"/><rect x="587.12" y="412.68" width="26.25" height="1.7" fill="url(#gc)" opacity="1"/><rect x="560" y="414.32" width="79.6" height="1.7" fill="url(#go)" opacity="1"/><rect x="586.9" y="414.32" width="25.8" height="1.7" fill="url(#gc)" opacity="1"/><rect x="560" y="415.96" width="78.8" height="1.7" fill="url(#go)" opacity="0.99"/><rect x="586.7" y="415.96" width="25.4" height="1.7" fill="url(#gc)" opacity="0.99"/><rect x="560" y="417.6" width="78" height="1.7" fill="url(#go)" opacity="0.99"/><rect x="586.5" y="417.6" width="25" height="1.7" fill="url(#gc)" opacity="0.99"/><rect x="560" y="419.24" width="77.2" height="1.7" fill="url(#go)" opacity="0.98"/><rect x="586.3" y="419.24" width="24.6" height="1.7" fill="url(#gc)" opacity="0.98"/><rect x="560" y="420.88" width="76.4" height="1.7" fill="url(#go)" opacity="0.98"/><rect x="586.1" y="420.88" width="24.2" height="1.7" fill="url(#gc)" opacity="0.98"/><rect x="560" y="422.52" width="75.6" height="1.7" fill="url(#go)" opacity="0.97"/><rect x="585.9" y="422.52" width="23.8" height="1.7" fill="url(#gc)" opacity="0.97"/><rect x="560" y="424.16" width="74.8" height="1.7" fill="url(#go)" opacity="0.97"/><rect x="585.7" y="424.16" width="23.4" height="1.7" fill="url(#gc)" opacity="0.97"/><rect x="560" y="425.8" width="74" height="1.7" fill="url(#go)" opacity="0.96"/><rect x="585.5" y="425.8" width="23" height="1.7" fill="url(#gc)" opacity="0.96"/><rect x="560" y="427.44" width="73.2" height="1.7" fill="url(#go)" opacity="0.96"/><rect x="585.3" y="427.44" width="22.6" height="1.7" fill="url(#gc)" opacity="0.96"/><rect x="560" y="429.08" width="72.4" height="1.7" fill="url(#go)" opacity="0.95"/><rect x="585.1" y="429.08" width="22.2" height="1.7" fill="url(#gc)" opacity="0.95"/><rect x="560" y="430.72" width="71.87" height="1.7" fill="url(#go)" opacity="0.95"/><rect x="584.93" y="430.72" width="22" height="1.7" fill="url(#gc)" opacity="0.95"/><rect x="560" y="432.36" width="71.6" height="1.7" fill="url(#go)" opacity="0.95"/><rect x="584.8" y="432.36" width="22" height="1.7" fill="url(#gc)" opacity="0.95"/><rect x="560" y="434" width="71.33" height="1.7" fill="url(#go)" opacity="0.95"/><rect x="584.67" y="434" width="22" height="1.7" fill="url(#gc)" opacity="0.95"/><rect x="560" y="435.64" width="71.07" height="1.7" fill="url(#go)" opacity="0.95"/><rect x="584.53" y="435.64" width="22" height="1.7" fill="url(#gc)" opacity="0.95"/><rect x="560" y="437.28" width="70.8" height="1.7" fill="url(#go)" opacity="0.95"/><rect x="584.4" y="437.28" width="22" height="1.7" fill="url(#gc)" opacity="0.95"/><rect x="560" y="438.92" width="70.53" height="1.7" fill="url(#go)" opacity="0.95"/><rect x="584.27" y="438.92" width="22" height="1.7" fill="url(#gc)" opacity="0.95"/><rect x="560" y="440.56" width="70.27" height="1.7" fill="url(#go)" opacity="0.95"/><rect x="584.13" y="440.56" width="22" height="1.7" fill="url(#gc)" opacity="0.95"/><rect x="560" y="442.2" width="70" height="1.7" fill="url(#go)" opacity="0.95"/><rect x="584" y="442.2" width="22" height="1.7" fill="url(#gc)" opacity="0.95"/><rect x="560" y="443.84" width="69.73" height="1.7" fill="url(#go)" opacity="0.95"/><rect x="583.87" y="443.84" width="22" height="1.7" fill="url(#gc)" opacity="0.95"/><rect x="560" y="445.48" width="69.47" height="1.7" fill="url(#go)" opacity="0.95"/><rect x="583.73" y="445.48" width="22" height="1.7" fill="url(#gc)" opacity="0.95"/><rect x="560" y="447.12" width="69.2" height="1.7" fill="url(#go)" opacity="0.95"/><rect x="583.6" y="447.12" width="22" height="1.7" fill="url(#gc)" opacity="0.95"/><rect x="560" y="448.76" width="68.93" height="1.7" fill="url(#go)" opacity="0.95"/><rect x="583.47" y="448.76" width="22" height="1.7" fill="url(#gc)" opacity="0.95"/><rect x="560" y="450.4" width="68.67" height="1.7" fill="url(#go)" opacity="0.95"/><rect x="583.33" y="450.4" width="22" height="1.7" fill="url(#gc)" opacity="0.95"/><rect x="560" y="452.04" width="68.4" height="1.7" fill="url(#go)" opacity="0.95"/><rect x="583.2" y="452.04" width="22" height="1.7" fill="url(#gc)" opacity="0.95"/><rect x="560" y="453.68" width="68.13" height="1.7" fill="url(#go)" opacity="0.95"/><rect x="583.07" y="453.68" width="22" height="1.7" fill="url(#gc)" opacity="0.95"/><rect x="560" y="455.32" width="68" height="1.7" fill="url(#go)" opacity="0.95"/><rect x="583" y="455.32" width="22" height="1.7" fill="url(#gc)" opacity="0.95"/><rect x="560" y="456.96" width="68" height="1.7" fill="url(#go)" opacity="0.95"/><rect x="583" y="456.96" width="22" height="1.7" fill="url(#gc)" opacity="0.95"/><rect x="560" y="458.6" width="68" height="1.7" fill="url(#go)" opacity="0.95"/><rect x="583" y="458.6" width="22" height="1.7" fill="url(#gc)" opacity="0.95"/><rect x="560" y="460.24" width="68" height="1.7" fill="url(#go)" opacity="0.95"/><rect x="583" y="460.24" width="22" height="1.7" fill="url(#gc)" opacity="0.95"/><rect x="560" y="461.88" width="68" height="1.7" fill="url(#go)" opacity="0.95"/><rect x="583" y="461.88" width="22" height="1.7" fill="url(#gc)" opacity="0.95"/><rect x="560" y="463.52" width="68" height="1.7" fill="url(#go)" opacity="0.95"/><rect x="583" y="463.52" width="22" height="1.7" fill="url(#gc)" opacity="0.95"/><rect x="560" y="465.16" width="68" height="1.7" fill="url(#go)" opacity="0.95"/><rect x="583" y="465.16" width="22" height="1.7" fill="url(#gc)" opacity="0.95"/><rect x="560" y="466.8" width="68" height="1.7" fill="url(#go)" opacity="0.95"/><rect x="583" y="466.8" width="22" height="1.7" fill="url(#gc)" opacity="0.95"/><rect x="560" y="468.44" width="68" height="1.7" fill="url(#go)" opacity="0.95"/><rect x="583" y="468.44" width="22" height="1.7" fill="url(#gc)" opacity="0.95"/><rect x="560" y="470.08" width="68" height="1.7" fill="url(#go)" opacity="0.95"/><rect x="583" y="470.08" width="22" height="1.7" fill="url(#gc)" opacity="0.95"/><rect x="560" y="471.72" width="68" height="1.7" fill="url(#go)" opacity="0.95"/><rect x="583" y="471.72" width="22" height="1.7" fill="url(#gc)" opacity="0.95"/><rect x="560" y="473.36" width="68" height="1.7" fill="url(#go)" opacity="0.95"/><rect x="583" y="473.36" width="22" height="1.7" fill="url(#gc)" opacity="0.95"/><rect x="560" y="475" width="68" height="1.7" fill="url(#go)" opacity="0.95"/><rect x="583" y="475" width="22" height="1.7" fill="url(#gc)" opacity="0.95"/><rect x="560" y="476.64" width="68" height="1.7" fill="url(#go)" opacity="0.95"/><rect x="583" y="476.64" width="22" height="1.7" fill="url(#gc)" opacity="0.95"/><rect x="560" y="478.28" width="68" height="1.7" fill="url(#go)" opacity="0.95"/><rect x="583" y="478.28" width="22" height="1.7" fill="url(#gc)" opacity="0.95"/><rect x="560.1" y="479.92" width="67.8" height="1.7" fill="url(#go)" opacity="0.95"/><rect x="583.05" y="479.92" width="21.9" height="1.7" fill="url(#gc)" opacity="0.95"/><rect x="560.3" y="481.56" width="67.4" height="1.7" fill="url(#go)" opacity="0.95"/><rect x="583.15" y="481.56" width="21.7" height="1.7" fill="url(#gc)" opacity="0.95"/><rect x="560.5" y="483.2" width="67" height="1.7" fill="url(#go)" opacity="0.95"/><rect x="583.25" y="483.2" width="21.5" height="1.7" fill="url(#gc)" opacity="0.95"/><rect x="560.7" y="484.84" width="66.6" height="1.7" fill="url(#go)" opacity="0.95"/><rect x="583.35" y="484.84" width="21.3" height="1.7" fill="url(#gc)" opacity="0.95"/><rect x="560.9" y="486.48" width="66.2" height="1.7" fill="url(#go)" opacity="0.95"/><rect x="583.45" y="486.48" width="21.1" height="1.7" fill="url(#gc)" opacity="0.95"/><rect x="561.1" y="488.12" width="65.8" height="1.7" fill="url(#go)" opacity="0.95"/><rect x="583.55" y="488.12" width="20.9" height="1.7" fill="url(#gc)" opacity="0.95"/><rect x="561.3" y="489.76" width="65.4" height="1.7" fill="url(#go)" opacity="0.95"/><rect x="583.65" y="489.76" width="20.7" height="1.7" fill="url(#gc)" opacity="0.95"/><rect x="561.5" y="491.4" width="65" height="1.7" fill="url(#go)" opacity="0.95"/><rect x="583.75" y="491.4" width="20.5" height="1.7" fill="url(#gc)" opacity="0.95"/><rect x="561.7" y="493.04" width="64.6" height="1.7" fill="url(#go)" opacity="0.95"/><rect x="583.85" y="493.04" width="20.3" height="1.7" fill="url(#gc)" opacity="0.95"/><rect x="561.9" y="494.68" width="64.2" height="1.7" fill="url(#go)" opacity="0.95"/><rect x="583.95" y="494.68" width="20.1" height="1.7" fill="url(#gc)" opacity="0.95"/><rect x="562.1" y="496.32" width="63.8" height="1.7" fill="url(#go)" opacity="0.95"/><rect x="584" y="496.32" width="20" height="1.7" fill="url(#gc)" opacity="0.95"/><rect x="562.3" y="497.96" width="63.4" height="1.7" fill="url(#go)" opacity="0.94"/><rect x="584" y="497.96" width="20" height="1.7" fill="url(#gc)" opacity="0.94"/><rect x="562.5" y="499.6" width="63" height="1.7" fill="url(#go)" opacity="0.94"/><rect x="584" y="499.6" width="20" height="1.7" fill="url(#gc)" opacity="0.94"/><rect x="562.7" y="501.24" width="62.6" height="1.7" fill="url(#go)" opacity="0.93"/><rect x="584" y="501.24" width="20" height="1.7" fill="url(#gc)" opacity="0.93"/><rect x="562.9" y="502.88" width="62.2" height="1.7" fill="url(#go)" opacity="0.93"/><rect x="584" y="502.88" width="20" height="1.7" fill="url(#gc)" opacity="0.93"/><rect x="563.1" y="504.52" width="61.8" height="1.7" fill="url(#go)" opacity="0.92"/><rect x="584" y="504.52" width="20" height="1.7" fill="url(#gc)" opacity="0.92"/><rect x="563.3" y="506.16" width="61.4" height="1.7" fill="url(#go)" opacity="0.92"/><rect x="584" y="506.16" width="20" height="1.7" fill="url(#gc)" opacity="0.92"/><rect x="563.5" y="507.8" width="61" height="1.7" fill="url(#go)" opacity="0.91"/><rect x="584" y="507.8" width="20" height="1.7" fill="url(#gc)" opacity="0.91"/><rect x="563.7" y="509.44" width="60.6" height="1.7" fill="url(#go)" opacity="0.91"/><rect x="584" y="509.44" width="20" height="1.7" fill="url(#gc)" opacity="0.91"/><rect x="563.9" y="511.08" width="60.2" height="1.7" fill="url(#go)" opacity="0.9"/><rect x="584" y="511.08" width="20" height="1.7" fill="url(#gc)" opacity="0.9"/><rect x="564.2" y="512.72" width="59.7" height="1.7" fill="url(#go)" opacity="0.9"/><rect x="584.05" y="512.72" width="20" height="1.7" fill="url(#gc)" opacity="0.9"/><rect x="564.6" y="514.36" width="59.1" height="1.7" fill="url(#go)" opacity="0.89"/><rect x="584.15" y="514.36" width="20" height="1.7" fill="url(#gc)" opacity="0.89"/><rect x="565" y="516" width="58.5" height="1.7" fill="url(#go)" opacity="0.89"/><rect x="584.25" y="516" width="20" height="1.7" fill="url(#gc)" opacity="0.89"/><rect x="565.4" y="517.64" width="57.9" height="1.7" fill="url(#go)" opacity="0.88"/><rect x="584.35" y="517.64" width="20" height="1.7" fill="url(#gc)" opacity="0.88"/><rect x="565.8" y="519.28" width="57.3" height="1.7" fill="url(#go)" opacity="0.88"/><rect x="584.45" y="519.28" width="20" height="1.7" fill="url(#gc)" opacity="0.88"/><rect x="566.2" y="520.92" width="56.7" height="1.7" fill="url(#go)" opacity="0.87"/><rect x="584.55" y="520.92" width="20" height="1.7" fill="url(#gc)" opacity="0.87"/><rect x="566.6" y="522.56" width="56.1" height="1.7" fill="url(#go)" opacity="0.87"/><rect x="584.65" y="522.56" width="20" height="1.7" fill="url(#gc)" opacity="0.87"/><rect x="567" y="524.2" width="55.5" height="1.7" fill="url(#go)" opacity="0.86"/><rect x="584.75" y="524.2" width="20" height="1.7" fill="url(#gc)" opacity="0.86"/><rect x="567.4" y="525.84" width="54.9" height="1.7" fill="url(#go)" opacity="0.86"/><rect x="584.85" y="525.84" width="20" height="1.7" fill="url(#gc)" opacity="0.86"/><rect x="567.8" y="527.48" width="54.3" height="1.7" fill="url(#go)" opacity="0.85"/><rect x="584.95" y="527.48" width="20" height="1.7" fill="url(#gc)" opacity="0.85"/><rect x="568.3" y="529.12" width="53.5" height="1.7" fill="url(#go)" opacity="0.84"/><rect x="585.1" y="529.12" width="19.9" height="1.7" fill="url(#gc)" opacity="0.84"/><rect x="568.9" y="530.76" width="52.5" height="1.7" fill="url(#go)" opacity="0.83"/><rect x="585.3" y="530.76" width="19.7" height="1.7" fill="url(#gc)" opacity="0.83"/><rect x="569.5" y="532.4" width="51.5" height="1.7" fill="url(#go)" opacity="0.81"/><rect x="585.5" y="532.4" width="19.5" height="1.7" fill="url(#gc)" opacity="0.81"/><rect x="570.1" y="534.04" width="50.5" height="1.7" fill="url(#go)" opacity="0.8"/><rect x="585.7" y="534.04" width="19.3" height="1.7" fill="url(#gc)" opacity="0.8"/><rect x="570.7" y="535.68" width="49.5" height="1.7" fill="url(#go)" opacity="0.78"/><rect x="585.9" y="535.68" width="19.1" height="1.7" fill="url(#gc)" opacity="0.78"/><rect x="571.3" y="537.32" width="48.5" height="1.7" fill="url(#go)" opacity="0.77"/><rect x="586.1" y="537.32" width="18.9" height="1.7" fill="url(#gc)" opacity="0.77"/><rect x="571.9" y="538.96" width="47.5" height="1.7" fill="url(#go)" opacity="0.75"/><rect x="586.3" y="538.96" width="18.7" height="1.7" fill="url(#gc)" opacity="0.75"/><rect x="572.5" y="540.6" width="46.5" height="1.7" fill="url(#go)" opacity="0.74"/><rect x="586.5" y="540.6" width="18.5" height="1.7" fill="url(#gc)" opacity="0.74"/><rect x="573.1" y="542.24" width="45.5" height="1.7" fill="url(#go)" opacity="0.72"/><rect x="586.7" y="542.24" width="18.3" height="1.7" fill="url(#gc)" opacity="0.72"/><rect x="573.7" y="543.88" width="44.5" height="1.7" fill="url(#go)" opacity="0.71"/><rect x="586.9" y="543.88" width="18.1" height="1.7" fill="url(#gc)" opacity="0.71"/><rect x="574.42" y="545.52" width="43.33" height="1.7" fill="url(#go)" opacity="0.68"/><rect x="587.17" y="545.52" width="17.83" height="1.7" fill="url(#gc)" opacity="0.68"/><rect x="575.25" y="547.16" width="42" height="1.7" fill="url(#go)" opacity="0.65"/><rect x="587.5" y="547.16" width="17.5" height="1.7" fill="url(#gc)" opacity="0.65"/><rect x="576.08" y="548.8" width="40.67" height="1.7" fill="url(#go)" opacity="0.62"/><rect x="587.83" y="548.8" width="17.17" height="1.7" fill="url(#gc)" opacity="0.62"/><rect x="576.92" y="550.44" width="39.33" height="1.7" fill="url(#go)" opacity="0.58"/><rect x="588.17" y="550.44" width="16.83" height="1.7" fill="url(#gc)" opacity="0.58"/><rect x="577.75" y="552.08" width="38" height="1.7" fill="url(#go)" opacity="0.55"/><rect x="588.5" y="552.08" width="16.5" height="1.7" fill="url(#gc)" opacity="0.55"/><rect x="578.58" y="553.72" width="36.67" height="1.7" fill="url(#go)" opacity="0.52"/><rect x="588.83" y="553.72" width="16.17" height="1.7" fill="url(#gc)" opacity="0.52"/><rect x="580" y="555.36" width="34" height="1.7" fill="url(#go)" opacity="0.47"/><rect x="589.38" y="555.36" width="15.25" height="1.7" fill="url(#gc)" opacity="0.47"/><rect x="582" y="557" width="30" height="1.7" fill="url(#go)" opacity="0.41"/><rect x="590.12" y="557" width="13.75" height="1.7" fill="url(#gc)" opacity="0.41"/><rect x="584" y="558.64" width="26" height="1.7" fill="url(#go)" opacity="0.34"/><rect x="590.88" y="558.64" width="12.25" height="1.7" fill="url(#gc)" opacity="0.34"/><rect x="586" y="560.28" width="22" height="1.7" fill="url(#go)" opacity="0.28"/><rect x="591.62" y="560.28" width="10.75" height="1.7" fill="url(#gc)" opacity="0.28"/><rect x="587.62" y="561.92" width="18.75" height="1.7" fill="url(#go)" opacity="0.23"/><rect x="592.25" y="561.92" width="9.5" height="1.7" fill="url(#gc)" opacity="0.23"/><rect x="588.88" y="563.56" width="16.25" height="1.7" fill="url(#go)" opacity="0.17"/><rect x="592.75" y="563.56" width="8.5" height="1.7" fill="url(#gc)" opacity="0.17"/><rect x="590.12" y="565.2" width="13.75" height="1.7" fill="url(#go)" opacity="0.12"/><rect x="593.25" y="565.2" width="7.5" height="1.7" fill="url(#gc)" opacity="0.12"/><rect x="591.38" y="566.84" width="11.25" height="1.7" fill="url(#go)" opacity="0.08"/><rect x="593.75" y="566.84" width="6.5" height="1.7" fill="url(#gc)" opacity="0.08"/><rect x="592" y="568.48" width="10" height="1.7" fill="url(#go)" opacity="0.05"/><rect x="594" y="568.48" width="6" height="1.7" fill="url(#gc)" opacity="0.05"/><rect x="592" y="570.12" width="10" height="1.7" fill="url(#go)" opacity="0.05"/><rect x="594" y="570.12" width="6" height="1.7" fill="url(#gc)" opacity="0.05"/><path d="M617.0 369.5h2.3M602.3 415.8h1.4M586.0 443.2h1.6M589.3 488.0h2.6M590.7 370.9h0.9M598.2 503.8h2.4M594.3 460.1h1.4M598.3 542.1h2.6M608.9 368.2h1.6M601.8 418.4h2.1M591.1 433.7h1.7M622.2 374.1h0.9M616.6 398.0h2.1M588.8 513.4h2.4M601.0 548.5h1.2M593.4 385.4h2.1M617.9 399.5h1.5M604.1 476.4h2.1M600.2 549.4h1.9M587.9 488.1h1.1M583.1 453.4h0.9M596.0 569.9h2.1M598.3 520.2h1.1M592.9 435.7h2.4M602.2 460.3h1.0M590.2 442.3h2.6M591.0 492.5h1.4M596.0 393.8h0.8M597.5 555.4h1.5M608.2 373.8h1.8M598.9 487.7h2.3M602.5 425.0h2.0M603.6 402.6h1.7M613.1 401.4h1.2M620.3 362.6h1.2M607.0 429.6h1.6M587.9 411.7h1.7M592.2 421.2h2.5M605.4 410.4h1.5M597.7 447.4h1.9M585.3 479.4h1.8M600.5 472.5h0.8M592.6 468.6h2.0M592.2 411.9h1.3M600.5 412.1h1.5M625.3 367.2h1.8M603.6 490.4h2.0M583.4 469.0h2.4M600.3 506.8h1.5M601.2 522.0h2.3M591.9 491.0h1.4M601.8 554.6h1.3M591.7 436.1h1.2M600.5 531.0h1.5M597.1 495.9h1.9M599.3 414.5h2.4M594.1 429.6h1.5M602.0 496.3h2.5M591.6 544.2h1.4M587.9 488.8h1.4M597.6 375.8h1.1M586.0 527.9h1.4M599.7 519.0h1.9M594.6 500.0h1.1M598.0 391.6h2.2M601.7 543.0h2.2M584.4 445.0h1.8M601.2 506.5h1.4M595.7 534.5h2.0M606.3 434.1h1.7M586.6 453.2h1.7M600.1 467.2h1.2M598.9 559.7h1.5M609.7 398.6h1.3M592.3 409.6h1.2M595.2 422.8h1.8M592.2 528.4h1.8M594.2 435.0h1.7M591.6 526.9h2.4M593.3 419.1h2.1M588.9 525.8h1.8M603.8 488.2h2.2M591.5 424.8h1.6M596.2 470.6h1.6M601.6 384.5h2.3M603.7 507.9h2.4M590.7 529.2h2.1M594.7 395.3h1.1M590.5 443.0h0.9M618.5 367.6h2.4M605.1 440.0h1.6M596.9 523.7h2.3M591.4 428.8h1.7M592.6 406.0h1.2M584.7 478.8h1.7M588.1 499.3h2.2M589.3 494.4h1.9M601.9 394.4h2.0M612.7 360.4h1.8M589.7 442.5h1.6M613.2 396.6h1.3M608.2 380.4h2.4M595.9 445.1h0.8M604.4 378.2h1.6M590.4 478.2h2.5M592.1 365.0h1.6M588.5 473.1h1.3M593.2 393.9h1.8M594.8 451.0h1.5M595.6 411.9h1.7M592.9 494.6h2.3M584.3 502.3h1.9M587.1 486.2h0.8M601.2 420.4h1.4M587.9 449.7h1.9M603.2 536.0h2.1M596.8 523.5h1.9M598.8 471.3h2.1M621.4 376.0h1.9M611.1 404.2h0.8M619.1 394.6h1.8M583.9 471.3h2.5M615.1 385.7h1.1M592.5 469.0h2.3M593.1 460.0h2.4M598.0 527.0h1.0M596.2 447.3h1.4M608.0 405.8h1.2M603.6 440.6h2.3M617.6 369.2h0.8M609.6 381.8h2.3M600.5 500.4h1.5M599.3 375.9h2.5M605.3 432.5h2.0M595.1 491.3h1.3M619.7 395.2h1.9M598.6 522.0h1.5M592.9 452.2h1.4M613.9 374.5h1.0M601.7 507.6h0.8M599.5 482.0h0.8M591.0 403.4h1.4M594.7 538.4h1.2M596.3 449.8h2.5M608.4 384.1h1.0M598.5 524.9h2.1M587.7 464.0h1.1M594.4 541.1h1.2M619.9 373.9h1.3M600.0 440.3h2.2M592.8 529.9h1.3M593.5 369.2h0.9M596.2 477.3h2.4M609.1 365.3h2.5M600.9 549.2h2.3M601.1 384.2h0.9M591.2 525.4h2.4M584.8 448.1h1.3M599.9 425.2h2.2M601.8 518.4h1.7M594.1 531.6h2.3M601.2 451.8h1.3M608.0 407.6h1.4M596.7 552.1h2.0M588.7 481.3h1.0M596.5 458.0h1.0M611.2 378.3h1.0M590.7 394.1h1.0M611.9 379.1h2.1M587.9 461.5h1.3M603.8 408.0h2.1M593.9 564.5h1.0M609.7 382.7h1.1M601.5 391.4h2.4M606.9 399.6h1.6M589.0 418.0h2.3M604.3 459.8h2.1M620.0 384.6h2.2M591.0 488.8h1.0M603.8 397.1h1.1M598.7 479.7h1.3M588.7 514.8h2.5M603.9 370.7h1.5M588.0 473.8h1.1M594.5 400.7h1.9M597.3 530.7h1.9M594.3 503.1h2.3M593.3 472.9h2.3M601.6 413.0h2.5M603.0 434.9h2.4M591.8 496.3h1.4M595.4 515.3h1.7M616.2 361.4h1.0M591.2 488.0h1.5M587.6 475.7h1.3M597.9 438.0h1.2M613.6 396.4h0.8M589.3 399.6h2.0M602.4 407.0h2.3M597.3 515.1h1.1M602.6 405.6h2.2M594.0 424.3h1.0M592.2 484.2h1.4M602.3 475.5h1.8M593.3 398.9h2.4M590.0 551.1h2.5M595.6 498.8h2.5M597.8 390.9h1.7M598.0 445.2h1.3M591.9 402.1h2.2M595.8 505.8h0.8M594.8 468.7h1.8M596.3 498.5h1.9M588.6 411.7h1.9M607.0 400.4h1.1M585.5 429.4h1.4M596.5 554.5h2.1M601.0 528.6h1.6M588.9 422.4h1.0M585.3 453.0h2.1M587.8 525.4h1.1M613.2 412.0h1.8M599.3 396.4h1.5M593.5 479.5h1.7M609.8 368.8h2.5M589.2 467.2h2.2M606.3 415.0h2.3M588.6 414.8h2.4M593.4 526.1h0.9M598.3 482.6h1.5M589.9 408.7h1.5M602.0 507.9h2.1M600.9 546.5h1.2M597.8 411.1h2.1M598.0 519.8h2.6M606.5 423.0h0.9M589.5 398.2h1.9M596.5 440.1h2.5M586.7 470.0h1.6M604.5 376.7h0.8M611.9 399.5h1.0M597.1 466.6h1.1M608.1 384.7h2.1M583.8 455.3h2.2M600.6 496.7h1.3M597.7 511.6h2.3M605.4 374.0h2.3M595.3 455.6h2.5M602.9 539.5h2.4M588.3 468.9h1.1M607.3 425.3h2.5M595.5 500.8h2.2M585.6 452.8h1.7M596.2 361.3h1.8M596.4 448.4h2.4M590.7 443.6h1.9M585.9 483.2h1.2M586.9 474.8h2.5M595.2 432.4h2.4M596.5 409.1h1.0M589.7 453.9h1.3M595.8 568.1h2.4M603.2 423.3h1.8M621.4 393.1h1.8M601.2 480.4h1.6M590.4 408.7h1.9M603.0 427.7h2.3M585.9 495.0h1.2M602.7 462.7h1.0M599.6 537.5h1.9M603.3 517.2h2.5M599.6 456.1h0.9M594.8 551.6h0.8M601.9 402.8h1.7M601.7 401.8h1.5M594.3 539.9h0.9M583.5 460.2h1.6M596.4 537.3h1.5M600.2 361.4h1.4M595.7 409.7h2.4M592.4 503.4h2.1M597.4 427.4h2.1M603.9 427.4h2.6M601.4 492.9h1.4M588.2 519.1h1.6M589.4 441.8h2.3M597.7 423.9h1.3M599.1 493.8h2.3M589.6 521.4h1.2M603.4 507.2h1.1M585.7 437.0h2.2M621.2 380.6h1.6M609.4 364.3h1.1M593.4 420.7h2.4M597.1 448.6h1.5M616.0 393.4h1.8M603.5 555.1h2.5M602.3 409.0h1.1M609.0 383.6h2.3M598.2 533.1h2.2M586.2 474.0h2.4M604.9 362.2h2.3M600.7 530.3h1.4M622.1 382.7h1.3M584.3 494.6h2.4M601.2 549.6h2.5M591.3 484.8h1.8M597.2 550.7h2.1M595.7 449.4h1.7M601.3 498.3h1.0M587.2 517.0h2.0M602.0 445.7h0.9M587.2 511.7h2.5M585.6 484.2h1.2M584.9 457.0h1.7M594.8 525.3h0.8M599.4 380.3h2.2M585.0 430.1h2.0M588.1 546.5h2.5M590.4 450.7h1.0M586.7 485.8h1.6M586.7 455.2h2.1M596.1 551.4h1.4M584.3 482.8h1.0M588.5 523.4h2.1M597.1 477.9h2.4M610.0 381.8h1.2M603.7 385.4h0.9M595.7 523.1h2.4M602.6 508.7h1.9M595.9 465.7h2.1M605.6 442.8h2.5M610.6 398.3h2.3M597.4 468.3h1.2M592.8 503.7h1.4M603.0 410.1h2.1M589.2 482.9h1.0M585.6 455.8h1.1M605.4 407.9h1.2M598.2 468.1h1.7M604.3 478.3h1.8M590.3 428.7h1.5M596.1 563.4h1.6M609.8 376.2h2.1M591.0 458.0h1.6M597.2 549.1h1.6M601.4 492.4h2.5M623.5 367.7h0.8M596.8 469.1h1.6M590.4 511.1h2.1M609.0 402.3h1.9M596.4 425.3h2.4M602.8 417.9h1.8M600.0 407.5h1.0M610.7 407.3h2.2M598.4 514.9h1.8M594.9 430.9h0.8M584.1 465.8h1.8M592.7 500.3h1.5M596.3 549.6h2.3M601.8 377.7h2.2M600.7 370.3h1.5M599.4 372.2h1.1M600.4 538.1h1.9M597.8 376.8h1.6M595.3 433.7h1.7M599.5 517.5h2.3M619.7 372.4h1.6M596.3 365.4h2.1M594.7 520.4h2.1M591.0 409.8h1.3M598.0 472.7h2.3M603.1 519.4h1.4M605.6 363.7h2.1M595.5 492.9h1.0M593.0 409.0h2.1M590.7 551.3h1.7M600.8 405.5h1.9M599.7 516.1h2.5M625.6 371.4h0.9M603.8 467.2h1.1M585.7 448.6h0.9M598.1 499.8h1.3M604.0 423.7h2.1M599.0 469.2h2.1M591.3 371.0h1.5M597.0 530.0h0.8M594.3 430.9h2.3M591.7 396.2h0.9M588.4 421.6h1.0M603.0 510.8h1.2M592.1 546.7h2.1M597.9 509.1h1.8M592.9 497.6h2.4M584.2 501.2h0.9M614.3 386.1h1.0M598.7 529.5h1.7M594.2 376.6h2.6M602.0 472.5h2.6M597.7 407.6h1.6M593.0 431.8h1.7M603.4 383.1h2.2M591.4 370.2h1.6M603.1 425.1h1.6M596.6 563.4h2.5M597.4 565.3h1.7M596.2 488.0h2.5M595.8 556.6h1.2M599.0 534.9h1.4M606.6 427.7h0.9M596.8 361.9h2.0M589.3 458.8h0.9M604.9 430.5h1.2M606.0 423.0h1.5M602.8 428.9h1.4M591.8 397.6h1.9M607.2 428.9h1.0M602.2 399.7h1.7M593.9 509.2h1.8M606.7 372.4h1.7M589.0 416.0h2.1M594.2 498.2h2.2M602.6 407.4h1.5M595.0 423.2h1.0M600.5 503.2h2.0M603.1 539.0h1.4M587.3 512.1h2.3M595.4 459.4h2.4M590.1 418.1h2.0M625.2 370.6h0.9M601.4 465.8h1.8M597.5 413.9h1.8M588.3 469.5h2.6M608.4 364.1h1.6M592.7 472.7h2.5M612.0 370.4h1.1M601.8 386.2h2.3M611.4 373.1h1.2M610.7 370.2h1.7M599.3 414.9h2.5M601.2 448.9h2.4M598.5 555.1h1.0M604.6 436.9h2.2M595.8 410.4h0.9M592.2 441.5h1.6M589.5 467.8h1.3M596.5 515.2h1.5M586.2 500.4h1.2M611.8 371.3h2.3M596.0 486.2h2.0M589.1 514.9h1.5M596.5 393.1h2.0M603.3 534.0h1.5M590.2 542.5h1.2M591.4 434.7h1.4M595.8 455.1h2.3M595.4 450.1h1.1M598.8 509.5h1.5M603.6 532.0h2.1M602.1 392.3h2.1M592.9 479.3h1.0M599.1 561.6h1.0M596.2 570.2h1.1M586.3 497.8h1.0M598.6 531.3h1.7M586.6 448.9h2.0M605.0 371.7h1.2M585.3 447.4h1.8M599.6 502.8h1.7M596.4 533.9h1.5M596.8 444.6h2.0M591.2 543.0h1.6M618.5 379.9h1.7M595.2 486.0h1.9M601.5 454.7h2.1M585.6 531.2h1.2M604.1 379.1h1.3M591.1 542.4h2.4M590.6 556.3h1.2M587.9 487.0h2.3M595.0 532.3h1.9M588.2 433.2h1.8M597.5 399.7h2.2M592.4 544.0h1.5M595.6 461.5h2.4M589.0 550.2h1.4M607.3 411.9h1.7M586.2 524.4h1.7M594.6 528.2h2.5M614.0 375.0h2.4M603.9 478.9h1.8M594.5 540.4h0.9M594.8 444.4h2.5M594.5 423.8h1.7M598.5 421.8h2.2M592.7 471.3h1.9M602.9 384.3h1.5M602.9 416.8h2.4M591.7 481.3h1.3M602.7 525.2h2.2M600.2 417.9h2.6M595.4 431.9h1.3M602.2 503.6h1.3M589.3 527.6h1.4M611.5 404.1h1.3M597.4 447.1h1.4M590.6 428.0h1.8M610.0 392.3h2.4M590.0 467.1h1.0M604.5 381.7h2.3M591.1 468.6h1.9M602.4 439.8h2.4M603.2 367.6h2.1M616.3 402.5h1.3M624.8 376.2h1.0M590.1 527.8h2.3M593.7 463.3h1.4M601.9 471.9h1.9M603.4 406.6h1.8M595.8 421.8h0.8M590.4 443.7h1.9M603.6 488.1h1.2M584.9 487.0h2.6M603.9 518.2h1.9M594.3 564.0h1.9M594.3 378.6h1.2M615.1 401.7h2.0M601.2 474.8h2.2M593.5 529.2h0.9M598.1 450.5h2.6M592.6 544.4h2.3M593.7 563.0h2.0M600.1 364.1h2.1M616.3 402.4h1.4M598.7 470.2h2.1M601.8 395.5h0.9M600.5 526.4h2.5M597.1 515.1h1.5M596.9 452.7h1.0M601.5 491.1h1.5M602.6 540.6h1.8M594.5 513.2h2.3M596.8 474.5h1.2M600.8 555.6h2.2M602.5 496.2h1.9M603.6 428.8h1.0M599.6 514.4h2.1M588.6 461.0h0.9M599.4 545.5h1.6M620.2 380.6h0.9M589.3 453.8h1.9M603.6 388.7h2.2M590.5 504.9h1.5M612.7 370.8h1.0M605.6 377.5h0.8M611.7 417.0h0.8M591.0 362.9h1.1M587.2 445.8h1.9M591.7 555.3h1.9M595.0 447.2h2.4M589.4 447.8h1.2M588.4 408.6h1.3M622.3 366.4h2.0M595.1 528.8h1.2M596.8 536.3h2.3M585.5 444.4h0.9M591.1 553.3h1.6M598.2 561.4h0.9M595.6 372.2h1.2M595.8 534.3h1.8M595.0 470.2h1.9M595.4 404.3h0.8M600.3 458.6h1.4M591.1 478.6h1.3M588.1 488.3h2.6M596.8 376.3h2.6M603.8 489.0h1.2M591.4 510.0h1.5M593.2 391.0h1.6M584.5 495.6h2.1M586.4 476.2h2.5M587.9 504.9h2.5M603.3 399.2h1.8M587.8 516.9h2.5M617.2 387.1h1.8M593.5 375.9h2.1M590.8 474.5h2.0M621.2 391.6h1.2M597.9 517.4h2.0M594.5 390.3h1.6M613.1 396.7h2.2M595.6 508.8h1.1M601.3 454.2h2.3M601.5 407.3h1.6M589.9 502.4h1.2M607.7 416.8h0.9M605.1 425.4h1.6M609.7 397.2h2.5M594.2 472.4h1.8M590.6 489.8h1.0M591.6 500.0h0.9M596.5 463.9h1.5M603.0 527.6h1.8M592.9 477.1h2.4M602.9 470.0h1.1M588.8 446.2h2.0M599.1 416.9h1.0M592.3 436.6h2.4M592.0 479.4h2.0M599.0 524.8h2.2M592.3 440.9h2.4M596.2 395.6h1.1M587.2 507.3h2.6M597.7 509.8h1.1M594.0 406.3h1.4M598.0 526.3h2.0M589.1 500.6h2.1M597.3 560.2h1.2M596.9 410.8h1.1M587.4 479.3h1.7M597.7 527.0h2.1M613.2 385.8h1.2M602.1 409.6h1.0M592.2 462.6h1.9M595.8 465.7h2.0M589.9 476.5h1.3M602.8 398.2h1.6M615.3 377.2h1.5M596.3 375.2h1.2M587.1 474.8h1.0M604.6 551.1h2.1M602.6 514.4h0.9M592.0 382.8h1.6M589.0 476.2h1.0M600.6 389.6h1.7M602.6 429.0h2.4M614.8 403.8h0.9M588.9 474.5h1.3M595.8 535.4h2.5M594.2 502.5h1.0M598.8 512.2h1.1M602.0 512.9h1.7M594.7 460.8h2.1M601.4 474.1h1.5M591.5 468.9h0.9M606.5 400.7h2.0M588.9 525.3h0.9M597.1 565.1h1.6M595.8 379.6h2.1M596.9 520.8h2.2M585.0 499.0h1.0M600.2 451.9h2.2M603.2 541.8h1.5M604.5 458.1h0.8M586.4 441.8h1.7M585.9 515.7h1.8M611.5 399.5h1.7M598.6 481.6h0.9M603.4 412.2h1.9M589.5 551.7h1.4M603.1 433.0h1.0M602.5 365.3h1.7M600.4 404.4h2.6M603.9 432.0h1.3M597.3 399.4h2.3M598.1 451.2h1.5M592.2 395.8h1.3M590.5 477.2h1.0M593.7 487.7h1.4M600.2 457.0h1.8M622.7 375.1h1.2M590.3 390.6h1.4M599.6 493.4h1.6M602.6 424.0h1.8M602.0 493.6h2.4M592.3 457.8h1.2M599.5 459.6h2.4M602.5 473.7h2.6M601.6 368.0h1.3M601.2 382.6h1.6M595.1 496.5h0.9M605.0 439.5h0.8M588.8 425.9h1.6M609.2 368.4h1.1M601.6 424.8h1.4M599.0 561.6h1.1M600.4 363.5h1.1M609.1 394.0h1.0M593.9 399.5h2.0M597.9 416.1h2.4M605.7 395.2h2.1M590.8 448.2h2.2M607.0 370.8h2.1M598.1 430.3h1.7M586.8 451.9h1.4M602.9 434.7h1.1M601.0 383.6h1.9M602.7 554.2h1.1M605.0 532.5h1.3M588.3 537.9h1.4M600.2 497.3h2.5M609.0 370.3h1.2M591.5 493.4h1.8M588.4 441.7h1.6M596.6 546.7h2.0M595.1 376.8h1.4M597.9 473.8h1.0M604.6 370.8h1.9M619.8 378.6h2.4M618.2 385.2h0.9M589.1 497.2h2.4M611.1 374.2h1.2M593.2 421.3h1.8M594.9 375.2h2.1M611.5 417.4h2.0M594.7 503.8h1.7M596.4 396.5h1.6M596.4 480.0h1.2M615.6 385.1h0.9M594.3 512.5h2.3M590.9 431.0h1.4M591.0 418.1h0.8M590.5 485.3h1.5M598.9 419.4h2.0M587.9 485.5h1.5M596.4 376.1h1.0M617.5 401.4h1.9M604.2 486.6h2.5M607.5 384.9h1.0M585.1 525.3h1.1M595.3 525.9h2.0M596.4 462.7h0.9M604.1 548.9h2.4M600.9 446.7h2.4M603.8 422.8h1.7M593.2 503.5h1.2M597.6 545.9h1.3M590.6 370.6h1.9M591.3 438.8h1.5M596.4 475.0h2.5M601.3 473.6h1.5M603.6 555.8h1.3M594.2 471.6h1.3M604.2 456.9h1.3M602.5 546.8h1.8M598.1 427.4h0.9M597.1 513.6h2.5M595.2 386.9h1.5M584.6 468.2h2.5M585.5 527.1h2.5M596.1 526.4h2.1M593.8 515.9h1.0M591.8 559.9h2.5M596.4 540.3h1.8M613.4 386.5h1.6M601.1 363.8h2.5M602.3 378.7h2.0M597.6 558.4h1.0M598.6 361.0h1.1M601.9 440.1h1.0M605.5 363.7h2.3M597.3 365.7h1.2M583.5 471.5h0.8M614.7 384.5h2.2M588.0 478.5h1.8M605.6 444.8h2.1M587.0 501.0h1.0M613.5 377.3h1.0M584.2 444.7h0.9M609.6 386.8h2.4M595.9 411.6h2.2M590.9 526.4h1.5M603.5 490.7h1.4M589.3 497.2h2.0M599.6 454.1h1.3M597.1 506.0h0.9M622.0 364.5h0.8M588.4 519.3h1.6M590.1 383.7h1.0M586.9 539.0h2.5M608.8 419.5h1.0M589.1 459.0h2.5M595.6 497.4h0.9M601.9 382.0h1.5M592.8 559.1h2.0M601.3 491.4h1.2M587.8 534.4h1.4M596.7 419.2h1.5M605.2 452.0h1.7M599.4 425.1h1.0M588.6 501.3h1.1M601.3 376.5h1.1M600.8 490.5h2.6M613.4 383.1h1.3M585.3 485.1h1.3M590.1 508.7h1.0M597.6 542.6h2.5M594.4 556.3h2.5M597.6 382.1h1.4M592.3 370.6h0.9M602.6 546.0h1.4M583.7 457.2h1.4M601.0 433.4h2.0M608.7 382.2h1.9M600.5 550.4h0.9M594.5 370.3h2.3M591.2 371.9h1.1M599.7 547.9h1.9M587.4 449.1h2.2M590.8 549.1h1.9M602.4 389.8h1.4M593.8 497.5h2.6M583.5 477.2h2.6M612.6 389.4h2.4M588.1 414.1h1.0M590.8 379.1h2.3M599.4 425.9h1.6M590.6 493.1h2.1M610.1 379.7h2.0M602.2 470.0h0.9M592.4 415.5h1.8M588.4 457.6h2.4M600.5 510.1h2.4M621.5 392.4h1.3M600.8 479.3h1.4M586.5 462.8h1.4M600.4 527.2h1.1M583.6 463.5h0.9M602.3 395.8h1.5M596.0 504.4h2.4M607.9 366.2h1.3M600.3 448.3h2.4M606.8 395.2h1.4M593.6 445.6h2.4M595.2 447.6h1.5M600.7 540.9h1.8M585.6 488.1h2.0M596.0 460.6h1.9M592.4 386.2h1.4M601.6 458.4h2.2M593.5 551.8h2.1M592.6 367.9h1.1M598.6 434.1h2.1M607.0 360.3h1.7M605.0 380.8h1.0M589.8 396.1h1.1M614.3 387.4h2.5M600.9 517.0h1.9M592.8 458.5h1.3M610.6 410.5h1.7M592.5 417.2h1.0M587.7 487.3h1.3M586.2 423.5h1.8M586.8 508.2h2.0M595.7 523.1h0.9M595.0 456.9h2.4M611.5 412.6h2.0M603.0 398.4h2.6M601.5 434.2h1.6M612.5 365.9h2.5M591.4 434.1h1.3M590.6 552.2h0.9M601.7 380.6h0.9M613.1 401.5h2.4M598.7 472.0h1.7M619.3 394.6h0.9M594.2 486.8h1.9M603.8 408.3h1.4M587.1 508.6h1.5M588.2 494.2h1.6M603.2 546.6h1.5M591.0 456.8h1.1M597.7 392.0h1.0M603.7 441.9h1.4M609.9 378.1h1.9M604.5 466.1h2.4M598.5 534.4h1.5M607.3 375.1h1.8M603.2 427.4h1.3M597.1 367.8h2.6M588.5 456.8h1.8M598.3 363.1h2.1M589.4 503.2h2.5M587.3 527.4h1.8M596.2 504.0h2.1M595.6 524.2h2.4M601.2 546.1h1.9M609.5 369.2h2.5M591.6 555.8h1.2M592.7 509.5h1.1M593.9 378.0h2.4M607.2 410.5h0.9M617.1 400.8h2.4M584.9 436.2h2.1M620.2 385.2h1.4M595.3 494.1h2.4M585.6 426.7h2.4M620.4 391.7h1.6M598.0 406.8h1.2M615.9 395.2h1.9M619.2 391.4h0.8M594.1 560.0h1.4M612.9 386.1h1.4M599.1 512.0h1.3M604.0 473.7h1.9M613.0 395.7h1.7" stroke="#9dc5dc" stroke-width="0.8" opacity="0.6"/><path d="M621.7 428.8h2.1M581.9 379.9h2.2M567.1 459.2h2.5M572.6 465.4h2.4M622.0 473.8h2.5M614.4 422.1h1.7M622.4 534.7h0.8M623.3 417.2h1.3M612.3 539.0h1.4M607.1 441.3h0.9M630.7 380.8h1.7M578.1 523.4h1.4M589.1 368.7h0.8M601.6 563.9h1.7M625.0 361.4h1.6M576.0 518.1h2.1M575.9 516.9h1.7M579.0 522.1h1.4M582.8 368.0h1.8M582.4 475.8h1.9M583.3 488.4h2.2M582.2 407.2h1.6M581.8 467.9h1.6M567.6 427.8h1.0M584.6 540.1h0.9M615.2 420.2h2.1M587.9 406.0h1.1M565.0 478.0h1.1M574.2 463.4h1.5M577.0 501.2h2.0M619.8 437.2h1.6M577.5 421.0h0.8M573.5 372.2h1.9M623.7 409.3h2.1M580.3 465.0h0.9M564.5 428.7h2.4M586.5 542.5h1.3M574.1 393.8h1.9M611.4 488.5h1.9M571.9 506.0h1.6M628.7 382.4h1.6M623.9 486.6h1.4M571.9 385.8h2.5M626.6 373.8h1.9M614.1 495.2h1.6M574.7 456.6h2.3M581.9 442.3h2.6M583.5 488.3h2.3M582.2 393.8h0.9M608.3 427.7h0.9M607.9 558.2h1.7M580.0 427.2h1.1M618.3 439.7h1.7M586.8 377.7h1.0M610.0 480.1h1.5M580.6 402.8h1.3M570.1 397.5h1.9M589.9 381.4h1.3M581.1 451.0h1.5M581.2 475.2h1.1M605.6 450.1h2.3M611.4 524.1h2.0M605.0 498.7h1.6M582.2 447.0h2.2M586.2 377.9h1.3M620.5 446.3h1.7M613.9 521.5h1.0M585.8 366.4h1.2M586.7 549.7h1.7M578.5 543.7h1.4M569.4 457.6h1.0M561.7 453.4h2.0M630.4 404.3h2.5M623.2 486.0h1.0M604.7 485.5h1.3M574.0 433.6h1.5M615.8 474.0h1.7M618.6 402.5h1.0M612.2 497.0h2.1M619.3 524.7h1.9M576.4 431.1h2.5M574.0 381.7h1.0M558.8 444.9h1.6M583.4 368.0h2.2M613.8 424.2h2.2M582.2 497.4h1.5M576.6 400.6h2.4M576.2 450.7h2.4M570.9 429.7h1.5M628.1 470.1h1.9M574.7 472.9h1.7M621.7 450.1h1.1M561.3 519.9h2.1M627.8 463.3h1.5M615.2 529.4h1.5M592.2 564.9h1.0M578.3 370.3h1.4M621.7 419.3h2.2M588.8 364.2h0.9M573.0 538.1h1.8M580.0 450.5h1.2M613.5 432.5h1.4M582.0 457.1h1.0M623.2 421.4h1.4M577.3 465.0h1.0M612.4 523.2h2.5M607.0 461.9h1.4M609.7 483.2h2.6M572.3 508.9h1.7M573.9 394.3h1.1M570.6 405.1h1.8M581.7 381.8h2.1M578.3 512.3h0.8M575.2 482.9h1.0M616.2 424.6h2.0M574.6 534.3h2.5M610.3 448.4h1.5M581.3 379.8h1.9M633.3 408.7h0.9M634.3 375.0h2.0M612.2 432.4h1.2M575.8 512.6h1.2M618.8 442.8h2.6M617.6 473.7h1.7M583.5 539.0h1.6M608.8 528.6h1.4M585.9 541.9h0.8M617.6 509.0h1.2M584.1 547.4h2.5M584.6 412.4h1.1M566.1 472.4h2.5M582.5 398.6h0.9M568.7 530.1h2.3M616.4 491.6h1.2M573.2 390.4h1.4M561.2 485.0h2.4M625.1 385.5h2.4M626.9 412.5h2.1M569.0 435.9h1.2M622.9 466.0h1.0M579.0 525.6h2.5M563.1 459.6h1.0M605.0 534.3h1.0M608.1 531.6h2.2M582.8 442.1h2.6M582.2 445.5h0.9M616.0 518.3h0.9M576.2 422.4h1.5M606.3 498.8h2.0M568.3 484.9h1.3M573.9 411.1h1.3M576.6 397.6h2.2M579.0 447.0h1.5M634.3 377.9h1.8M616.0 514.4h1.3M587.1 367.7h0.9M564.2 481.0h2.4M580.2 465.7h2.6M564.4 491.6h1.3M612.9 508.1h0.9M605.1 459.4h2.2M614.7 437.7h1.4M631.4 372.7h1.8M585.1 542.9h2.0M575.4 424.5h1.7M585.2 391.0h1.8M616.2 458.5h2.4M618.6 426.5h1.6M585.9 395.5h1.2M581.4 549.0h1.9M569.8 414.1h2.2M570.7 441.9h2.1M578.2 474.4h1.6M578.3 520.4h1.5M619.4 411.4h1.5M627.3 435.0h1.1M609.1 505.8h1.3M580.7 495.7h1.1M611.8 514.6h0.9M607.7 510.4h1.0M583.5 424.5h1.1M610.7 506.5h1.2M581.5 462.4h1.9M607.4 431.1h1.5M608.3 486.3h2.3M606.5 517.4h1.3M569.6 470.4h2.0M631.3 398.3h2.1M601.2 564.2h1.7M584.9 409.9h2.2M582.6 406.0h2.2M587.3 560.2h1.8M573.7 460.9h1.7M582.0 420.5h1.4M612.2 517.6h1.5M566.6 442.6h1.6M581.0 502.6h1.8M609.7 455.0h2.0M619.3 506.8h1.8M612.1 514.2h2.4M630.0 417.9h2.6M576.8 485.5h1.7M583.5 441.6h1.2M624.9 385.2h1.1M631.6 385.4h2.4M612.8 425.5h2.2M625.1 435.2h1.6M616.5 433.2h1.1M582.1 497.3h0.8M586.3 417.3h1.7M587.6 376.7h1.9M580.4 510.5h2.5M581.6 458.9h1.9M562.9 503.5h1.4M626.6 515.0h1.1M589.4 392.5h2.1M571.0 492.8h2.6M586.1 366.9h2.3M575.1 525.8h2.6M579.1 535.9h1.6M612.4 541.8h2.0M582.0 439.2h1.9M574.1 452.9h1.7M572.8 421.4h1.3M610.7 440.1h2.1M619.1 521.2h1.1M608.8 511.9h1.2M608.4 546.7h2.0M582.5 529.1h1.1M562.7 408.6h1.8M573.6 539.2h1.0M575.5 512.0h1.2M622.9 488.0h1.5M610.0 436.8h2.5M560.8 514.0h1.9M584.1 420.4h1.3M569.6 471.2h2.5M617.4 520.6h2.3M577.0 459.3h2.2M560.6 402.3h0.8M573.2 513.2h0.9M575.8 449.9h2.1M582.9 453.4h1.7M582.9 447.3h1.1M627.0 367.8h1.3M574.4 389.3h2.2M583.2 427.6h2.2M567.0 403.2h1.7M610.8 532.4h2.4M616.6 409.7h1.0M573.8 444.5h2.3M628.5 449.7h2.0M578.0 395.5h1.5M633.5 401.5h2.0M580.2 436.7h2.2M587.8 398.6h2.1M620.3 461.7h1.7M629.3 383.9h2.5M622.4 448.8h2.1M616.4 466.8h1.2M614.5 517.4h2.5M610.3 449.1h1.4M605.6 499.3h2.3M563.0 507.1h1.7M581.4 511.4h2.1M582.1 552.6h1.9M577.1 439.3h2.0M608.8 472.1h1.6M579.4 412.0h2.4M581.0 426.1h2.0M626.9 438.0h2.0M606.1 537.5h2.3M585.7 392.0h2.0M560.0 472.7h1.1M626.0 373.1h1.7M627.6 413.6h2.2M633.7 398.1h1.0M573.2 513.5h1.8M618.6 405.2h0.9M564.3 525.1h2.0M612.5 483.9h1.3M564.2 530.6h1.5M574.8 525.0h2.1M626.6 401.3h1.5M559.9 487.5h1.6M605.3 555.4h1.0M578.1 440.1h2.4M628.8 417.5h1.7M581.0 367.5h1.5M581.7 509.4h1.7M578.1 400.3h2.2M582.3 477.2h1.3M627.1 370.4h0.9M610.2 466.1h1.0M579.2 389.6h2.6M610.1 461.3h1.9M610.2 538.6h1.6M583.6 490.8h2.6M605.0 503.4h0.8M571.0 509.3h2.4M614.1 527.5h2.4M586.0 392.6h1.9M616.5 490.8h1.5M636.0 463.0h2.0M559.3 365.5h1.4M578.6 486.9h2.3M615.6 452.4h1.9M561.2 475.9h1.0M575.0 449.5h1.2M620.4 481.7h1.9M617.5 458.5h1.7M584.4 389.1h1.3M607.5 440.6h1.2M577.4 470.7h1.8M569.8 480.0h2.6M618.9 421.4h0.9M614.1 426.5h2.3M610.4 532.7h2.6M625.1 449.8h1.0M586.0 421.5h1.6M577.7 452.0h2.6M585.7 537.4h2.1M618.3 502.8h1.6M630.0 418.6h1.0M572.1 504.1h1.9M576.8 393.7h1.4M579.6 447.6h2.1M569.4 458.4h1.8M626.6 407.2h1.0M614.1 436.2h0.8M585.4 534.1h1.3M610.9 475.1h1.6M572.4 494.3h1.9M582.0 486.1h0.9M582.6 458.3h1.1M634.5 398.9h1.0M567.9 370.7h1.4M623.0 479.4h0.8M607.3 438.9h1.6M580.3 419.5h0.9M632.7 391.8h2.5M615.7 510.0h1.5M606.8 452.1h1.2M585.8 554.3h1.7M572.9 438.2h1.3M576.4 504.9h1.1M571.7 506.6h0.9M617.4 541.4h1.3M581.6 370.6h2.0M613.3 547.3h2.0M583.7 413.8h1.0M587.9 383.1h1.1M611.5 541.9h1.5M570.9 438.3h1.2M631.3 380.4h2.4M582.0 383.1h1.3M589.3 561.0h1.0M607.7 435.1h0.8M620.2 522.1h0.9M628.6 397.8h0.9M629.8 362.2h1.5M617.0 417.8h2.2M609.2 532.6h1.7M567.0 486.4h1.3M606.4 471.2h2.4M572.8 486.6h1.5M576.3 513.1h2.6M612.9 509.4h1.8M616.8 413.4h2.1M575.8 419.2h1.0M616.9 482.6h1.0M582.7 379.2h1.8M630.7 362.2h1.0M585.8 420.4h2.5M579.1 420.6h1.3M568.8 460.7h2.2M581.5 511.5h1.2M606.2 547.1h2.0M579.9 526.3h1.0M605.0 474.6h1.8M574.6 530.7h2.5M579.9 479.5h2.5M583.0 415.8h1.9M607.3 444.7h2.5M578.4 365.1h1.0M576.2 537.1h2.1M612.7 529.5h1.6M581.6 487.5h1.4M583.9 529.3h2.3M580.1 482.6h2.4M582.0 369.6h0.9M566.0 431.5h1.7M572.1 495.8h1.9M588.5 373.9h0.8M582.9 515.1h1.1M605.8 501.7h1.5M626.9 375.1h1.8M584.4 401.3h2.1M583.3 441.3h2.1M608.8 444.9h1.9M636.3 365.3h2.5M577.4 435.1h2.2M569.9 540.2h1.3M582.2 479.4h1.1M585.0 421.2h1.3M610.3 424.7h1.2M608.5 462.0h1.8M588.3 401.1h1.3M630.5 466.3h2.0M608.4 475.7h1.6M579.8 412.2h1.8M570.6 456.1h1.3M615.9 472.7h0.8M580.6 475.9h2.4M625.0 404.7h2.2M607.1 464.4h1.0M573.3 449.2h2.3M611.8 554.9h2.1M576.6 517.3h2.3M612.3 436.6h1.7M628.2 415.9h2.2M636.9 413.3h0.9M577.6 443.8h2.5M579.0 507.7h0.9M577.1 542.2h2.5M565.8 411.0h0.9M613.5 415.8h1.1M623.1 407.4h1.4M622.5 401.7h1.2M581.3 441.3h1.1M572.6 447.9h1.5M563.2 418.6h1.6M605.0 509.8h2.6M568.1 363.9h1.5M582.9 498.2h1.0M580.4 412.7h1.6M569.0 471.0h1.3M604.8 516.2h1.2M614.3 545.2h2.4M612.8 441.1h2.4M565.4 525.0h2.0M605.4 478.3h2.5M562.7 384.5h1.5M621.7 512.4h2.2M606.9 544.4h1.2M581.3 509.0h0.9M609.6 426.6h2.2M587.2 363.0h1.5M575.0 492.5h1.0M571.8 497.9h2.5M577.8 473.2h1.6M566.4 395.2h2.6M576.5 521.0h2.4M584.5 432.2h2.1M625.7 376.2h1.5M624.7 405.6h1.8M560.7 384.6h1.8M583.1 525.2h0.8M615.5 544.8h0.8M577.9 543.4h1.7M610.6 423.3h2.0M635.0 408.3h1.7M580.3 514.6h1.0M605.6 498.2h2.2M609.5 516.5h2.3M576.0 449.9h2.5M582.4 539.4h1.9M608.3 465.5h0.9M575.5 420.6h2.2M588.2 405.0h1.9M609.1 548.6h1.9M610.4 491.0h2.5M606.0 530.0h1.9M576.7 388.2h0.9M624.8 533.5h1.1M567.7 432.5h1.3M625.2 407.7h1.5M560.6 492.4h1.9M609.3 518.8h1.7M607.7 548.9h0.8M623.3 437.3h1.2M571.2 544.6h2.1M619.1 413.0h2.5M580.3 492.8h1.3M568.9 460.4h1.3M609.4 445.3h1.7M606.4 484.9h1.7M620.5 402.5h1.4M615.0 485.6h1.9M627.8 381.9h2.6M608.4 526.6h1.3M626.1 426.3h2.6M608.8 546.3h2.1M560.3 526.8h2.5M621.6 412.2h2.5M578.5 507.1h1.3M578.2 370.8h1.4M578.1 473.6h1.8M620.0 465.3h1.2M577.8 468.2h2.2M636.2 457.7h1.2M571.3 468.1h1.3M604.5 512.7h2.4M571.4 414.1h1.6M564.3 385.7h2.6M623.8 431.9h1.5M581.6 470.3h2.4M580.7 396.4h1.7M606.4 446.9h1.2M571.9 486.7h0.9M589.1 394.9h1.6M615.5 425.2h1.8M581.7 458.6h2.3M582.7 487.9h2.1M634.6 369.6h1.5M578.9 480.9h0.8M583.8 443.8h1.7M576.4 439.2h1.0M605.7 454.0h1.3M631.2 368.7h2.3M579.7 531.1h1.8M618.4 423.7h1.9M626.0 363.8h1.7M577.6 365.4h2.3M562.1 384.5h2.1M581.8 544.2h0.9M562.9 400.9h2.0M584.2 533.9h1.0M608.2 506.3h1.6M573.6 471.8h1.1M579.4 484.5h1.2M578.9 504.5h1.6M582.4 428.7h1.9M611.7 444.5h2.6M612.3 500.6h1.6M629.5 520.7h2.2M575.5 495.7h2.6M614.2 541.4h1.8M611.3 500.3h1.5M632.5 406.8h2.4M613.9 553.9h2.0M572.1 406.2h2.2M581.6 366.9h2.5M582.4 497.7h1.0M617.5 537.2h2.3M578.2 410.9h1.8M612.9 489.7h1.5M633.8 431.5h1.2M575.0 467.1h1.5M617.3 443.0h2.4M563.8 416.2h2.4M578.8 434.5h1.9M616.0 420.6h1.8M620.2 467.8h2.0M623.8 432.4h2.5M584.3 521.4h1.5M636.6 366.6h1.0M622.0 410.1h2.2M571.8 530.4h2.4M615.3 507.6h1.3M626.2 465.3h2.4M583.0 472.8h2.1M573.3 443.6h1.4M574.0 458.5h1.4M586.0 372.4h2.3M624.4 472.4h1.9M579.2 532.3h2.1M580.1 546.2h0.9M622.2 461.5h1.3M566.4 406.6h1.0M622.3 503.4h2.2M580.6 502.2h2.0M609.0 541.6h1.8M574.4 537.2h1.4M580.5 479.3h1.4M612.8 509.2h1.4M630.1 411.8h2.2M563.9 370.8h2.1M614.1 437.8h1.5M585.7 372.3h1.4M585.6 423.6h1.0M610.5 531.0h1.3M604.2 566.6h2.4M558.4 363.6h1.5M610.2 514.3h1.4M572.4 468.6h1.8M573.5 400.9h1.2M578.5 447.6h2.3M586.9 399.4h2.3M569.1 456.0h1.9M570.7 512.1h1.8M608.3 552.3h2.3M574.6 509.6h0.9M571.3 494.2h1.9M635.9 381.6h1.6M611.8 456.3h0.9M605.9 453.6h2.2M626.3 462.3h1.9M580.1 474.4h1.5M605.8 519.7h1.6M618.8 475.0h1.8M575.2 489.5h1.5M575.1 413.4h1.6M583.8 426.4h1.8M587.8 395.1h2.5M564.0 405.0h2.0M605.2 538.5h1.9M616.0 477.8h2.1M613.1 517.4h1.0M609.8 501.4h1.0M570.0 455.5h1.3M570.3 449.8h1.0M624.6 492.9h0.9M629.1 382.9h1.7M580.1 518.6h2.3M608.4 464.1h2.2M588.6 558.9h1.3M591.6 564.5h2.6M576.5 440.0h2.5M574.0 485.6h1.8M582.5 477.3h1.9M624.0 444.5h1.0M604.6 512.9h2.5M568.6 519.2h2.3M613.2 427.0h1.4M624.7 418.6h1.9M576.0 544.6h1.7M571.5 520.7h1.1M590.0 368.2h0.8M628.5 386.9h1.7M585.5 537.7h1.5M577.4 473.3h2.1M604.2 503.0h2.5M609.8 423.7h0.9M616.0 537.0h1.6M635.1 435.6h1.0M577.5 375.2h2.0M579.1 483.1h2.1M566.0 461.7h2.2M616.1 427.6h2.5M580.9 500.6h0.8M613.8 462.6h1.9M609.9 454.1h0.9M582.1 493.4h2.3M611.9 538.0h0.8M585.3 390.2h2.5M628.8 444.7h0.9M625.6 520.1h1.7M630.2 403.8h1.3M611.8 506.3h1.1M609.7 481.8h1.1M610.8 474.6h1.8M570.2 457.9h1.9M581.5 514.3h1.7M562.2 473.5h1.9M583.9 508.7h1.5M607.8 502.6h1.3M570.4 471.1h1.0M563.8 512.1h1.2M571.0 483.6h2.0M621.6 445.7h1.5M562.9 402.2h1.7M618.1 434.2h2.3M587.0 383.7h1.5M606.6 526.0h1.2M578.1 361.3h1.4M580.6 469.8h2.5M573.4 492.8h1.8M615.0 533.6h2.2M608.8 433.7h1.5M627.9 423.3h1.4M577.7 479.3h1.6M625.7 431.0h2.5M622.0 394.3h2.4M608.5 457.0h2.2M610.4 448.3h1.9M563.0 432.4h0.9M605.7 463.7h1.7M619.9 487.6h1.4M575.4 473.3h2.4M579.5 519.2h2.3M614.4 541.3h2.0M616.4 505.3h2.4M617.0 413.2h1.4M614.1 438.1h1.3M559.3 379.3h2.3M618.6 515.0h1.5M629.1 405.8h1.7M584.7 361.1h2.2M608.4 474.3h2.6M615.3 438.3h1.9M576.0 455.8h1.4M568.9 433.0h1.2M571.2 519.1h1.9M580.0 533.0h1.6M608.1 537.4h2.1M569.8 426.7h2.2M577.8 515.8h2.1M582.3 386.1h2.4M566.7 404.2h2.4M574.0 471.0h2.0M589.3 375.7h1.4M580.3 545.4h2.1M627.0 510.2h1.8M614.1 493.8h2.2M612.8 464.4h1.9M572.1 534.8h2.0M611.7 420.5h1.1M628.4 386.2h2.1M608.9 505.8h2.3M572.6 412.7h1.4M584.2 522.5h2.2M580.3 504.5h2.3M618.7 471.0h1.8M628.5 464.3h1.6M609.1 500.3h2.1M613.9 481.6h0.8M627.2 366.2h1.7M572.4 426.4h1.4M630.9 436.4h2.1M635.5 400.7h2.2M571.1 482.9h1.9M575.4 485.4h2.6M610.5 433.3h1.9M568.6 478.9h1.4M619.6 515.1h2.5M567.4 417.9h0.8M577.3 389.9h0.9M606.5 549.6h2.4M573.4 449.8h1.0M582.3 451.7h2.5M606.2 555.0h1.7M575.7 502.0h0.9M632.9 387.4h2.6M560.2 485.8h1.2M609.0 479.9h1.0M576.5 419.6h0.9M558.3 511.5h2.5M613.8 433.6h2.0M580.0 459.8h1.2M613.8 455.9h2.6M610.1 493.8h1.3M615.2 492.1h1.0M565.0 488.3h1.9M607.1 498.5h2.2M621.8 450.0h2.2M580.6 524.3h1.4M570.8 439.9h1.5M614.4 414.2h2.1M569.6 469.5h0.9M612.4 514.1h1.4M629.8 369.0h1.1M584.4 553.5h1.3" stroke="#b5d6e7" stroke-width="0.8" opacity="0.6"/></g>
<path d="M592.3 330.7V577.5" stroke="#666" stroke-width="0.8" stroke-dasharray="3 1.6"/>
<path d="M599 363L606.7 371.9L607 379.9L611.5 387.9L607 396.8L601.7 411.9L596 420.8L598.1 428.8L591.9 438.5L590.1 445.7L592.8 454.5L593.1 465L591.9 477.5L594.6 484.6L596 500.6L593.7 511.3L591.9 519.3L594.6 529L597.2 536.2L592.8 543.3L603.5 552.2L599.4 561.1" fill="none" stroke="#111" stroke-width="1.5" stroke-linejoin="round"/>
<path d="M557.9 577.7H638.1V329.5" fill="none" stroke="#666" stroke-width="1"/>
<path d="M638.1 577.5h-2.9M638.1 561.1h-2.9M638.1 544.7h-2.9M638.1 528.3h-2.9M638.1 511.9h-2.9M638.1 495.5h-2.9M638.1 479.1h-2.9M638.1 462.7h-2.9M638.1 446.3h-2.9M638.1 429.9h-2.9M638.1 413.5h-2.9M638.1 397.1h-2.9M638.1 380.7h-2.9M638.1 364.3h-2.9M638.1 347.9h-2.9M638.1 331.5h-2.9M569.3 577.7v3M592.3 577.7v3M615.3 577.7v3" stroke="#666" stroke-width="0.9"/>
<text x="641.6" y="384.8" class="sp">60°N</text>
<text x="641.6" y="434" class="sp">30°N</text>
<text x="641.6" y="483.2" class="sp">0°</text>
<text x="641.6" y="532.4" class="sp">30°S</text>
<text x="641.6" y="581.6" class="sp">60°S</text>
<text x="569.3" y="593" text-anchor="middle" class="sp">−0.1</text>
<text x="592.3" y="593" text-anchor="middle" class="sp">0.0</text>
<text x="615.3" y="593" text-anchor="middle" class="sp">0.1</text>
<text transform="translate(683.3 455.5) rotate(-90)" text-anchor="middle" class="lat">Latitude</text>
</svg></body></html>
